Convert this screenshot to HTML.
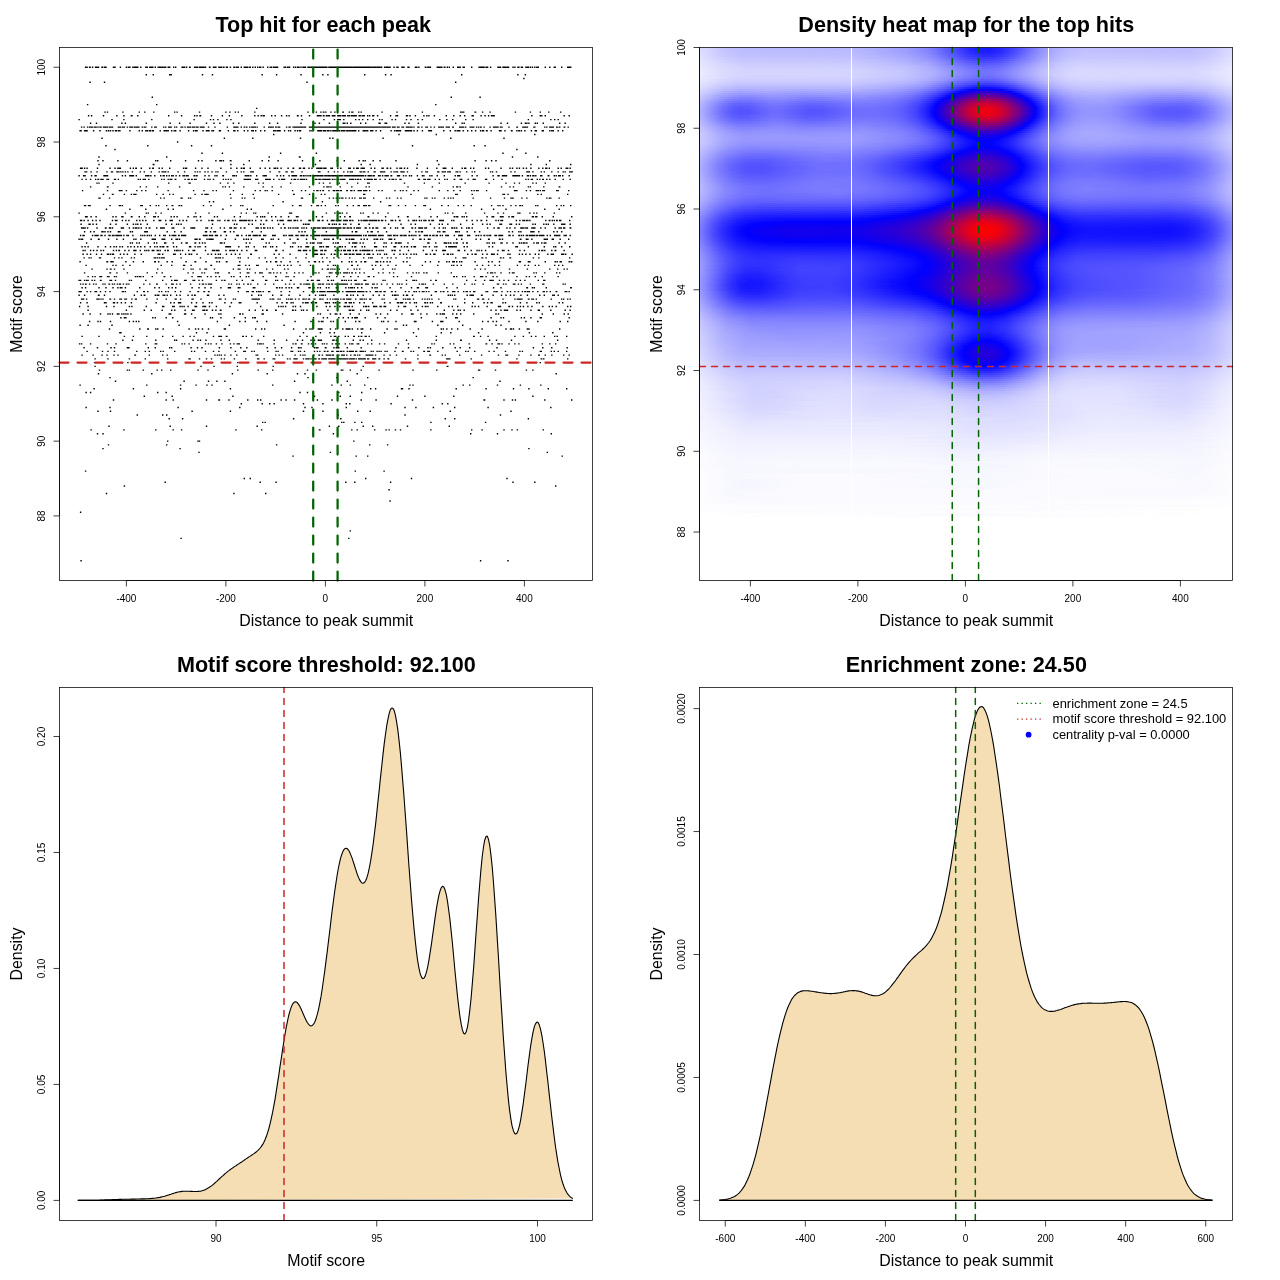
<!DOCTYPE html>
<html><head><meta charset="utf-8"><title>Motif enrichment</title><style>html,body{margin:0;padding:0;background:#fff}svg{display:block}</style></head><body><svg width="1280" height="1280" viewBox="0 0 1280 1280" font-family="'Liberation Sans', Arial, Helvetica, sans-serif" fill="#000"><rect width="1280" height="1280" fill="#fff"/><path d="M84.9 67.2h1.4m0.1 0h1.4m1.1 0h1.4m-0.9 0h1.4m1.1 0h1.4m1.6 0h1.4m-0.5 0h1.4m0.1 0h1.4m-0.9 0h1.4m2.1 0h1.4m-0.9 0h1.4m0.6 0h1.4m-0.9 0h1.4m-0.4 0h1.4m6.1 0h1.4m0.1 0h1.4m4 0h1.4m4.6 0h1.4m0.6 0h1.4m0.1 0h1.4m1.6 0h1.4m0.1 0h1.4m-0.9 0h1.4m-0.9 0h1.4m-0 0h1.4m-0.4 0h1.4m1.6 0h1.4m3.6 0h1.4m0.1 0h1.4m1.1 0h1.4m-0.4 0h1.4m-0.9 0h1.4m-0.4 0h1.4m-0.9 0h1.4m1.1 0h1.4m1.5 0h1.4m0.1 0h1.4m-0.9 0h1.4m-0.4 0h1.4m0.1 0h1.4m0.1 0h1.4m0.1 0h1.4m1.1 0h1.4m-0.4 0h1.4m-0.9 0h1.4m2.6 0h1.4m0.6 0h1.4m5 0h1.4m-0.4 0h1.4m-0.9 0h1.4m-0.4 0h1.4m0.6 0h1.4m1.6 0h1.4m-0.9 0h1.4m3.1 0h1.4m0.1 0h1.4m-0 0h1.4m0.6 0h1.4m-0.4 0h1.4m-0.9 0h1.4m-0.9 0h1.4m-0.4 0h1.4m-0.9 0h1.4m-0.4 0h1.4m0.1 0h1.4m2.6 0h1.4m-0.9 0h1.4m2.1 0h1.4m0.1 0h1.4m-0.5 0h1.4m1.6 0h1.4m-0.9 0h1.4m0.1 0h1.4m-0.9 0h1.4m0.6 0h1.4m-0.9 0h1.4m1.1 0h1.4m-0.9 0h1.4m-0.9 0h1.4m1.6 0h1.4m2.1 0h1.4m-0.9 0h1.4m0.5 0h1.4m0.1 0h1.4m-0.9 0h1.4m1.6 0h1.4m1.6 0h1.4m-0.9 0h1.4m-0.9 0h1.4m-0.4 0h1.4m-0.9 0h1.4m-0.4 0h1.4m0.6 0h1.4m-0.9 0h1.4m1.1 0h1.4m1.1 0h1.4m1 0h1.4m0.6 0h1.4m-0.9 0h1.4m-0.9 0h1.4m1.1 0h1.4m3.1 0h1.4m1.1 0h1.4m0.1 0h1.4m0.6 0h1.4m-0.9 0h1.4m0.1 0h1.4m-0.5 0h1.4m-0.4 0h1.4m5.1 0h1.4m0.1 0h1.4m0.6 0h1.4m-0.9 0h1.4m0.1 0h1.4m2.6 0h1.4m0.5 0h1.4m0.6 0h1.4m-0.9 0h1.4m-0.4 0h1.4m0.6 0h1.4m0.6 0h1.4m-0.9 0h1.4m-0.9 0h1.4m-0.9 0h1.4m-0.4 0h1.4m1.1 0h1.4m-0.9 0h1.4m-0.9 0h1.4m-0.9 0h1.4m0.1 0h1.4m-0.9 0h1.4m-0.4 0h1.4m0.1 0h1.4m-0.4 0h1.4m-0.5 0h1.4m-0.4 0h1.4m-0.4 0h1.4m-0.9 0h1.4m-0.9 0h1.4m-0.9 0h1.4m-0.9 0h1.4m-0.9 0h1.4m-0.9 0h1.4m-0.9 0h1.4m-0.9 0h1.4m-0.9 0h1.4m-0.4 0h1.4m-0.9 0h1.4m-0.9 0h1.4m-0.9 0h1.4m-0.9 0h1.4m-0.9 0h1.4m-0.9 0h1.4m-0.9 0h1.4m0.6 0h1.4m-0.9 0h1.4m-0.9 0h1.4m-0.9 0h1.4m-0.9 0h1.4m-0.4 0h1.4m-0.9 0h1.4m-0.4 0h1.4m-0.4 0h1.4m-0.9 0h1.4m-1 0h1.4m-0.9 0h1.4m-0.9 0h1.4m-0.9 0h1.4m-0.9 0h1.4m-0.9 0h1.4m-0.9 0h1.4m-0.9 0h1.4m-0.9 0h1.4m-0.9 0h1.4m-0.4 0h1.4m-0.9 0h1.4m-0.4 0h1.4m-0.9 0h1.4m-0.9 0h1.4m-0.9 0h1.4m-0.9 0h1.4m-0.4 0h1.4m-0.9 0h1.4m-0.9 0h1.4m-0.9 0h1.4m-0.9 0h1.4m-0.9 0h1.4m-0.9 0h1.4m-0.9 0h1.4m-0.9 0h1.4m-0.9 0h1.4m-0.4 0h1.4m-0.9 0h1.4m0.1 0h1.4m-0.9 0h1.4m-0.9 0h1.4m-0.4 0h1.4m-0.9 0h1.4m-1 0h1.4m-0.9 0h1.4m-0.4 0h1.4m-0.9 0h1.4m-0.4 0h1.4m-0.9 0h1.4m-0.4 0h1.4m-0.9 0h1.4m-0.9 0h1.4m-0.9 0h1.4m-0.9 0h1.4m-0.9 0h1.4m-0.9 0h1.4m-0.9 0h1.4m-0.9 0h1.4m-0.9 0h1.4m-0.9 0h1.4m-0.9 0h1.4m-0.9 0h1.4m-0.9 0h1.4m-0.4 0h1.4m-0.4 0h1.4m-0.4 0h1.4m-0.4 0h1.4m0.1 0h1.4m-0.9 0h1.4m0.1 0h1.4m-0.9 0h1.4m-1 0h1.4m-0.4 0h1.4m0.1 0h1.4m-0.9 0h1.4m-0.4 0h1.4m-0.9 0h1.4m-0.9 0h1.4m0.1 0h1.4m1.6 0h1.4m0.1 0h1.4m-0.9 0h1.4m-0.9 0h1.4m-0.9 0h1.4m-0.4 0h1.4m0.1 0h1.4m2.6 0h1.4m1.5 0h1.4m-0.4 0h1.4m2.6 0h1.4m-0.9 0h1.4m0.1 0h1.4m2.6 0h1.4m-0.9 0h1.4m-0.9 0h1.4m5 0h1.4m-0.4 0h1.4m-0.9 0h1.4m0.6 0h1.4m5.1 0h1.4m-0.9 0h1.4m0.6 0h1.4m-0.9 0h1.4m-0.9 0h1.4m0.1 0h1.4m5.5 0h1.4m-0.4 0h1.4m-0.4 0h1.4m0.1 0h1.4m-0.4 0h1.4m1.1 0h1.4m-0.9 0h1.4m1.1 0h1.4m0.6 0h1.4m2.6 0h1.4m3 0h1.4m-0.9 0h1.4m-0.9 0h1.4m0.1 0h1.4m1.6 0h1.4m-0.4 0h1.4m6.1 0h1.4m6 0h1.4m0.1 0h1.4m-0.9 0h1.4m-0.4 0h1.4m-0.4 0h1.4m-0.4 0h1.4m0.6 0h1.4m-0.9 0h1.4m-0.4 0h1.4m1.6 0h1.4m6 0h1.4m-0.4 0h1.4m0.1 0h1.4m1.1 0h1.4m-0.4 0h1.4m-0.4 0h1.4m-0.4 0h1.4m0.1 0h1.4m-0.4 0h1.4m3.1 0h1.4m0.5 0h1.4m1.6 0h1.4m-0.4 0h1.4m1.1 0h1.4m-0.4 0h1.4m2.1 0h1.4m0.1 0h1.4m-0.4 0h1.4m0.6 0h1.4m0.6 0h1.4m1 0h1.4m0.6 0h1.4m0.1 0h1.4m5.6 0h1.4m3.1 0h1.4m3.1 0h1.4m-0.5 0h1.4m5.1 0h1.4m4.6 0h1.4m-0.9 0h1.4m-0.4 0h1.4m-0.9 0h1.4m-0.4 0h1.4M145.6 74.7h1.4m5.6 0h1.4m15 0h1.4m0.1 0h1.4m29.9 0h1.4m8.6 0h1.4m48.3 0h1.4m13 0h1.4m23 0h1.4m20.5 0h1.4m3.6 0h1.4m35.4 0h1.4m19.5 0h1.4m4.1 0h1.4m69.2 0h1.4m54.8 0h1.4m6.1 0h1.4M523.2 78.5h1.4M89.4 82.2h1.4m13 0h1.4m201.1 0h1.4m147.3 0h1.4M151.6 97.2h1.4m297.6 0h1.4m27.4 0h1.4M86.9 104.6h1.4m67.7 0h1.4m277.7 0h1.4M256 108.4h1.4M104.3 112.1h1.4m1.1 0h1.4m14 0h1.4m15 0h1.4m4.1 0h1.4m7.6 0h1.4m19.5 0h1.4m1 0h1.4m21 0h1.4m25 0h1.4m2.6 0h1.4m4.1 0h1.4m1.5 0h1.4m15.1 0h1.4m51.8 0h1.4m7 0h1.4m3.1 0h1.4m1.1 0h1.4m-0.9 0h1.4m0.6 0h1.4m3.6 0h1.4m2.6 0h1.4m6.5 0h1.4m-0.9 0h1.4m4.6 0h1.4m1.1 0h1.4m-0.4 0h1.4m4.5 0h1.4m1.1 0h1.4m19.5 0h1.4m13.5 0h1.4m24 0h1.4m36.9 0h1.4m0.1 0h1.4m0.1 0h1.4m10 0h1.4m-0.9 0h1.4m5.6 0h1.4m6.1 0h1.4m23.9 0h1.4m13.6 0h1.4m8.5 0h1.4m7.1 0h1.4m10.5 0h1.4M87.9 115.8h1.4m1.6 0h1.4m10.5 0h1.4m12 0h1.4m5.6 0h1.4m6.1 0h1.4m-0.9 0h1.4m4.5 0h1.4m29.5 0h1.4m11.5 0h1.4m11.6 0h1.4m1 0h1.4m1.6 0h1.4m-0.9 0h1.4m9.6 0h1.4m9.5 0h1.4m5.6 0h1.4m11 0h1.4m11.6 0h1.4m2 0h1.4m1.6 0h1.4m0.6 0h1.4m-0.4 0h1.4m6.1 0h1.4m2.1 0h1.4m5 0h1.4m3.6 0h1.4m1.1 0h1.4m7 0h1.4m-0.9 0h1.4m2.1 0h1.4m6.6 0h1.4m6.5 0h1.4m-0.9 0h1.4m-0.4 0h1.4m0.1 0h1.4m-0.9 0h1.4m1.1 0h1.4m-0.9 0h1.4m1.1 0h1.4m-0.9 0h1.4m0.1 0h1.4m-0.4 0h1.4m1.6 0h1.4m-0.9 0h1.4m-0.4 0h1.4m-0.9 0h1.4m-0.9 0h1.4m1.5 0h1.4m-0.9 0h1.4m-0.4 0h1.4m-0.4 0h1.4m-0.9 0h1.4m0.6 0h1.4m-0.4 0h1.4m-0.9 0h1.4m-0.4 0h1.4m1.1 0h1.4m0.1 0h1.4m0.6 0h1.4m-0.9 0h1.4m-0.4 0h1.4m0.1 0h1.4m-0.4 0h1.4m-0.5 0h1.4m1.6 0h1.4m-0.4 0h1.4m0.6 0h1.4m0.1 0h1.4m-0.9 0h1.4m2.1 0h1.4m0.6 0h1.4m1.6 0h1.4m-0.4 0h1.4m2.5 0h1.4m11.6 0h1.4m4 0h1.4m0.1 0h1.4m7.6 0h1.4m-0.4 0h1.4m1.1 0h1.4m4 0h1.4m7.1 0h1.4m1.6 0h1.4m0.6 0h1.4m4.1 0h1.4m10.5 0h1.4m6.1 0h1.4m5 0h1.4m3.1 0h1.4m6.1 0h1.4m-0.4 0h1.4m6.5 0h1.4m2.6 0h1.4m2.1 0h1.4m1.6 0h1.4m0.1 0h1.4m-0.4 0h1.4m36.4 0h1.4m7 0h1.4m0.1 0h1.4m2.1 0h1.4m17.5 0h1.4m3.6 0h1.4M78.4 119.6h1.4m31.5 0h1.4m10.5 0h1.4m26.5 0h1.4m40.9 0h1.4m15 0h1.4m1.6 0h1.4m3 0h1.4m7.6 0h1.4m2.6 0h1.4m69.7 0h1.4m20.5 0h1.4m9.1 0h1.4m2 0h1.4m-0.4 0h1.4m-0.4 0h1.4m-0.9 0h1.4m2.1 0h1.4m10.5 0h1.4m2.1 0h1.4m2.1 0h1.4m3.6 0h1.4m4.1 0h1.4m5 0h1.4m1.1 0h1.4m8.6 0h1.4m2 0h1.4m9.6 0h1.4m3.1 0h1.4m5.5 0h1.4m3.1 0h1.4m16 0h1.4m5.6 0h1.4m4.6 0h1.4m11.5 0h1.4m6.1 0h1.4m53.8 0h1.4m21 0h1.4m2.5 0h1.4m2.1 0h1.4M89.9 123.3h1.4m4.5 0h1.4m24 0h1.4m2.1 0h1.4m19.5 0h1.4m22.5 0h1.4m8 0h1.4m9.1 0h1.4m15 0h1.4m6.1 0h1.4m4.5 0h1.4m12.1 0h1.4m4 0h1.4m14.6 0h1.4m13.5 0h1.4m6.5 0h1.4m22 0h1.4m12.6 0h1.4m3 0h1.4m8.6 0h1.4m12.5 0h1.4m0.1 0h1.4m1.1 0h1.4m2.1 0h1.4m8.5 0h1.4m3.6 0h1.4m12 0h1.4m-0.4 0h1.4m3.6 0h1.4m0.1 0h1.4m17 0h1.4m2.6 0h1.4m8 0h1.4m35.9 0h1.4m5.1 0h1.4m0.6 0h1.4m35.4 0h1.4m5.1 0h1.4m12.5 0h1.4m2.6 0h1.4m0.1 0h1.4m0.6 0h1.4m5 0h1.4m0.6 0h1.4m4.6 0h1.4m15 0h1.4m4.1 0h1.4M80.9 127.1h1.4m1.1 0h1.4m2.1 0h1.4m0.6 0h1.4m0.1 0h1.4m-0.9 0h1.4m-0.4 0h1.4m0.6 0h1.4m-0.9 0h1.4m-0.9 0h1.4m-0.9 0h1.4m0.5 0h1.4m0.6 0h1.4m-0.4 0h1.4m1.1 0h1.4m-0.9 0h1.4m-0.4 0h1.4m-0.4 0h1.4m0.1 0h1.4m0.6 0h1.4m0.1 0h1.4m0.1 0h1.4m4.5 0h1.4m0.1 0h1.4m-0.9 0h1.4m0.6 0h1.4m0.1 0h1.4m-0.9 0h1.4m1.6 0h1.4m1.1 0h1.4m-0.9 0h1.4m-0.4 0h1.4m-0.4 0h1.4m0.6 0h1.4m0.1 0h1.4m-0 0h1.4m-0.9 0h1.4m-0.4 0h1.4m2.1 0h1.4m0.6 0h1.4m0.1 0h1.4m4.6 0h1.4m1.6 0h1.4m-0.9 0h1.4m-0.9 0h1.4m-1 0h1.4m6.1 0h1.4m0.6 0h1.4m1.6 0h1.4m-0.4 0h1.4m-0.9 0h1.4m-0.9 0h1.4m-0.9 0h1.4m2.1 0h1.4m0.5 0h1.4m3.1 0h1.4m0.1 0h1.4m1.1 0h1.4m1.1 0h1.4m-0.9 0h1.4m-0.9 0h1.4m0.1 0h1.4m-0.9 0h1.4m0.6 0h1.4m-0.9 0h1.4m0.1 0h1.4m0.5 0h1.4m-0.9 0h1.4m-0.4 0h1.4m1.1 0h1.4m-0.9 0h1.4m-0.4 0h1.4m-0.9 0h1.4m-0.9 0h1.4m-0.9 0h1.4m-0.9 0h1.4m3.1 0h1.4m5.1 0h1.4m11 0h1.4m5.1 0h1.4m-0.4 0h1.4m-0 0h1.4m-0.4 0h1.4m-0.9 0h1.4m2.1 0h1.4m1.6 0h1.4m0.6 0h1.4m-0.9 0h1.4m1.6 0h1.4m0.6 0h1.4m-0.4 0h1.4m-0.9 0h1.4m0.1 0h1.4m-0.9 0h1.4m0.5 0h1.4m5.6 0h1.4m3.1 0h1.4m-0.9 0h1.4m0.1 0h1.4m-0.9 0h1.4m-0.9 0h1.4m0.1 0h1.4m1.1 0h1.4m-1 0h1.4m0.6 0h1.4m-0.9 0h1.4m-0.9 0h1.4m-0.9 0h1.4m5.6 0h1.4m1.1 0h1.4m-0.4 0h1.4m1.6 0h1.4m0.1 0h1.4m-0.9 0h1.4m-0.5 0h1.4m-0.9 0h1.4m-0.9 0h1.4m-0.9 0h1.4m-0.9 0h1.4m-0.4 0h1.4m-0.9 0h1.4m-0.4 0h1.4m-0.9 0h1.4m-0.9 0h1.4m-0.9 0h1.4m-0.9 0h1.4m-0.9 0h1.4m0.1 0h1.4m-0.4 0h1.4m2.6 0h1.4m-0.4 0h1.4m-0.4 0h1.4m-0.4 0h1.4m-0.9 0h1.4m-0.9 0h1.4m-0.9 0h1.4m-0.4 0h1.4m-0.5 0h1.4m-0.9 0h1.4m-0.4 0h1.4m-0.9 0h1.4m-0.9 0h1.4m-0.4 0h1.4m-0.9 0h1.4m-0.9 0h1.4m-0.4 0h1.4m-0.9 0h1.4m-0.9 0h1.4m-0.9 0h1.4m-0.9 0h1.4m-0.9 0h1.4m-0.9 0h1.4m-0.9 0h1.4m-0.9 0h1.4m-0.9 0h1.4m-0.9 0h1.4m-0.9 0h1.4m-0.9 0h1.4m-0.9 0h1.4m-0.9 0h1.4m-0.9 0h1.4m-0.4 0h1.4m-0.9 0h1.4m-0.9 0h1.4m-0.9 0h1.4m-0.9 0h1.4m-0.9 0h1.4m-0.9 0h1.4m-0.9 0h1.4m-0.9 0h1.4m-0.4 0h1.4m0 0h1.4m-0.9 0h1.4m-0.9 0h1.4m-0.9 0h1.4m-0.9 0h1.4m-0.9 0h1.4m-0.9 0h1.4m-0.9 0h1.4m-0.9 0h1.4m-0.9 0h1.4m-0.9 0h1.4m-0.9 0h1.4m-0.9 0h1.4m-0.9 0h1.4m-0.9 0h1.4m-0.9 0h1.4m-0.9 0h1.4m-0.9 0h1.4m-0.9 0h1.4m-0.9 0h1.4m-0.9 0h1.4m-0.9 0h1.4m-0.9 0h1.4m-0.9 0h1.4m-0.9 0h1.4m-0.9 0h1.4m-0.9 0h1.4m-0.9 0h1.4m-0.4 0h1.4m-0.9 0h1.4m-0.9 0h1.4m-0.9 0h1.4m-0.9 0h1.4m-0.9 0h1.4m-0.9 0h1.4m-0.9 0h1.4m-0.9 0h1.4m-0.5 0h1.4m-0.9 0h1.4m-0.9 0h1.4m-0.9 0h1.4m-0.9 0h1.4m-0.9 0h1.4m-0.9 0h1.4m-0.9 0h1.4m-0.9 0h1.4m-0.9 0h1.4m-0.9 0h1.4m-0.9 0h1.4m-0.4 0h1.4m-0.9 0h1.4m-0.9 0h1.4m-0.4 0h1.4m-0.9 0h1.4m-0.9 0h1.4m-0.9 0h1.4m-0.9 0h1.4m-0.9 0h1.4m-0.9 0h1.4m-0.9 0h1.4m-0.9 0h1.4m-0.9 0h1.4m-0.9 0h1.4m-0.4 0h1.4m-0.9 0h1.4m-0.9 0h1.4m-0.4 0h1.4m-0.9 0h1.4m-0.4 0h1.4m-0.9 0h1.4m-0.9 0h1.4m-1 0h1.4m-0.9 0h1.4m-0.9 0h1.4m-0.9 0h1.4m-0.4 0h1.4m-0.9 0h1.4m0.1 0h1.4m0.1 0h1.4m0.1 0h1.4m-0.9 0h1.4m-0.4 0h1.4m-0.4 0h1.4m-0.9 0h1.4m-0.9 0h1.4m0.1 0h1.4m-0.4 0h1.4m-0.4 0h1.4m-0.9 0h1.4m1.1 0h1.4m-0.9 0h1.4m-0.9 0h1.4m-0.9 0h1.4m-0.9 0h1.4m-1 0h1.4m1.1 0h1.4m0.1 0h1.4m1.6 0h1.4m0.1 0h1.4m1.6 0h1.4m-0.9 0h1.4m-0.4 0h1.4m-0.4 0h1.4m0.1 0h1.4m-0.4 0h1.4m-0.9 0h1.4m0.6 0h1.4m2.5 0h1.4m-0.4 0h1.4m1.6 0h1.4m2.6 0h1.4m0.1 0h1.4m2.1 0h1.4m2.1 0h1.4m3 0h1.4m-0.4 0h1.4m0.1 0h1.4m-0.9 0h1.4m0.1 0h1.4m1.6 0h1.4m0.1 0h1.4m-0.9 0h1.4m-0.4 0h1.4m2.1 0h1.4m-0.9 0h1.4m5 0h1.4m-0.9 0h1.4m-0.9 0h1.4m-0.9 0h1.4m-0.9 0h1.4m-0.4 0h1.4m-0.4 0h1.4m0.6 0h1.4m3.1 0h1.4m-0.9 0h1.4m0.1 0h1.4m-0.9 0h1.4m-0.4 0h1.4m1.5 0h1.4m0.6 0h1.4m0.6 0h1.4m-0.9 0h1.4m1.6 0h1.4m4.6 0h1.4m2.1 0h1.4m-0.5 0h1.4m-0.4 0h1.4m-0.4 0h1.4m-0.9 0h1.4m-0.9 0h1.4m-0.9 0h1.4m1.1 0h1.4m0.1 0h1.4m5.6 0h1.4m6.5 0h1.4m-0.9 0h1.4m4.1 0h1.4m-0.4 0h1.4m-0.9 0h1.4m-0.9 0h1.4m-0.4 0h1.4m0.1 0h1.4m5.1 0h1.4m-0.5 0h1.4m8.6 0h1.4m0.6 0h1.4m1.6 0h1.4m-0.4 0h1.4m-0.4 0h1.4m-0.9 0h1.4m-0.4 0h1.4m2 0h1.4m-0.9 0h1.4m0.6 0h1.4m-0.9 0h1.4m3.1 0h1.4m-0.9 0h1.4m2.1 0h1.4M79.4 130.8h1.4m-0.4 0h1.4m2.1 0h1.4m-0.9 0h1.4m-0.4 0h1.4m-0.9 0h1.4m-0.9 0h1.4m5.1 0h1.4m5 0h1.4m5.1 0h1.4m0.6 0h1.4m0.6 0h1.4m1.1 0h1.4m1.1 0h1.4m-0.5 0h1.4m0.6 0h1.4m0.1 0h1.4m8.6 0h1.4m8 0h1.4m1.6 0h1.4m2.1 0h1.4m0.1 0h1.4m0.6 0h1.4m-0.4 0h1.4m0.6 0h1.4m-0.4 0h1.4m5.5 0h1.4m2.6 0h1.4m-0.4 0h1.4m0.1 0h1.4m0.1 0h1.4m2.1 0h1.4m1.1 0h1.4m0.1 0h1.4m3 0h1.4m7.1 0h1.4m3.6 0h1.4m0.6 0h1.4m-0 0h1.4m4.6 0h1.4m2.1 0h1.4m0.1 0h1.4m-0.4 0h1.4m1.6 0h1.4m0.1 0h1.4m4.5 0h1.4m-0.4 0h1.4m6.6 0h1.4m4.1 0h1.4m-0.4 0h1.4m1.5 0h1.4m5.1 0h1.4m2.1 0h1.4m2.6 0h1.4m0.1 0h1.4m1 0h1.4m3.6 0h1.4m2.6 0h1.4m7.6 0h1.4m0.1 0h1.4m0.5 0h1.4m-0.4 0h1.4m-0.4 0h1.4m-0.9 0h1.4m-0.9 0h1.4m3.1 0h1.4m2.6 0h1.4m0.6 0h1.4m3.1 0h1.4m1 0h1.4m0.6 0h1.4m-0.4 0h1.4m8.1 0h1.4m0.6 0h1.4m4.5 0h1.4m-0.4 0h1.4m-0.4 0h1.4m-0.4 0h1.4m-0.9 0h1.4m0.6 0h1.4m-0.4 0h1.4m-0.9 0h1.4m-0.9 0h1.4m0.6 0h1.4m-0.4 0h1.4m-0.9 0h1.4m0.6 0h1.4m0.6 0h1.4m-0.4 0h1.4m-0.9 0h1.4m-0.9 0h1.4m0 0h1.4m-0.9 0h1.4m-0.9 0h1.4m0.1 0h1.4m-0.9 0h1.4m0.6 0h1.4m0.1 0h1.4m-0.9 0h1.4m-0.9 0h1.4m-0.4 0h1.4m0.6 0h1.4m-0.9 0h1.4m0.1 0h1.4m0.1 0h1.4m0.1 0h1.4m-0.9 0h1.4m-0.4 0h1.4m-0.9 0h1.4m-0.4 0h1.4m-0.5 0h1.4m1.6 0h1.4m3.1 0h1.4m-0.9 0h1.4m-0.4 0h1.4m0.1 0h1.4m0.1 0h1.4m1.6 0h1.4m-0.9 0h1.4m0.1 0h1.4m2 0h1.4m3.1 0h1.4m9.1 0h1.4m2.1 0h1.4m0.5 0h1.4m-0.4 0h1.4m0.1 0h1.4m0.1 0h1.4m3.6 0h1.4m-0.4 0h1.4m-0.9 0h1.4m-0.4 0h1.4m-0.9 0h1.4m0.1 0h1.4m-0.9 0h1.4m-0.4 0h1.4m1.1 0h1.4m2 0h1.4m3.6 0h1.4m5.1 0h1.4m-0.4 0h1.4m0.1 0h1.4m11 0h1.4m5.1 0h1.4m3.5 0h1.4m0.6 0h1.4m0.1 0h1.4m-0.4 0h1.4m2.1 0h1.4m3.1 0h1.4m2.6 0h1.4m2.5 0h1.4m3.6 0h1.4m0.6 0h1.4m-0.4 0h1.4m1.6 0h1.4m-0.9 0h1.4m2.6 0h1.4m7 0h1.4m-0.4 0h1.4m-0.9 0h1.4m2.6 0h1.4m5.1 0h1.4m-0.9 0h1.4m3.5 0h1.4m0.6 0h1.4m-0.9 0h1.4m0.6 0h1.4m2.1 0h1.4m5.1 0h1.4m2.5 0h1.4m-0.9 0h1.4m-0.9 0h1.4m4.6 0h1.4m-0.9 0h1.4m-0.9 0h1.4m5.1 0h1.4m0.6 0h1.4m0.1 0h1.4m3.5 0h1.4m3.1 0h1.4M273 134.5h1.4m123.9 0h1.4m35.9 0h1.4m97.1 0h1.4M101.3 138.3h1.4m121 0h1.4m27 0h1.4m46.3 0h1.4m28 0h1.4m1.6 0h1.4m48.8 0h1.4m66.3 0h1.4m51.8 0h1.4M176.9 142h1.4M105.3 145.8h1.4m40.4 0h1.4m42.4 0h1.4m18.5 0h1.4m199.6 0h1.4m60.3 0h1.4m9.5 0h1.4M114.3 149.5h1.4m400.5 0h1.4M201.3 153.2h1.4m19 0h1.4m56.8 0h1.4m34.4 0h1.4m185.2 0h1.4m21.5 0h1.4M98.3 157h1.4m66.3 0h1.4m101.1 0h1.4m28.9 0h1.4m-0.9 0h1.4m211.1 0h1.4m23.9 0h1.4M97.3 160.7h1.4m3.6 0h1.4m13.5 0h1.4m8.1 0h1.4m27 0h1.4m0.5 0h1.4m11.6 0h1.4m13.5 0h1.4m11.5 0h1.4m2.1 0h1.4m12.5 0h1.4m2.6 0h1.4m0.1 0h1.4m0.6 0h1.4m5.6 0h1.4m-0.9 0h1.4m17 0h1.4m11.5 0h1.4m5.1 0h1.4m8 0h1.4m23 0h1.4m16 0h1.4m16 0h1.4m5.6 0h1.4m13.5 0h1.4m2.6 0h1.4m0.6 0h1.4m6.6 0h1.4m5.5 0h1.4m14.5 0h1.4m39.9 0h1.4m36.4 0h1.4m9.6 0h1.4m4.1 0h1.4m3 0h1.4m52.4 0h1.4M98.3 164.5h1.4m52.9 0h1.4m-0.9 0h1.4m75.7 0h1.4m11.5 0h1.4m70.3 0h1.4m44.3 0h1.4m7.6 0h1.4m45.8 0h1.4m20 0h1.4m90.7 0h1.4m14 0h1.4m23 0h1.4M79.9 168.2h1.4m-0.9 0h1.4m-0.4 0h1.4m1.1 0h1.4m1.1 0h1.4m9 0h1.4m11.1 0h1.4m3.6 0h1.4m1.5 0h1.4m0.1 0h1.4m-0.4 0h1.4m8.6 0h1.4m1.6 0h1.4m1.1 0h1.4m-1 0h1.4m3.6 0h1.4m7.1 0h1.4m1.6 0h1.4m-0.9 0h1.4m4.5 0h1.4m1.6 0h1.4m6.1 0h1.4m12.5 0h1.4m0.6 0h1.4m-0.4 0h1.4m7.6 0h1.4m5 0h1.4m4.6 0h1.4m11.5 0h1.4m8.6 0h1.4m4.5 0h1.4m3.1 0h1.4m0.6 0h1.4m-0.4 0h1.4m4.6 0h1.4m8.5 0h1.4m3.6 0h1.4m3.1 0h1.4m3.1 0h1.4m0.1 0h1.4m0.5 0h1.4m2.1 0h1.4m5.6 0h1.4m3.6 0h1.4m-0.9 0h1.4m4.5 0h1.4m-0.4 0h1.4m1.6 0h1.4m-0.4 0h1.4m3.1 0h1.4m1.6 0h1.4m3.5 0h1.4m0.1 0h1.4m0.1 0h1.4m-0.4 0h1.4m-0.4 0h1.4m0.6 0h1.4m-0.4 0h1.4m-0.4 0h1.4m3.6 0h1.4m0.1 0h1.4m4 0h1.4m1.6 0h1.4m6.6 0h1.4m0.1 0h1.4m2.1 0h1.4m1.5 0h1.4m-0.9 0h1.4m-0.4 0h1.4m1.6 0h1.4m0.1 0h1.4m-0.9 0h1.4m-0.9 0h1.4m-0.9 0h1.4m5.6 0h1.4m2.1 0h1.4m6 0h1.4m-0.4 0h1.4m2.6 0h1.4m-0.9 0h1.4m1.6 0h1.4m5 0h1.4m1.6 0h1.4m0.1 0h1.4m1.6 0h1.4m1.6 0h1.4m8 0h1.4m9.1 0h1.4m8 0h1.4m5.1 0h1.4m-0.4 0h1.4m0.1 0h1.4m5.1 0h1.4m8.5 0h1.4m1.1 0h1.4m-0.4 0h1.4m3.6 0h1.4m1.6 0h1.4m10.5 0h1.4m1.6 0h1.4m11 0h1.4m7.6 0h1.4m1.1 0h1.4m3 0h1.4m1.1 0h1.4m2.6 0h1.4m1.6 0h1.4m3.1 0h1.4m6.5 0h1.4m2.6 0h1.4m1.6 0h1.4m-0.4 0h1.4m1.1 0h1.4m7.5 0h1.4m1.6 0h1.4m3.6 0h1.4m0.1 0h1.4m1.1 0h1.4M84.4 171.9h1.4m0.1 0h1.4m3.1 0h1.4m4.5 0h1.4m8.6 0h1.4m3.1 0h1.4m-0.4 0h1.4m3 0h1.4m-0.9 0h1.4m0.1 0h1.4m0.6 0h1.4m0.6 0h1.4m1.1 0h1.4m1.1 0h1.4m3.1 0h1.4m6.5 0h1.4m2.6 0h1.4m5.6 0h1.4m6.5 0h1.4m1.6 0h1.4m-0.9 0h1.4m0.1 0h1.4m0.1 0h1.4m1.1 0h1.4m8.5 0h1.4m5.1 0h1.4m9.1 0h1.4m1 0h1.4m1.1 0h1.4m3.6 0h1.4m1.6 0h1.4m2.6 0h1.4m2.5 0h1.4m0.6 0h1.4m7.1 0h1.4m9.5 0h1.4m2.6 0h1.4m1.1 0h1.4m5.6 0h1.4m0.1 0h1.4m-0.4 0h1.4m15.5 0h1.4m7.5 0h1.4m-0.9 0h1.4m5.1 0h1.4m-0.4 0h1.4m3.1 0h1.4m0.1 0h1.4m7.5 0h1.4m15 0h1.4m-0.4 0h1.4m-0.9 0h1.4m7.1 0h1.4m4.6 0h1.4m2 0h1.4m4.6 0h1.4m2.6 0h1.4m1.1 0h1.4m-0.9 0h1.4m0.1 0h1.4m6.5 0h1.4m-0.4 0h1.4m0.6 0h1.4m0.1 0h1.4m2.1 0h1.4m4.6 0h1.4m-0.5 0h1.4m4.1 0h1.4m-0.9 0h1.4m-0.9 0h1.4m0.1 0h1.4m0.1 0h1.4m5.1 0h1.4m1.6 0h1.4m0.5 0h1.4m0.1 0h1.4m2.1 0h1.4m-0.4 0h1.4m-0.4 0h1.4m-0.4 0h1.4m2.1 0h1.4m13 0h1.4m2.6 0h1.4m0.1 0h1.4m9 0h1.4m-0.4 0h1.4m2.1 0h1.4m0.1 0h1.4m0.1 0h1.4m1.1 0h1.4m0.1 0h1.4m-0.4 0h1.4m4.5 0h1.4m0.1 0h1.4m1.1 0h1.4m5.1 0h1.4m4.1 0h1.4m1.1 0h1.4m14.5 0h1.4m0.6 0h1.4m2.5 0h1.4m13.1 0h1.4m2.5 0h1.4m10.6 0h1.4m-0.4 0h1.4m-0.9 0h1.4m-0.4 0h1.4m2.1 0h1.4m7 0h1.4m1.6 0h1.4m6.1 0h1.4m5 0h1.4m3.6 0h1.4m0.6 0h1.4m3.1 0h1.4m0.1 0h1.4m-0.4 0h1.4M78.4 175.7h1.4m3.1 0h1.4m0.1 0h1.4m5.1 0h1.4m2.1 0h1.4m-0.4 0h1.4m6.5 0h1.4m-0.4 0h1.4m-0.4 0h1.4m0.1 0h1.4m13.5 0h1.4m1.6 0h1.4m3.1 0h1.4m-0.9 0h1.4m-0.9 0h1.4m-0.9 0h1.4m-0.4 0h1.4m-0.4 0h1.4m1.5 0h1.4m8.1 0h1.4m0.1 0h1.4m-0.9 0h1.4m-0.4 0h1.4m0.6 0h1.4m2.6 0h1.4m4.5 0h1.4m1.1 0h1.4m-0.4 0h1.4m1.1 0h1.4m1.1 0h1.4m1.1 0h1.4m0.1 0h1.4m1.5 0h1.4m2.1 0h1.4m2.1 0h1.4m0.1 0h1.4m0.6 0h1.4m0.1 0h1.4m4.6 0h1.4m-0.9 0h1.4m0.5 0h1.4m-0.9 0h1.4m6.6 0h1.4m2.6 0h1.4m4.6 0h1.4m0.5 0h1.4m4.6 0h1.4m-0.9 0h1.4m8.1 0h1.4m0.1 0h1.4m0.5 0h1.4m7.6 0h1.4m0.1 0h1.4m0.1 0h1.4m-0.9 0h1.4m0.6 0h1.4m4.5 0h1.4m5.1 0h1.4m0.1 0h1.4m-0.4 0h1.4m-0.9 0h1.4m9.5 0h1.4m2.1 0h1.4m1.6 0h1.4m4.1 0h1.4m1.6 0h1.4m-0.4 0h1.4m-0.4 0h1.4m-0.9 0h1.4m-0.9 0h1.4m0 0h1.4m2.6 0h1.4m-0.4 0h1.4m0.6 0h1.4m-0.9 0h1.4m0.6 0h1.4m0.6 0h1.4m0.6 0h1.4m-0.9 0h1.4m0.6 0h1.4m0.1 0h1.4m-0.9 0h1.4m0 0h1.4m0.1 0h1.4m-0.4 0h1.4m0.1 0h1.4m-0.4 0h1.4m-0.9 0h1.4m-0.9 0h1.4m-0.4 0h1.4m0.6 0h1.4m-0.9 0h1.4m0.1 0h1.4m0.1 0h1.4m-0.4 0h1.4m0.1 0h1.4m0.1 0h1.4m-0.4 0h1.4m-0.4 0h1.4m-0.9 0h1.4m-1 0h1.4m-0.9 0h1.4m-0.4 0h1.4m-0.9 0h1.4m-0.9 0h1.4m-0.9 0h1.4m-0.4 0h1.4m-0.9 0h1.4m-0.9 0h1.4m-0.9 0h1.4m-0.9 0h1.4m0.1 0h1.4m0.6 0h1.4m-0.4 0h1.4m-0.9 0h1.4m-0.9 0h1.4m-0.4 0h1.4m-0.4 0h1.4m-0.9 0h1.4m0.1 0h1.4m0.1 0h1.4m-0.4 0h1.4m-0.4 0h1.4m-0.4 0h1.4m-1 0h1.4m-0.9 0h1.4m-0.9 0h1.4m-0.9 0h1.4m-0.9 0h1.4m-0.4 0h1.4m-0.9 0h1.4m-0.9 0h1.4m-0.9 0h1.4m-0.9 0h1.4m-0.4 0h1.4m-0.9 0h1.4m-0.4 0h1.4m-0.9 0h1.4m0.6 0h1.4m1.1 0h1.4m-0.9 0h1.4m-0.4 0h1.4m-0.4 0h1.4m-0.9 0h1.4m0.6 0h1.4m-0.9 0h1.4m-0.9 0h1.4m3 0h1.4m0.1 0h1.4m1.1 0h1.4m1.1 0h1.4m0.1 0h1.4m0.1 0h1.4m1.6 0h1.4m-0.9 0h1.4m4.5 0h1.4m-0.4 0h1.4m-0.4 0h1.4m2.6 0h1.4m1.1 0h1.4m2.1 0h1.4m0.6 0h1.4m4.5 0h1.4m3.6 0h1.4m0.1 0h1.4m4.6 0h1.4m0.6 0h1.4m4 0h1.4m5.6 0h1.4m9.5 0h1.4m1.1 0h1.4m-0.4 0h1.4m-0.4 0h1.4m11.1 0h1.4m3.5 0h1.4m14.6 0h1.4m3.5 0h1.4m-0.4 0h1.4m2.1 0h1.4m-0.4 0h1.4m-0.4 0h1.4m-0.9 0h1.4m0.1 0h1.4m5.1 0h1.4m-0.9 0h1.4m-0.4 0h1.4m0 0h1.4m-0.4 0h1.4m-0.4 0h1.4m0.1 0h1.4m1.6 0h1.4m3.6 0h1.4m-0.4 0h1.4m0.6 0h1.4m1.1 0h1.4m-0.4 0h1.4m0.5 0h1.4m3.6 0h1.4m-0.4 0h1.4m5.1 0h1.4m-0.9 0h1.4m4.1 0h1.4m0.5 0h1.4m1.1 0h1.4m-0.9 0h1.4m-0.4 0h1.4m1.1 0h1.4m5.1 0h1.4M81.4 179.4h1.4m2.6 0h1.4m3.1 0h1.4m3.6 0h1.4m1 0h1.4m-0.9 0h1.4m1.1 0h1.4m-0.9 0h1.4m0.1 0h1.4m2.6 0h1.4m0.1 0h1.4m4.6 0h1.4m-0.4 0h1.4m1.5 0h1.4m18.5 0h1.4m0.6 0h1.4m1.6 0h1.4m-0.9 0h1.4m0.1 0h1.4m2.1 0h1.4m11.5 0h1.4m1.1 0h1.4m2.6 0h1.4m0.6 0h1.4m-0.9 0h1.4m-0.4 0h1.4m2.1 0h1.4m-0.9 0h1.4m8 0h1.4m1.6 0h1.4m-0.4 0h1.4m1.1 0h1.4m-0.9 0h1.4m1.1 0h1.4m0.1 0h1.4m7 0h1.4m2.1 0h1.4m0.6 0h1.4m2.1 0h1.4m8.5 0h1.4m1.1 0h1.4m1.1 0h1.4m1.1 0h1.4m12 0h1.4m-0.4 0h1.4m0.1 0h1.4m-0.4 0h1.4m-0.4 0h1.4m0.1 0h1.4m4 0h1.4m-0.9 0h1.4m0.1 0h1.4m6.6 0h1.4m-0.4 0h1.4m-0.4 0h1.4m0.1 0h1.4m-0.4 0h1.4m2.1 0h1.4m4 0h1.4m1.1 0h1.4m-0.4 0h1.4m-0.9 0h1.4m-0.4 0h1.4m-0.9 0h1.4m5.6 0h1.4m1.1 0h1.4m0 0h1.4m1.1 0h1.4m1.1 0h1.4m-0.4 0h1.4m0.1 0h1.4m0.1 0h1.4m0.6 0h1.4m7.6 0h1.4m0 0h1.4m0.6 0h1.4m-0.9 0h1.4m0.1 0h1.4m0.6 0h1.4m0.1 0h1.4m-0.4 0h1.4m0.1 0h1.4m-0.9 0h1.4m-0.9 0h1.4m-0.9 0h1.4m-0.9 0h1.4m-0.9 0h1.4m-0.9 0h1.4m1.1 0h1.4m-0.9 0h1.4m0.6 0h1.4m1 0h1.4m-0.9 0h1.4m-0.4 0h1.4m0.6 0h1.4m0.1 0h1.4m-0.4 0h1.4m-0.9 0h1.4m-0.4 0h1.4m3.6 0h1.4m0.1 0h1.4m-0.9 0h1.4m-0.4 0h1.4m-0.9 0h1.4m0.6 0h1.4m0.5 0h1.4m-0.9 0h1.4m-0.9 0h1.4m0.6 0h1.4m-0.9 0h1.4m2.6 0h1.4m1.1 0h1.4m-0.4 0h1.4m-0.4 0h1.4m-0.4 0h1.4m0.1 0h1.4m-0.9 0h1.4m1.1 0h1.4m0 0h1.4m2.6 0h1.4m3.6 0h1.4m3.1 0h1.4m1.1 0h1.4m0.1 0h1.4m1 0h1.4m2.6 0h1.4m-0.4 0h1.4m16 0h1.4m-0.4 0h1.4m3.1 0h1.4m0.1 0h1.4m1.1 0h1.4m0.1 0h1.4m-0.9 0h1.4m4 0h1.4m2.6 0h1.4m4.1 0h1.4m1.1 0h1.4m5.6 0h1.4m-1 0h1.4m4.1 0h1.4m0.1 0h1.4m5.1 0h1.4m3.6 0h1.4m-0.9 0h1.4m0 0h1.4m9.1 0h1.4m-0.4 0h1.4m5.6 0h1.4m7 0h1.4m22.5 0h1.4m1.1 0h1.4m1.6 0h1.4m-0.4 0h1.4m3.5 0h1.4m1.1 0h1.4m1.6 0h1.4m-0.9 0h1.4m2.1 0h1.4m1.6 0h1.4m4 0h1.4m6.6 0h1.4m5.6 0h1.4M96.3 183.1h1.4m0.6 0h1.4m12.6 0h1.4m54.3 0h1.4m19 0h1.4m-0.4 0h1.4m28.9 0h1.4m6.1 0h1.4m4.6 0h1.4m23.4 0h1.4m3.1 0h1.4m26 0h1.4m27.4 0h1.4m2.6 0h1.4m5.1 0h1.4m8 0h1.4m6.6 0h1.4m9 0h1.4m8.6 0h1.4m0.1 0h1.4m33.9 0h1.4m18.5 0h1.4m13.5 0h1.4m24.5 0h1.4m22.5 0h1.4m15.5 0h1.4m7.1 0h1.4m3.5 0h1.4m12.1 0h1.4m2 0h1.4m7.6 0h1.4M89.9 186.9h1.4m15.5 0h1.4m-0.9 0h1.4m30.9 0h1.4m4.6 0h1.4m10 0h1.4m20.5 0h1.4m41.9 0h1.4m1.1 0h1.4m2.6 0h1.4m13 0h1.4m18 0h1.4m7.6 0h1.4m7.5 0h1.4m27 0h1.4m13 0h1.4m1.6 0h1.4m-0.9 0h1.4m0.1 0h1.4m0.6 0h1.4m8 0h1.4m10.1 0h1.4m13 0h1.4m1.6 0h1.4m37.4 0h1.4m23 0h1.4m19.5 0h1.4m2 0h1.4m-0.4 0h1.4m1.1 0h1.4m39.9 0h1.4m7.1 0h1.4m2.1 0h1.4m13.5 0h1.4m0.6 0h1.4m12 0h1.4m14 0h1.4m-0.9 0h1.4M81.9 190.6h1.4m23.5 0h1.4m10.5 0h1.4m0.1 0h1.4m-0.4 0h1.4m3.1 0h1.4m9 0h1.4m3.6 0h1.4m2.6 0h1.4m21 0h1.4m24 0h1.4m9 0h1.4m7.6 0h1.4m2 0h1.4m15.6 0h1.4m20.5 0h1.4m3.5 0h1.4m3.6 0h1.4m0.6 0h1.4m3.6 0h1.4m19 0h1.4m7.5 0h1.4m2.6 0h1.4m7.1 0h1.4m1.5 0h1.4m-0.4 0h1.4m1.1 0h1.4m1.1 0h1.4m-0.9 0h1.4m4.1 0h1.4m3.1 0h1.4m-0.4 0h1.4m0.5 0h1.4m-0.4 0h1.4m-0.9 0h1.4m-0.9 0h1.4m-0.9 0h1.4m0.6 0h1.4m-0.9 0h1.4m4.1 0h1.4m-0.9 0h1.4m2.1 0h1.4m-0.4 0h1.4m1.1 0h1.4m2.5 0h1.4m-0.9 0h1.4m0.1 0h1.4m-0.4 0h1.4m1.1 0h1.4m-0.4 0h1.4m-0.9 0h1.4m-0.4 0h1.4m-0.9 0h1.4m1.6 0h1.4m7.5 0h1.4m2.1 0h1.4m11.5 0h1.4m4.1 0h1.4m1.1 0h1.4m2.1 0h1.4m6.1 0h1.4m3 0h1.4m19.5 0h1.4m7.1 0h1.4m4.6 0h1.4m5 0h1.4m10.1 0h1.4m1.1 0h1.4m1 0h1.4m0.1 0h1.4m7.1 0h1.4m26.5 0h1.4m0 0h1.4m-0.4 0h1.4m8.1 0h1.4m2.6 0h1.4m4.5 0h1.4m-0.9 0h1.4m0.1 0h1.4m0.6 0h1.4m1.1 0h1.4m0.1 0h1.4m11 0h1.4m0.1 0h1.4m9.1 0h1.4M102.8 194.4h1.4m7.6 0h1.4m-0.9 0h1.4m10 0h1.4m5.6 0h1.4m1.1 0h1.4m0.1 0h1.4m-0.9 0h1.4m19.4 0h1.4m5.1 0h1.4m5.1 0h1.4m2.1 0h1.4m20.5 0h1.4m5.5 0h1.4m1.6 0h1.4m0.1 0h1.4m0.1 0h1.4m21 0h1.4m10.5 0h1.4m9.6 0h1.4m23.9 0h1.4m13.6 0h1.4m-0.9 0h1.4m14 0h1.4m10.5 0h1.4m2.1 0h1.4m37.4 0h1.4m-0.4 0h1.4m44.9 0h1.4m43.3 0h1.4m0.1 0h1.4m13.6 0h1.4m29.4 0h1.4m0.1 0h1.4m2.1 0h1.4m28.4 0h1.4m2.1 0h1.4m25 0h1.4M98.3 198.1h1.4m-0.4 0h1.4m8.1 0h1.4m49.8 0h1.4m2.1 0h1.4m15.5 0h1.4m-0.4 0h1.4m5.1 0h1.4m0.6 0h1.4m38.9 0h1.4m10 0h1.4m1.1 0h1.4m8.1 0h1.4m45.8 0h1.4m-0.4 0h1.4m12 0h1.4m12.1 0h1.4m2.6 0h1.4m1.5 0h1.4m2.1 0h1.4m0.6 0h1.4m-0.4 0h1.4m1.6 0h1.4m2.1 0h1.4m1.6 0h1.4m1.1 0h1.4m3.5 0h1.4m0.1 0h1.4m1.1 0h1.4m0.1 0h1.4m7.1 0h1.4m11.5 0h1.4m1.6 0h1.4m6.5 0h1.4m2.1 0h1.4m22.5 0h1.4m0.6 0h1.4m4.1 0h1.4m1.1 0h1.4m8 0h1.4m2.6 0h1.4m1.1 0h1.4m1.1 0h1.4m18.5 0h1.4m16 0h1.4m12.5 0h1.4m5.1 0h1.4m0.1 0h1.4m-0.9 0h1.4m7.5 0h1.4m3.6 0h1.4m18.5 0h1.4m1.1 0h1.4m0.1 0h1.4m7 0h1.4M208.8 201.8h1.4m2.6 0h1.4m68.2 0h1.4m37.9 0h1.4m56.8 0h1.4M83.9 205.6h1.4m-0.4 0h1.4m1.6 0h1.4m-0.4 0h1.4m-0.9 0h1.4m18.5 0h1.4m8 0h1.4m-0.9 0h1.4m-0.9 0h1.4m0.6 0h1.4m17 0h1.4m-0.9 0h1.4m-0.4 0h1.4m6.6 0h1.4m4.5 0h1.4m1.1 0h1.4m6.6 0h1.4m4.1 0h1.4m-0.9 0h1.4m5 0h1.4m-0.9 0h1.4m0.6 0h1.4m20.5 0h1.4m6.1 0h1.4m18.5 0h1.4m8.5 0h1.4m0.6 0h1.4m29 0h1.4m18 0h1.4m5.5 0h1.4m0.1 0h1.4m9.1 0h1.4m4 0h1.4m0.1 0h1.4m1.6 0h1.4m2.6 0h1.4m9 0h1.4m1.1 0h1.4m7.6 0h1.4m4.6 0h1.4m3.5 0h1.4m-0.4 0h1.4m3.1 0h1.4m-0.4 0h1.4m0.1 0h1.4m1.1 0h1.4m-0.4 0h1.4m18 0h1.4m0.1 0h1.4m6.5 0h1.4m5.6 0h1.4m8.5 0h1.4m7.1 0h1.4m0.1 0h1.4m15 0h1.4m5.1 0h1.4m8.5 0h1.4m4.1 0h1.4m6.1 0h1.4m19 0h1.4m5 0h1.4m0.6 0h1.4m1.6 0h1.4m6.6 0h1.4m3.5 0h1.4m2.6 0h1.4m-0.9 0h1.4m0.6 0h1.4m12 0h1.4m0.6 0h1.4m17.5 0h1.4m3.1 0h1.4m1.1 0h1.4m5.6 0h1.4M105.8 209.3h1.4m22 0h1.4m14.5 0h1.4m21 0h1.4m3.6 0h1.4m48.3 0h1.4m23 0h1.4m2.6 0h1.4m177.7 0h1.4m49.8 0h1.4m10.6 0h1.4m11 0h1.4m37.4 0h1.4m13 0h1.4M78.4 213.1h1.4m44.9 0h1.4m19.5 0h1.4m0.6 0h1.4m6.1 0h1.4m4 0h1.4m33 0h1.4m12 0h1.4m30.9 0h1.4m3.6 0h1.4m6.1 0h1.4m0.5 0h1.4m11.1 0h1.4m20 0h1.4m-0.9 0h1.4m-0.9 0h1.4m-0.4 0h1.4m33.4 0h1.4m7.1 0h1.4m2.5 0h1.4m-0.9 0h1.4m-0.4 0h1.4m0.6 0h1.4m3.1 0h1.4m12.5 0h1.4m1.1 0h1.4m8.6 0h1.4m3.5 0h1.4m8.6 0h1.4m55.8 0h1.4m1.1 0h1.4m3.6 0h1.4m11.5 0h1.4m17.5 0h1.4m12 0h1.4m4.1 0h1.4m13 0h1.4m0.1 0h1.4m-0.9 0h1.4m8.6 0h1.4m2.6 0h1.4m1.5 0h1.4m16.1 0h1.4M84.9 216.8h1.4m-0.9 0h1.4m-0.4 0h1.4m2.6 0h1.4m3.6 0h1.4m15.5 0h1.4m1.6 0h1.4m4.5 0h1.4m-0.4 0h1.4m7.1 0h1.4m-0.9 0h1.4m6 0h1.4m4.1 0h1.4m7.6 0h1.4m0.1 0h1.4m1.5 0h1.4m11.6 0h1.4m1.6 0h1.4m1.5 0h1.4m9.6 0h1.4m4.6 0h1.4m0.6 0h1.4m3 0h1.4m12.6 0h1.4m1.5 0h1.4m15.6 0h1.4m4.5 0h1.4m15.5 0h1.4m2.1 0h1.4m0.6 0h1.4m0.6 0h1.4m5.6 0h1.4m2.6 0h1.4m4 0h1.4m6.1 0h1.4m6.5 0h1.4m0.1 0h1.4m17 0h1.4m4.6 0h1.4m16.5 0h1.4m3.1 0h1.4m3.6 0h1.4m-0.9 0h1.4m16.5 0h1.4m-0.9 0h1.4m15.5 0h1.4m11.5 0h1.4m7.6 0h1.4m-0.9 0h1.4m10 0h1.4m10.1 0h1.4m5 0h1.4m15.6 0h1.4m0.5 0h1.4m0.1 0h1.4m3.1 0h1.4m0.6 0h1.4m1.1 0h1.4m19 0h1.4m3.6 0h1.4m0.1 0h1.4m5.5 0h1.4m0.1 0h1.4m-0.4 0h1.4m4.6 0h1.4m1.6 0h1.4m-0.4 0h1.4m-0.9 0h1.4m17.5 0h1.4m-0.4 0h1.4m1 0h1.4m-0.4 0h1.4m4.1 0h1.4m9.6 0h1.4m17 0h1.4M79.9 220.5h1.4m-0.4 0h1.4m1.1 0h1.4m2.6 0h1.4m3.1 0h1.4m2.1 0h1.4m2.5 0h1.4m11.1 0h1.4m1.6 0h1.4m-0 0h1.4m4.1 0h1.4m2.1 0h1.4m1.6 0h1.4m6.5 0h1.4m1.6 0h1.4m1.6 0h1.4m1.6 0h1.4m6.6 0h1.4m4 0h1.4m-0.9 0h1.4m-0.9 0h1.4m-0.9 0h1.4m3.6 0h1.4m3.1 0h1.4m-0.4 0h1.4m-0.9 0h1.4m-0.9 0h1.4m6 0h1.4m2.1 0h1.4m2.1 0h1.4m9 0h1.4m2.6 0h1.4m6.6 0h1.4m1.1 0h1.4m-0.9 0h1.4m-0.4 0h1.4m3.5 0h1.4m0.6 0h1.4m3.6 0h1.4m1.6 0h1.4m-0.9 0h1.4m-0.9 0h1.4m2.6 0h1.4m1.1 0h1.4m3 0h1.4m-0.4 0h1.4m-0.9 0h1.4m0.1 0h1.4m0.1 0h1.4m-0.4 0h1.4m-0.4 0h1.4m0.6 0h1.4m0.1 0h1.4m1.1 0h1.4m2 0h1.4m4.1 0h1.4m3.6 0h1.4m-0.9 0h1.4m4.1 0h1.4m4 0h1.4m1.1 0h1.4m-0.9 0h1.4m0.1 0h1.4m-0.4 0h1.4m3.6 0h1.4m-0.9 0h1.4m-0.4 0h1.4m0.1 0h1.4m1.6 0h1.4m0 0h1.4m0.6 0h1.4m2.1 0h1.4m6.6 0h1.4m-0.9 0h1.4m-0.4 0h1.4m6 0h1.4m0.1 0h1.4m1.6 0h1.4m-0.9 0h1.4m3.1 0h1.4m2.6 0h1.4m-0.4 0h1.4m-0.9 0h1.4m-0.4 0h1.4m1 0h1.4m-0.9 0h1.4m-0.9 0h1.4m-0.9 0h1.4m-0.9 0h1.4m-0.9 0h1.4m-0.4 0h1.4m-0.4 0h1.4m1.6 0h1.4m0.1 0h1.4m0.1 0h1.4m-0.9 0h1.4m1.1 0h1.4m-0.4 0h1.4m0.6 0h1.4m4.5 0h1.4m1.1 0h1.4m0.6 0h1.4m0.1 0h1.4m-0.9 0h1.4m-0.4 0h1.4m-0.4 0h1.4m0.6 0h1.4m0.1 0h1.4m0.1 0h1.4m-0.9 0h1.4m0.1 0h1.4m0 0h1.4m-0.4 0h1.4m0.6 0h1.4m-0.9 0h1.4m1.1 0h1.4m-0.9 0h1.4m-0.9 0h1.4m1.6 0h1.4m4.1 0h1.4m0.1 0h1.4m1.5 0h1.4m2.6 0h1.4m-0.9 0h1.4m7.1 0h1.4m3.1 0h1.4m0.1 0h1.4m0.5 0h1.4m1.6 0h1.4m0.6 0h1.4m1.1 0h1.4m0.1 0h1.4m-0.9 0h1.4m1.6 0h1.4m-0.9 0h1.4m1.1 0h1.4m0.1 0h1.4m5 0h1.4m-0.9 0h1.4m0.1 0h1.4m-0.4 0h1.4m-0.9 0h1.4m7.1 0h1.4m0.6 0h1.4m11.5 0h1.4m4.1 0h1.4m3.5 0h1.4m2.6 0h1.4m-0.9 0h1.4m3.6 0h1.4m8 0h1.4m1.1 0h1.4m1.1 0h1.4m0.1 0h1.4m12.5 0h1.4m2.1 0h1.4m1.6 0h1.4m0.1 0h1.4m0.6 0h1.4m0.1 0h1.4m0.6 0h1.4m14.5 0h1.4m2.1 0h1.4m-0.9 0h1.4m1.1 0h1.4m0.6 0h1.4m1 0h1.4m-0.9 0h1.4m1.1 0h1.4m-0.9 0h1.4m-0.9 0h1.4m7.6 0h1.4M80.4 224.3h1.4m6.6 0h1.4m-0.4 0h1.4m1.6 0h1.4m2 0h1.4m12.6 0h1.4m4.1 0h1.4m10 0h1.4m4.6 0h1.4m1.1 0h1.4m0.5 0h1.4m1.6 0h1.4m5.1 0h1.4m17.5 0h1.4m4.1 0h1.4m3.5 0h1.4m0.6 0h1.4m1.1 0h1.4m30 0h1.4m20.5 0h1.4m1 0h1.4m10.6 0h1.4m2.1 0h1.4m7 0h1.4m1.6 0h1.4m13.5 0h1.4m3.6 0h1.4m18.5 0h1.4m0.6 0h1.4m-0.9 0h1.4m0.6 0h1.4m-0.9 0h1.4m-0.9 0h1.4m18.5 0h1.4m-0.9 0h1.4m1.6 0h1.4m0.6 0h1.4m0.5 0h1.4m1.6 0h1.4m-0.9 0h1.4m2.6 0h1.4m0.6 0h1.4m3.6 0h1.4m6.5 0h1.4m-0.9 0h1.4m8.6 0h1.4m18 0h1.4m11 0h1.4m8.6 0h1.4m3 0h1.4m13.6 0h1.4m7.5 0h1.4m1.6 0h1.4m4.1 0h1.4m11.5 0h1.4m10.6 0h1.4m8.5 0h1.4m3.1 0h1.4m1.6 0h1.4m8.5 0h1.4m0.1 0h1.4m7.1 0h1.4m0.1 0h1.4m3.5 0h1.4m1.6 0h1.4m12.1 0h1.4m1 0h1.4m7.1 0h1.4m1.1 0h1.4m0.6 0h1.4m4.1 0h1.4m6.5 0h1.4m0.1 0h1.4m0.1 0h1.4m4.1 0h1.4M80.9 228h1.4m-0.9 0h1.4m0.1 0h1.4m0.1 0h1.4m1.1 0h1.4m8 0h1.4m7.1 0h1.4m-0.9 0h1.4m2.1 0h1.4m-0.4 0h1.4m0.6 0h1.4m7.5 0h1.4m0.1 0h1.4m-0.9 0h1.4m4.6 0h1.4m2.6 0h1.4m0.6 0h1.4m-0 0h1.4m0.6 0h1.4m1.1 0h1.4m3.6 0h1.4m1.6 0h1.4m-0.9 0h1.4m5.5 0h1.4m2.6 0h1.4m0.1 0h1.4m-0.9 0h1.4m0.1 0h1.4m6.6 0h1.4m0.1 0h1.4m9 0h1.4m5.6 0h1.4m0.1 0h1.4m-0.4 0h1.4m-0.4 0h1.4m10 0h1.4m0.1 0h1.4m2.6 0h1.4m7.5 0h1.4m2.6 0h1.4m4.1 0h1.4m-0.9 0h1.4m-0.4 0h1.4m1.6 0h1.4m0.1 0h1.4m3.5 0h1.4m2.1 0h1.4m-0.9 0h1.4m10 0h1.4m-0.9 0h1.4m0.1 0h1.4m1.6 0h1.4m1.1 0h1.4m-0.4 0h1.4m1.6 0h1.4m1.1 0h1.4m1.1 0h1.4m7 0h1.4m2.1 0h1.4m-0.9 0h1.4m2.1 0h1.4m0.6 0h1.4m1.1 0h1.4m0.6 0h1.4m0.5 0h1.4m-0.9 0h1.4m-0.9 0h1.4m2.6 0h1.4m0.6 0h1.4m1.1 0h1.4m3.6 0h1.4m0.6 0h1.4m-0.4 0h1.4m-0.4 0h1.4m0.5 0h1.4m0.1 0h1.4m-0.4 0h1.4m1.1 0h1.4m-0.9 0h1.4m-0.4 0h1.4m0.1 0h1.4m-0.9 0h1.4m0.6 0h1.4m0.6 0h1.4m0.1 0h1.4m0.1 0h1.4m-0.9 0h1.4m0.1 0h1.4m-1 0h1.4m-0.9 0h1.4m-0.9 0h1.4m-0.9 0h1.4m0.1 0h1.4m-0.9 0h1.4m-0.9 0h1.4m-0.9 0h1.4m-0.4 0h1.4m1.1 0h1.4m-0.9 0h1.4m-0.4 0h1.4m1.1 0h1.4m0.1 0h1.4m0.6 0h1.4m-0.9 0h1.4m1.6 0h1.4m1 0h1.4m-0.9 0h1.4m0.1 0h1.4m0.1 0h1.4m3.6 0h1.4m-0.4 0h1.4m2.1 0h1.4m1.6 0h1.4m-0.9 0h1.4m1.5 0h1.4m-0.4 0h1.4m-0.9 0h1.4m5.1 0h1.4m-0.4 0h1.4m4.1 0h1.4m3.5 0h1.4m0.6 0h1.4m3.6 0h1.4m-0.4 0h1.4m7.1 0h1.4m-0.9 0h1.4m1.5 0h1.4m2.1 0h1.4m-0.4 0h1.4m-0.9 0h1.4m0.1 0h1.4m-0.9 0h1.4m1.1 0h1.4m0.1 0h1.4m6.6 0h1.4m3.5 0h1.4m2.6 0h1.4m0.6 0h1.4m5.1 0h1.4m-0.4 0h1.4m0.5 0h1.4m0.6 0h1.4m3.6 0h1.4m3.6 0h1.4m0.6 0h1.4m-0.9 0h1.4m1.6 0h1.4m14 0h1.4m5.1 0h1.4m2.5 0h1.4m-0.9 0h1.4m-0.9 0h1.4m6.6 0h1.4m1.6 0h1.4m3.5 0h1.4m4.6 0h1.4m-0.4 0h1.4m-0.9 0h1.4m0.1 0h1.4m0.6 0h1.4m0.1 0h1.4m3.1 0h1.4m0.1 0h1.4m0 0h1.4m4.6 0h1.4m3.1 0h1.4m8.5 0h1.4m2.6 0h1.4m-0.9 0h1.4m0.1 0h1.4m1.1 0h1.4m-0.4 0h1.4m4.1 0h1.4m-0.9 0h1.4M83.9 231.8h1.4m4.6 0h1.4m2.1 0h1.4m6.5 0h1.4m-0.4 0h1.4m0.6 0h1.4m1.6 0h1.4m1.1 0h1.4m6.5 0h1.4m0.1 0h1.4m9.1 0h1.4m0.6 0h1.4m11 0h1.4m-0.4 0h1.4m0.1 0h1.4m18.5 0h1.4m6.1 0h1.4m5 0h1.4m23 0h1.4m-0.4 0h1.4m2.6 0h1.4m2.1 0h1.4m0.1 0h1.4m7.5 0h1.4m-0.9 0h1.4m-0.9 0h1.4m3.6 0h1.4m2.1 0h1.4m17 0h1.4m7.5 0h1.4m36.4 0h1.4m1.6 0h1.4m1.6 0h1.4m8.6 0h1.4m10 0h1.4m10.5 0h1.4m12.6 0h1.4m2 0h1.4m-0.4 0h1.4m9.6 0h1.4m2.1 0h1.4m-0.4 0h1.4m4.5 0h1.4m7.1 0h1.4m21.5 0h1.4m5 0h1.4m1.6 0h1.4m1.1 0h1.4m-0.4 0h1.4m14 0h1.4m0.6 0h1.4m2.1 0h1.4m0.1 0h1.4m9.5 0h1.4m0.1 0h1.4m0.6 0h1.4m6.6 0h1.4m6.1 0h1.4m3.5 0h1.4m28 0h1.4m2.1 0h1.4m5 0h1.4m0.6 0h1.4m8.6 0h1.4m0.1 0h1.4m0.1 0h1.4m3.5 0h1.4m13.6 0h1.4m2 0h1.4m3.1 0h1.4M79.9 235.5h1.4m1.1 0h1.4m-0.4 0h1.4m7.1 0h1.4m1.1 0h1.4m-0.4 0h1.4m-0.5 0h1.4m-0.4 0h1.4m1.6 0h1.4m-0.4 0h1.4m1.6 0h1.4m2.6 0h1.4m-0.4 0h1.4m1.1 0h1.4m0.1 0h1.4m0.6 0h1.4m-1 0h1.4m-0.9 0h1.4m-0.4 0h1.4m-0.9 0h1.4m0.1 0h1.4m0.1 0h1.4m1.1 0h1.4m1.6 0h1.4m0.1 0h1.4m3.1 0h1.4m6.5 0h1.4m0.6 0h1.4m0.6 0h1.4m1.1 0h1.4m0.6 0h1.4m0.6 0h1.4m2.6 0h1.4m3 0h1.4m2.6 0h1.4m0.1 0h1.4m3.1 0h1.4m1.1 0h1.4m0.1 0h1.4m-0.4 0h1.4m-0.9 0h1.4m-0.9 0h1.4m1.5 0h1.4m-0.9 0h1.4m1.1 0h1.4m0.1 0h1.4m-0.4 0h1.4m-0.9 0h1.4m-0.4 0h1.4m16.5 0h1.4m0.1 0h1.4m-0.4 0h1.4m-0.9 0h1.4m-0.9 0h1.4m1.1 0h1.4m0.1 0h1.4m0.1 0h1.4m1.6 0h1.4m-0.5 0h1.4m-0.4 0h1.4m2.1 0h1.4m4.1 0h1.4m9 0h1.4m-0.9 0h1.4m-0.4 0h1.4m2.1 0h1.4m3.1 0h1.4m1.1 0h1.4m-0.9 0h1.4m-0.4 0h1.4m1.6 0h1.4m-0.4 0h1.4m-0 0h1.4m-0.9 0h1.4m-0.4 0h1.4m0.6 0h1.4m-0.9 0h1.4m-0.9 0h1.4m2.1 0h1.4m-0.9 0h1.4m0.1 0h1.4m5.6 0h1.4m0.1 0h1.4m-0.4 0h1.4m7 0h1.4m-0.9 0h1.4m0.6 0h1.4m1.6 0h1.4m-0.4 0h1.4m0.1 0h1.4m-0.4 0h1.4m2 0h1.4m-0.9 0h1.4m0.1 0h1.4m1.6 0h1.4m-0.9 0h1.4m-0.9 0h1.4m0.1 0h1.4m-0.9 0h1.4m1.1 0h1.4m-0.9 0h1.4m-0.9 0h1.4m2.1 0h1.4m1.1 0h1.4m-0.4 0h1.4m-0.9 0h1.4m-0.9 0h1.4m-1 0h1.4m-0.4 0h1.4m-0.9 0h1.4m-0.9 0h1.4m-0.9 0h1.4m-0.9 0h1.4m-0.9 0h1.4m0.6 0h1.4m-0.9 0h1.4m-0.9 0h1.4m-0.9 0h1.4m-0.9 0h1.4m-0.9 0h1.4m-0.9 0h1.4m-0.4 0h1.4m-0.9 0h1.4m-0.4 0h1.4m-0.9 0h1.4m-0.9 0h1.4m0.1 0h1.4m-0.9 0h1.4m-0.4 0h1.4m-0.9 0h1.4m-0.9 0h1.4m-0.9 0h1.4m-0.9 0h1.4m-0.9 0h1.4m-0.9 0h1.4m-0.9 0h1.4m-0.9 0h1.4m-1 0h1.4m-0.4 0h1.4m-0.9 0h1.4m-0.9 0h1.4m-0.9 0h1.4m-0.9 0h1.4m-0.9 0h1.4m-0.9 0h1.4m-0.9 0h1.4m-0.9 0h1.4m0.1 0h1.4m-0.9 0h1.4m-0.4 0h1.4m-0.9 0h1.4m-0.9 0h1.4m-0.9 0h1.4m-0.9 0h1.4m-0.9 0h1.4m-0.9 0h1.4m-0.4 0h1.4m-0.9 0h1.4m-0.9 0h1.4m-0.9 0h1.4m-0.9 0h1.4m-0.9 0h1.4m-0.9 0h1.4m-0.9 0h1.4m-0.9 0h1.4m-0.9 0h1.4m-0.9 0h1.4m-0.9 0h1.4m-0.9 0h1.4m-0.9 0h1.4m-0.9 0h1.4m-0.9 0h1.4m-0.5 0h1.4m-0.9 0h1.4m-0.9 0h1.4m-0.9 0h1.4m-0.4 0h1.4m-0.9 0h1.4m-0.9 0h1.4m-0.9 0h1.4m-0.4 0h1.4m-0.9 0h1.4m1.1 0h1.4m0.6 0h1.4m-0.9 0h1.4m1.1 0h1.4m0.1 0h1.4m-0.9 0h1.4m0.1 0h1.4m-0.9 0h1.4m-0.9 0h1.4m-0.9 0h1.4m-0.4 0h1.4m-0.5 0h1.4m-0.9 0h1.4m1.1 0h1.4m-0.9 0h1.4m-0.9 0h1.4m-0.4 0h1.4m-0.4 0h1.4m0.1 0h1.4m3.6 0h1.4m0.1 0h1.4m0.1 0h1.4m1.1 0h1.4m-0.9 0h1.4m-0.9 0h1.4m-1 0h1.4m0.6 0h1.4m-0.9 0h1.4m1.6 0h1.4m-0.4 0h1.4m-0.9 0h1.4m0.6 0h1.4m-0.9 0h1.4m-0.9 0h1.4m-0.4 0h1.4m1.6 0h1.4m-0.9 0h1.4m0.6 0h1.4m-0.9 0h1.4m0.6 0h1.4m0.5 0h1.4m2.1 0h1.4m-0.9 0h1.4m3.1 0h1.4m-0.9 0h1.4m0.1 0h1.4m-0.9 0h1.4m-0.9 0h1.4m1.1 0h1.4m-0.9 0h1.4m1.1 0h1.4m-0.4 0h1.4m1 0h1.4m-0.4 0h1.4m1.6 0h1.4m0.6 0h1.4m2.1 0h1.4m0.1 0h1.4m-0.4 0h1.4m4.6 0h1.4m3 0h1.4m-0.4 0h1.4m-0.4 0h1.4m-0.9 0h1.4m-0.4 0h1.4m4.1 0h1.4m-0.9 0h1.4m0.1 0h1.4m5 0h1.4m-0.9 0h1.4m0.6 0h1.4m1.1 0h1.4m1.6 0h1.4m-0.9 0h1.4m1.1 0h1.4m0.6 0h1.4m0.1 0h1.4m3 0h1.4m-0.4 0h1.4m-0.9 0h1.4m1.1 0h1.4m-0.9 0h1.4m-0.4 0h1.4m-0.4 0h1.4m-0.4 0h1.4m5.1 0h1.4m-0.4 0h1.4m1.6 0h1.4m4.5 0h1.4m-0.9 0h1.4m0.6 0h1.4m0.6 0h1.4m1.6 0h1.4m-0.9 0h1.4m-0.9 0h1.4m0.6 0h1.4m-0.4 0h1.4m-0.9 0h1.4m-0.4 0h1.4m-0.9 0h1.4m-0.4 0h1.4m0 0h1.4m0.6 0h1.4m-0.9 0h1.4m0.6 0h1.4m0.1 0h1.4m-0.4 0h1.4m-0.9 0h1.4m-0.4 0h1.4m-0.9 0h1.4m2.1 0h1.4m1.6 0h1.4m3 0h1.4m0.1 0h1.4m-0.9 0h1.4m-0.9 0h1.4m-0.4 0h1.4m0.1 0h1.4m3.1 0h1.4m0.1 0h1.4m-0.9 0h1.4m2.6 0h1.4M78.4 239.2h1.4m0.6 0h1.4m0.1 0h1.4m7.1 0h1.4m6 0h1.4m-0.9 0h1.4m8.1 0h1.4m7 0h1.4m5.1 0h1.4m9.1 0h1.4m0.6 0h1.4m3.5 0h1.4m10.1 0h1.4m-0.4 0h1.4m0.1 0h1.4m-0.9 0h1.4m5.5 0h1.4m-0.9 0h1.4m-0.9 0h1.4m0.1 0h1.4m5.6 0h1.4m3 0h1.4m0.1 0h1.4m0.6 0h1.4m14.1 0h1.4m-0.9 0h1.4m-0 0h1.4m1.1 0h1.4m-0.9 0h1.4m5.6 0h1.4m0.6 0h1.4m0.1 0h1.4m-0.4 0h1.4m0.1 0h1.4m11 0h1.4m8.6 0h1.4m7 0h1.4m1.1 0h1.4m0.6 0h1.4m1.6 0h1.4m9 0h1.4m0.1 0h1.4m6.6 0h1.4m0.6 0h1.4m4 0h1.4m10.1 0h1.4m6 0h1.4m-0.9 0h1.4m7.1 0h1.4m5.6 0h1.4m0.6 0h1.4m7.5 0h1.4m-0.9 0h1.4m0.6 0h1.4m0.6 0h1.4m2.6 0h1.4m-0.9 0h1.4m5.5 0h1.4m4.6 0h1.4m-0.9 0h1.4m1.1 0h1.4m0.6 0h1.4m-0.4 0h1.4m-0.9 0h1.4m-0.4 0h1.4m6 0h1.4m1.6 0h1.4m1.6 0h1.4m5.6 0h1.4m0.5 0h1.4m0.1 0h1.4m1.6 0h1.4m0.6 0h1.4m5.1 0h1.4m0.1 0h1.4m-0.4 0h1.4m1.6 0h1.4m17 0h1.4m5.5 0h1.4m-0.4 0h1.4m2.1 0h1.4m2.6 0h1.4m0.1 0h1.4m25.4 0h1.4m3.6 0h1.4m13 0h1.4m3.1 0h1.4m6.6 0h1.4m-0.9 0h1.4m9 0h1.4m-0.9 0h1.4m1.1 0h1.4m16.5 0h1.4m-0.9 0h1.4m4.1 0h1.4m0.1 0h1.4m2.6 0h1.4m11 0h1.4m-0.4 0h1.4m-0.9 0h1.4m0.1 0h1.4m3.6 0h1.4m-0.4 0h1.4m5.5 0h1.4m7.1 0h1.4M85.9 243h1.4m42.4 0h1.4m0.6 0h1.4m3 0h1.4m1.1 0h1.4m7.6 0h1.4m4.6 0h1.4m1 0h1.4m6.6 0h1.4m-0.4 0h1.4m6.1 0h1.4m7 0h1.4m3.1 0h1.4m-0.4 0h1.4m6.6 0h1.4m-0.9 0h1.4m2.5 0h1.4m1.6 0h1.4m1.1 0h1.4m14 0h1.4m0.1 0h1.4m1.1 0h1.4m20.5 0h1.4m2.1 0h1.4m15 0h1.4m1.6 0h1.4m14 0h1.4m7.1 0h1.4m0.6 0h1.4m10.5 0h1.4m2.1 0h1.4m0.6 0h1.4m-0.9 0h1.4m-0.4 0h1.4m2.5 0h1.4m0.6 0h1.4m0.1 0h1.4m10.6 0h1.4m1 0h1.4m0.6 0h1.4m-0.9 0h1.4m9.6 0h1.4m2.1 0h1.4m0.1 0h1.4m-0.4 0h1.4m-0.5 0h1.4m-0.9 0h1.4m2.1 0h1.4m1.6 0h1.4m10.1 0h1.4m8 0h1.4m0.6 0h1.4m4.1 0h1.4m2.5 0h1.4m-0.4 0h1.4m0.6 0h1.4m-0.9 0h1.4m-0.9 0h1.4m0.1 0h1.4m5.6 0h1.4m18.5 0h1.4m-0.4 0h1.4m5.5 0h1.4m7.1 0h1.4m-0.4 0h1.4m-0.4 0h1.4m0.6 0h1.4m0.6 0h1.4m-0.9 0h1.4m1.6 0h1.4m1 0h1.4m-0.4 0h1.4m4.6 0h1.4m2.1 0h1.4m-0.9 0h1.4m18.5 0h1.4m0.6 0h1.4m2.1 0h1.4m0.5 0h1.4m5.1 0h1.4m-0.4 0h1.4m3.6 0h1.4m4.6 0h1.4m5 0h1.4m0.6 0h1.4m0.6 0h1.4m0.1 0h1.4m0.6 0h1.4m5.6 0h1.4m1.5 0h1.4m0.1 0h1.4m2.1 0h1.4m1.1 0h1.4m0.1 0h1.4m12 0h1.4m4.6 0h1.4M81.4 246.7h1.4m1.6 0h1.4m1.6 0h1.4m8.5 0h1.4m6.1 0h1.4m3.6 0h1.4m2.1 0h1.4m1 0h1.4m2.1 0h1.4m1.1 0h1.4m4.1 0h1.4m1.6 0h1.4m2.1 0h1.4m2 0h1.4m1.6 0h1.4m2.6 0h1.4m4.1 0h1.4m3.1 0h1.4m1 0h1.4m1.6 0h1.4m0.6 0h1.4m0.1 0h1.4m2.1 0h1.4m-0.9 0h1.4m4.6 0h1.4m1.5 0h1.4m11.6 0h1.4m-0.4 0h1.4m3.1 0h1.4m1.5 0h1.4m0.6 0h1.4m4.1 0h1.4m19 0h1.4m-0.4 0h1.4m-0.4 0h1.4m-0.4 0h1.4m0.1 0h1.4m7 0h1.4m6.1 0h1.4m0.6 0h1.4m4.6 0h1.4m8 0h1.4m0.6 0h1.4m3.6 0h1.4m0.6 0h1.4m2.5 0h1.4m12.6 0h1.4m0.6 0h1.4m4.5 0h1.4m1.1 0h1.4m3.6 0h1.4m0.1 0h1.4m-0.4 0h1.4m3.6 0h1.4m5 0h1.4m0.1 0h1.4m0.6 0h1.4m1.6 0h1.4m-0.9 0h1.4m-0.4 0h1.4m-0.9 0h1.4m5.1 0h1.4m3 0h1.4m-0.4 0h1.4m0.6 0h1.4m1.6 0h1.4m5.6 0h1.4m1.1 0h1.4m-0.5 0h1.4m5.1 0h1.4m1.1 0h1.4m8.6 0h1.4m-0.5 0h1.4m-0.4 0h1.4m5.6 0h1.4m1.1 0h1.4m6.6 0h1.4m0 0h1.4m4.6 0h1.4m1.6 0h1.4m1.1 0h1.4m-0.9 0h1.4m2.6 0h1.4m1.1 0h1.4m0 0h1.4m7.1 0h1.4m0.6 0h1.4m2.1 0h1.4m4.1 0h1.4m0.5 0h1.4m8.1 0h1.4m1.1 0h1.4m0.1 0h1.4m-0.4 0h1.4m-0.9 0h1.4m-0.9 0h1.4m0.1 0h1.4m-0.5 0h1.4m0.1 0h1.4m6.6 0h1.4m1.6 0h1.4m20.5 0h1.4m2.1 0h1.4m21.9 0h1.4m0.1 0h1.4m9.6 0h1.4m14.5 0h1.4m8.1 0h1.4m0.5 0h1.4m4.6 0h1.4m6.6 0h1.4M82.4 250.5h1.4m0.6 0h1.4m4.1 0h1.4m1.6 0h1.4m2 0h1.4m2.6 0h1.4m1.1 0h1.4m8.6 0h1.4m1.5 0h1.4m1.1 0h1.4m-0.9 0h1.4m4.1 0h1.4m2.6 0h1.4m3.6 0h1.4m-0.4 0h1.4m-0.4 0h1.4m3 0h1.4m3.1 0h1.4m0.6 0h1.4m0.6 0h1.4m2.1 0h1.4m-0.9 0h1.4m-0.4 0h1.4m2 0h1.4m-0.4 0h1.4m0.6 0h1.4m3.6 0h1.4m1.1 0h1.4m-0.9 0h1.4m5.1 0h1.4m0.5 0h1.4m0.1 0h1.4m0.6 0h1.4m1.1 0h1.4m4.6 0h1.4m3.1 0h1.4m0.1 0h1.4m9.5 0h1.4m5.6 0h1.4m0.1 0h1.4m-0.9 0h1.4m0.5 0h1.4m-0.9 0h1.4m-0.4 0h1.4m-0.4 0h1.4m5.6 0h1.4m2.6 0h1.4m-0.4 0h1.4m0.6 0h1.4m0.1 0h1.4m1.5 0h1.4m3.1 0h1.4m3.6 0h1.4m7.1 0h1.4m-0.5 0h1.4m-0.9 0h1.4m17.6 0h1.4m-0.5 0h1.4m5.1 0h1.4m14 0h1.4m-0.9 0h1.4m0.1 0h1.4m1.6 0h1.4m0.1 0h1.4m0.1 0h1.4m2.1 0h1.4m2.6 0h1.4m0.1 0h1.4m0 0h1.4m2.6 0h1.4m0.1 0h1.4m1.1 0h1.4m-0.4 0h1.4m8 0h1.4m0.6 0h1.4m-0.4 0h1.4m-0.9 0h1.4m1.1 0h1.4m1.1 0h1.4m-0.4 0h1.4m-0.9 0h1.4m1.1 0h1.4m0.1 0h1.4m-0.4 0h1.4m1.6 0h1.4m1 0h1.4m-0.9 0h1.4m-0.9 0h1.4m2.1 0h1.4m0.6 0h1.4m-0.4 0h1.4m0.1 0h1.4m0.1 0h1.4m0.1 0h1.4m0.1 0h1.4m-0.9 0h1.4m1.1 0h1.4m3 0h1.4m1.1 0h1.4m0.6 0h1.4m0.6 0h1.4m7.6 0h1.4m-0.9 0h1.4m0.6 0h1.4m-1 0h1.4m3.6 0h1.4m7.1 0h1.4m13.5 0h1.4m7.6 0h1.4m2.5 0h1.4m5.1 0h1.4m-0.4 0h1.4m-0.9 0h1.4m-0.4 0h1.4m11.5 0h1.4m-0.4 0h1.4m4.1 0h1.4m5.1 0h1.4m4.5 0h1.4m0.6 0h1.4m1.1 0h1.4m2.6 0h1.4m11 0h1.4m3.1 0h1.4m0.1 0h1.4m3.1 0h1.4m10 0h1.4m3.1 0h1.4m13.5 0h1.4m1.1 0h1.4m-0.4 0h1.4m0.6 0h1.4m5.6 0h1.4m2 0h1.4m-0.9 0h1.4m7.1 0h1.4M82.4 254.2h1.4m2.6 0h1.4m2.1 0h1.4m4.5 0h1.4m3.6 0h1.4m4.6 0h1.4m-0.9 0h1.4m-0.9 0h1.4m0.6 0h1.4m0.6 0h1.4m-0.4 0h1.4m5.5 0h1.4m2.1 0h1.4m2.1 0h1.4m6.1 0h1.4m5 0h1.4m15.5 0h1.4m0.1 0h1.4m1.6 0h1.4m9.6 0h1.4m0.1 0h1.4m4 0h1.4m3.6 0h1.4m2.1 0h1.4m-0.9 0h1.4m0.6 0h1.4m4 0h1.4m9.6 0h1.4m2.1 0h1.4m2.6 0h1.4m1.5 0h1.4m0.6 0h1.4m4.6 0h1.4m3.6 0h1.4m2.6 0h1.4m3 0h1.4m9.6 0h1.4m-0.9 0h1.4m21.5 0h1.4m3.5 0h1.4m9.6 0h1.4m15 0h1.4m6.1 0h1.4m-0.4 0h1.4m-0.5 0h1.4m-0.4 0h1.4m-0.9 0h1.4m2.1 0h1.4m-0.9 0h1.4m-0.9 0h1.4m1.1 0h1.4m5.6 0h1.4m1.6 0h1.4m-0.9 0h1.4m4.5 0h1.4m2.6 0h1.4m0.1 0h1.4m-0.9 0h1.4m1.1 0h1.4m-0.4 0h1.4m0.6 0h1.4m0.1 0h1.4m1.5 0h1.4m-0.4 0h1.4m0.1 0h1.4m0.1 0h1.4m2.1 0h1.4m1.6 0h1.4m0.1 0h1.4m-0.9 0h1.4m-0.9 0h1.4m2.1 0h1.4m3 0h1.4m1.1 0h1.4m3.1 0h1.4m0.6 0h1.4m6.1 0h1.4m4.5 0h1.4m2.1 0h1.4m1.6 0h1.4m3.1 0h1.4m1.6 0h1.4m1 0h1.4m8.1 0h1.4m-0.4 0h1.4m2.1 0h1.4m2.1 0h1.4m-0.4 0h1.4m7.5 0h1.4m2.1 0h1.4m-0.4 0h1.4m1.1 0h1.4m0.6 0h1.4m13.5 0h1.4m3.1 0h1.4m1.5 0h1.4m-0.4 0h1.4m5.1 0h1.4m3.1 0h1.4m3.1 0h1.4m-0.9 0h1.4m-0.9 0h1.4m0.1 0h1.4m2 0h1.4m9.1 0h1.4m0.6 0h1.4m8 0h1.4m1.6 0h1.4m2.1 0h1.4m2.6 0h1.4m4 0h1.4m2.1 0h1.4m7.6 0h1.4m2.1 0h1.4m0.1 0h1.4m-0.9 0h1.4m7 0h1.4m-0.4 0h1.4m-0.4 0h1.4m0.6 0h1.4m5.1 0h1.4M83.4 257.9h1.4m3.6 0h1.4m0.6 0h1.4m7 0h1.4m-0.4 0h1.4m12.6 0h1.4m3 0h1.4m1.6 0h1.4m8.1 0h1.4m1.6 0h1.4m18.5 0h1.4m-0.4 0h1.4m0.5 0h1.4m-0.9 0h1.4m0.6 0h1.4m0.6 0h1.4m0.1 0h1.4m-0.4 0h1.4m15.5 0h1.4m18 0h1.4m13.6 0h1.4m-0 0h1.4m0.6 0h1.4m0.1 0h1.4m1.1 0h1.4m14 0h1.4m0.6 0h1.4m6.6 0h1.4m9.5 0h1.4m4.6 0h1.4m9.1 0h1.4m-1 0h1.4m5.6 0h1.4m11.5 0h1.4m8.6 0h1.4m15 0h1.4m3.1 0h1.4m5.6 0h1.4m3.5 0h1.4m9.6 0h1.4m12.5 0h1.4m3.6 0h1.4m0.6 0h1.4m0.1 0h1.4m8.5 0h1.4m4.1 0h1.4m2.1 0h1.4m3.5 0h1.4m9.6 0h1.4m1.6 0h1.4m44.3 0h1.4m6.1 0h1.4m-0.4 0h1.4m0.1 0h1.4m15 0h1.4m-0.9 0h1.4m2.1 0h1.4m13 0h1.4m-0.9 0h1.4m1.1 0h1.4m5.1 0h1.4m-0.9 0h1.4m21.5 0h1.4m4 0h1.4m29.5 0h1.4M79.4 261.7h1.4m25.5 0h1.4m-0.9 0h1.4m2.1 0h1.4m-0.9 0h1.4m0.1 0h1.4m11.5 0h1.4m6.1 0h1.4m8.5 0h1.4m10.1 0h1.4m-0.9 0h1.4m2 0h1.4m7.1 0h1.4m3.6 0h1.4m12.5 0h1.4m7.6 0h1.4m-0.9 0h1.4m9 0h1.4m9.5 0h1.4m1.1 0h1.4m5.6 0h1.4m-0.9 0h1.4m11.5 0h1.4m25.5 0h1.4m2.6 0h1.4m3.6 0h1.4m-0.5 0h1.4m3.1 0h1.4m7.6 0h1.4m6.5 0h1.4m9.6 0h1.4m4.1 0h1.4m-0.4 0h1.4m2.5 0h1.4m2.1 0h1.4m5.6 0h1.4m10.5 0h1.4m6.1 0h1.4m1.1 0h1.4m3 0h1.4m3.6 0h1.4m2.1 0h1.4m-0.4 0h1.4m9 0h1.4m0.1 0h1.4m1.6 0h1.4m1.6 0h1.4m2.1 0h1.4m1.6 0h1.4m12 0h1.4m2.1 0h1.4m17 0h1.4m3.6 0h1.4m7 0h1.4m6.6 0h1.4m1.1 0h1.4m2.1 0h1.4m-0.4 0h1.4m-0.9 0h1.4m1 0h1.4m1.6 0h1.4m0.6 0h1.4m12 0h1.4m12.1 0h1.4m2.1 0h1.4m6 0h1.4m18.5 0h1.4m-0.4 0h1.4m6.6 0h1.4m0.1 0h1.4m14 0h1.4m8.5 0h1.4m0.6 0h1.4m1.6 0h1.4m-0.4 0h1.4m6.6 0h1.4m0.6 0h1.4m-0.9 0h1.4M85.4 265.4h1.4m25.5 0h1.4m1.6 0h1.4m5.5 0h1.4m5.6 0h1.4m29.9 0h1.4m9.1 0h1.4m10.5 0h1.4m-0.4 0h1.4m5.1 0h1.4m18.5 0h1.4m-0.9 0h1.4m25.4 0h1.4m0.1 0h1.4m4.6 0h1.4m2.1 0h1.4m6 0h1.4m0.1 0h1.4m18 0h1.4m1.1 0h1.4m2.6 0h1.4m2.1 0h1.4m2.1 0h1.4m7.5 0h1.4m9.1 0h1.4m16 0h1.4m4.1 0h1.4m0.5 0h1.4m15.1 0h1.4m-0.9 0h1.4m4 0h1.4m13.1 0h1.4m2 0h1.4m3.6 0h1.4m6.1 0h1.4m6.5 0h1.4m12.6 0h1.4m11 0h1.4m14 0h1.4m12.6 0h1.4m0.6 0h1.4m2 0h1.4m2.6 0h1.4m14.5 0h1.4m4.1 0h1.4m4.6 0h1.4m5 0h1.4m3.1 0h1.4m16.5 0h1.4m6.1 0h1.4m2.1 0h1.4m5.5 0h1.4m2.1 0h1.4m14.5 0h1.4m2.6 0h1.4m2.6 0h1.4M91.4 269.1h1.4m13.5 0h1.4m2.1 0h1.4m-0.9 0h1.4m2.1 0h1.4m8 0h1.4m32.4 0h1.4m24.5 0h1.4m6.1 0h1.4m0.6 0h1.4m5.5 0h1.4m3.6 0h1.4m0.1 0h1.4m6.6 0h1.4m17.5 0h1.4m3.5 0h1.4m0.1 0h1.4m6.1 0h1.4m1.1 0h1.4m15.5 0h1.4m4.6 0h1.4m10.5 0h1.4m2.1 0h1.4m32.9 0h1.4m3.6 0h1.4m-0.4 0h1.4m1.1 0h1.4m0.6 0h1.4m0.6 0h1.4m3 0h1.4m7.1 0h1.4m5.1 0h1.4m1 0h1.4m1.6 0h1.4m11.6 0h1.4m-0.9 0h1.4m8.5 0h1.4m8.1 0h1.4m1 0h1.4m78.7 0h1.4m4.1 0h1.4m3.1 0h1.4m23 0h1.4m16.5 0h1.4m21 0h1.4m6.5 0h1.4m5.1 0h1.4m1.6 0h1.4M83.9 272.9h1.4m24 0h1.4m-0.9 0h1.4m5 0h1.4m9.1 0h1.4m18.5 0h1.4m8 0h1.4m4.1 0h1.4m24.5 0h1.4m3.6 0h1.4m7.5 0h1.4m1.1 0h1.4m9.6 0h1.4m0.5 0h1.4m-0.4 0h1.4m9.1 0h1.4m-0.9 0h1.4m9.5 0h1.4m5.6 0h1.4m-0.4 0h1.4m-0.9 0h1.4m5.1 0h1.4m3 0h1.4m-0.4 0h1.4m0.1 0h1.4m5.6 0h1.4m0.1 0h1.4m1.6 0h1.4m2 0h1.4m2.1 0h1.4m4.6 0h1.4m6.6 0h1.4m3 0h1.4m2.6 0h1.4m9.6 0h1.4m0.5 0h1.4m1.6 0h1.4m9.1 0h1.4m-0.4 0h1.4m0.1 0h1.4m2.5 0h1.4m-0.9 0h1.4m-0.9 0h1.4m0.1 0h1.4m0.6 0h1.4m2.1 0h1.4m-0.4 0h1.4m0.1 0h1.4m-0.4 0h1.4m0.6 0h1.4m1.1 0h1.4m-0.9 0h1.4m2 0h1.4m2.6 0h1.4m3.1 0h1.4m13 0h1.4m3.1 0h1.4m5.1 0h1.4m2.6 0h1.4m12.5 0h1.4m4.1 0h1.4m2 0h1.4m1.1 0h1.4m3.6 0h1.4m1.1 0h1.4m-0.9 0h1.4m10 0h1.4m11.6 0h1.4m34.9 0h1.4m1.6 0h1.4m-0.9 0h1.4m0.1 0h1.4m1 0h1.4m4.6 0h1.4m7.1 0h1.4m1.6 0h1.4m-0.9 0h1.4m-0.4 0h1.4m18.5 0h1.4m1 0h1.4m7.1 0h1.4m10.5 0h1.4m1.6 0h1.4M87.4 276.6h1.4m3.1 0h1.4m1.1 0h1.4m3.5 0h1.4m-0.9 0h1.4m-0.4 0h1.4m4.6 0h1.4m0.1 0h1.4m4.1 0h1.4m0.5 0h1.4m17.6 0h1.4m0.5 0h1.4m0.6 0h1.4m0.1 0h1.4m1.1 0h1.4m7.6 0h1.4m10.5 0h1.4m-0.9 0h1.4m4.6 0h1.4m20 0h1.4m4.5 0h1.4m0.1 0h1.4m0.1 0h1.4m5.1 0h1.4m2.1 0h1.4m3.5 0h1.4m2.1 0h1.4m10.6 0h1.4m1.1 0h1.4m5 0h1.4m4.6 0h1.4m1.1 0h1.4m13 0h1.4m11.1 0h1.4m-1 0h1.4m8.6 0h1.4m0.6 0h1.4m4.6 0h1.4m15.5 0h1.4m14.5 0h1.4m1.1 0h1.4m6 0h1.4m5.6 0h1.4m5.6 0h1.4m6 0h1.4m8.6 0h1.4m-0.4 0h1.4m3.1 0h1.4m18.5 0h1.4m2.5 0h1.4m12.6 0h1.4m40.9 0h1.4m-0.9 0h1.4m1 0h1.4m4.6 0h1.4m1.1 0h1.4m7.6 0h1.4m5 0h1.4m-0.4 0h1.4m-0.4 0h1.4m2.1 0h1.4m5.6 0h1.4m2.5 0h1.4m18.5 0h1.4m8.1 0h1.4m1.6 0h1.4m4.5 0h1.4m5.6 0h1.4m14.5 0h1.4M78.4 280.4h1.4m0.1 0h1.4m2.6 0h1.4m0.6 0h1.4m0.1 0h1.4m2.6 0h1.4m1.1 0h1.4m4.5 0h1.4m-0.9 0h1.4m7.6 0h1.4m0.1 0h1.4m2.6 0h1.4m12.5 0h1.4m0.6 0h1.4m13 0h1.4m15.5 0h1.4m7.6 0h1.4m1.6 0h1.4m-0.9 0h1.4m-0 0h1.4m-0.9 0h1.4m6.1 0h1.4m-0.4 0h1.4m-0.9 0h1.4m5.6 0h1.4m0.1 0h1.4m3 0h1.4m2.1 0h1.4m12.5 0h1.4m4.1 0h1.4m1.1 0h1.4m-0.9 0h1.4m10.5 0h1.4m4.1 0h1.4m8.6 0h1.4m-0.9 0h1.4m-0.9 0h1.4m11 0h1.4m-0.4 0h1.4m7.6 0h1.4m0.5 0h1.4m3.1 0h1.4m7.1 0h1.4m-0.9 0h1.4m15 0h1.4m-0.9 0h1.4m2.1 0h1.4m0.1 0h1.4m3 0h1.4m-0.4 0h1.4m-0.4 0h1.4m7.1 0h1.4m-0.9 0h1.4m1.6 0h1.4m0.6 0h1.4m7 0h1.4m-0.9 0h1.4m0.6 0h1.4m0.6 0h1.4m1.1 0h1.4m1.1 0h1.4m2.1 0h1.4m-0.5 0h1.4m-0.9 0h1.4m6.6 0h1.4m-0.9 0h1.4m-0.4 0h1.4m16 0h1.4m0.6 0h1.4m20 0h1.4m5.1 0h1.4m0.1 0h1.4m0.5 0h1.4m13.1 0h1.4m3.5 0h1.4m-0.9 0h1.4m29 0h1.4m7.5 0h1.4m7.6 0h1.4m4.1 0h1.4m-0.4 0h1.4m-0.9 0h1.4m0.1 0h1.4m5 0h1.4m3.1 0h1.4m3.1 0h1.4m6 0h1.4m3.1 0h1.4m3.1 0h1.4m12 0h1.4m4.1 0h1.4m-0.4 0h1.4M79.9 284.1h1.4m1.1 0h1.4m1.1 0h1.4m-0.9 0h1.4m2.1 0h1.4m2.6 0h1.4m1.1 0h1.4m5.5 0h1.4m0.6 0h1.4m2.6 0h1.4m-0.9 0h1.4m1.6 0h1.4m0.6 0h1.4m1.5 0h1.4m0.6 0h1.4m-0.9 0h1.4m-0.9 0h1.4m1.6 0h1.4m1.6 0h1.4m-0.9 0h1.4m0.6 0h1.4m13.5 0h1.4m4.6 0h1.4m5.5 0h1.4m-0.9 0h1.4m7.6 0h1.4m4.1 0h1.4m-0.4 0h1.4m-0.9 0h1.4m2 0h1.4m2.1 0h1.4m9.1 0h1.4m7.5 0h1.4m1.6 0h1.4m-0.4 0h1.4m1.1 0h1.4m1.1 0h1.4m0.1 0h1.4m-0.9 0h1.4m-0.4 0h1.4m16 0h1.4m1.1 0h1.4m4 0h1.4m1.1 0h1.4m3.1 0h1.4m2.6 0h1.4m-0.9 0h1.4m1.1 0h1.4m5.5 0h1.4m6.1 0h1.4m7.1 0h1.4m10.5 0h1.4m2.6 0h1.4m3.1 0h1.4m5 0h1.4m-0.9 0h1.4m1.6 0h1.4m0.6 0h1.4m-0.4 0h1.4m-0.4 0h1.4m0.1 0h1.4m7.5 0h1.4m-0.9 0h1.4m-0.4 0h1.4m-0.9 0h1.4m0.6 0h1.4m-0.4 0h1.4m2.1 0h1.4m0.6 0h1.4m-0.9 0h1.4m1.1 0h1.4m-0.9 0h1.4m1.5 0h1.4m0.1 0h1.4m1.1 0h1.4m-0.9 0h1.4m0.1 0h1.4m-0.4 0h1.4m-0.4 0h1.4m-0.9 0h1.4m-0.9 0h1.4m-0.4 0h1.4m-0.9 0h1.4m0.1 0h1.4m2.6 0h1.4m2.6 0h1.4m-0.5 0h1.4m-0.9 0h1.4m0.1 0h1.4m-0.4 0h1.4m-0.9 0h1.4m0.6 0h1.4m-0.9 0h1.4m2.1 0h1.4m-0.4 0h1.4m-0.9 0h1.4m-0.4 0h1.4m3.1 0h1.4m0.1 0h1.4m1.5 0h1.4m3.1 0h1.4m4.1 0h1.4m4.1 0h1.4m3.5 0h1.4m0.6 0h1.4m1.1 0h1.4m3.1 0h1.4m11.5 0h1.4m1.1 0h1.4m0.1 0h1.4m0.6 0h1.4m6.6 0h1.4m9.5 0h1.4m7.1 0h1.4m10.5 0h1.4m6.1 0h1.4m1.1 0h1.4m7 0h1.4m13 0h1.4m-0.4 0h1.4m3.6 0h1.4m1.1 0h1.4m6.1 0h1.4m0 0h1.4m2.1 0h1.4m1.6 0h1.4m7.6 0h1.4m11 0h1.4m-0.4 0h1.4m18 0h1.4m0.6 0h1.4M81.4 287.8h1.4m2.1 0h1.4m12 0h1.4m5.6 0h1.4m5.6 0h1.4m3.5 0h1.4m1.1 0h1.4m0.1 0h1.4m2.1 0h1.4m13 0h1.4m13.6 0h1.4m3 0h1.4m8.1 0h1.4m2.1 0h1.4m2.1 0h1.4m15 0h1.4m5.5 0h1.4m4.6 0h1.4m4.6 0h1.4m8.5 0h1.4m6.1 0h1.4m-0.4 0h1.4m-0.4 0h1.4m6.5 0h1.4m0.1 0h1.4m12.1 0h1.4m0.1 0h1.4m20.4 0h1.4m-0.9 0h1.4m1.1 0h1.4m1.1 0h1.4m2.6 0h1.4m1.6 0h1.4m1.1 0h1.4m4.5 0h1.4m-0.4 0h1.4m9.1 0h1.4m-0.4 0h1.4m2.6 0h1.4m2.5 0h1.4m1.1 0h1.4m4.6 0h1.4m1.1 0h1.4m6 0h1.4m0.1 0h1.4m6.6 0h1.4m1.6 0h1.4m0.6 0h1.4m0.1 0h1.4m0.6 0h1.4m2 0h1.4m2.6 0h1.4m9.1 0h1.4m1.5 0h1.4m0.6 0h1.4m11.6 0h1.4m9.5 0h1.4m9.1 0h1.4m4.5 0h1.4m-0.4 0h1.4m6.1 0h1.4m0.1 0h1.4m18 0h1.4m9 0h1.4m35 0h1.4m6 0h1.4m24.5 0h1.4m-0.9 0h1.4m3.6 0h1.4m0.5 0h1.4m10.6 0h1.4m23 0h1.4m-0.9 0h1.4M78.4 291.6h1.4m-0.9 0h1.4m-0.9 0h1.4m-0.4 0h1.4m4.6 0h1.4m2.1 0h1.4m3.1 0h1.4m-0 0h1.4m2.6 0h1.4m3.6 0h1.4m3.1 0h1.4m11 0h1.4m-0.4 0h1.4m0.6 0h1.4m10.5 0h1.4m5.1 0h1.4m-0.9 0h1.4m2.1 0h1.4m10 0h1.4m1.1 0h1.4m2.6 0h1.4m1.1 0h1.4m5.6 0h1.4m4 0h1.4m8.1 0h1.4m6.5 0h1.4m-0.9 0h1.4m4.1 0h1.4m-0.9 0h1.4m2.6 0h1.4m-0.9 0h1.4m27.9 0h1.4m7.1 0h1.4m0.1 0h1.4m2.6 0h1.4m-0.4 0h1.4m2 0h1.4m0.6 0h1.4m-0.9 0h1.4m0.1 0h1.4m1.1 0h1.4m4.1 0h1.4m-0.4 0h1.4m10 0h1.4m7.1 0h1.4m12.5 0h1.4m7.1 0h1.4m-0.4 0h1.4m0.1 0h1.4m1.5 0h1.4m1.1 0h1.4m-0.4 0h1.4m-0.4 0h1.4m-0.9 0h1.4m0.1 0h1.4m-0.9 0h1.4m-0.9 0h1.4m1.1 0h1.4m0.1 0h1.4m-0.9 0h1.4m0.1 0h1.4m-0.9 0h1.4m-0.9 0h1.4m-0.9 0h1.4m-0.9 0h1.4m0.1 0h1.4m0 0h1.4m0.1 0h1.4m-0.9 0h1.4m0.1 0h1.4m2.1 0h1.4m2.1 0h1.4m-0.9 0h1.4m-0.9 0h1.4m-0.4 0h1.4m-0.9 0h1.4m-0.9 0h1.4m-0.9 0h1.4m-0.9 0h1.4m0.1 0h1.4m-0.9 0h1.4m-0.9 0h1.4m0.1 0h1.4m-0.4 0h1.4m1 0h1.4m-0.4 0h1.4m-0.4 0h1.4m-0.9 0h1.4m-0.9 0h1.4m0.1 0h1.4m0.1 0h1.4m1.1 0h1.4m-0.9 0h1.4m2.1 0h1.4m4 0h1.4m-0.4 0h1.4m-0.4 0h1.4m1.1 0h1.4m-0.4 0h1.4m1.6 0h1.4m-0.9 0h1.4m-0.9 0h1.4m5.1 0h1.4m-0.9 0h1.4m2 0h1.4m8.6 0h1.4m2.1 0h1.4m3.6 0h1.4m-0.9 0h1.4m0.5 0h1.4m1.6 0h1.4m1.6 0h1.4m0.1 0h1.4m1.1 0h1.4m1.1 0h1.4m5 0h1.4m-0.4 0h1.4m3.1 0h1.4m1.1 0h1.4m-0.9 0h1.4m2.6 0h1.4m3.6 0h1.4m0.1 0h1.4m-1 0h1.4m2.1 0h1.4m4.1 0h1.4m1.1 0h1.4m-0.4 0h1.4m1.6 0h1.4m2.1 0h1.4m-0.4 0h1.4m10 0h1.4m0.1 0h1.4m5.1 0h1.4m0.5 0h1.4m-0.4 0h1.4m3.6 0h1.4m4.1 0h1.4m1.6 0h1.4m3 0h1.4m2.1 0h1.4m2.6 0h1.4m1.1 0h1.4m-0.9 0h1.4m0.6 0h1.4m-0.9 0h1.4m0.1 0h1.4m2.1 0h1.4m3.5 0h1.4m4.1 0h1.4m-0.4 0h1.4m1.1 0h1.4m2.1 0h1.4m4.5 0h1.4m-0.9 0h1.4m7.1 0h1.4m0.1 0h1.4m1.1 0h1.4M78.4 295.3h1.4m4.1 0h1.4m12.5 0h1.4m-0.9 0h1.4m4.1 0h1.4m28.5 0h1.4m5.5 0h1.4m1.6 0h1.4m-0.9 0h1.4m9.1 0h1.4m0.5 0h1.4m0.1 0h1.4m3.1 0h1.4m0.1 0h1.4m1.1 0h1.4m2.1 0h1.4m4.5 0h1.4m2.1 0h1.4m6.6 0h1.4m2.6 0h1.4m1.1 0h1.4m-0.9 0h1.4m11 0h1.4m-0.4 0h1.4m9 0h1.4m3.6 0h1.4m26.5 0h1.4m5.5 0h1.4m1.1 0h1.4m10.1 0h1.4m7 0h1.4m-0.9 0h1.4m6.1 0h1.4m9.5 0h1.4m8.1 0h1.4m4.6 0h1.4m3 0h1.4m0.6 0h1.4m0.1 0h1.4m0.6 0h1.4m7.1 0h1.4m11.5 0h1.4m-0.9 0h1.4m2.1 0h1.4m1.1 0h1.4m3 0h1.4m4.1 0h1.4m8.6 0h1.4m4.5 0h1.4m3.6 0h1.4m7.1 0h1.4m0.6 0h1.4m0 0h1.4m0.6 0h1.4m4.1 0h1.4m1.6 0h1.4m-0.4 0h1.4m3.6 0h1.4m17.5 0h1.4m15.5 0h1.4m0.6 0h1.4m0.6 0h1.4m1 0h1.4m11.1 0h1.4m1.6 0h1.4m0.1 0h1.4m-0.4 0h1.4m-0.9 0h1.4m7 0h1.4m-0.9 0h1.4m9.6 0h1.4m7 0h1.4m3.1 0h1.4m3.1 0h1.4m2.1 0h1.4m5.5 0h1.4m5.1 0h1.4m11 0h1.4m3.1 0h1.4m7.1 0h1.4m0.1 0h1.4m2.5 0h1.4M80.9 299.1h1.4m-0.4 0h1.4m-0.4 0h1.4m1.6 0h1.4m9 0h1.4m-0.4 0h1.4m-0.4 0h1.4m0.6 0h1.4m0.6 0h1.4m5.6 0h1.4m-0.9 0h1.4m2.6 0h1.4m4 0h1.4m0.1 0h1.4m2.1 0h1.4m0.1 0h1.4m4.1 0h1.4m2.1 0h1.4m-0.5 0h1.4m9.1 0h1.4m9 0h1.4m7.6 0h1.4m7.6 0h1.4m-0.5 0h1.4m3.1 0h1.4m10.1 0h1.4m-0.4 0h1.4m6.5 0h1.4m17 0h1.4m0.1 0h1.4m3.1 0h1.4m6.6 0h1.4m0.6 0h1.4m15.5 0h1.4m0.1 0h1.4m-0.4 0h1.4m-0 0h1.4m-0.9 0h1.4m0.1 0h1.4m-0.4 0h1.4m9.6 0h1.4m0.6 0h1.4m0.1 0h1.4m3 0h1.4m0.6 0h1.4m5.1 0h1.4m0.6 0h1.4m0.6 0h1.4m0.1 0h1.4m2 0h1.4m2.1 0h1.4m2.6 0h1.4m-0.9 0h1.4m-0.9 0h1.4m0.6 0h1.4m1.1 0h1.4m-0.4 0h1.4m3.1 0h1.4m-0.4 0h1.4m3.5 0h1.4m-0.4 0h1.4m0.6 0h1.4m3.1 0h1.4m1.6 0h1.4m1.1 0h1.4m0.6 0h1.4m0 0h1.4m-0.4 0h1.4m-0.4 0h1.4m1.1 0h1.4m1.1 0h1.4m-0.4 0h1.4m1.1 0h1.4m0.1 0h1.4m-0.9 0h1.4m-0.9 0h1.4m-0.9 0h1.4m-0.4 0h1.4m3.5 0h1.4m3.1 0h1.4m-0.4 0h1.4m-0.4 0h1.4m0.6 0h1.4m0.6 0h1.4m2.1 0h1.4m-0.4 0h1.4m10 0h1.4m0.6 0h1.4m10 0h1.4m-0.4 0h1.4m5.6 0h1.4m0.6 0h1.4m0.6 0h1.4m0.1 0h1.4m-0.4 0h1.4m2.1 0h1.4m7.5 0h1.4m1.1 0h1.4m1.1 0h1.4m0.6 0h1.4m1.1 0h1.4m5.5 0h1.4m13.6 0h1.4m0.5 0h1.4m7.6 0h1.4m11.5 0h1.4m-0.4 0h1.4m2.6 0h1.4m-0.9 0h1.4m-0.9 0h1.4m3.6 0h1.4m13 0h1.4m10.5 0h1.4m1.1 0h1.4m-0.4 0h1.4m-0.4 0h1.4m-0.4 0h1.4m0.1 0h1.4m5.1 0h1.4m-0.9 0h1.4m1.6 0h1.4m0.1 0h1.4m1.5 0h1.4m13.6 0h1.4m9 0h1.4m0.6 0h1.4m2.6 0h1.4m1.1 0h1.4M79.9 302.8h1.4m5.1 0h1.4m16 0h1.4m0.1 0h1.4m6.1 0h1.4m-0.4 0h1.4m1.5 0h1.4m2.6 0h1.4m2.6 0h1.4m4.6 0h1.4m23.4 0h1.4m13.1 0h1.4m2.1 0h1.4m3 0h1.4m-0.4 0h1.4m-0.4 0h1.4m9.6 0h1.4m3.5 0h1.4m5.1 0h1.4m5.1 0h1.4m1.1 0h1.4m11.5 0h1.4m5.1 0h1.4m6.5 0h1.4m0.1 0h1.4m15 0h1.4m18.5 0h1.4m3.6 0h1.4m3.1 0h1.4m-0.9 0h1.4m2.6 0h1.4m0.6 0h1.4m8.5 0h1.4m1.1 0h1.4m0.1 0h1.4m-0.4 0h1.4m2.1 0h1.4m2.6 0h1.4m-0.5 0h1.4m7.6 0h1.4m-0.9 0h1.4m0.1 0h1.4m0.6 0h1.4m2.6 0h1.4m0.5 0h1.4m0.6 0h1.4m-0.9 0h1.4m0.6 0h1.4m4.1 0h1.4m-0.4 0h1.4m1.6 0h1.4m-0.9 0h1.4m0.1 0h1.4m1.1 0h1.4m4.5 0h1.4m3.1 0h1.4m7.1 0h1.4m10.5 0h1.4m4.1 0h1.4m6 0h1.4m-0.4 0h1.4m0.6 0h1.4m-0.4 0h1.4m-0.4 0h1.4m2.1 0h1.4m2.6 0h1.4m3.1 0h1.4m0.5 0h1.4m7.1 0h1.4m-0.9 0h1.4m0.6 0h1.4m1.6 0h1.4m0.6 0h1.4m7 0h1.4m-0.9 0h1.4m22 0h1.4m6.6 0h1.4m10 0h1.4m2.1 0h1.4m2.1 0h1.4m-0.4 0h1.4m9.5 0h1.4m1.1 0h1.4m13.5 0h1.4m5.1 0h1.4m8.5 0h1.4m1.1 0h1.4m18.5 0h1.4m2.1 0h1.4M78.9 306.5h1.4m7.1 0h1.4m17 0h1.4m6.1 0h1.4m14 0h1.4m1.1 0h1.4m13 0h1.4m15 0h1.4m-0.4 0h1.4m7.6 0h1.4m0.1 0h1.4m4.5 0h1.4m0.6 0h1.4m0.6 0h1.4m2.6 0h1.4m5.6 0h1.4m-0.9 0h1.4m-0.5 0h1.4m5.1 0h1.4m0.1 0h1.4m-0.4 0h1.4m2.6 0h1.4m5.5 0h1.4m12.1 0h1.4m29.4 0h1.4m16.5 0h1.4m1.1 0h1.4m0.6 0h1.4m1.1 0h1.4m6.1 0h1.4m1 0h1.4m3.6 0h1.4m15 0h1.4m8.1 0h1.4m2.1 0h1.4m3.6 0h1.4m3.5 0h1.4m3.1 0h1.4m0.1 0h1.4m0.6 0h1.4m0.1 0h1.4m1.6 0h1.4m10 0h1.4m0.6 0h1.4m-0.4 0h1.4m0.6 0h1.4m3.6 0h1.4m0 0h1.4m0.1 0h1.4m2.1 0h1.4m-0.4 0h1.4m1.6 0h1.4m-0.4 0h1.4m-0.9 0h1.4m11.5 0h1.4m4.1 0h1.4m0.1 0h1.4m9.5 0h1.4m4.6 0h1.4m1.6 0h1.4m-0.9 0h1.4m0.6 0h1.4m8.5 0h1.4m9.6 0h1.4m2.1 0h1.4m4 0h1.4m13.1 0h1.4m1.5 0h1.4m2.1 0h1.4m7.1 0h1.4m10 0h1.4m-0.9 0h1.4m0.1 0h1.4m7.1 0h1.4m-0.9 0h1.4m1.6 0h1.4m3.5 0h1.4m1.6 0h1.4m1.6 0h1.4m3.1 0h1.4m2.6 0h1.4m9.5 0h1.4m5.1 0h1.4m1.6 0h1.4m2.5 0h1.4m10.1 0h1.4m1.6 0h1.4M87.4 310.3h1.4m36.9 0h1.4m16.5 0h1.4m5.6 0h1.4m9.5 0h1.4m8.1 0h1.4m1.6 0h1.4m9 0h1.4m6.1 0h1.4m0.1 0h1.4m7.5 0h1.4m0.1 0h1.4m0.6 0h1.4m-0.9 0h1.4m4.1 0h1.4m2 0h1.4m3.1 0h1.4m-0.9 0h1.4m27 0h1.4m4.6 0h1.4m6 0h1.4m2.6 0h1.4m-0.9 0h1.4m7.1 0h1.4m-1 0h1.4m15.1 0h1.4m-0.9 0h1.4m1 0h1.4m4.6 0h1.4m0.6 0h1.4m2.1 0h1.4m19.5 0h1.4m20 0h1.4m-0.9 0h1.4m-0.9 0h1.4m0.6 0h1.4m0.1 0h1.4m5.5 0h1.4m4.6 0h1.4m0.6 0h1.4m20.5 0h1.4m5 0h1.4m12.6 0h1.4m5.5 0h1.4m25 0h1.4m8.1 0h1.4m3 0h1.4m0.6 0h1.4m2.6 0h1.4m25.5 0h1.4m3.5 0h1.4m3.6 0h1.4m2.1 0h1.4m0.1 0h1.4m0.1 0h1.4m8 0h1.4m2.1 0h1.4m9.1 0h1.4m6 0h1.4m-0.4 0h1.4m10.1 0h1.4m13 0h1.4m3.6 0h1.4M82.4 314h1.4m5.6 0h1.4m9 0h1.4m6.1 0h1.4m0.6 0h1.4m1.1 0h1.4m3.5 0h1.4m0.1 0h1.4m1.6 0h1.4m0.6 0h1.4m0.6 0h1.4m0.6 0h1.4m1.6 0h1.4m36.9 0h1.4m0.1 0h1.4m12.5 0h1.4m-0.4 0h1.4m4.6 0h1.4m12 0h1.4m12.5 0h1.4m0.6 0h1.4m17.5 0h1.4m-0.9 0h1.4m1.1 0h1.4m18 0h1.4m-0.4 0h1.4m18 0h1.4m33.9 0h1.4m1.1 0h1.4m8.6 0h1.4m3.5 0h1.4m0.1 0h1.4m2.1 0h1.4m8.6 0h1.4m7.5 0h1.4m15.5 0h1.4m3.1 0h1.4m5.6 0h1.4m13 0h1.4m8.1 0h1.4m0.1 0h1.4m6.5 0h1.4m4.6 0h1.4m8.5 0h1.4m2.1 0h1.4m0.6 0h1.4m0.1 0h1.4m-0.9 0h1.4m7.1 0h1.4m2.5 0h1.4m2.6 0h1.4m11.6 0h1.4m20.9 0h1.4m1.1 0h1.4m42.4 0h1.4m9.6 0h1.4m9.5 0h1.4m2.6 0h1.4M120.2 317.8h1.4m2.1 0h1.4m0.1 0h1.4m25.5 0h1.4m1.1 0h1.4m9.5 0h1.4m5.1 0h1.4m21 0h1.4m14 0h1.4m0.6 0h1.4m7 0h1.4m12.1 0h1.4m9.5 0h1.4m6.1 0h1.4m0.6 0h1.4m-0.9 0h1.4m56.8 0h1.4m8.5 0h1.4m2.6 0h1.4m10 0h1.4m3.1 0h1.4m3.6 0h1.4m2.6 0h1.4m1.1 0h1.4m0 0h1.4m-0.4 0h1.4m6.6 0h1.4m11 0h1.4m6.1 0h1.4m34.9 0h1.4m23.5 0h1.4m8 0h1.4m0.1 0h1.4m32.5 0h1.4m8.5 0h1.4m1.1 0h1.4m16.5 0h1.4m1.6 0h1.4m5.1 0h1.4m8 0h1.4m-0.4 0h1.4m26.5 0h1.4M88.9 321.5h1.4m7 0h1.4m1.1 0h1.4m8.6 0h1.4m17.5 0h1.4m2.6 0h1.4m1.5 0h1.4m1.1 0h1.4m37.4 0h1.4m38.4 0h1.4m21 0h1.4m4.1 0h1.4m10.5 0h1.4m8.1 0h1.4m27 0h1.4m14.5 0h1.4m6.5 0h1.4m1.1 0h1.4m0.1 0h1.4m6.6 0h1.4m1.1 0h1.4m10.5 0h1.4m9 0h1.4m2.1 0h1.4m-0.9 0h1.4m20.5 0h1.4m0.6 0h1.4m3.1 0h1.4m6.5 0h1.4m17.1 0h1.4m0 0h1.4m15.1 0h1.4m7 0h1.4m-0.4 0h1.4m-0.4 0h1.4m15 0h1.4m22 0h1.4m4.1 0h1.4m3.6 0h1.4m2 0h1.4m11.1 0h1.4m15.5 0h1.4m10.5 0h1.4m21 0h1.4m6.1 0h1.4M79.4 325.2h1.4m6.6 0h1.4m22.5 0h1.4m65.7 0h1.4m48.9 0h1.4m53.3 0h1.4m118 0h1.4m1.6 0h1.4m29.9 0h1.4m23.5 0h1.4m31.9 0h1.4m3.6 0h1.4M108.8 329h1.4m28.9 0h1.4m6.6 0h1.4m-0.9 0h1.4m6.1 0h1.4m0.5 0h1.4m4.1 0h1.4m24.5 0h1.4m5.1 0h1.4m1.5 0h1.4m2.6 0h1.4m4.6 0h1.4m14.5 0h1.4m-0.4 0h1.4m28.9 0h1.4m4.6 0h1.4m1.6 0h1.4m27.5 0h1.4m11 0h1.4m2.6 0h1.4m0.6 0h1.4m5 0h1.4m-0.4 0h1.4m-0.9 0h1.4m0.1 0h1.4m-0.9 0h1.4m7.1 0h1.4m4 0h1.4m5.6 0h1.4m2.1 0h1.4m-0.9 0h1.4m-0.4 0h1.4m-0.4 0h1.4m-0.4 0h1.4m1.1 0h1.4m4 0h1.4m2.1 0h1.4m0.1 0h1.4m6.6 0h1.4m15 0h1.4m6.5 0h1.4m0.6 0h1.4m20 0h1.4m21.5 0h1.4m0.6 0h1.4m2.1 0h1.4m3.6 0h1.4m4.5 0h1.4m11.1 0h1.4m10.5 0h1.4m22.5 0h1.4m3.1 0h1.4m-0.4 0h1.4m0.6 0h1.4m4.5 0h1.4m6.6 0h1.4m0.1 0h1.4m29.4 0h1.4M119.2 332.7h1.4m-0.4 0h1.4m74.2 0h1.4m9.1 0h1.4m95.1 0h1.4m15.5 0h1.4m8.1 0h1.4m3.1 0h1.4m25.9 0h1.4m21.5 0h1.4m27.5 0h1.4m26.4 0h1.4m8.1 0h1.4m26.4 0h1.4m49.4 0h1.4m22 0h1.4M81.4 336.4h1.4m15.5 0h1.4m24 0h1.4m7.6 0h1.4m12 0h1.4m14.5 0h1.4m8.6 0h1.4m9 0h1.4m5.6 0h1.4m2.6 0h1.4m18 0h1.4m4 0h1.4m-0.4 0h1.4m0.1 0h1.4m3.6 0h1.4m-0.9 0h1.4m14.5 0h1.4m-0.9 0h1.4m1.6 0h1.4m4.1 0h1.4m10.5 0h1.4m34.9 0h1.4m5.6 0h1.4m7.5 0h1.4m13.6 0h1.4m2.1 0h1.4m0 0h1.4m1.6 0h1.4m5.1 0h1.4m1.6 0h1.4m4.1 0h1.4m-0.9 0h1.4m3 0h1.4m1.1 0h1.4m-0.9 0h1.4m2.1 0h1.4m-0.4 0h1.4m1.6 0h1.4m45.8 0h1.4m18.5 0h1.4m36 0h1.4m-0.9 0h1.4m5 0h1.4m6.1 0h1.4m25.4 0h1.4m7.1 0h1.4m6.6 0h1.4m3 0h1.4m7.1 0h1.4m9 0h1.4m1.1 0h1.4m8.1 0h1.4M122.2 340.2h1.4m8.1 0h1.4m22 0h1.4m17.5 0h1.4m0.5 0h1.4m15.1 0h1.4m3.5 0h1.4m1.1 0h1.4m4.1 0h1.4m13.5 0h1.4m7.1 0h1.4m27.4 0h1.4m14.6 0h1.4m11 0h1.4m9.5 0h1.4m3.6 0h1.4m7.1 0h1.4m2.1 0h1.4m2.5 0h1.4m0.1 0h1.4m0.1 0h1.4m10.1 0h1.4m-0.4 0h1.4m1 0h1.4m15.6 0h1.4m5.5 0h1.4m1.6 0h1.4m7.1 0h1.4m33.4 0h1.4m28.4 0h1.4m23 0h1.4m-0.9 0h1.4m27 0h1.4m5.5 0h1.4m13.6 0h1.4m44.8 0h1.4M78.9 343.9h1.4m0.6 0h1.4m7.6 0h1.4m15.5 0h1.4m7.1 0h1.4m28.4 0h1.4m8.1 0h1.4m-0 0h1.4m24 0h1.4m1.1 0h1.4m3.1 0h1.4m15 0h1.4m1.6 0h1.4m1.1 0h1.4m4 0h1.4m4.1 0h1.4m7.1 0h1.4m2.1 0h1.4m2 0h1.4m-0.4 0h1.4m-0.4 0h1.4m17 0h1.4m0.6 0h1.4m0.1 0h1.4m0.6 0h1.4m9.6 0h1.4m17.5 0h1.4m1 0h1.4m-0.9 0h1.4m4.1 0h1.4m-0.9 0h1.4m5.1 0h1.4m1.6 0h1.4m2.6 0h1.4m5.5 0h1.4m0.6 0h1.4m1.1 0h1.4m4.1 0h1.4m2 0h1.4m-0.9 0h1.4m1.6 0h1.4m4.6 0h1.4m3.1 0h1.4m0.6 0h1.4m-0.4 0h1.4m3 0h1.4m0.1 0h1.4m7.6 0h1.4m2.6 0h1.4m6.5 0h1.4m3.6 0h1.4m12.5 0h1.4m8.6 0h1.4m22 0h1.4m1.1 0h1.4m14.5 0h1.4m2.1 0h1.4m14 0h1.4m15.5 0h1.4m-0.9 0h1.4m4.1 0h1.4m4.5 0h1.4m0.1 0h1.4m1.1 0h1.4m5.6 0h1.4m4.5 0h1.4m2.6 0h1.4m22 0h1.4m6.1 0h1.4m4.5 0h1.4M83.4 347.7h1.4m12 0h1.4m12.1 0h1.4m2.1 0h1.4m11.5 0h1.4m-0.9 0h1.4m-0.4 0h1.4m18 0h1.4m5.6 0h1.4m13 0h1.4m0.6 0h1.4m18 0h1.4m5 0h1.4m3.1 0h1.4m16 0h1.4m10.1 0h1.4m8.5 0h1.4m4.6 0h1.4m19 0h1.4m6.6 0h1.4m5 0h1.4m8.6 0h1.4m5.5 0h1.4m-0.9 0h1.4m0.6 0h1.4m12.1 0h1.4m0.5 0h1.4m0.1 0h1.4m6.1 0h1.4m-0.9 0h1.4m6.6 0h1.4m1 0h1.4m-0.4 0h1.4m-0.9 0h1.4m-0.4 0h1.4m7.1 0h1.4m12.5 0h1.4m33.4 0h1.4m11.1 0h1.4m9 0h1.4m7.6 0h1.4m1.1 0h1.4m11 0h1.4m11 0h1.4m3.6 0h1.4m8.1 0h1.4m25.9 0h1.4m35 0h1.4m8 0h1.4m7.6 0h1.4m14 0h1.4M86.4 351.4h1.4m14 0h1.4m4.1 0h1.4m5.1 0h1.4m20.9 0h1.4m7.1 0h1.4m2.6 0h1.4m10 0h1.4m1.1 0h1.4m10.1 0h1.4m15.5 0h1.4m1.6 0h1.4m9.5 0h1.4m6.6 0h1.4m4 0h1.4m15.1 0h1.4m7 0h1.4m0.1 0h1.4m5.1 0h1.4m1.1 0h1.4m12 0h1.4m7 0h1.4m0.6 0h1.4m11.6 0h1.4m0.1 0h1.4m4.5 0h1.4m0.6 0h1.4m2.6 0h1.4m8.6 0h1.4m1.5 0h1.4m1.1 0h1.4m3.1 0h1.4m-0.9 0h1.4m1.1 0h1.4m-0.9 0h1.4m2.6 0h1.4m-0.4 0h1.4m2.5 0h1.4m-0.4 0h1.4m-0.9 0h1.4m0.6 0h1.4m-0.4 0h1.4m-0.9 0h1.4m0.6 0h1.4m2.1 0h1.4m0.6 0h1.4m-0.9 0h1.4m-0.4 0h1.4m-0.4 0h1.4m-0.4 0h1.4m-0.9 0h1.4m1 0h1.4m-0.9 0h1.4m-0.9 0h1.4m2.1 0h1.4m-0.4 0h1.4m-0.9 0h1.4m0.1 0h1.4m0.6 0h1.4m4.6 0h1.4m0.6 0h1.4m2.5 0h1.4m0.6 0h1.4m0.6 0h1.4m2.6 0h1.4m0.6 0h1.4m6.5 0h1.4m6.1 0h1.4m-0.9 0h1.4m6.6 0h1.4m1.1 0h1.4m9 0h1.4m-0.9 0h1.4m2.1 0h1.4m0.1 0h1.4m7 0h1.4m18 0h1.4m7.1 0h1.4m1.1 0h1.4m5.1 0h1.4m13 0h1.4m3.6 0h1.4m10 0h1.4m13 0h1.4m1.1 0h1.4m16.5 0h1.4m-0.4 0h1.4m8.6 0h1.4m1.6 0h1.4m2.5 0h1.4m7.1 0h1.4M81.4 355.1h1.4m9.6 0h1.4m7.5 0h1.4m3.6 0h1.4m5.6 0h1.4m2.5 0h1.4m15.6 0h1.4m-0.9 0h1.4m12.5 0h1.4m12 0h1.4m3.1 0h1.4m46.4 0h1.4m1 0h1.4m0.6 0h1.4m0.6 0h1.4m2.1 0h1.4m4.6 0h1.4m4.5 0h1.4m18 0h1.4m0.1 0h1.4m16.6 0h1.4m2 0h1.4m2.1 0h1.4m11.1 0h1.4m4 0h1.4m1.1 0h1.4m0.6 0h1.4m7.1 0h1.4m-0.9 0h1.4m3.5 0h1.4m-0.9 0h1.4m1.6 0h1.4m2.6 0h1.4m-0.4 0h1.4m-0.9 0h1.4m0.1 0h1.4m-0.4 0h1.4m0.6 0h1.4m-0.4 0h1.4m2.5 0h1.4m-0.9 0h1.4m-0.4 0h1.4m1.6 0h1.4m-0.9 0h1.4m-0.9 0h1.4m-0.4 0h1.4m-0.9 0h1.4m1.1 0h1.4m2.6 0h1.4m2.1 0h1.4m-0.4 0h1.4m1 0h1.4m0.6 0h1.4m5.1 0h1.4m-0.9 0h1.4m-0.4 0h1.4m-0.9 0h1.4m0.1 0h1.4m-0.4 0h1.4m0.1 0h1.4m-0.9 0h1.4m1.5 0h1.4m7.1 0h1.4m4.6 0h1.4m5 0h1.4m20 0h1.4m10.6 0h1.4m-0.9 0h1.4m10.5 0h1.4m1.6 0h1.4m13 0h1.4m20.5 0h1.4m15.5 0h1.4m6.1 0h1.4m0.1 0h1.4m10 0h1.4m10.6 0h1.4m6.5 0h1.4m-0.9 0h1.4m4.6 0h1.4m5.1 0h1.4m10.5 0h1.4m4.1 0h1.4M94.4 358.9h1.4m11.5 0h1.4m20 0h1.4m14.5 0h1.4m21 0h1.4m20 0h1.4m-0.4 0h1.4m8 0h1.4m5.6 0h1.4m3.6 0h1.4m8.5 0h1.4m1.6 0h1.4m8.6 0h1.4m10 0h1.4m10.5 0h1.4m-0.9 0h1.4m-0.9 0h1.4m4.1 0h1.4m7.6 0h1.4m0.1 0h1.4m11.5 0h1.4m1.1 0h1.4m2.6 0h1.4m-0.4 0h1.4m-1 0h1.4m-0.4 0h1.4m-0.9 0h1.4m5.1 0h1.4m1.1 0h1.4m-0.4 0h1.4m0.1 0h1.4m-0.9 0h1.4m0.6 0h1.4m1.6 0h1.4m0.1 0h1.4m-1 0h1.4m1.6 0h1.4m-0.9 0h1.4m1.1 0h1.4m0.1 0h1.4m-0.9 0h1.4m-0.4 0h1.4m-0.9 0h1.4m-0.4 0h1.4m1.1 0h1.4m-0.9 0h1.4m-0.9 0h1.4m0.1 0h1.4m-0.4 0h1.4m-0.9 0h1.4m-0.9 0h1.4m-0.4 0h1.4m-0.9 0h1.4m1 0h1.4m-0.4 0h1.4m-0.9 0h1.4m-0.9 0h1.4m-0.9 0h1.4m-0.4 0h1.4m-0.4 0h1.4m0.1 0h1.4m-0.9 0h1.4m-0.9 0h1.4m-0.4 0h1.4m0.1 0h1.4m-0.9 0h1.4m-0.9 0h1.4m0.6 0h1.4m-0.9 0h1.4m-0.9 0h1.4m-0.9 0h1.4m-0.9 0h1.4m-0.9 0h1.4m-0.9 0h1.4m-0.4 0h1.4m-0.9 0h1.4m0.5 0h1.4m1.1 0h1.4m-0.4 0h1.4m-0.4 0h1.4m-0.9 0h1.4m-0.9 0h1.4m-0.9 0h1.4m0.1 0h1.4m-0.4 0h1.4m-0.9 0h1.4m1.1 0h1.4m-0.9 0h1.4m-0.9 0h1.4m2.6 0h1.4m-0.4 0h1.4m-0.9 0h1.4m-0.9 0h1.4m-0.5 0h1.4m2.1 0h1.4m-0.9 0h1.4m3.1 0h1.4m2.6 0h1.4m-0.9 0h1.4m15.5 0h1.4m11 0h1.4m27.5 0h1.4m-0.4 0h1.4m-0.9 0h1.4m0.1 0h1.4m20 0h1.4m44.3 0h1.4m23 0h1.4m0.6 0h1.4m-0.9 0h1.4m22.5 0h1.4M93.9 362.6h1.4m26.4 0h1.4m4.1 0h1.4m108.5 0h1.4m113.6 0h1.4m34.9 0h1.4m139.9 0h1.4m8.5 0h1.4M94.4 366.4h1.4m104.5 0h1.4m11.6 0h1.4m21.9 0h1.4m34.5 0h1.4m88.6 0h1.4m82.7 0h1.4m-0.9 0h1.4M98.8 370.1h1.4m26.5 0h1.4m0.6 0h1.4m12.5 0h1.4m12.5 0h1.4m3.1 0h1.4m7.6 0h1.4m25.9 0h1.4m8.6 0h1.4m28.4 0h1.4m19 0h1.4m13.1 0h1.4m33.4 0h1.4m7.5 0h1.4m23.5 0h1.4m0.1 0h1.4m6.1 0h1.4m9.5 0h1.4m16.5 0h1.4m32.5 0h1.4m22.4 0h1.4m40.4 0h1.4m-0.4 0h1.4m14.5 0h1.4m29.5 0h1.4m5.1 0h1.4M97.8 373.8h1.4m51.9 0h1.4m79.2 0h1.4m33.4 0h1.4m28.9 0h1.4m6.1 0h1.4m50.8 0h1.4m197.6 0h1.4M109.3 377.6h1.4m196.6 0h1.4m27.4 0h1.4m29.5 0h1.4m104.1 0h1.4M114.8 381.3h1.4m67.2 0h1.4m23 0h1.4m7 0h1.4m6.6 0h1.4m68.3 0h1.4m51.3 0h1.4m151.3 0h1.4M79.4 385.1h1.4m65.3 0h1.4m32.4 0h1.4m14.1 0h1.4m9.5 0h1.4m3.6 0h1.4m59.3 0h1.4m57.8 0h1.4m8 0h1.4m7.6 0h1.4m13 0h1.4m43.9 0h1.4m1.6 0h1.4m48.8 0h1.4m5.1 0h1.4m26.4 0h1.4m21.5 0h1.4m19 0h1.4M93.4 388.8h1.4m37.9 0h1.4m45.8 0h1.4m48.4 0h1.4m138.9 0h1.4m3.5 0h1.4m24.5 0h1.4m-0.4 0h1.4m5.1 0h1.4m45.8 0h1.4m28.5 0h1.4m26 0h1.4m14 0h1.4m18 0h1.4m17 0h1.4M85.4 392.5h1.4m3.1 0h1.4m65.7 0h1.4m7.1 0h1.4m132.4 0h1.4m6.1 0h1.4m29.9 0h1.4m21.5 0h1.4M143.6 396.3h1.4m26.5 0h1.4m59.3 0h1.4m80.2 0h1.4m24.4 0h1.4m8.6 0h1.4m45.8 0h1.4m26 0h1.4m27.5 0h1.4m77.7 0h1.4M112.8 400h1.4m51.3 0h1.4m5.6 0h1.4m31.9 0h1.4m11 0h1.4m-0.9 0h1.4m8.1 0h1.4m17.5 0h1.4m8.5 0h1.4m1.6 0h1.4m19 0h1.4m3.6 0h1.4m7.1 0h1.4m21.4 0h1.4m13.1 0h1.4m27.9 0h1.4m13.5 0h1.4m35 0h1.4m70.2 0h1.4m-0.9 0h1.4m18 0h1.4m7.1 0h1.4m1.5 0h1.4m28 0h1.4m25.5 0h1.4M240.6 403.8h1.4m19.5 0h1.4m6.1 0h1.4m3.1 0h1.4m27.9 0h1.4m18 0h1.4m22 0h1.4m2.1 0h1.4m39.9 0h1.4m49.8 0h1.4m4.1 0h1.4M85.4 407.5h1.4m22.5 0h1.4m66.7 0h1.4m60.3 0h1.4m63.8 0h1.4m5.6 0h1.4m32.9 0h1.4m57.3 0h1.4m9.5 0h1.4m16.1 0h1.4m19.9 0h1.4m32 0h1.4m61.3 0h1.4M97.3 411.2h1.4m11.1 0h1.4m80.2 0h1.4m36.9 0h1.4m71.7 0h1.4m18 0h1.4m33.4 0h1.4m11.1 0h1.4m78.7 0h1.4m59.3 0h1.4M136.6 415h1.4m24 0h1.4m2.6 0h1.4m144.9 0h1.4m23.9 0h1.4m65.3 0h1.4m94.1 0h1.4M168.5 418.7h1.4m12 0h1.4m109.6 0h1.4m45.8 0h1.4m103.1 0h1.4m8 0h1.4m72.3 0h1.4M262 422.4h1.4m1.1 0h1.4m75.2 0h1.4m0.6 0h1.4m9.6 0h1.4m5.5 0h1.4m67.8 0h1.4m53.3 0h1.4M108.3 426.2h1.4m59.8 0h1.4m34.9 0h1.4m49.3 0h1.4m70.8 0h1.4m8 0h1.4m23 0h1.4m8.1 0h1.4m33.4 0h1.4m40.4 0h1.4M90.4 429.9h1.4m31.4 0h1.4m30.5 0h1.4m16 0h1.4m7 0h1.4m52.9 0h1.4m24.4 0h1.4m56.3 0h1.4m-0.9 0h1.4m30.5 0h1.4m4 0h1.4m16.1 0h1.4m10 0h1.4m1.6 0h1.4m5 0h1.4m3.6 0h1.4m29 0h1.4m39.4 0h1.4m9 0h1.4m20.5 0h1.4m6.6 0h1.4m4 0h1.4m24.5 0h1.4M96.8 433.7h1.4m4.1 0h1.4m229 0h1.4m135.9 0h1.4m25.4 0h1.4m52.4 0h1.4M167 441.1h1.4m28.9 0h1.4m0.1 0h1.4m152.9 0h1.4M107.8 444.9h1.4m56.8 0h1.4m108.5 0h1.4m91.7 0h1.4m16.5 0h1.4M102.3 448.6h1.4m75.7 0h1.4m347.4 0h1.4M198.3 452.4h1.4m130 0h1.4m215.5 0h1.4M292.4 456.1h1.4m61.7 0h1.4m10.1 0h1.4m193.1 0h1.4M84.9 471.1h1.4m268.3 0h1.4m27.4 0h1.4M243.6 478.5h1.4m4.6 0h1.4m114 0h1.4m44.4 0h1.4m94.1 0h1.4M164.5 482.3h1.4m93.6 0h1.4m14.5 0h1.4m68.3 0h1.4m7.6 0h1.4m34.4 0h1.4m121 0h1.4m20.4 0h1.4M123.7 486h1.4m429.9 0h1.4M388.4 489.7h1.4M105.8 493.5h1.4m126 0h1.4m30.4 0h1.4M389.4 501h1.4M79.9 512.2h1.4M349.6 530.9h1.4M180.4 538.4h1.4m166.3 0h1.4M80.4 560.8h1.4m398.1 0h1.4m26 0h1.4" stroke="#000" stroke-width="1.4" fill="none"/>
<path d="M59.5 362.62L592.5 362.62" stroke="#CD2626" stroke-width="2.25" stroke-dasharray="9 9" stroke-linecap="round" fill="none"/>
<path d="M313.21 580.5L313.21 47.5" stroke="#006400" stroke-width="2.25" stroke-dasharray="9 9" stroke-linecap="round" fill="none"/>
<path d="M337.59 580.5L337.59 47.5" stroke="#006400" stroke-width="2.25" stroke-dasharray="9 9" stroke-linecap="round" fill="none"/>
<rect x="59.5" y="47.5" width="533" height="533" fill="none" stroke="#000" stroke-width="0.75"/>
<path d="M126.4 580.5H524.4M126.4 580.5v6M225.9 580.5v6M325.4 580.5v6M424.9 580.5v6M524.4 580.5v6" stroke="#000" stroke-width="0.75" fill="none"/>
<text transform="translate(126.4 601.7) scale(1 1.13)" font-size="10" text-anchor="middle">-400</text>
<text transform="translate(225.9 601.7) scale(1 1.13)" font-size="10" text-anchor="middle">-200</text>
<text transform="translate(325.4 601.7) scale(1 1.13)" font-size="10" text-anchor="middle">0</text>
<text transform="translate(424.9 601.7) scale(1 1.13)" font-size="10" text-anchor="middle">200</text>
<text transform="translate(524.4 601.7) scale(1 1.13)" font-size="10" text-anchor="middle">400</text>
<path d="M59.5 515.92V67.24M59.5 515.92h-6M59.5 441.14h-6M59.5 366.36h-6M59.5 291.58h-6M59.5 216.8h-6M59.5 142.02h-6M59.5 67.24h-6" stroke="#000" stroke-width="0.75" fill="none"/>
<text transform="translate(44.7 515.92) rotate(-90) scale(1 1.13)" font-size="10" text-anchor="middle">88</text>
<text transform="translate(44.7 441.14) rotate(-90) scale(1 1.13)" font-size="10" text-anchor="middle">90</text>
<text transform="translate(44.7 366.36) rotate(-90) scale(1 1.13)" font-size="10" text-anchor="middle">92</text>
<text transform="translate(44.7 291.58) rotate(-90) scale(1 1.13)" font-size="10" text-anchor="middle">94</text>
<text transform="translate(44.7 216.8) rotate(-90) scale(1 1.13)" font-size="10" text-anchor="middle">96</text>
<text transform="translate(44.7 142.02) rotate(-90) scale(1 1.13)" font-size="10" text-anchor="middle">98</text>
<text transform="translate(44.7 67.24) rotate(-90) scale(1 1.13)" font-size="10" text-anchor="middle">100</text>
<text x="323.2" y="31.9" font-size="21.6" font-weight="bold" text-anchor="middle">Top hit for each peak</text>
<text x="326.2" y="625.5" font-size="15.9" text-anchor="middle">Distance to peak summit</text>
<text transform="translate(21.8 314) rotate(-90)" font-size="15.9" text-anchor="middle">Motif score</text>
<defs><linearGradient id="g0" x1="700" x2="1233" gradientUnits="userSpaceOnUse"><stop offset="0%" stop-color="#ddddff"/><stop offset="4.9%" stop-color="#c3c3ff"/><stop offset="8.1%" stop-color="#bbbbff"/><stop offset="27.6%" stop-color="#b9b9ff"/><stop offset="32.1%" stop-color="#b1b1ff"/><stop offset="38.5%" stop-color="#9d9dff"/><stop offset="40.9%" stop-color="#9191ff"/><stop offset="43.7%" stop-color="#7b7bff"/><stop offset="50.5%" stop-color="#2929ff"/><stop offset="53.1%" stop-color="#1919ff"/><stop offset="54.2%" stop-color="#1919ff"/><stop offset="56.1%" stop-color="#2323ff"/><stop offset="58.5%" stop-color="#3f3fff"/><stop offset="63.8%" stop-color="#8f8fff"/><stop offset="66.2%" stop-color="#a9a9ff"/><stop offset="68.9%" stop-color="#b9b9ff"/><stop offset="72.4%" stop-color="#c1c1ff"/><stop offset="91.4%" stop-color="#bdbdff"/><stop offset="94.6%" stop-color="#c3c3ff"/><stop offset="100%" stop-color="#dbdbff"/></linearGradient><linearGradient id="g1" x1="700" x2="1233" gradientUnits="userSpaceOnUse"><stop offset="0%" stop-color="#ddddff"/><stop offset="4.5%" stop-color="#c5c5ff"/><stop offset="8.3%" stop-color="#bbbbff"/><stop offset="28%" stop-color="#b9b9ff"/><stop offset="34.3%" stop-color="#ababff"/><stop offset="39%" stop-color="#9b9bff"/><stop offset="43.2%" stop-color="#8181ff"/><stop offset="50.8%" stop-color="#2727ff"/><stop offset="52.9%" stop-color="#1b1bff"/><stop offset="54.6%" stop-color="#1b1bff"/><stop offset="56.8%" stop-color="#2b2bff"/><stop offset="59.3%" stop-color="#4b4bff"/><stop offset="63.6%" stop-color="#8d8dff"/><stop offset="66.2%" stop-color="#a9a9ff"/><stop offset="69.2%" stop-color="#bbbbff"/><stop offset="72.2%" stop-color="#c1c1ff"/><stop offset="91.2%" stop-color="#bdbdff"/><stop offset="96.2%" stop-color="#c9c9ff"/><stop offset="100%" stop-color="#ddddff"/></linearGradient><linearGradient id="g2" x1="700" x2="1233" gradientUnits="userSpaceOnUse"><stop offset="0%" stop-color="#ddddff"/><stop offset="3.8%" stop-color="#c9c9ff"/><stop offset="7.5%" stop-color="#bdbdff"/><stop offset="26.6%" stop-color="#bbbbff"/><stop offset="31.9%" stop-color="#b3b3ff"/><stop offset="38.5%" stop-color="#9f9fff"/><stop offset="43.2%" stop-color="#8383ff"/><stop offset="51%" stop-color="#2929ff"/><stop offset="52.7%" stop-color="#1f1fff"/><stop offset="54.6%" stop-color="#1f1fff"/><stop offset="56.5%" stop-color="#2b2bff"/><stop offset="58.3%" stop-color="#4141ff"/><stop offset="63.6%" stop-color="#8f8fff"/><stop offset="66%" stop-color="#a9a9ff"/><stop offset="68.5%" stop-color="#b9b9ff"/><stop offset="71.3%" stop-color="#c1c1ff"/><stop offset="92.1%" stop-color="#bfbfff"/><stop offset="96.1%" stop-color="#c9c9ff"/><stop offset="100%" stop-color="#ddddff"/></linearGradient><linearGradient id="g3" x1="700" x2="1233" gradientUnits="userSpaceOnUse"><stop offset="0%" stop-color="#dfdfff"/><stop offset="3.6%" stop-color="#cbcbff"/><stop offset="7.3%" stop-color="#bfbfff"/><stop offset="28.7%" stop-color="#bbbbff"/><stop offset="38.1%" stop-color="#a3a3ff"/><stop offset="42.6%" stop-color="#8b8bff"/><stop offset="51%" stop-color="#2f2fff"/><stop offset="52.9%" stop-color="#2525ff"/><stop offset="54.4%" stop-color="#2525ff"/><stop offset="56.5%" stop-color="#3131ff"/><stop offset="58.7%" stop-color="#4b4bff"/><stop offset="62.5%" stop-color="#8383ff"/><stop offset="64.5%" stop-color="#9d9dff"/><stop offset="66.8%" stop-color="#b1b1ff"/><stop offset="69%" stop-color="#bdbdff"/><stop offset="71.7%" stop-color="#c3c3ff"/><stop offset="92.3%" stop-color="#c1c1ff"/><stop offset="96.2%" stop-color="#cbcbff"/><stop offset="100%" stop-color="#ddddff"/></linearGradient><linearGradient id="g4" x1="700" x2="1233" gradientUnits="userSpaceOnUse"><stop offset="0%" stop-color="#dfdfff"/><stop offset="4.5%" stop-color="#c9c9ff"/><stop offset="7.5%" stop-color="#c1c1ff"/><stop offset="27%" stop-color="#bfbfff"/><stop offset="31.3%" stop-color="#b9b9ff"/><stop offset="37.9%" stop-color="#a7a7ff"/><stop offset="40.7%" stop-color="#9b9bff"/><stop offset="43.2%" stop-color="#8b8bff"/><stop offset="50.3%" stop-color="#3d3dff"/><stop offset="52.9%" stop-color="#2d2dff"/><stop offset="54.4%" stop-color="#2d2dff"/><stop offset="56.5%" stop-color="#3939ff"/><stop offset="58.3%" stop-color="#4d4dff"/><stop offset="63%" stop-color="#8f8fff"/><stop offset="65.9%" stop-color="#adadff"/><stop offset="68.5%" stop-color="#bdbdff"/><stop offset="71.5%" stop-color="#c5c5ff"/><stop offset="92.1%" stop-color="#c3c3ff"/><stop offset="96.8%" stop-color="#cfcfff"/><stop offset="100%" stop-color="#dfdfff"/></linearGradient><linearGradient id="g5" x1="700" x2="1233" gradientUnits="userSpaceOnUse"><stop offset="0%" stop-color="#e1e1ff"/><stop offset="3.6%" stop-color="#cfcfff"/><stop offset="8.1%" stop-color="#c3c3ff"/><stop offset="28.1%" stop-color="#c1c1ff"/><stop offset="37.9%" stop-color="#ababff"/><stop offset="40.9%" stop-color="#9f9fff"/><stop offset="43.3%" stop-color="#8f8fff"/><stop offset="49.3%" stop-color="#4f4fff"/><stop offset="51.2%" stop-color="#3f3fff"/><stop offset="52.9%" stop-color="#3737ff"/><stop offset="55%" stop-color="#3939ff"/><stop offset="57%" stop-color="#4747ff"/><stop offset="64.5%" stop-color="#a5a5ff"/><stop offset="66.4%" stop-color="#b5b5ff"/><stop offset="68.7%" stop-color="#c1c1ff"/><stop offset="71.1%" stop-color="#c7c7ff"/><stop offset="91.6%" stop-color="#c5c5ff"/><stop offset="94.9%" stop-color="#cbcbff"/><stop offset="100%" stop-color="#e1e1ff"/></linearGradient><linearGradient id="g6" x1="700" x2="1233" gradientUnits="userSpaceOnUse"><stop offset="0%" stop-color="#e3e3ff"/><stop offset="3.2%" stop-color="#d3d3ff"/><stop offset="7.3%" stop-color="#c7c7ff"/><stop offset="27.2%" stop-color="#c5c5ff"/><stop offset="31.7%" stop-color="#bfbfff"/><stop offset="38.1%" stop-color="#afafff"/><stop offset="43.3%" stop-color="#9595ff"/><stop offset="49.7%" stop-color="#5555ff"/><stop offset="51.6%" stop-color="#4747ff"/><stop offset="53.3%" stop-color="#4141ff"/><stop offset="55.3%" stop-color="#4545ff"/><stop offset="57%" stop-color="#5151ff"/><stop offset="64.9%" stop-color="#adadff"/><stop offset="68.9%" stop-color="#c5c5ff"/><stop offset="71.9%" stop-color="#cbcbff"/><stop offset="92.5%" stop-color="#c9c9ff"/><stop offset="96.1%" stop-color="#d1d1ff"/><stop offset="100%" stop-color="#e1e1ff"/></linearGradient><linearGradient id="g7" x1="700" x2="1233" gradientUnits="userSpaceOnUse"><stop offset="0%" stop-color="#e5e5ff"/><stop offset="5.1%" stop-color="#cfcfff"/><stop offset="8.3%" stop-color="#c9c9ff"/><stop offset="28.9%" stop-color="#c7c7ff"/><stop offset="38.3%" stop-color="#b3b3ff"/><stop offset="42.8%" stop-color="#9f9fff"/><stop offset="45.8%" stop-color="#8787ff"/><stop offset="49.7%" stop-color="#5f5fff"/><stop offset="52.9%" stop-color="#4d4dff"/><stop offset="54.4%" stop-color="#4d4dff"/><stop offset="56.5%" stop-color="#5757ff"/><stop offset="64.4%" stop-color="#adadff"/><stop offset="66.4%" stop-color="#bdbdff"/><stop offset="69%" stop-color="#c9c9ff"/><stop offset="70.9%" stop-color="#cdcdff"/><stop offset="91.6%" stop-color="#cbcbff"/><stop offset="95.9%" stop-color="#d3d3ff"/><stop offset="100%" stop-color="#e3e3ff"/></linearGradient><linearGradient id="g8" x1="700" x2="1233" gradientUnits="userSpaceOnUse"><stop offset="0%" stop-color="#e5e5ff"/><stop offset="7.5%" stop-color="#cdcdff"/><stop offset="28.3%" stop-color="#cbcbff"/><stop offset="37%" stop-color="#bbbbff"/><stop offset="42.8%" stop-color="#a5a5ff"/><stop offset="50.5%" stop-color="#6363ff"/><stop offset="53.3%" stop-color="#5757ff"/><stop offset="55%" stop-color="#5959ff"/><stop offset="57%" stop-color="#6565ff"/><stop offset="63.8%" stop-color="#adadff"/><stop offset="66.4%" stop-color="#c1c1ff"/><stop offset="68.7%" stop-color="#cbcbff"/><stop offset="71.9%" stop-color="#d1d1ff"/><stop offset="92.5%" stop-color="#cfcfff"/><stop offset="95.7%" stop-color="#d5d5ff"/><stop offset="100%" stop-color="#e5e5ff"/></linearGradient><linearGradient id="g9" x1="700" x2="1233" gradientUnits="userSpaceOnUse"><stop offset="0%" stop-color="#e7e7ff"/><stop offset="4.1%" stop-color="#d7d7ff"/><stop offset="8.3%" stop-color="#cfcfff"/><stop offset="26.6%" stop-color="#cfcfff"/><stop offset="37.1%" stop-color="#bfbfff"/><stop offset="40.5%" stop-color="#b5b5ff"/><stop offset="43.3%" stop-color="#a7a7ff"/><stop offset="49.5%" stop-color="#7373ff"/><stop offset="53.1%" stop-color="#6161ff"/><stop offset="55.5%" stop-color="#6565ff"/><stop offset="57.4%" stop-color="#7171ff"/><stop offset="64.2%" stop-color="#b5b5ff"/><stop offset="68.3%" stop-color="#cdcdff"/><stop offset="71.1%" stop-color="#d3d3ff"/><stop offset="91.7%" stop-color="#d1d1ff"/><stop offset="95.5%" stop-color="#d7d7ff"/><stop offset="100%" stop-color="#e7e7ff"/></linearGradient><linearGradient id="g10" x1="700" x2="1233" gradientUnits="userSpaceOnUse"><stop offset="0%" stop-color="#e9e9ff"/><stop offset="4.1%" stop-color="#d9d9ff"/><stop offset="8.8%" stop-color="#d1d1ff"/><stop offset="27.8%" stop-color="#d1d1ff"/><stop offset="37.7%" stop-color="#c1c1ff"/><stop offset="42.8%" stop-color="#afafff"/><stop offset="50.3%" stop-color="#7575ff"/><stop offset="53.3%" stop-color="#6969ff"/><stop offset="55%" stop-color="#6b6bff"/><stop offset="56.7%" stop-color="#7373ff"/><stop offset="63.4%" stop-color="#b3b3ff"/><stop offset="68.1%" stop-color="#cfcfff"/><stop offset="70.7%" stop-color="#d5d5ff"/><stop offset="91.4%" stop-color="#d3d3ff"/><stop offset="95.5%" stop-color="#d9d9ff"/><stop offset="100%" stop-color="#e9e9ff"/></linearGradient><linearGradient id="g11" x1="700" x2="1233" gradientUnits="userSpaceOnUse"><stop offset="0%" stop-color="#e9e9ff"/><stop offset="4.7%" stop-color="#d9d9ff"/><stop offset="8.6%" stop-color="#d3d3ff"/><stop offset="27.8%" stop-color="#d3d3ff"/><stop offset="38.1%" stop-color="#c3c3ff"/><stop offset="43.7%" stop-color="#adadff"/><stop offset="49.9%" stop-color="#7d7dff"/><stop offset="53.3%" stop-color="#6f6fff"/><stop offset="55%" stop-color="#7171ff"/><stop offset="57%" stop-color="#7b7bff"/><stop offset="63.8%" stop-color="#b9b9ff"/><stop offset="66.6%" stop-color="#cbcbff"/><stop offset="68.7%" stop-color="#d3d3ff"/><stop offset="70.7%" stop-color="#d7d7ff"/><stop offset="91.7%" stop-color="#d5d5ff"/><stop offset="95.7%" stop-color="#dbdbff"/><stop offset="100%" stop-color="#e9e9ff"/></linearGradient><linearGradient id="g12" x1="700" x2="1233" gradientUnits="userSpaceOnUse"><stop offset="0%" stop-color="#ebebff"/><stop offset="3.6%" stop-color="#ddddff"/><stop offset="7.5%" stop-color="#d5d5ff"/><stop offset="29.5%" stop-color="#d3d3ff"/><stop offset="37.9%" stop-color="#c5c5ff"/><stop offset="43.7%" stop-color="#afafff"/><stop offset="50.1%" stop-color="#7f7fff"/><stop offset="52.7%" stop-color="#7373ff"/><stop offset="54.6%" stop-color="#7373ff"/><stop offset="56.8%" stop-color="#7d7dff"/><stop offset="64.4%" stop-color="#bfbfff"/><stop offset="69%" stop-color="#d5d5ff"/><stop offset="71.7%" stop-color="#d9d9ff"/><stop offset="92.7%" stop-color="#d7d7ff"/><stop offset="100%" stop-color="#e9e9ff"/></linearGradient><linearGradient id="g13" x1="700" x2="1233" gradientUnits="userSpaceOnUse"><stop offset="0%" stop-color="#ebebff"/><stop offset="4.3%" stop-color="#dbdbff"/><stop offset="7.7%" stop-color="#d5d5ff"/><stop offset="26.3%" stop-color="#d5d5ff"/><stop offset="38.1%" stop-color="#c5c5ff"/><stop offset="44.1%" stop-color="#adadff"/><stop offset="50.1%" stop-color="#7f7fff"/><stop offset="52.9%" stop-color="#7373ff"/><stop offset="54.6%" stop-color="#7373ff"/><stop offset="56.8%" stop-color="#7d7dff"/><stop offset="63.8%" stop-color="#bbbbff"/><stop offset="66.2%" stop-color="#cbcbff"/><stop offset="68.9%" stop-color="#d5d5ff"/><stop offset="71.3%" stop-color="#d9d9ff"/><stop offset="92.7%" stop-color="#d7d7ff"/><stop offset="100%" stop-color="#e9e9ff"/></linearGradient><linearGradient id="g14" x1="700" x2="1233" gradientUnits="userSpaceOnUse"><stop offset="0%" stop-color="#e9e9ff"/><stop offset="4.9%" stop-color="#d9d9ff"/><stop offset="9%" stop-color="#d3d3ff"/><stop offset="28.7%" stop-color="#d3d3ff"/><stop offset="37.7%" stop-color="#c5c5ff"/><stop offset="43.5%" stop-color="#afafff"/><stop offset="49.9%" stop-color="#7d7dff"/><stop offset="53.1%" stop-color="#6f6fff"/><stop offset="55%" stop-color="#7171ff"/><stop offset="57%" stop-color="#7b7bff"/><stop offset="64%" stop-color="#bbbbff"/><stop offset="66.4%" stop-color="#cbcbff"/><stop offset="69.2%" stop-color="#d5d5ff"/><stop offset="72%" stop-color="#d9d9ff"/><stop offset="91.2%" stop-color="#d5d5ff"/><stop offset="95.5%" stop-color="#dbdbff"/><stop offset="100%" stop-color="#e9e9ff"/></linearGradient><linearGradient id="g15" x1="700" x2="1233" gradientUnits="userSpaceOnUse"><stop offset="0%" stop-color="#e9e9ff"/><stop offset="6.9%" stop-color="#d3d3ff"/><stop offset="28.9%" stop-color="#d1d1ff"/><stop offset="37.5%" stop-color="#c3c3ff"/><stop offset="40.3%" stop-color="#bbbbff"/><stop offset="43.5%" stop-color="#ababff"/><stop offset="49.3%" stop-color="#7b7bff"/><stop offset="52.5%" stop-color="#6969ff"/><stop offset="54.8%" stop-color="#6969ff"/><stop offset="56.8%" stop-color="#7373ff"/><stop offset="64.4%" stop-color="#bbbbff"/><stop offset="69%" stop-color="#d3d3ff"/><stop offset="73%" stop-color="#d7d7ff"/><stop offset="91%" stop-color="#d3d3ff"/><stop offset="95.3%" stop-color="#d9d9ff"/><stop offset="100%" stop-color="#e9e9ff"/></linearGradient><linearGradient id="g16" x1="700" x2="1233" gradientUnits="userSpaceOnUse"><stop offset="0%" stop-color="#e7e7ff"/><stop offset="3.9%" stop-color="#d7d7ff"/><stop offset="7.5%" stop-color="#cfcfff"/><stop offset="27.2%" stop-color="#cfcfff"/><stop offset="36.8%" stop-color="#c1c1ff"/><stop offset="40.7%" stop-color="#b5b5ff"/><stop offset="43%" stop-color="#a9a9ff"/><stop offset="45.4%" stop-color="#9797ff"/><stop offset="49.9%" stop-color="#6d6dff"/><stop offset="52.9%" stop-color="#5d5dff"/><stop offset="55.2%" stop-color="#5f5fff"/><stop offset="56.8%" stop-color="#6969ff"/><stop offset="64%" stop-color="#b3b3ff"/><stop offset="66.4%" stop-color="#c5c5ff"/><stop offset="68.7%" stop-color="#cfcfff"/><stop offset="71.7%" stop-color="#d5d5ff"/><stop offset="92.3%" stop-color="#d1d1ff"/><stop offset="96.2%" stop-color="#d9d9ff"/><stop offset="100%" stop-color="#e7e7ff"/></linearGradient><linearGradient id="g17" x1="700" x2="1233" gradientUnits="userSpaceOnUse"><stop offset="0%" stop-color="#e5e5ff"/><stop offset="4.7%" stop-color="#d1d1ff"/><stop offset="7.3%" stop-color="#cbcbff"/><stop offset="26.5%" stop-color="#cbcbff"/><stop offset="31.3%" stop-color="#c7c7ff"/><stop offset="37.9%" stop-color="#b9b9ff"/><stop offset="40.7%" stop-color="#afafff"/><stop offset="43.9%" stop-color="#9b9bff"/><stop offset="49.7%" stop-color="#6161ff"/><stop offset="52.7%" stop-color="#4f4fff"/><stop offset="54.8%" stop-color="#4f4fff"/><stop offset="56.8%" stop-color="#5b5bff"/><stop offset="64.9%" stop-color="#b5b5ff"/><stop offset="69.2%" stop-color="#cdcdff"/><stop offset="72.2%" stop-color="#d1d1ff"/><stop offset="92.3%" stop-color="#cdcdff"/><stop offset="96.1%" stop-color="#d5d5ff"/><stop offset="100%" stop-color="#e5e5ff"/></linearGradient><linearGradient id="g18" x1="700" x2="1233" gradientUnits="userSpaceOnUse"><stop offset="0%" stop-color="#e3e3ff"/><stop offset="3.4%" stop-color="#d1d1ff"/><stop offset="7.5%" stop-color="#c5c5ff"/><stop offset="28.3%" stop-color="#c5c5ff"/><stop offset="37.7%" stop-color="#b3b3ff"/><stop offset="40%" stop-color="#ababff"/><stop offset="43%" stop-color="#9999ff"/><stop offset="50.1%" stop-color="#4d4dff"/><stop offset="53.3%" stop-color="#3b3bff"/><stop offset="54.2%" stop-color="#3b3bff"/><stop offset="56.3%" stop-color="#4545ff"/><stop offset="58.9%" stop-color="#6161ff"/><stop offset="63.2%" stop-color="#9b9bff"/><stop offset="65.3%" stop-color="#b1b1ff"/><stop offset="68.3%" stop-color="#c5c5ff"/><stop offset="71.3%" stop-color="#cdcdff"/><stop offset="91.6%" stop-color="#c7c7ff"/><stop offset="95.5%" stop-color="#cfcfff"/><stop offset="100%" stop-color="#e3e3ff"/></linearGradient><linearGradient id="g19" x1="700" x2="1233" gradientUnits="userSpaceOnUse"><stop offset="0%" stop-color="#dfdfff"/><stop offset="3.9%" stop-color="#c9c9ff"/><stop offset="6.9%" stop-color="#bfbfff"/><stop offset="28%" stop-color="#bfbfff"/><stop offset="37.3%" stop-color="#adadff"/><stop offset="41.3%" stop-color="#9b9bff"/><stop offset="43.3%" stop-color="#8b8bff"/><stop offset="51.2%" stop-color="#2f2fff"/><stop offset="53.3%" stop-color="#2525ff"/><stop offset="55.9%" stop-color="#2d2dff"/><stop offset="58.2%" stop-color="#4545ff"/><stop offset="63.4%" stop-color="#9393ff"/><stop offset="66.2%" stop-color="#b1b1ff"/><stop offset="69.2%" stop-color="#c3c3ff"/><stop offset="71.9%" stop-color="#c9c9ff"/><stop offset="76.2%" stop-color="#c9c9ff"/><stop offset="83.7%" stop-color="#c1c1ff"/><stop offset="91.9%" stop-color="#c1c1ff"/><stop offset="95.9%" stop-color="#cbcbff"/><stop offset="100%" stop-color="#dfdfff"/></linearGradient><linearGradient id="g20" x1="700" x2="1233" gradientUnits="userSpaceOnUse"><stop offset="0%" stop-color="#dbdbff"/><stop offset="5.1%" stop-color="#bdbdff"/><stop offset="7.1%" stop-color="#b7b7ff"/><stop offset="29.3%" stop-color="#b7b7ff"/><stop offset="33.8%" stop-color="#afafff"/><stop offset="38.8%" stop-color="#9f9fff"/><stop offset="42%" stop-color="#8b8bff"/><stop offset="45%" stop-color="#6b6bff"/><stop offset="49.9%" stop-color="#2525ff"/><stop offset="51.2%" stop-color="#1717ff"/><stop offset="52.9%" stop-color="#0d0dff"/><stop offset="54.6%" stop-color="#0d0dff"/><stop offset="57.2%" stop-color="#2323ff"/><stop offset="64%" stop-color="#8f8fff"/><stop offset="66.2%" stop-color="#a9a9ff"/><stop offset="69.2%" stop-color="#bdbdff"/><stop offset="71.5%" stop-color="#c3c3ff"/><stop offset="76.9%" stop-color="#c3c3ff"/><stop offset="84.8%" stop-color="#b9b9ff"/><stop offset="91.6%" stop-color="#b9b9ff"/><stop offset="95.9%" stop-color="#c5c5ff"/><stop offset="100%" stop-color="#dbdbff"/></linearGradient><linearGradient id="g21" x1="700" x2="1233" gradientUnits="userSpaceOnUse"><stop offset="0%" stop-color="#d7d7ff"/><stop offset="3.9%" stop-color="#bbbbff"/><stop offset="7.5%" stop-color="#adadff"/><stop offset="13.5%" stop-color="#b1b1ff"/><stop offset="18%" stop-color="#adadff"/><stop offset="29.5%" stop-color="#afafff"/><stop offset="37.1%" stop-color="#9d9dff"/><stop offset="40.9%" stop-color="#8989ff"/><stop offset="43.7%" stop-color="#6d6dff"/><stop offset="46%" stop-color="#4d4dff"/><stop offset="49.3%" stop-color="#1515ff"/><stop offset="51%" stop-color="#0100fe"/><stop offset="52.5%" stop-color="#0d00f2"/><stop offset="54.4%" stop-color="#0f00f0"/><stop offset="56.5%" stop-color="#0101ff"/><stop offset="58.5%" stop-color="#1f1fff"/><stop offset="62.1%" stop-color="#6363ff"/><stop offset="64.5%" stop-color="#8b8bff"/><stop offset="67%" stop-color="#a7a7ff"/><stop offset="69.4%" stop-color="#b7b7ff"/><stop offset="71.3%" stop-color="#bdbdff"/><stop offset="74.7%" stop-color="#bfbfff"/><stop offset="84.6%" stop-color="#b1b1ff"/><stop offset="89.9%" stop-color="#afafff"/><stop offset="95.1%" stop-color="#bbbbff"/><stop offset="100%" stop-color="#d7d7ff"/></linearGradient><linearGradient id="g22" x1="700" x2="1233" gradientUnits="userSpaceOnUse"><stop offset="0%" stop-color="#d3d3ff"/><stop offset="4.5%" stop-color="#afafff"/><stop offset="7.5%" stop-color="#a3a3ff"/><stop offset="12.2%" stop-color="#a7a7ff"/><stop offset="18.6%" stop-color="#a3a3ff"/><stop offset="29.3%" stop-color="#a7a7ff"/><stop offset="33.8%" stop-color="#9f9fff"/><stop offset="38.3%" stop-color="#8f8fff"/><stop offset="40.5%" stop-color="#8181ff"/><stop offset="43.5%" stop-color="#6161ff"/><stop offset="45.6%" stop-color="#4141ff"/><stop offset="49%" stop-color="#0303ff"/><stop offset="49.3%" stop-color="#0300fc"/><stop offset="50.5%" stop-color="#1500ea"/><stop offset="52.2%" stop-color="#2700d8"/><stop offset="54%" stop-color="#2d00d2"/><stop offset="55.5%" stop-color="#2500da"/><stop offset="56.5%" stop-color="#1b00e4"/><stop offset="58.2%" stop-color="#0101ff"/><stop offset="63%" stop-color="#6565ff"/><stop offset="64.9%" stop-color="#8585ff"/><stop offset="67.9%" stop-color="#a7a7ff"/><stop offset="70%" stop-color="#b3b3ff"/><stop offset="75%" stop-color="#b9b9ff"/><stop offset="85.6%" stop-color="#a7a7ff"/><stop offset="91.2%" stop-color="#a7a7ff"/><stop offset="94.2%" stop-color="#afafff"/><stop offset="100%" stop-color="#d3d3ff"/></linearGradient><linearGradient id="g23" x1="700" x2="1233" gradientUnits="userSpaceOnUse"><stop offset="0%" stop-color="#cfcfff"/><stop offset="4.3%" stop-color="#a7a7ff"/><stop offset="7.1%" stop-color="#9999ff"/><stop offset="10.5%" stop-color="#9999ff"/><stop offset="12.9%" stop-color="#9f9fff"/><stop offset="18.6%" stop-color="#9999ff"/><stop offset="30.8%" stop-color="#9d9dff"/><stop offset="36.8%" stop-color="#8d8dff"/><stop offset="40%" stop-color="#7b7bff"/><stop offset="42%" stop-color="#6767ff"/><stop offset="44.3%" stop-color="#4747ff"/><stop offset="47.8%" stop-color="#0101ff"/><stop offset="48%" stop-color="#0300fc"/><stop offset="49.9%" stop-color="#2700d8"/><stop offset="51.4%" stop-color="#3d00c2"/><stop offset="52.9%" stop-color="#4900b6"/><stop offset="54%" stop-color="#4b00b4"/><stop offset="55%" stop-color="#4700b8"/><stop offset="56.5%" stop-color="#3700c8"/><stop offset="57.8%" stop-color="#2100de"/><stop offset="59.3%" stop-color="#0100fe"/><stop offset="63.8%" stop-color="#6565ff"/><stop offset="65.7%" stop-color="#8585ff"/><stop offset="67.9%" stop-color="#9f9fff"/><stop offset="70.2%" stop-color="#adadff"/><stop offset="72.4%" stop-color="#b3b3ff"/><stop offset="75.2%" stop-color="#b3b3ff"/><stop offset="85.7%" stop-color="#9d9dff"/><stop offset="91.2%" stop-color="#9d9dff"/><stop offset="94.7%" stop-color="#a9a9ff"/><stop offset="100%" stop-color="#cfcfff"/></linearGradient><linearGradient id="g24" x1="700" x2="1233" gradientUnits="userSpaceOnUse"><stop offset="0%" stop-color="#c9c9ff"/><stop offset="4.1%" stop-color="#9f9fff"/><stop offset="7.5%" stop-color="#8d8dff"/><stop offset="9.6%" stop-color="#8d8dff"/><stop offset="14.1%" stop-color="#9797ff"/><stop offset="19.9%" stop-color="#8d8dff"/><stop offset="30.6%" stop-color="#9595ff"/><stop offset="36.2%" stop-color="#8787ff"/><stop offset="39.2%" stop-color="#7777ff"/><stop offset="42%" stop-color="#5b5bff"/><stop offset="44.7%" stop-color="#3131ff"/><stop offset="46.9%" stop-color="#0101ff"/><stop offset="50.5%" stop-color="#4b00b4"/><stop offset="52.5%" stop-color="#65009a"/><stop offset="53.5%" stop-color="#690096"/><stop offset="54.6%" stop-color="#670098"/><stop offset="56.1%" stop-color="#5900a6"/><stop offset="57.8%" stop-color="#3b00c4"/><stop offset="60.2%" stop-color="#0100fe"/><stop offset="63%" stop-color="#4747ff"/><stop offset="65.1%" stop-color="#7171ff"/><stop offset="67%" stop-color="#8d8dff"/><stop offset="70.2%" stop-color="#a7a7ff"/><stop offset="72.2%" stop-color="#adadff"/><stop offset="75.4%" stop-color="#adadff"/><stop offset="85.6%" stop-color="#9393ff"/><stop offset="90.1%" stop-color="#9191ff"/><stop offset="92.1%" stop-color="#9595ff"/><stop offset="95.1%" stop-color="#a3a3ff"/><stop offset="100%" stop-color="#cbcbff"/></linearGradient><linearGradient id="g25" x1="700" x2="1233" gradientUnits="userSpaceOnUse"><stop offset="0%" stop-color="#c5c5ff"/><stop offset="4.9%" stop-color="#8f8fff"/><stop offset="7.7%" stop-color="#8181ff"/><stop offset="9.9%" stop-color="#8383ff"/><stop offset="12.9%" stop-color="#8d8dff"/><stop offset="15.8%" stop-color="#8d8dff"/><stop offset="19.3%" stop-color="#8383ff"/><stop offset="23.1%" stop-color="#8383ff"/><stop offset="26.5%" stop-color="#8b8bff"/><stop offset="30.6%" stop-color="#8d8dff"/><stop offset="36.8%" stop-color="#7d7dff"/><stop offset="39.4%" stop-color="#6d6dff"/><stop offset="41.7%" stop-color="#5555ff"/><stop offset="43.9%" stop-color="#3131ff"/><stop offset="46.2%" stop-color="#0100fe"/><stop offset="48.4%" stop-color="#3900c6"/><stop offset="50.7%" stop-color="#690096"/><stop offset="52.7%" stop-color="#83007c"/><stop offset="54.4%" stop-color="#85007a"/><stop offset="56.1%" stop-color="#75008a"/><stop offset="57.2%" stop-color="#61009e"/><stop offset="58.5%" stop-color="#4300bc"/><stop offset="61%" stop-color="#0101ff"/><stop offset="64%" stop-color="#4f4fff"/><stop offset="66%" stop-color="#7777ff"/><stop offset="68.7%" stop-color="#9797ff"/><stop offset="70.2%" stop-color="#a1a1ff"/><stop offset="73.4%" stop-color="#a9a9ff"/><stop offset="76%" stop-color="#a7a7ff"/><stop offset="84.6%" stop-color="#8b8bff"/><stop offset="90.6%" stop-color="#8787ff"/><stop offset="94%" stop-color="#9393ff"/><stop offset="100%" stop-color="#c5c5ff"/></linearGradient><linearGradient id="g26" x1="700" x2="1233" gradientUnits="userSpaceOnUse"><stop offset="0%" stop-color="#c1c1ff"/><stop offset="4.9%" stop-color="#8585ff"/><stop offset="7.3%" stop-color="#7777ff"/><stop offset="9.2%" stop-color="#7777ff"/><stop offset="13.1%" stop-color="#8585ff"/><stop offset="15.4%" stop-color="#8585ff"/><stop offset="20.8%" stop-color="#7777ff"/><stop offset="28.1%" stop-color="#8585ff"/><stop offset="31.3%" stop-color="#8585ff"/><stop offset="36.6%" stop-color="#7777ff"/><stop offset="39.4%" stop-color="#6565ff"/><stop offset="41.1%" stop-color="#5353ff"/><stop offset="43.2%" stop-color="#3333ff"/><stop offset="45.4%" stop-color="#0101ff"/><stop offset="45.6%" stop-color="#0300fc"/><stop offset="49.2%" stop-color="#61009e"/><stop offset="51%" stop-color="#890076"/><stop offset="52.9%" stop-color="#9f0060"/><stop offset="54.2%" stop-color="#a1005e"/><stop offset="55.2%" stop-color="#9b0064"/><stop offset="56.1%" stop-color="#8f0070"/><stop offset="57.6%" stop-color="#71008e"/><stop offset="58.9%" stop-color="#4f00b0"/><stop offset="61.5%" stop-color="#0100fe"/><stop offset="64%" stop-color="#4343ff"/><stop offset="65.9%" stop-color="#6b6bff"/><stop offset="68.5%" stop-color="#8f8fff"/><stop offset="70.9%" stop-color="#9f9fff"/><stop offset="75.4%" stop-color="#a3a3ff"/><stop offset="85.6%" stop-color="#7f7fff"/><stop offset="90.8%" stop-color="#7d7dff"/><stop offset="92.7%" stop-color="#8383ff"/><stop offset="94.9%" stop-color="#9191ff"/><stop offset="100%" stop-color="#c1c1ff"/></linearGradient><linearGradient id="g27" x1="700" x2="1233" gradientUnits="userSpaceOnUse"><stop offset="0%" stop-color="#bbbbff"/><stop offset="3.4%" stop-color="#8d8dff"/><stop offset="5.6%" stop-color="#7575ff"/><stop offset="7.1%" stop-color="#6d6dff"/><stop offset="9.2%" stop-color="#6d6dff"/><stop offset="13.1%" stop-color="#7d7dff"/><stop offset="15.6%" stop-color="#7d7dff"/><stop offset="19.5%" stop-color="#6f6fff"/><stop offset="23.1%" stop-color="#6f6fff"/><stop offset="29.5%" stop-color="#7f7fff"/><stop offset="32.6%" stop-color="#7d7dff"/><stop offset="36.2%" stop-color="#7373ff"/><stop offset="38.8%" stop-color="#6363ff"/><stop offset="41.1%" stop-color="#4b4bff"/><stop offset="43.2%" stop-color="#2929ff"/><stop offset="44.8%" stop-color="#0303ff"/><stop offset="45.4%" stop-color="#0b00f4"/><stop offset="49.7%" stop-color="#83007c"/><stop offset="51.6%" stop-color="#a90056"/><stop offset="53.3%" stop-color="#b90046"/><stop offset="55%" stop-color="#b5004a"/><stop offset="56.3%" stop-color="#a3005c"/><stop offset="58.3%" stop-color="#73008c"/><stop offset="61.9%" stop-color="#0300fc"/><stop offset="62.1%" stop-color="#0303ff"/><stop offset="64.7%" stop-color="#4b4bff"/><stop offset="66.4%" stop-color="#6d6dff"/><stop offset="68.7%" stop-color="#8b8bff"/><stop offset="70.5%" stop-color="#9999ff"/><stop offset="72.4%" stop-color="#9f9fff"/><stop offset="75.2%" stop-color="#9f9fff"/><stop offset="78.2%" stop-color="#9797ff"/><stop offset="85%" stop-color="#7777ff"/><stop offset="90.6%" stop-color="#7373ff"/><stop offset="92.9%" stop-color="#7b7bff"/><stop offset="95.1%" stop-color="#8b8bff"/><stop offset="100%" stop-color="#bfbfff"/></linearGradient><linearGradient id="g28" x1="700" x2="1233" gradientUnits="userSpaceOnUse"><stop offset="0%" stop-color="#b9b9ff"/><stop offset="3.8%" stop-color="#8181ff"/><stop offset="5.8%" stop-color="#6b6bff"/><stop offset="7.5%" stop-color="#6363ff"/><stop offset="9.4%" stop-color="#6565ff"/><stop offset="13.3%" stop-color="#7777ff"/><stop offset="15.2%" stop-color="#7777ff"/><stop offset="20.5%" stop-color="#6565ff"/><stop offset="23.1%" stop-color="#6767ff"/><stop offset="29.5%" stop-color="#7979ff"/><stop offset="33.2%" stop-color="#7777ff"/><stop offset="36%" stop-color="#6f6fff"/><stop offset="38.5%" stop-color="#6161ff"/><stop offset="41.1%" stop-color="#4545ff"/><stop offset="43.3%" stop-color="#1d1dff"/><stop offset="44.5%" stop-color="#0101ff"/><stop offset="45.2%" stop-color="#1100ee"/><stop offset="48.2%" stop-color="#6b0094"/><stop offset="50.3%" stop-color="#a3005c"/><stop offset="52.2%" stop-color="#c5003a"/><stop offset="53.7%" stop-color="#cf0030"/><stop offset="54.8%" stop-color="#cb0034"/><stop offset="55.5%" stop-color="#c3003c"/><stop offset="57%" stop-color="#a70058"/><stop offset="58.5%" stop-color="#7f0080"/><stop offset="62.3%" stop-color="#0300fc"/><stop offset="62.5%" stop-color="#0303ff"/><stop offset="64.7%" stop-color="#4343ff"/><stop offset="66.4%" stop-color="#6767ff"/><stop offset="67.5%" stop-color="#7979ff"/><stop offset="69.2%" stop-color="#8b8bff"/><stop offset="70.9%" stop-color="#9797ff"/><stop offset="73.5%" stop-color="#9d9dff"/><stop offset="75.6%" stop-color="#9b9bff"/><stop offset="78.6%" stop-color="#9191ff"/><stop offset="85.6%" stop-color="#6d6dff"/><stop offset="89.9%" stop-color="#6969ff"/><stop offset="92.1%" stop-color="#6f6fff"/><stop offset="93.8%" stop-color="#7979ff"/><stop offset="100%" stop-color="#bbbbff"/></linearGradient><linearGradient id="g29" x1="700" x2="1233" gradientUnits="userSpaceOnUse"><stop offset="0%" stop-color="#b5b5ff"/><stop offset="4.5%" stop-color="#7171ff"/><stop offset="6.2%" stop-color="#6161ff"/><stop offset="7.7%" stop-color="#5b5bff"/><stop offset="9.2%" stop-color="#5d5dff"/><stop offset="12%" stop-color="#6d6dff"/><stop offset="14.3%" stop-color="#7373ff"/><stop offset="19.9%" stop-color="#5f5fff"/><stop offset="22.7%" stop-color="#5f5fff"/><stop offset="27.8%" stop-color="#7171ff"/><stop offset="30.2%" stop-color="#7575ff"/><stop offset="33.2%" stop-color="#7373ff"/><stop offset="36%" stop-color="#6b6bff"/><stop offset="38.5%" stop-color="#5d5dff"/><stop offset="40.7%" stop-color="#4545ff"/><stop offset="42.2%" stop-color="#2d2dff"/><stop offset="44.3%" stop-color="#0100fe"/><stop offset="45.4%" stop-color="#1f00e0"/><stop offset="48.4%" stop-color="#7d0082"/><stop offset="50.1%" stop-color="#ad0052"/><stop offset="52.2%" stop-color="#d5002a"/><stop offset="53.5%" stop-color="#df0020"/><stop offset="55%" stop-color="#d90026"/><stop offset="56.8%" stop-color="#bb0044"/><stop offset="59.1%" stop-color="#790086"/><stop offset="62.7%" stop-color="#0100fe"/><stop offset="64.9%" stop-color="#4141ff"/><stop offset="67.2%" stop-color="#6f6fff"/><stop offset="69%" stop-color="#8787ff"/><stop offset="71.1%" stop-color="#9595ff"/><stop offset="72.8%" stop-color="#9999ff"/><stop offset="76.7%" stop-color="#9595ff"/><stop offset="84.8%" stop-color="#6969ff"/><stop offset="89.1%" stop-color="#6161ff"/><stop offset="91.9%" stop-color="#6767ff"/><stop offset="93.8%" stop-color="#7373ff"/><stop offset="96.1%" stop-color="#8989ff"/><stop offset="100%" stop-color="#b9b9ff"/></linearGradient><linearGradient id="g30" x1="700" x2="1233" gradientUnits="userSpaceOnUse"><stop offset="0%" stop-color="#b3b3ff"/><stop offset="4.3%" stop-color="#6f6fff"/><stop offset="6%" stop-color="#5d5dff"/><stop offset="7.1%" stop-color="#5757ff"/><stop offset="8.8%" stop-color="#5757ff"/><stop offset="13.9%" stop-color="#6f6fff"/><stop offset="15.6%" stop-color="#6d6dff"/><stop offset="20.3%" stop-color="#5959ff"/><stop offset="23.3%" stop-color="#5b5bff"/><stop offset="29.6%" stop-color="#7171ff"/><stop offset="32.8%" stop-color="#7171ff"/><stop offset="35.5%" stop-color="#6b6bff"/><stop offset="38.6%" stop-color="#5959ff"/><stop offset="40.3%" stop-color="#4747ff"/><stop offset="42%" stop-color="#2d2dff"/><stop offset="44.1%" stop-color="#0100fe"/><stop offset="45.6%" stop-color="#2b00d4"/><stop offset="50.1%" stop-color="#b70048"/><stop offset="51.8%" stop-color="#db0024"/><stop offset="53.5%" stop-color="#eb0014"/><stop offset="54%" stop-color="#eb0014"/><stop offset="55.3%" stop-color="#e1001e"/><stop offset="57%" stop-color="#c1003e"/><stop offset="59.5%" stop-color="#770088"/><stop offset="62.9%" stop-color="#0100fe"/><stop offset="64.9%" stop-color="#3d3dff"/><stop offset="66.8%" stop-color="#6565ff"/><stop offset="67.9%" stop-color="#7777ff"/><stop offset="69.8%" stop-color="#8b8bff"/><stop offset="71.1%" stop-color="#9393ff"/><stop offset="72.4%" stop-color="#9797ff"/><stop offset="76.7%" stop-color="#9393ff"/><stop offset="85%" stop-color="#6363ff"/><stop offset="87.1%" stop-color="#5d5dff"/><stop offset="90.4%" stop-color="#5d5dff"/><stop offset="92.9%" stop-color="#6767ff"/><stop offset="94.6%" stop-color="#7575ff"/><stop offset="100%" stop-color="#b7b7ff"/></linearGradient><linearGradient id="g31" x1="700" x2="1233" gradientUnits="userSpaceOnUse"><stop offset="0%" stop-color="#b1b1ff"/><stop offset="4.9%" stop-color="#6565ff"/><stop offset="7.5%" stop-color="#5353ff"/><stop offset="9.2%" stop-color="#5555ff"/><stop offset="12.6%" stop-color="#6969ff"/><stop offset="14.1%" stop-color="#6d6dff"/><stop offset="20.6%" stop-color="#5555ff"/><stop offset="22.9%" stop-color="#5757ff"/><stop offset="29.6%" stop-color="#6f6fff"/><stop offset="33%" stop-color="#6f6fff"/><stop offset="35.6%" stop-color="#6969ff"/><stop offset="38.5%" stop-color="#5959ff"/><stop offset="40.5%" stop-color="#4343ff"/><stop offset="42.2%" stop-color="#2727ff"/><stop offset="43.9%" stop-color="#0101ff"/><stop offset="45.2%" stop-color="#2300dc"/><stop offset="49.5%" stop-color="#ad0052"/><stop offset="50.3%" stop-color="#c1003e"/><stop offset="51.8%" stop-color="#e1001e"/><stop offset="53.5%" stop-color="#f1000e"/><stop offset="54%" stop-color="#f1000e"/><stop offset="55.3%" stop-color="#e70018"/><stop offset="57%" stop-color="#c70038"/><stop offset="58.9%" stop-color="#8f0070"/><stop offset="62.9%" stop-color="#0300fc"/><stop offset="63%" stop-color="#0303ff"/><stop offset="65.1%" stop-color="#3f3fff"/><stop offset="67%" stop-color="#6767ff"/><stop offset="69%" stop-color="#8383ff"/><stop offset="71.5%" stop-color="#9393ff"/><stop offset="73%" stop-color="#9797ff"/><stop offset="76.4%" stop-color="#9393ff"/><stop offset="79.4%" stop-color="#8585ff"/><stop offset="85.2%" stop-color="#5f5fff"/><stop offset="87.4%" stop-color="#5959ff"/><stop offset="90.1%" stop-color="#5959ff"/><stop offset="91.6%" stop-color="#5d5dff"/><stop offset="94%" stop-color="#6d6dff"/><stop offset="100%" stop-color="#b5b5ff"/></linearGradient><linearGradient id="g32" x1="700" x2="1233" gradientUnits="userSpaceOnUse"><stop offset="0%" stop-color="#b1b1ff"/><stop offset="4.5%" stop-color="#6969ff"/><stop offset="6%" stop-color="#5959ff"/><stop offset="7.1%" stop-color="#5353ff"/><stop offset="9.4%" stop-color="#5555ff"/><stop offset="13.3%" stop-color="#6b6bff"/><stop offset="15.2%" stop-color="#6b6bff"/><stop offset="20.1%" stop-color="#5555ff"/><stop offset="23.3%" stop-color="#5757ff"/><stop offset="28.1%" stop-color="#6b6bff"/><stop offset="30.2%" stop-color="#6f6fff"/><stop offset="32.6%" stop-color="#6f6fff"/><stop offset="36%" stop-color="#6767ff"/><stop offset="37.9%" stop-color="#5d5dff"/><stop offset="40.3%" stop-color="#4545ff"/><stop offset="42.2%" stop-color="#2727ff"/><stop offset="43.9%" stop-color="#0101ff"/><stop offset="45.4%" stop-color="#2900d6"/><stop offset="49%" stop-color="#9d0062"/><stop offset="50.1%" stop-color="#bd0042"/><stop offset="51.4%" stop-color="#db0024"/><stop offset="52.2%" stop-color="#e70018"/><stop offset="53.3%" stop-color="#f1000e"/><stop offset="54.2%" stop-color="#f1000e"/><stop offset="55.5%" stop-color="#e5001a"/><stop offset="57.2%" stop-color="#c3003c"/><stop offset="59.3%" stop-color="#83007c"/><stop offset="62.1%" stop-color="#1d00e2"/><stop offset="62.9%" stop-color="#0500fa"/><stop offset="63%" stop-color="#0303ff"/><stop offset="64.7%" stop-color="#3535ff"/><stop offset="66.8%" stop-color="#6363ff"/><stop offset="67.9%" stop-color="#7575ff"/><stop offset="69.8%" stop-color="#8989ff"/><stop offset="71.5%" stop-color="#9393ff"/><stop offset="73.5%" stop-color="#9797ff"/><stop offset="76.2%" stop-color="#9393ff"/><stop offset="79.5%" stop-color="#8383ff"/><stop offset="85.4%" stop-color="#5d5dff"/><stop offset="89.5%" stop-color="#5757ff"/><stop offset="91.4%" stop-color="#5b5bff"/><stop offset="93.4%" stop-color="#6767ff"/><stop offset="96.2%" stop-color="#8585ff"/><stop offset="100%" stop-color="#b5b5ff"/></linearGradient><linearGradient id="g33" x1="700" x2="1233" gradientUnits="userSpaceOnUse"><stop offset="0%" stop-color="#b1b1ff"/><stop offset="4.3%" stop-color="#6d6dff"/><stop offset="6%" stop-color="#5b5bff"/><stop offset="7.1%" stop-color="#5555ff"/><stop offset="9%" stop-color="#5555ff"/><stop offset="13.9%" stop-color="#6d6dff"/><stop offset="15.4%" stop-color="#6b6bff"/><stop offset="18.6%" stop-color="#5b5bff"/><stop offset="21%" stop-color="#5555ff"/><stop offset="23.5%" stop-color="#5959ff"/><stop offset="29.6%" stop-color="#6f6fff"/><stop offset="33.2%" stop-color="#6f6fff"/><stop offset="36.2%" stop-color="#6767ff"/><stop offset="38.3%" stop-color="#5b5bff"/><stop offset="40.7%" stop-color="#4141ff"/><stop offset="42.8%" stop-color="#1d1dff"/><stop offset="43.9%" stop-color="#0101ff"/><stop offset="44.3%" stop-color="#0700f8"/><stop offset="45.4%" stop-color="#2700d8"/><stop offset="49.2%" stop-color="#9f0060"/><stop offset="50.7%" stop-color="#c70038"/><stop offset="52.2%" stop-color="#e3001c"/><stop offset="53.5%" stop-color="#ed0012"/><stop offset="54.6%" stop-color="#eb0014"/><stop offset="55.5%" stop-color="#e1001e"/><stop offset="57.2%" stop-color="#bf0040"/><stop offset="59.5%" stop-color="#790086"/><stop offset="62.9%" stop-color="#0300fc"/><stop offset="63%" stop-color="#0303ff"/><stop offset="64.9%" stop-color="#3b3bff"/><stop offset="67%" stop-color="#6767ff"/><stop offset="68.9%" stop-color="#8181ff"/><stop offset="71.5%" stop-color="#9393ff"/><stop offset="73.2%" stop-color="#9797ff"/><stop offset="75.6%" stop-color="#9595ff"/><stop offset="79%" stop-color="#8787ff"/><stop offset="85.2%" stop-color="#5f5fff"/><stop offset="87.2%" stop-color="#5959ff"/><stop offset="90.2%" stop-color="#5959ff"/><stop offset="92.7%" stop-color="#6363ff"/><stop offset="94%" stop-color="#6d6dff"/><stop offset="100%" stop-color="#b5b5ff"/></linearGradient><linearGradient id="g34" x1="700" x2="1233" gradientUnits="userSpaceOnUse"><stop offset="0%" stop-color="#b3b3ff"/><stop offset="4.9%" stop-color="#6969ff"/><stop offset="6.2%" stop-color="#5d5dff"/><stop offset="7.9%" stop-color="#5757ff"/><stop offset="13.7%" stop-color="#6f6fff"/><stop offset="15.6%" stop-color="#6d6dff"/><stop offset="20.3%" stop-color="#5959ff"/><stop offset="23.1%" stop-color="#5b5bff"/><stop offset="29.6%" stop-color="#7171ff"/><stop offset="33%" stop-color="#7171ff"/><stop offset="36.6%" stop-color="#6767ff"/><stop offset="39.2%" stop-color="#5555ff"/><stop offset="40.7%" stop-color="#4343ff"/><stop offset="42.2%" stop-color="#2b2bff"/><stop offset="44.1%" stop-color="#0101ff"/><stop offset="45.8%" stop-color="#2d00d2"/><stop offset="48.2%" stop-color="#7b0084"/><stop offset="50.1%" stop-color="#b1004e"/><stop offset="52%" stop-color="#d70028"/><stop offset="53.3%" stop-color="#e3001c"/><stop offset="54.2%" stop-color="#e3001c"/><stop offset="55.2%" stop-color="#db0024"/><stop offset="55.7%" stop-color="#d5002a"/><stop offset="57%" stop-color="#bb0044"/><stop offset="58.9%" stop-color="#85007a"/><stop offset="62.7%" stop-color="#0300fc"/><stop offset="62.9%" stop-color="#0303ff"/><stop offset="65.3%" stop-color="#4747ff"/><stop offset="67%" stop-color="#6969ff"/><stop offset="69.6%" stop-color="#8989ff"/><stop offset="71.3%" stop-color="#9393ff"/><stop offset="72.6%" stop-color="#9797ff"/><stop offset="76.5%" stop-color="#9393ff"/><stop offset="79.5%" stop-color="#8585ff"/><stop offset="84.4%" stop-color="#6565ff"/><stop offset="86.7%" stop-color="#5d5dff"/><stop offset="89.5%" stop-color="#5b5bff"/><stop offset="91.4%" stop-color="#5f5fff"/><stop offset="94.4%" stop-color="#7373ff"/><stop offset="100%" stop-color="#b7b7ff"/></linearGradient><linearGradient id="g35" x1="700" x2="1233" gradientUnits="userSpaceOnUse"><stop offset="0%" stop-color="#b5b5ff"/><stop offset="4.1%" stop-color="#7777ff"/><stop offset="5.6%" stop-color="#6767ff"/><stop offset="7.5%" stop-color="#5d5dff"/><stop offset="9.4%" stop-color="#5f5fff"/><stop offset="12.4%" stop-color="#6f6fff"/><stop offset="14.3%" stop-color="#7373ff"/><stop offset="19.7%" stop-color="#5f5fff"/><stop offset="23.6%" stop-color="#6161ff"/><stop offset="28.9%" stop-color="#7373ff"/><stop offset="33.4%" stop-color="#7373ff"/><stop offset="36.2%" stop-color="#6b6bff"/><stop offset="38.1%" stop-color="#6161ff"/><stop offset="40.7%" stop-color="#4747ff"/><stop offset="42%" stop-color="#3333ff"/><stop offset="44.3%" stop-color="#0303ff"/><stop offset="44.5%" stop-color="#0300fc"/><stop offset="50.3%" stop-color="#a90056"/><stop offset="52%" stop-color="#c90036"/><stop offset="53.3%" stop-color="#d5002a"/><stop offset="54.6%" stop-color="#d3002c"/><stop offset="55.7%" stop-color="#c70038"/><stop offset="57.2%" stop-color="#a90056"/><stop offset="58.3%" stop-color="#8b0074"/><stop offset="62.5%" stop-color="#0300fc"/><stop offset="62.7%" stop-color="#0303ff"/><stop offset="65.1%" stop-color="#4747ff"/><stop offset="66.8%" stop-color="#6969ff"/><stop offset="69.6%" stop-color="#8b8bff"/><stop offset="71.3%" stop-color="#9595ff"/><stop offset="73.2%" stop-color="#9999ff"/><stop offset="76.4%" stop-color="#9595ff"/><stop offset="78%" stop-color="#8f8fff"/><stop offset="85%" stop-color="#6767ff"/><stop offset="87.1%" stop-color="#6161ff"/><stop offset="90.2%" stop-color="#6161ff"/><stop offset="92.9%" stop-color="#6b6bff"/><stop offset="94.4%" stop-color="#7777ff"/><stop offset="100%" stop-color="#b7b7ff"/></linearGradient><linearGradient id="g36" x1="700" x2="1233" gradientUnits="userSpaceOnUse"><stop offset="0%" stop-color="#b7b7ff"/><stop offset="3.9%" stop-color="#7f7fff"/><stop offset="5.4%" stop-color="#6f6fff"/><stop offset="7.1%" stop-color="#6565ff"/><stop offset="9.2%" stop-color="#6565ff"/><stop offset="13.7%" stop-color="#7777ff"/><stop offset="16.3%" stop-color="#7373ff"/><stop offset="19.9%" stop-color="#6565ff"/><stop offset="22.7%" stop-color="#6565ff"/><stop offset="28.7%" stop-color="#7777ff"/><stop offset="32.8%" stop-color="#7777ff"/><stop offset="36%" stop-color="#6f6fff"/><stop offset="38.3%" stop-color="#6363ff"/><stop offset="40.9%" stop-color="#4949ff"/><stop offset="42.8%" stop-color="#2b2bff"/><stop offset="44.7%" stop-color="#0101ff"/><stop offset="46%" stop-color="#2100de"/><stop offset="48.8%" stop-color="#73008c"/><stop offset="50.3%" stop-color="#990066"/><stop offset="51.8%" stop-color="#b5004a"/><stop offset="53.5%" stop-color="#c3003c"/><stop offset="54.6%" stop-color="#c1003e"/><stop offset="55.7%" stop-color="#b5004a"/><stop offset="57.2%" stop-color="#990066"/><stop offset="58.7%" stop-color="#71008e"/><stop offset="62.3%" stop-color="#0101ff"/><stop offset="64.4%" stop-color="#3b3bff"/><stop offset="66.8%" stop-color="#6d6dff"/><stop offset="69%" stop-color="#8989ff"/><stop offset="71.3%" stop-color="#9797ff"/><stop offset="73.2%" stop-color="#9b9bff"/><stop offset="75.6%" stop-color="#9999ff"/><stop offset="78.6%" stop-color="#8f8fff"/><stop offset="84.8%" stop-color="#6d6dff"/><stop offset="87.2%" stop-color="#6767ff"/><stop offset="90.1%" stop-color="#6767ff"/><stop offset="92.1%" stop-color="#6d6dff"/><stop offset="94%" stop-color="#7979ff"/><stop offset="97.2%" stop-color="#9999ff"/><stop offset="100%" stop-color="#bbbbff"/></linearGradient><linearGradient id="g37" x1="700" x2="1233" gradientUnits="userSpaceOnUse"><stop offset="0%" stop-color="#bbbbff"/><stop offset="3%" stop-color="#9191ff"/><stop offset="5.6%" stop-color="#7575ff"/><stop offset="7.1%" stop-color="#6d6dff"/><stop offset="9.4%" stop-color="#6d6dff"/><stop offset="12.9%" stop-color="#7b7bff"/><stop offset="15.4%" stop-color="#7b7bff"/><stop offset="20.6%" stop-color="#6b6bff"/><stop offset="30%" stop-color="#7d7dff"/><stop offset="34%" stop-color="#7979ff"/><stop offset="36.4%" stop-color="#7171ff"/><stop offset="38.8%" stop-color="#6363ff"/><stop offset="40.7%" stop-color="#5151ff"/><stop offset="43.2%" stop-color="#2b2bff"/><stop offset="45%" stop-color="#0101ff"/><stop offset="46.3%" stop-color="#1f00e0"/><stop offset="49.3%" stop-color="#71008e"/><stop offset="51%" stop-color="#95006a"/><stop offset="52.5%" stop-color="#a90056"/><stop offset="53.3%" stop-color="#ad0052"/><stop offset="55%" stop-color="#a90056"/><stop offset="56.5%" stop-color="#95006a"/><stop offset="57.8%" stop-color="#790086"/><stop offset="58.9%" stop-color="#5b00a4"/><stop offset="61.9%" stop-color="#0100fe"/><stop offset="64.7%" stop-color="#4b4bff"/><stop offset="66.6%" stop-color="#6f6fff"/><stop offset="68.5%" stop-color="#8787ff"/><stop offset="70.7%" stop-color="#9797ff"/><stop offset="73%" stop-color="#9d9dff"/><stop offset="75.8%" stop-color="#9b9bff"/><stop offset="79.4%" stop-color="#8f8fff"/><stop offset="85%" stop-color="#7373ff"/><stop offset="90.6%" stop-color="#6f6fff"/><stop offset="91.9%" stop-color="#7373ff"/><stop offset="94.7%" stop-color="#8585ff"/><stop offset="100%" stop-color="#bdbdff"/></linearGradient><linearGradient id="g38" x1="700" x2="1233" gradientUnits="userSpaceOnUse"><stop offset="0%" stop-color="#bdbdff"/><stop offset="4.9%" stop-color="#8383ff"/><stop offset="7.1%" stop-color="#7575ff"/><stop offset="9.6%" stop-color="#7575ff"/><stop offset="13.1%" stop-color="#8181ff"/><stop offset="15.2%" stop-color="#8181ff"/><stop offset="20.3%" stop-color="#7373ff"/><stop offset="23.5%" stop-color="#7575ff"/><stop offset="28.5%" stop-color="#8181ff"/><stop offset="31.7%" stop-color="#8181ff"/><stop offset="36%" stop-color="#7777ff"/><stop offset="38.1%" stop-color="#6d6dff"/><stop offset="40.7%" stop-color="#5757ff"/><stop offset="43.5%" stop-color="#2d2dff"/><stop offset="45.6%" stop-color="#0100fe"/><stop offset="49%" stop-color="#5500aa"/><stop offset="50.7%" stop-color="#790086"/><stop offset="51.8%" stop-color="#890076"/><stop offset="53.5%" stop-color="#970068"/><stop offset="54.8%" stop-color="#93006c"/><stop offset="56.1%" stop-color="#85007a"/><stop offset="57%" stop-color="#75008a"/><stop offset="58.3%" stop-color="#5700a8"/><stop offset="61.4%" stop-color="#0300fc"/><stop offset="61.5%" stop-color="#0101ff"/><stop offset="63.6%" stop-color="#3939ff"/><stop offset="65.7%" stop-color="#6565ff"/><stop offset="67.7%" stop-color="#8383ff"/><stop offset="70.5%" stop-color="#9999ff"/><stop offset="72.6%" stop-color="#9f9fff"/><stop offset="74.9%" stop-color="#9f9fff"/><stop offset="78.8%" stop-color="#9595ff"/><stop offset="85.4%" stop-color="#7979ff"/><stop offset="90.8%" stop-color="#7777ff"/><stop offset="94.7%" stop-color="#8b8bff"/><stop offset="100%" stop-color="#bfbfff"/></linearGradient><linearGradient id="g39" x1="700" x2="1233" gradientUnits="userSpaceOnUse"><stop offset="0%" stop-color="#c1c1ff"/><stop offset="4.3%" stop-color="#8f8fff"/><stop offset="7.3%" stop-color="#7d7dff"/><stop offset="9.9%" stop-color="#7d7dff"/><stop offset="14.8%" stop-color="#8787ff"/><stop offset="19.9%" stop-color="#7b7bff"/><stop offset="22.5%" stop-color="#7b7bff"/><stop offset="30%" stop-color="#8787ff"/><stop offset="36.6%" stop-color="#7979ff"/><stop offset="39.4%" stop-color="#6969ff"/><stop offset="41.3%" stop-color="#5757ff"/><stop offset="43.7%" stop-color="#3333ff"/><stop offset="46.2%" stop-color="#0101ff"/><stop offset="50.1%" stop-color="#5900a6"/><stop offset="51.6%" stop-color="#71008e"/><stop offset="53.1%" stop-color="#7d0082"/><stop offset="54.8%" stop-color="#7b0084"/><stop offset="56.3%" stop-color="#6b0094"/><stop offset="58.5%" stop-color="#3f00c0"/><stop offset="60.8%" stop-color="#0500fa"/><stop offset="61%" stop-color="#0101ff"/><stop offset="63.4%" stop-color="#3f3fff"/><stop offset="65.3%" stop-color="#6565ff"/><stop offset="67%" stop-color="#7f7fff"/><stop offset="68.1%" stop-color="#8b8bff"/><stop offset="70.4%" stop-color="#9b9bff"/><stop offset="72.4%" stop-color="#a1a1ff"/><stop offset="75.2%" stop-color="#a1a1ff"/><stop offset="78%" stop-color="#9b9bff"/><stop offset="85%" stop-color="#8181ff"/><stop offset="87.6%" stop-color="#7d7dff"/><stop offset="91%" stop-color="#7f7fff"/><stop offset="94.7%" stop-color="#9191ff"/><stop offset="100%" stop-color="#c3c3ff"/></linearGradient><linearGradient id="g40" x1="700" x2="1233" gradientUnits="userSpaceOnUse"><stop offset="0%" stop-color="#c3c3ff"/><stop offset="4.9%" stop-color="#9191ff"/><stop offset="8.1%" stop-color="#8383ff"/><stop offset="12.6%" stop-color="#8b8bff"/><stop offset="15.8%" stop-color="#8b8bff"/><stop offset="19.3%" stop-color="#8383ff"/><stop offset="31%" stop-color="#8b8bff"/><stop offset="36.2%" stop-color="#7f7fff"/><stop offset="39.6%" stop-color="#6d6dff"/><stop offset="42%" stop-color="#5555ff"/><stop offset="44.8%" stop-color="#2929ff"/><stop offset="46.7%" stop-color="#0101ff"/><stop offset="50.7%" stop-color="#4d00b2"/><stop offset="52.3%" stop-color="#61009e"/><stop offset="53.1%" stop-color="#65009a"/><stop offset="54.4%" stop-color="#65009a"/><stop offset="56.1%" stop-color="#5700a8"/><stop offset="57.8%" stop-color="#3b00c4"/><stop offset="60.2%" stop-color="#0300fc"/><stop offset="60.4%" stop-color="#0101ff"/><stop offset="63.6%" stop-color="#4d4dff"/><stop offset="65.9%" stop-color="#7575ff"/><stop offset="68.3%" stop-color="#9191ff"/><stop offset="70.2%" stop-color="#9d9dff"/><stop offset="72.2%" stop-color="#a3a3ff"/><stop offset="75.4%" stop-color="#a3a3ff"/><stop offset="85.4%" stop-color="#8787ff"/><stop offset="90.2%" stop-color="#8585ff"/><stop offset="93.1%" stop-color="#8d8dff"/><stop offset="94.7%" stop-color="#9797ff"/><stop offset="100%" stop-color="#c5c5ff"/></linearGradient><linearGradient id="g41" x1="700" x2="1233" gradientUnits="userSpaceOnUse"><stop offset="0%" stop-color="#c7c7ff"/><stop offset="4.1%" stop-color="#9d9dff"/><stop offset="7.3%" stop-color="#8b8bff"/><stop offset="9%" stop-color="#8989ff"/><stop offset="13.9%" stop-color="#9191ff"/><stop offset="19.3%" stop-color="#8989ff"/><stop offset="31.1%" stop-color="#8f8fff"/><stop offset="36.8%" stop-color="#8181ff"/><stop offset="39.8%" stop-color="#7171ff"/><stop offset="42.8%" stop-color="#5353ff"/><stop offset="44.7%" stop-color="#3737ff"/><stop offset="47.5%" stop-color="#0101ff"/><stop offset="47.7%" stop-color="#0300fc"/><stop offset="51%" stop-color="#3d00c2"/><stop offset="52.2%" stop-color="#4900b6"/><stop offset="54%" stop-color="#4f00b0"/><stop offset="56.1%" stop-color="#4100be"/><stop offset="57.8%" stop-color="#2700d8"/><stop offset="59.7%" stop-color="#0101ff"/><stop offset="63%" stop-color="#4b4bff"/><stop offset="65.3%" stop-color="#7373ff"/><stop offset="68.1%" stop-color="#9393ff"/><stop offset="70%" stop-color="#9f9fff"/><stop offset="72%" stop-color="#a5a5ff"/><stop offset="75.6%" stop-color="#a5a5ff"/><stop offset="85.2%" stop-color="#8d8dff"/><stop offset="89.7%" stop-color="#8b8bff"/><stop offset="91.9%" stop-color="#8f8fff"/><stop offset="94.6%" stop-color="#9b9bff"/><stop offset="100%" stop-color="#c7c7ff"/></linearGradient><linearGradient id="g42" x1="700" x2="1233" gradientUnits="userSpaceOnUse"><stop offset="0%" stop-color="#c9c9ff"/><stop offset="3.9%" stop-color="#a3a3ff"/><stop offset="6.6%" stop-color="#9393ff"/><stop offset="8.1%" stop-color="#8f8fff"/><stop offset="12%" stop-color="#9393ff"/><stop offset="18.6%" stop-color="#8f8fff"/><stop offset="30.8%" stop-color="#9393ff"/><stop offset="37.1%" stop-color="#8383ff"/><stop offset="40.2%" stop-color="#7373ff"/><stop offset="43.3%" stop-color="#5353ff"/><stop offset="46%" stop-color="#2b2bff"/><stop offset="48.4%" stop-color="#0100fe"/><stop offset="50.1%" stop-color="#1d00e2"/><stop offset="51.8%" stop-color="#3100ce"/><stop offset="53.1%" stop-color="#3900c6"/><stop offset="54.2%" stop-color="#3900c6"/><stop offset="55.2%" stop-color="#3500ca"/><stop offset="56.8%" stop-color="#2300dc"/><stop offset="58.9%" stop-color="#0101ff"/><stop offset="64.4%" stop-color="#6b6bff"/><stop offset="67.9%" stop-color="#9595ff"/><stop offset="70%" stop-color="#a1a1ff"/><stop offset="72.4%" stop-color="#a7a7ff"/><stop offset="75%" stop-color="#a7a7ff"/><stop offset="84.4%" stop-color="#9393ff"/><stop offset="90.2%" stop-color="#9191ff"/><stop offset="93.2%" stop-color="#9999ff"/><stop offset="95.1%" stop-color="#a3a3ff"/><stop offset="100%" stop-color="#c9c9ff"/></linearGradient><linearGradient id="g43" x1="700" x2="1233" gradientUnits="userSpaceOnUse"><stop offset="0%" stop-color="#cbcbff"/><stop offset="4.7%" stop-color="#a1a1ff"/><stop offset="8.3%" stop-color="#9393ff"/><stop offset="13.1%" stop-color="#9797ff"/><stop offset="18.2%" stop-color="#9393ff"/><stop offset="29.6%" stop-color="#9797ff"/><stop offset="33.4%" stop-color="#9191ff"/><stop offset="37.9%" stop-color="#8383ff"/><stop offset="40.9%" stop-color="#7171ff"/><stop offset="43.7%" stop-color="#5555ff"/><stop offset="46%" stop-color="#3535ff"/><stop offset="49%" stop-color="#0303ff"/><stop offset="49.3%" stop-color="#0100fe"/><stop offset="51.8%" stop-color="#1f00e0"/><stop offset="54%" stop-color="#2700d8"/><stop offset="56.3%" stop-color="#1900e6"/><stop offset="58.2%" stop-color="#0101ff"/><stop offset="63.2%" stop-color="#5f5fff"/><stop offset="65.1%" stop-color="#7b7bff"/><stop offset="67.4%" stop-color="#9393ff"/><stop offset="69.6%" stop-color="#a1a1ff"/><stop offset="71.9%" stop-color="#a7a7ff"/><stop offset="75.8%" stop-color="#a7a7ff"/><stop offset="84.1%" stop-color="#9797ff"/><stop offset="90.1%" stop-color="#9595ff"/><stop offset="92.1%" stop-color="#9999ff"/><stop offset="95.3%" stop-color="#a7a7ff"/><stop offset="100%" stop-color="#cbcbff"/></linearGradient><linearGradient id="g44" x1="700" x2="1233" gradientUnits="userSpaceOnUse"><stop offset="0%" stop-color="#cbcbff"/><stop offset="4.5%" stop-color="#a5a5ff"/><stop offset="7.5%" stop-color="#9797ff"/><stop offset="15%" stop-color="#9999ff"/><stop offset="22%" stop-color="#9595ff"/><stop offset="29.5%" stop-color="#9999ff"/><stop offset="37.3%" stop-color="#8787ff"/><stop offset="41.8%" stop-color="#6d6dff"/><stop offset="44.5%" stop-color="#5151ff"/><stop offset="50.1%" stop-color="#0101ff"/><stop offset="51.6%" stop-color="#0f00f0"/><stop offset="53.1%" stop-color="#1700e8"/><stop offset="55.5%" stop-color="#1100ee"/><stop offset="57%" stop-color="#0100fe"/><stop offset="58%" stop-color="#0b0bff"/><stop offset="64.4%" stop-color="#7575ff"/><stop offset="66.2%" stop-color="#8b8bff"/><stop offset="69%" stop-color="#9f9fff"/><stop offset="71.7%" stop-color="#a7a7ff"/><stop offset="76%" stop-color="#a7a7ff"/><stop offset="86.3%" stop-color="#9797ff"/><stop offset="91%" stop-color="#9999ff"/><stop offset="94.9%" stop-color="#a7a7ff"/><stop offset="100%" stop-color="#cdcdff"/></linearGradient><linearGradient id="g45" x1="700" x2="1233" gradientUnits="userSpaceOnUse"><stop offset="0%" stop-color="#cbcbff"/><stop offset="4.3%" stop-color="#a7a7ff"/><stop offset="8.1%" stop-color="#9797ff"/><stop offset="30%" stop-color="#9999ff"/><stop offset="37.9%" stop-color="#8585ff"/><stop offset="40.7%" stop-color="#7777ff"/><stop offset="43%" stop-color="#6565ff"/><stop offset="45.6%" stop-color="#4747ff"/><stop offset="49.2%" stop-color="#1515ff"/><stop offset="51%" stop-color="#0101ff"/><stop offset="52.9%" stop-color="#0b00f4"/><stop offset="54.4%" stop-color="#0b00f4"/><stop offset="56.1%" stop-color="#0100fe"/><stop offset="58.2%" stop-color="#1717ff"/><stop offset="64%" stop-color="#7373ff"/><stop offset="66.8%" stop-color="#9191ff"/><stop offset="69%" stop-color="#9f9fff"/><stop offset="71.1%" stop-color="#a5a5ff"/><stop offset="74.7%" stop-color="#a7a7ff"/><stop offset="84.8%" stop-color="#9999ff"/><stop offset="90.1%" stop-color="#9999ff"/><stop offset="94.7%" stop-color="#a7a7ff"/><stop offset="100%" stop-color="#cdcdff"/></linearGradient><linearGradient id="g46" x1="700" x2="1233" gradientUnits="userSpaceOnUse"><stop offset="0%" stop-color="#cbcbff"/><stop offset="4.3%" stop-color="#a7a7ff"/><stop offset="7.9%" stop-color="#9797ff"/><stop offset="29.5%" stop-color="#9999ff"/><stop offset="37.1%" stop-color="#8787ff"/><stop offset="40.9%" stop-color="#7575ff"/><stop offset="42.8%" stop-color="#6767ff"/><stop offset="45.8%" stop-color="#4747ff"/><stop offset="48.8%" stop-color="#1f1fff"/><stop offset="51.6%" stop-color="#0303ff"/><stop offset="55%" stop-color="#0100fe"/><stop offset="55.9%" stop-color="#0505ff"/><stop offset="58.2%" stop-color="#1d1dff"/><stop offset="62.3%" stop-color="#5d5dff"/><stop offset="64.5%" stop-color="#7b7bff"/><stop offset="66.6%" stop-color="#8f8fff"/><stop offset="68.5%" stop-color="#9b9bff"/><stop offset="70.9%" stop-color="#a3a3ff"/><stop offset="74.9%" stop-color="#a5a5ff"/><stop offset="83.9%" stop-color="#9999ff"/><stop offset="90.2%" stop-color="#9999ff"/><stop offset="94.4%" stop-color="#a5a5ff"/><stop offset="100%" stop-color="#cdcdff"/></linearGradient><linearGradient id="g47" x1="700" x2="1233" gradientUnits="userSpaceOnUse"><stop offset="0%" stop-color="#cbcbff"/><stop offset="4.7%" stop-color="#a3a3ff"/><stop offset="7.9%" stop-color="#9595ff"/><stop offset="12.9%" stop-color="#9393ff"/><stop offset="27.6%" stop-color="#9999ff"/><stop offset="32.8%" stop-color="#9191ff"/><stop offset="37.5%" stop-color="#8383ff"/><stop offset="40.9%" stop-color="#7373ff"/><stop offset="43.5%" stop-color="#5f5fff"/><stop offset="50.3%" stop-color="#1111ff"/><stop offset="52.7%" stop-color="#0101ff"/><stop offset="54.4%" stop-color="#0101ff"/><stop offset="56.5%" stop-color="#0d0dff"/><stop offset="58.5%" stop-color="#2525ff"/><stop offset="63.6%" stop-color="#6f6fff"/><stop offset="65.9%" stop-color="#8787ff"/><stop offset="68.1%" stop-color="#9797ff"/><stop offset="71.3%" stop-color="#a1a1ff"/><stop offset="76.2%" stop-color="#a1a1ff"/><stop offset="83.7%" stop-color="#9797ff"/><stop offset="91.2%" stop-color="#9999ff"/><stop offset="95.7%" stop-color="#ababff"/><stop offset="100%" stop-color="#cbcbff"/></linearGradient><linearGradient id="g48" x1="700" x2="1233" gradientUnits="userSpaceOnUse"><stop offset="0%" stop-color="#c9c9ff"/><stop offset="4.9%" stop-color="#9f9fff"/><stop offset="8.3%" stop-color="#9191ff"/><stop offset="29.1%" stop-color="#9595ff"/><stop offset="37.5%" stop-color="#7f7fff"/><stop offset="40.9%" stop-color="#6f6fff"/><stop offset="43.3%" stop-color="#5d5dff"/><stop offset="50.7%" stop-color="#0d0dff"/><stop offset="52.9%" stop-color="#0101ff"/><stop offset="54.4%" stop-color="#0101ff"/><stop offset="55.7%" stop-color="#0707ff"/><stop offset="58%" stop-color="#1d1dff"/><stop offset="62.1%" stop-color="#5959ff"/><stop offset="65.5%" stop-color="#8181ff"/><stop offset="68.9%" stop-color="#9797ff"/><stop offset="71.1%" stop-color="#9d9dff"/><stop offset="76.4%" stop-color="#9d9dff"/><stop offset="84.4%" stop-color="#9393ff"/><stop offset="90.6%" stop-color="#9595ff"/><stop offset="93.4%" stop-color="#9d9dff"/><stop offset="96.1%" stop-color="#ababff"/><stop offset="100%" stop-color="#cbcbff"/></linearGradient><linearGradient id="g49" x1="700" x2="1233" gradientUnits="userSpaceOnUse"><stop offset="0%" stop-color="#c7c7ff"/><stop offset="5.3%" stop-color="#9999ff"/><stop offset="9%" stop-color="#8b8bff"/><stop offset="27.8%" stop-color="#9393ff"/><stop offset="32.3%" stop-color="#8b8bff"/><stop offset="37.7%" stop-color="#7979ff"/><stop offset="43.2%" stop-color="#5959ff"/><stop offset="50.5%" stop-color="#0b0bff"/><stop offset="51.6%" stop-color="#0303ff"/><stop offset="54.8%" stop-color="#0100fe"/><stop offset="56.1%" stop-color="#0707ff"/><stop offset="58.5%" stop-color="#2121ff"/><stop offset="62.7%" stop-color="#5d5dff"/><stop offset="65.5%" stop-color="#7d7dff"/><stop offset="68.9%" stop-color="#9393ff"/><stop offset="71.3%" stop-color="#9999ff"/><stop offset="75.6%" stop-color="#9999ff"/><stop offset="83.5%" stop-color="#8f8fff"/><stop offset="90.6%" stop-color="#9191ff"/><stop offset="94.9%" stop-color="#a1a1ff"/><stop offset="100%" stop-color="#c9c9ff"/></linearGradient><linearGradient id="g50" x1="700" x2="1233" gradientUnits="userSpaceOnUse"><stop offset="0%" stop-color="#c3c3ff"/><stop offset="5.4%" stop-color="#9393ff"/><stop offset="9.2%" stop-color="#8585ff"/><stop offset="27.6%" stop-color="#8f8fff"/><stop offset="33.2%" stop-color="#8383ff"/><stop offset="38.5%" stop-color="#6f6fff"/><stop offset="42.2%" stop-color="#5959ff"/><stop offset="43.9%" stop-color="#4b4bff"/><stop offset="50.7%" stop-color="#0303ff"/><stop offset="51.4%" stop-color="#0100fe"/><stop offset="53.1%" stop-color="#0900f6"/><stop offset="55.7%" stop-color="#0100fe"/><stop offset="56.1%" stop-color="#0101ff"/><stop offset="58.3%" stop-color="#1919ff"/><stop offset="63.2%" stop-color="#5f5fff"/><stop offset="66%" stop-color="#7d7dff"/><stop offset="68.7%" stop-color="#8d8dff"/><stop offset="73.5%" stop-color="#9595ff"/><stop offset="84.1%" stop-color="#8989ff"/><stop offset="90.1%" stop-color="#8b8bff"/><stop offset="94.9%" stop-color="#9d9dff"/><stop offset="100%" stop-color="#c7c7ff"/></linearGradient><linearGradient id="g51" x1="700" x2="1233" gradientUnits="userSpaceOnUse"><stop offset="0%" stop-color="#c1c1ff"/><stop offset="4.7%" stop-color="#9393ff"/><stop offset="6.6%" stop-color="#8787ff"/><stop offset="9%" stop-color="#7f7fff"/><stop offset="13.5%" stop-color="#7f7fff"/><stop offset="23.5%" stop-color="#8b8bff"/><stop offset="27%" stop-color="#8b8bff"/><stop offset="32.1%" stop-color="#8181ff"/><stop offset="37.7%" stop-color="#6b6bff"/><stop offset="42.4%" stop-color="#4f4fff"/><stop offset="44.7%" stop-color="#3b3bff"/><stop offset="49.9%" stop-color="#0101ff"/><stop offset="52.9%" stop-color="#1100ee"/><stop offset="54.8%" stop-color="#0f00f0"/><stop offset="56.7%" stop-color="#0100fe"/><stop offset="58%" stop-color="#0d0dff"/><stop offset="64.5%" stop-color="#6969ff"/><stop offset="66.2%" stop-color="#7979ff"/><stop offset="68.5%" stop-color="#8787ff"/><stop offset="71.7%" stop-color="#8f8fff"/><stop offset="74.3%" stop-color="#8f8fff"/><stop offset="83.5%" stop-color="#8383ff"/><stop offset="90.1%" stop-color="#8585ff"/><stop offset="94.7%" stop-color="#9797ff"/><stop offset="100%" stop-color="#c3c3ff"/></linearGradient><linearGradient id="g52" x1="700" x2="1233" gradientUnits="userSpaceOnUse"><stop offset="0%" stop-color="#bdbdff"/><stop offset="4.5%" stop-color="#8f8fff"/><stop offset="7.9%" stop-color="#7b7bff"/><stop offset="12.6%" stop-color="#7777ff"/><stop offset="24.6%" stop-color="#8787ff"/><stop offset="30.2%" stop-color="#8181ff"/><stop offset="34.7%" stop-color="#7171ff"/><stop offset="40.5%" stop-color="#5353ff"/><stop offset="44.5%" stop-color="#3333ff"/><stop offset="49%" stop-color="#0101ff"/><stop offset="51.2%" stop-color="#1300ec"/><stop offset="53.1%" stop-color="#1b00e4"/><stop offset="55.7%" stop-color="#1300ec"/><stop offset="57.4%" stop-color="#0100fe"/><stop offset="58.9%" stop-color="#1111ff"/><stop offset="63.6%" stop-color="#5757ff"/><stop offset="66.2%" stop-color="#7373ff"/><stop offset="68.5%" stop-color="#8181ff"/><stop offset="71.5%" stop-color="#8989ff"/><stop offset="74.5%" stop-color="#8989ff"/><stop offset="82.7%" stop-color="#7d7dff"/><stop offset="90.2%" stop-color="#7f7fff"/><stop offset="94.6%" stop-color="#9191ff"/><stop offset="97.2%" stop-color="#a5a5ff"/><stop offset="100%" stop-color="#c1c1ff"/></linearGradient><linearGradient id="g53" x1="700" x2="1233" gradientUnits="userSpaceOnUse"><stop offset="0%" stop-color="#bbbbff"/><stop offset="4.3%" stop-color="#8b8bff"/><stop offset="8.3%" stop-color="#7373ff"/><stop offset="10.5%" stop-color="#6f6fff"/><stop offset="13.3%" stop-color="#7171ff"/><stop offset="22.3%" stop-color="#8181ff"/><stop offset="28.9%" stop-color="#7f7fff"/><stop offset="33.2%" stop-color="#7171ff"/><stop offset="39.4%" stop-color="#5151ff"/><stop offset="43.2%" stop-color="#3535ff"/><stop offset="48%" stop-color="#0101ff"/><stop offset="51%" stop-color="#1d00e2"/><stop offset="52.7%" stop-color="#2500da"/><stop offset="55.2%" stop-color="#2100de"/><stop offset="56.8%" stop-color="#1300ec"/><stop offset="58.2%" stop-color="#0100fe"/><stop offset="59.1%" stop-color="#0b0bff"/><stop offset="64%" stop-color="#5555ff"/><stop offset="66.2%" stop-color="#6d6dff"/><stop offset="68.9%" stop-color="#7d7dff"/><stop offset="71.1%" stop-color="#8383ff"/><stop offset="74.7%" stop-color="#8383ff"/><stop offset="83.9%" stop-color="#7575ff"/><stop offset="89.5%" stop-color="#7777ff"/><stop offset="91.7%" stop-color="#7d7dff"/><stop offset="94.7%" stop-color="#8d8dff"/><stop offset="97.2%" stop-color="#a1a1ff"/><stop offset="100%" stop-color="#bfbfff"/></linearGradient><linearGradient id="g54" x1="700" x2="1233" gradientUnits="userSpaceOnUse"><stop offset="0%" stop-color="#b7b7ff"/><stop offset="5.1%" stop-color="#7f7fff"/><stop offset="8.6%" stop-color="#6b6bff"/><stop offset="12.4%" stop-color="#6969ff"/><stop offset="22.7%" stop-color="#7d7dff"/><stop offset="28.5%" stop-color="#7b7bff"/><stop offset="33.2%" stop-color="#6b6bff"/><stop offset="39.6%" stop-color="#4747ff"/><stop offset="43.2%" stop-color="#2b2bff"/><stop offset="47.1%" stop-color="#0101ff"/><stop offset="50.7%" stop-color="#2500da"/><stop offset="52.5%" stop-color="#2f00d0"/><stop offset="54.2%" stop-color="#2f00d0"/><stop offset="55.7%" stop-color="#2700d8"/><stop offset="58.9%" stop-color="#0100fe"/><stop offset="64.2%" stop-color="#5151ff"/><stop offset="66.2%" stop-color="#6767ff"/><stop offset="68.7%" stop-color="#7777ff"/><stop offset="70.7%" stop-color="#7d7dff"/><stop offset="74.9%" stop-color="#7d7dff"/><stop offset="83.1%" stop-color="#6f6fff"/><stop offset="90.6%" stop-color="#7373ff"/><stop offset="95.1%" stop-color="#8b8bff"/><stop offset="100%" stop-color="#bbbbff"/></linearGradient><linearGradient id="g55" x1="700" x2="1233" gradientUnits="userSpaceOnUse"><stop offset="0%" stop-color="#b5b5ff"/><stop offset="4.7%" stop-color="#7d7dff"/><stop offset="6.4%" stop-color="#6f6fff"/><stop offset="8.4%" stop-color="#6565ff"/><stop offset="12.8%" stop-color="#6363ff"/><stop offset="22.7%" stop-color="#7979ff"/><stop offset="28.5%" stop-color="#7777ff"/><stop offset="32.1%" stop-color="#6b6bff"/><stop offset="38.1%" stop-color="#4949ff"/><stop offset="42.6%" stop-color="#2727ff"/><stop offset="46.2%" stop-color="#0101ff"/><stop offset="49.5%" stop-color="#2500da"/><stop offset="52.5%" stop-color="#3900c6"/><stop offset="54.2%" stop-color="#3900c6"/><stop offset="55.7%" stop-color="#3100ce"/><stop offset="57.4%" stop-color="#1f00e0"/><stop offset="59.3%" stop-color="#0300fc"/><stop offset="59.7%" stop-color="#0303ff"/><stop offset="62.1%" stop-color="#2d2dff"/><stop offset="64.2%" stop-color="#4b4bff"/><stop offset="66.6%" stop-color="#6565ff"/><stop offset="68.5%" stop-color="#7171ff"/><stop offset="71.3%" stop-color="#7979ff"/><stop offset="73.9%" stop-color="#7979ff"/><stop offset="82.7%" stop-color="#6969ff"/><stop offset="86.9%" stop-color="#6767ff"/><stop offset="89.9%" stop-color="#6b6bff"/><stop offset="94.2%" stop-color="#7f7fff"/><stop offset="100%" stop-color="#b9b9ff"/></linearGradient><linearGradient id="g56" x1="700" x2="1233" gradientUnits="userSpaceOnUse"><stop offset="0%" stop-color="#b3b3ff"/><stop offset="3.2%" stop-color="#8989ff"/><stop offset="5.3%" stop-color="#7373ff"/><stop offset="8.4%" stop-color="#5f5fff"/><stop offset="12.4%" stop-color="#5d5dff"/><stop offset="19.9%" stop-color="#7171ff"/><stop offset="24%" stop-color="#7777ff"/><stop offset="28.7%" stop-color="#7373ff"/><stop offset="32.8%" stop-color="#6363ff"/><stop offset="37.1%" stop-color="#4949ff"/><stop offset="41.5%" stop-color="#2929ff"/><stop offset="45.4%" stop-color="#0101ff"/><stop offset="50.1%" stop-color="#3300cc"/><stop offset="52.9%" stop-color="#4300bc"/><stop offset="54.4%" stop-color="#4100be"/><stop offset="55.7%" stop-color="#3900c6"/><stop offset="57.4%" stop-color="#2700d8"/><stop offset="59.8%" stop-color="#0100fe"/><stop offset="62.9%" stop-color="#3333ff"/><stop offset="64.7%" stop-color="#4d4dff"/><stop offset="67%" stop-color="#6363ff"/><stop offset="69%" stop-color="#6f6fff"/><stop offset="73.4%" stop-color="#7575ff"/><stop offset="83.1%" stop-color="#6363ff"/><stop offset="89.5%" stop-color="#6565ff"/><stop offset="92.3%" stop-color="#6f6fff"/><stop offset="94.7%" stop-color="#7f7fff"/><stop offset="100%" stop-color="#b7b7ff"/></linearGradient><linearGradient id="g57" x1="700" x2="1233" gradientUnits="userSpaceOnUse"><stop offset="0%" stop-color="#b1b1ff"/><stop offset="5.3%" stop-color="#6f6fff"/><stop offset="8.3%" stop-color="#5b5bff"/><stop offset="9.9%" stop-color="#5757ff"/><stop offset="12.8%" stop-color="#5959ff"/><stop offset="22.7%" stop-color="#7373ff"/><stop offset="28.3%" stop-color="#7171ff"/><stop offset="31.7%" stop-color="#6565ff"/><stop offset="35.8%" stop-color="#4d4dff"/><stop offset="40.7%" stop-color="#2929ff"/><stop offset="44.8%" stop-color="#0101ff"/><stop offset="49.2%" stop-color="#3100ce"/><stop offset="51.2%" stop-color="#4300bc"/><stop offset="52.5%" stop-color="#4900b6"/><stop offset="54.2%" stop-color="#4900b6"/><stop offset="55.3%" stop-color="#4300bc"/><stop offset="57.4%" stop-color="#2d00d2"/><stop offset="60%" stop-color="#0300fc"/><stop offset="60.2%" stop-color="#0101ff"/><stop offset="62.3%" stop-color="#2525ff"/><stop offset="64.7%" stop-color="#4949ff"/><stop offset="66.4%" stop-color="#5b5bff"/><stop offset="68.9%" stop-color="#6b6bff"/><stop offset="71.1%" stop-color="#7171ff"/><stop offset="73.9%" stop-color="#7171ff"/><stop offset="84.6%" stop-color="#5d5dff"/><stop offset="89.7%" stop-color="#6161ff"/><stop offset="92.3%" stop-color="#6b6bff"/><stop offset="95.1%" stop-color="#7f7fff"/><stop offset="100%" stop-color="#b5b5ff"/></linearGradient><linearGradient id="g58" x1="700" x2="1233" gradientUnits="userSpaceOnUse"><stop offset="0%" stop-color="#afafff"/><stop offset="3.4%" stop-color="#8181ff"/><stop offset="5.8%" stop-color="#6767ff"/><stop offset="7.9%" stop-color="#5959ff"/><stop offset="11.1%" stop-color="#5353ff"/><stop offset="21.4%" stop-color="#6f6fff"/><stop offset="28.3%" stop-color="#6f6fff"/><stop offset="30.8%" stop-color="#6767ff"/><stop offset="35.1%" stop-color="#4f4fff"/><stop offset="39.8%" stop-color="#2d2dff"/><stop offset="44.5%" stop-color="#0101ff"/><stop offset="49.9%" stop-color="#3d00c2"/><stop offset="51.4%" stop-color="#4900b6"/><stop offset="53.1%" stop-color="#4f00b0"/><stop offset="55.2%" stop-color="#4900b6"/><stop offset="56.7%" stop-color="#3b00c4"/><stop offset="60.2%" stop-color="#0300fc"/><stop offset="60.6%" stop-color="#0303ff"/><stop offset="62.5%" stop-color="#2525ff"/><stop offset="64.4%" stop-color="#4141ff"/><stop offset="67%" stop-color="#5d5dff"/><stop offset="69%" stop-color="#6969ff"/><stop offset="73.2%" stop-color="#6f6fff"/><stop offset="83.1%" stop-color="#5b5bff"/><stop offset="86.7%" stop-color="#5959ff"/><stop offset="89.5%" stop-color="#5d5dff"/><stop offset="92.1%" stop-color="#6767ff"/><stop offset="94.9%" stop-color="#7b7bff"/><stop offset="100%" stop-color="#b3b3ff"/></linearGradient><linearGradient id="g59" x1="700" x2="1233" gradientUnits="userSpaceOnUse"><stop offset="0%" stop-color="#afafff"/><stop offset="3.6%" stop-color="#7d7dff"/><stop offset="5.8%" stop-color="#6565ff"/><stop offset="7.9%" stop-color="#5757ff"/><stop offset="11.3%" stop-color="#5151ff"/><stop offset="22.1%" stop-color="#6f6fff"/><stop offset="26.6%" stop-color="#7171ff"/><stop offset="28.7%" stop-color="#6d6dff"/><stop offset="31.3%" stop-color="#6363ff"/><stop offset="36%" stop-color="#4747ff"/><stop offset="40.5%" stop-color="#2525ff"/><stop offset="44.3%" stop-color="#0101ff"/><stop offset="50.3%" stop-color="#4300bc"/><stop offset="52.7%" stop-color="#5100ae"/><stop offset="53.8%" stop-color="#5100ae"/><stop offset="55.7%" stop-color="#4700b8"/><stop offset="57.6%" stop-color="#3100ce"/><stop offset="60.4%" stop-color="#0100fe"/><stop offset="60.6%" stop-color="#0101ff"/><stop offset="63.2%" stop-color="#2f2fff"/><stop offset="65.3%" stop-color="#4b4bff"/><stop offset="68.9%" stop-color="#6767ff"/><stop offset="71.1%" stop-color="#6d6dff"/><stop offset="73.5%" stop-color="#6d6dff"/><stop offset="82.9%" stop-color="#5959ff"/><stop offset="87.1%" stop-color="#5757ff"/><stop offset="89.5%" stop-color="#5b5bff"/><stop offset="94.2%" stop-color="#7373ff"/><stop offset="97.9%" stop-color="#9999ff"/><stop offset="100%" stop-color="#b3b3ff"/></linearGradient><linearGradient id="g60" x1="700" x2="1233" gradientUnits="userSpaceOnUse"><stop offset="0%" stop-color="#adadff"/><stop offset="3.4%" stop-color="#7f7fff"/><stop offset="6.2%" stop-color="#6161ff"/><stop offset="8.6%" stop-color="#5353ff"/><stop offset="12%" stop-color="#5151ff"/><stop offset="22.3%" stop-color="#6f6fff"/><stop offset="26.3%" stop-color="#7171ff"/><stop offset="28.5%" stop-color="#6d6dff"/><stop offset="31.7%" stop-color="#6161ff"/><stop offset="36.6%" stop-color="#4343ff"/><stop offset="41.5%" stop-color="#1d1dff"/><stop offset="44.3%" stop-color="#0101ff"/><stop offset="50.1%" stop-color="#4100be"/><stop offset="52.9%" stop-color="#5100ae"/><stop offset="55.2%" stop-color="#4b00b4"/><stop offset="56.8%" stop-color="#3b00c4"/><stop offset="58.9%" stop-color="#1d00e2"/><stop offset="60.4%" stop-color="#0100fe"/><stop offset="64.4%" stop-color="#3f3fff"/><stop offset="67%" stop-color="#5b5bff"/><stop offset="69%" stop-color="#6767ff"/><stop offset="72.8%" stop-color="#6d6dff"/><stop offset="83.9%" stop-color="#5757ff"/><stop offset="88.9%" stop-color="#5959ff"/><stop offset="91.4%" stop-color="#6161ff"/><stop offset="94%" stop-color="#7171ff"/><stop offset="98.1%" stop-color="#9b9bff"/><stop offset="100%" stop-color="#b3b3ff"/></linearGradient><linearGradient id="g61" x1="700" x2="1233" gradientUnits="userSpaceOnUse"><stop offset="0%" stop-color="#afafff"/><stop offset="3.6%" stop-color="#7d7dff"/><stop offset="6%" stop-color="#6363ff"/><stop offset="8.3%" stop-color="#5555ff"/><stop offset="9.8%" stop-color="#5151ff"/><stop offset="12.8%" stop-color="#5353ff"/><stop offset="18.8%" stop-color="#6767ff"/><stop offset="23.6%" stop-color="#7171ff"/><stop offset="28.7%" stop-color="#6d6dff"/><stop offset="31%" stop-color="#6565ff"/><stop offset="36.8%" stop-color="#4343ff"/><stop offset="42.2%" stop-color="#1919ff"/><stop offset="44.5%" stop-color="#0101ff"/><stop offset="49.7%" stop-color="#3b00c4"/><stop offset="51.8%" stop-color="#4b00b4"/><stop offset="53.1%" stop-color="#4f00b0"/><stop offset="55.2%" stop-color="#4900b6"/><stop offset="56.7%" stop-color="#3b00c4"/><stop offset="58.2%" stop-color="#2700d8"/><stop offset="60.4%" stop-color="#0100fe"/><stop offset="62.7%" stop-color="#2727ff"/><stop offset="65.1%" stop-color="#4949ff"/><stop offset="68.5%" stop-color="#6565ff"/><stop offset="71.3%" stop-color="#6d6dff"/><stop offset="73.2%" stop-color="#6d6dff"/><stop offset="84.4%" stop-color="#5757ff"/><stop offset="89.7%" stop-color="#5b5bff"/><stop offset="94.2%" stop-color="#7373ff"/><stop offset="97.9%" stop-color="#9999ff"/><stop offset="100%" stop-color="#b3b3ff"/></linearGradient><linearGradient id="g62" x1="700" x2="1233" gradientUnits="userSpaceOnUse"><stop offset="0%" stop-color="#afafff"/><stop offset="4.3%" stop-color="#7575ff"/><stop offset="7.7%" stop-color="#5959ff"/><stop offset="9.6%" stop-color="#5353ff"/><stop offset="12%" stop-color="#5353ff"/><stop offset="21.6%" stop-color="#6f6fff"/><stop offset="28.3%" stop-color="#6f6fff"/><stop offset="31.7%" stop-color="#6363ff"/><stop offset="37.1%" stop-color="#4343ff"/><stop offset="41.3%" stop-color="#2525ff"/><stop offset="45%" stop-color="#0101ff"/><stop offset="50.5%" stop-color="#3d00c2"/><stop offset="52.5%" stop-color="#4900b6"/><stop offset="54.2%" stop-color="#4900b6"/><stop offset="55.9%" stop-color="#3f00c0"/><stop offset="57.8%" stop-color="#2900d6"/><stop offset="60.2%" stop-color="#0100fe"/><stop offset="63%" stop-color="#2f2fff"/><stop offset="65.3%" stop-color="#4d4dff"/><stop offset="68.7%" stop-color="#6767ff"/><stop offset="70.5%" stop-color="#6d6dff"/><stop offset="74.3%" stop-color="#6d6dff"/><stop offset="82.4%" stop-color="#5b5bff"/><stop offset="88.9%" stop-color="#5b5bff"/><stop offset="91%" stop-color="#6161ff"/><stop offset="94%" stop-color="#7373ff"/><stop offset="96.2%" stop-color="#8787ff"/><stop offset="100%" stop-color="#b3b3ff"/></linearGradient><linearGradient id="g63" x1="700" x2="1233" gradientUnits="userSpaceOnUse"><stop offset="0%" stop-color="#afafff"/><stop offset="3.2%" stop-color="#8585ff"/><stop offset="6%" stop-color="#6767ff"/><stop offset="7.9%" stop-color="#5b5bff"/><stop offset="11.4%" stop-color="#5555ff"/><stop offset="23.3%" stop-color="#7373ff"/><stop offset="28.9%" stop-color="#6f6fff"/><stop offset="31.7%" stop-color="#6565ff"/><stop offset="39%" stop-color="#3b3bff"/><stop offset="42.4%" stop-color="#2121ff"/><stop offset="45.6%" stop-color="#0101ff"/><stop offset="50.3%" stop-color="#3500ca"/><stop offset="52.5%" stop-color="#4300bc"/><stop offset="54.2%" stop-color="#4300bc"/><stop offset="55.9%" stop-color="#3900c6"/><stop offset="58%" stop-color="#2100de"/><stop offset="59.8%" stop-color="#0300fc"/><stop offset="60.2%" stop-color="#0303ff"/><stop offset="63.2%" stop-color="#3535ff"/><stop offset="64.7%" stop-color="#4949ff"/><stop offset="67%" stop-color="#5f5fff"/><stop offset="68.7%" stop-color="#6969ff"/><stop offset="70.7%" stop-color="#6f6fff"/><stop offset="74.1%" stop-color="#6f6fff"/><stop offset="82.7%" stop-color="#5d5dff"/><stop offset="88.7%" stop-color="#5d5dff"/><stop offset="91.4%" stop-color="#6565ff"/><stop offset="94%" stop-color="#7575ff"/><stop offset="95.9%" stop-color="#8585ff"/><stop offset="100%" stop-color="#b5b5ff"/></linearGradient><linearGradient id="g64" x1="700" x2="1233" gradientUnits="userSpaceOnUse"><stop offset="0%" stop-color="#b1b1ff"/><stop offset="3%" stop-color="#8989ff"/><stop offset="5.6%" stop-color="#6d6dff"/><stop offset="8.8%" stop-color="#5b5bff"/><stop offset="12.9%" stop-color="#5b5bff"/><stop offset="22%" stop-color="#7373ff"/><stop offset="28%" stop-color="#7373ff"/><stop offset="32.3%" stop-color="#6565ff"/><stop offset="39.2%" stop-color="#3f3fff"/><stop offset="43%" stop-color="#2323ff"/><stop offset="46.2%" stop-color="#0101ff"/><stop offset="50.3%" stop-color="#2d00d2"/><stop offset="52.5%" stop-color="#3b00c4"/><stop offset="54.4%" stop-color="#3b00c4"/><stop offset="55.5%" stop-color="#3500ca"/><stop offset="57.8%" stop-color="#1d00e2"/><stop offset="59.7%" stop-color="#0100fe"/><stop offset="64%" stop-color="#4343ff"/><stop offset="66.4%" stop-color="#5d5dff"/><stop offset="69%" stop-color="#6d6dff"/><stop offset="74.5%" stop-color="#7171ff"/><stop offset="84.1%" stop-color="#5f5fff"/><stop offset="89.9%" stop-color="#6363ff"/><stop offset="93.1%" stop-color="#7171ff"/><stop offset="94.9%" stop-color="#7f7fff"/><stop offset="100%" stop-color="#b5b5ff"/></linearGradient><linearGradient id="g65" x1="700" x2="1233" gradientUnits="userSpaceOnUse"><stop offset="0%" stop-color="#b3b3ff"/><stop offset="4.7%" stop-color="#7979ff"/><stop offset="6.9%" stop-color="#6767ff"/><stop offset="8.8%" stop-color="#5f5fff"/><stop offset="12%" stop-color="#5d5dff"/><stop offset="22%" stop-color="#7575ff"/><stop offset="28%" stop-color="#7575ff"/><stop offset="32.5%" stop-color="#6767ff"/><stop offset="39.2%" stop-color="#4545ff"/><stop offset="42.4%" stop-color="#2f2fff"/><stop offset="46.9%" stop-color="#0101ff"/><stop offset="50.1%" stop-color="#2300dc"/><stop offset="52.7%" stop-color="#3300cc"/><stop offset="54.2%" stop-color="#3300cc"/><stop offset="55.7%" stop-color="#2b00d4"/><stop offset="57%" stop-color="#1f00e0"/><stop offset="59.1%" stop-color="#0300fc"/><stop offset="59.5%" stop-color="#0303ff"/><stop offset="63.8%" stop-color="#4545ff"/><stop offset="66.2%" stop-color="#5f5fff"/><stop offset="68.9%" stop-color="#6f6fff"/><stop offset="73%" stop-color="#7575ff"/><stop offset="83.9%" stop-color="#6363ff"/><stop offset="89.1%" stop-color="#6565ff"/><stop offset="92.1%" stop-color="#6f6fff"/><stop offset="94.4%" stop-color="#7d7dff"/><stop offset="96.4%" stop-color="#8f8fff"/><stop offset="100%" stop-color="#b7b7ff"/></linearGradient><linearGradient id="g66" x1="700" x2="1233" gradientUnits="userSpaceOnUse"><stop offset="0%" stop-color="#b5b5ff"/><stop offset="2.4%" stop-color="#9595ff"/><stop offset="5.1%" stop-color="#7979ff"/><stop offset="8.3%" stop-color="#6565ff"/><stop offset="11.8%" stop-color="#6161ff"/><stop offset="22%" stop-color="#7777ff"/><stop offset="28%" stop-color="#7777ff"/><stop offset="33.2%" stop-color="#6767ff"/><stop offset="40.5%" stop-color="#4343ff"/><stop offset="43.7%" stop-color="#2b2bff"/><stop offset="47.7%" stop-color="#0101ff"/><stop offset="51.2%" stop-color="#2300dc"/><stop offset="53.3%" stop-color="#2b00d4"/><stop offset="55.7%" stop-color="#2300dc"/><stop offset="58.7%" stop-color="#0100fe"/><stop offset="63.8%" stop-color="#4949ff"/><stop offset="65.9%" stop-color="#5f5fff"/><stop offset="68.7%" stop-color="#7171ff"/><stop offset="71.1%" stop-color="#7777ff"/><stop offset="73.9%" stop-color="#7777ff"/><stop offset="83.9%" stop-color="#6767ff"/><stop offset="89.1%" stop-color="#6969ff"/><stop offset="91.7%" stop-color="#7171ff"/><stop offset="94.7%" stop-color="#8383ff"/><stop offset="97%" stop-color="#9797ff"/><stop offset="100%" stop-color="#b9b9ff"/></linearGradient><linearGradient id="g67" x1="700" x2="1233" gradientUnits="userSpaceOnUse"><stop offset="0%" stop-color="#b5b5ff"/><stop offset="4.3%" stop-color="#8383ff"/><stop offset="6.6%" stop-color="#7171ff"/><stop offset="8.3%" stop-color="#6969ff"/><stop offset="11.8%" stop-color="#6565ff"/><stop offset="22.1%" stop-color="#7979ff"/><stop offset="28.9%" stop-color="#7777ff"/><stop offset="34%" stop-color="#6767ff"/><stop offset="40.5%" stop-color="#4949ff"/><stop offset="44.5%" stop-color="#2b2bff"/><stop offset="48.4%" stop-color="#0101ff"/><stop offset="51%" stop-color="#1900e6"/><stop offset="52.7%" stop-color="#2100de"/><stop offset="55.3%" stop-color="#1d00e2"/><stop offset="56.7%" stop-color="#1300ec"/><stop offset="58.2%" stop-color="#0100fe"/><stop offset="59.3%" stop-color="#0d0dff"/><stop offset="63.6%" stop-color="#4b4bff"/><stop offset="65.5%" stop-color="#5f5fff"/><stop offset="68.1%" stop-color="#7171ff"/><stop offset="70.7%" stop-color="#7979ff"/><stop offset="74.7%" stop-color="#7979ff"/><stop offset="83.9%" stop-color="#6b6bff"/><stop offset="90.1%" stop-color="#6f6fff"/><stop offset="92.3%" stop-color="#7777ff"/><stop offset="94.9%" stop-color="#8787ff"/><stop offset="97.4%" stop-color="#9d9dff"/><stop offset="100%" stop-color="#bbbbff"/></linearGradient><linearGradient id="g68" x1="700" x2="1233" gradientUnits="userSpaceOnUse"><stop offset="0%" stop-color="#b7b7ff"/><stop offset="4.9%" stop-color="#8181ff"/><stop offset="8.8%" stop-color="#6b6bff"/><stop offset="12.2%" stop-color="#6969ff"/><stop offset="22.7%" stop-color="#7b7bff"/><stop offset="29.6%" stop-color="#7777ff"/><stop offset="35.3%" stop-color="#6565ff"/><stop offset="41.1%" stop-color="#4b4bff"/><stop offset="44.3%" stop-color="#3333ff"/><stop offset="49%" stop-color="#0101ff"/><stop offset="52.5%" stop-color="#1900e6"/><stop offset="54.6%" stop-color="#1900e6"/><stop offset="56.3%" stop-color="#0f00f0"/><stop offset="57.6%" stop-color="#0100fe"/><stop offset="58.5%" stop-color="#0909ff"/><stop offset="63.8%" stop-color="#5151ff"/><stop offset="66.6%" stop-color="#6b6bff"/><stop offset="68.5%" stop-color="#7575ff"/><stop offset="70.5%" stop-color="#7b7bff"/><stop offset="75%" stop-color="#7b7bff"/><stop offset="83.3%" stop-color="#6f6fff"/><stop offset="90.2%" stop-color="#7373ff"/><stop offset="92.5%" stop-color="#7b7bff"/><stop offset="95.1%" stop-color="#8b8bff"/><stop offset="100%" stop-color="#bbbbff"/></linearGradient><linearGradient id="g69" x1="700" x2="1233" gradientUnits="userSpaceOnUse"><stop offset="0%" stop-color="#b9b9ff"/><stop offset="4.7%" stop-color="#8585ff"/><stop offset="7.9%" stop-color="#7171ff"/><stop offset="13.3%" stop-color="#6d6dff"/><stop offset="21.8%" stop-color="#7b7bff"/><stop offset="30.2%" stop-color="#7777ff"/><stop offset="38.6%" stop-color="#5b5bff"/><stop offset="41.5%" stop-color="#4d4dff"/><stop offset="44.8%" stop-color="#3333ff"/><stop offset="49.7%" stop-color="#0101ff"/><stop offset="52.7%" stop-color="#1300ec"/><stop offset="55%" stop-color="#1100ee"/><stop offset="57%" stop-color="#0100fe"/><stop offset="58.9%" stop-color="#1313ff"/><stop offset="61.9%" stop-color="#3d3dff"/><stop offset="65.1%" stop-color="#6161ff"/><stop offset="68.1%" stop-color="#7575ff"/><stop offset="71.9%" stop-color="#7d7dff"/><stop offset="82%" stop-color="#7373ff"/><stop offset="89.9%" stop-color="#7575ff"/><stop offset="94.6%" stop-color="#8989ff"/><stop offset="96.8%" stop-color="#9b9bff"/><stop offset="100%" stop-color="#bdbdff"/></linearGradient><linearGradient id="g70" x1="700" x2="1233" gradientUnits="userSpaceOnUse"><stop offset="0%" stop-color="#b9b9ff"/><stop offset="4.9%" stop-color="#8585ff"/><stop offset="8.6%" stop-color="#7171ff"/><stop offset="13.5%" stop-color="#6f6fff"/><stop offset="21.6%" stop-color="#7b7bff"/><stop offset="30.4%" stop-color="#7777ff"/><stop offset="36.4%" stop-color="#6565ff"/><stop offset="41.7%" stop-color="#4f4fff"/><stop offset="45%" stop-color="#3535ff"/><stop offset="50.1%" stop-color="#0101ff"/><stop offset="53.1%" stop-color="#0f00f0"/><stop offset="55.3%" stop-color="#0b00f4"/><stop offset="56.7%" stop-color="#0100fe"/><stop offset="59.1%" stop-color="#1919ff"/><stop offset="61.7%" stop-color="#3d3dff"/><stop offset="64.7%" stop-color="#5f5fff"/><stop offset="68.3%" stop-color="#7777ff"/><stop offset="72.4%" stop-color="#7f7fff"/><stop offset="82%" stop-color="#7575ff"/><stop offset="88.7%" stop-color="#7575ff"/><stop offset="90.8%" stop-color="#7979ff"/><stop offset="95.5%" stop-color="#9191ff"/><stop offset="100%" stop-color="#bdbdff"/></linearGradient><linearGradient id="g71" x1="700" x2="1233" gradientUnits="userSpaceOnUse"><stop offset="0%" stop-color="#b9b9ff"/><stop offset="4.5%" stop-color="#8989ff"/><stop offset="8.4%" stop-color="#7373ff"/><stop offset="12.4%" stop-color="#6f6fff"/><stop offset="22.5%" stop-color="#7b7bff"/><stop offset="27.4%" stop-color="#7b7bff"/><stop offset="31%" stop-color="#7575ff"/><stop offset="37.9%" stop-color="#6161ff"/><stop offset="42.2%" stop-color="#4d4dff"/><stop offset="45%" stop-color="#3737ff"/><stop offset="50.5%" stop-color="#0101ff"/><stop offset="53.5%" stop-color="#0d00f2"/><stop offset="54.8%" stop-color="#0b00f4"/><stop offset="56.5%" stop-color="#0100fe"/><stop offset="59.3%" stop-color="#1d1dff"/><stop offset="62.3%" stop-color="#4545ff"/><stop offset="65.1%" stop-color="#6363ff"/><stop offset="68.3%" stop-color="#7777ff"/><stop offset="72.4%" stop-color="#7f7fff"/><stop offset="83.9%" stop-color="#7575ff"/><stop offset="90.2%" stop-color="#7979ff"/><stop offset="94.6%" stop-color="#8b8bff"/><stop offset="97.7%" stop-color="#a5a5ff"/><stop offset="100%" stop-color="#bdbdff"/></linearGradient><linearGradient id="g72" x1="700" x2="1233" gradientUnits="userSpaceOnUse"><stop offset="0%" stop-color="#b9b9ff"/><stop offset="4.7%" stop-color="#8787ff"/><stop offset="8.4%" stop-color="#7373ff"/><stop offset="12.6%" stop-color="#6f6fff"/><stop offset="22%" stop-color="#7979ff"/><stop offset="27.6%" stop-color="#7979ff"/><stop offset="32.1%" stop-color="#7171ff"/><stop offset="37.7%" stop-color="#6161ff"/><stop offset="42.2%" stop-color="#4d4dff"/><stop offset="45%" stop-color="#3737ff"/><stop offset="50.5%" stop-color="#0101ff"/><stop offset="53.7%" stop-color="#0d00f2"/><stop offset="56.5%" stop-color="#0100fe"/><stop offset="58.2%" stop-color="#0f0fff"/><stop offset="64.5%" stop-color="#5d5dff"/><stop offset="68.1%" stop-color="#7575ff"/><stop offset="71.1%" stop-color="#7d7dff"/><stop offset="84.1%" stop-color="#7575ff"/><stop offset="91.2%" stop-color="#7b7bff"/><stop offset="95.5%" stop-color="#9191ff"/><stop offset="100%" stop-color="#bdbdff"/></linearGradient><linearGradient id="g73" x1="700" x2="1233" gradientUnits="userSpaceOnUse"><stop offset="0%" stop-color="#b7b7ff"/><stop offset="4.3%" stop-color="#8989ff"/><stop offset="8.1%" stop-color="#7373ff"/><stop offset="14.8%" stop-color="#6f6fff"/><stop offset="26.3%" stop-color="#7777ff"/><stop offset="31.9%" stop-color="#6f6fff"/><stop offset="37.7%" stop-color="#5f5fff"/><stop offset="42.2%" stop-color="#4b4bff"/><stop offset="45%" stop-color="#3535ff"/><stop offset="50.1%" stop-color="#0101ff"/><stop offset="53.1%" stop-color="#0f00f0"/><stop offset="55%" stop-color="#0d00f2"/><stop offset="56.7%" stop-color="#0100fe"/><stop offset="57%" stop-color="#0101ff"/><stop offset="58.7%" stop-color="#1313ff"/><stop offset="64.2%" stop-color="#5757ff"/><stop offset="68.1%" stop-color="#7373ff"/><stop offset="71.1%" stop-color="#7b7bff"/><stop offset="81.4%" stop-color="#7575ff"/><stop offset="88.6%" stop-color="#7575ff"/><stop offset="90.8%" stop-color="#7979ff"/><stop offset="92.7%" stop-color="#7f7fff"/><stop offset="95.7%" stop-color="#9191ff"/><stop offset="100%" stop-color="#bbbbff"/></linearGradient><linearGradient id="g74" x1="700" x2="1233" gradientUnits="userSpaceOnUse"><stop offset="0%" stop-color="#b5b5ff"/><stop offset="4.3%" stop-color="#8787ff"/><stop offset="6.2%" stop-color="#7979ff"/><stop offset="8.6%" stop-color="#6f6fff"/><stop offset="12.9%" stop-color="#6b6bff"/><stop offset="26.5%" stop-color="#7373ff"/><stop offset="32.8%" stop-color="#6969ff"/><stop offset="39%" stop-color="#5757ff"/><stop offset="42.6%" stop-color="#4545ff"/><stop offset="45%" stop-color="#3131ff"/><stop offset="49.5%" stop-color="#0101ff"/><stop offset="52%" stop-color="#1100ee"/><stop offset="53.5%" stop-color="#1500ea"/><stop offset="55.9%" stop-color="#0d00f2"/><stop offset="57.2%" stop-color="#0100fe"/><stop offset="59.1%" stop-color="#1313ff"/><stop offset="64.5%" stop-color="#5757ff"/><stop offset="67.9%" stop-color="#6f6fff"/><stop offset="72.2%" stop-color="#7979ff"/><stop offset="80.7%" stop-color="#7373ff"/><stop offset="88.7%" stop-color="#7373ff"/><stop offset="91%" stop-color="#7777ff"/><stop offset="95.7%" stop-color="#8f8fff"/><stop offset="100%" stop-color="#b9b9ff"/></linearGradient><linearGradient id="g75" x1="700" x2="1233" gradientUnits="userSpaceOnUse"><stop offset="0%" stop-color="#b3b3ff"/><stop offset="3.9%" stop-color="#8787ff"/><stop offset="8.1%" stop-color="#6d6dff"/><stop offset="11.8%" stop-color="#6767ff"/><stop offset="21.2%" stop-color="#6d6dff"/><stop offset="27.8%" stop-color="#6d6dff"/><stop offset="31.5%" stop-color="#6767ff"/><stop offset="37.5%" stop-color="#5757ff"/><stop offset="42%" stop-color="#4343ff"/><stop offset="45%" stop-color="#2b2bff"/><stop offset="48.8%" stop-color="#0101ff"/><stop offset="51.6%" stop-color="#1700e8"/><stop offset="53.3%" stop-color="#1d00e2"/><stop offset="55.9%" stop-color="#1500ea"/><stop offset="58%" stop-color="#0100fe"/><stop offset="58.7%" stop-color="#0707ff"/><stop offset="62.9%" stop-color="#3f3fff"/><stop offset="65.1%" stop-color="#5757ff"/><stop offset="68.5%" stop-color="#6d6dff"/><stop offset="72.4%" stop-color="#7575ff"/><stop offset="81.4%" stop-color="#6f6fff"/><stop offset="90.8%" stop-color="#7373ff"/><stop offset="93.1%" stop-color="#7b7bff"/><stop offset="95.3%" stop-color="#8989ff"/><stop offset="100%" stop-color="#b7b7ff"/></linearGradient><linearGradient id="g76" x1="700" x2="1233" gradientUnits="userSpaceOnUse"><stop offset="0%" stop-color="#b1b1ff"/><stop offset="3.9%" stop-color="#8383ff"/><stop offset="6.6%" stop-color="#6f6fff"/><stop offset="8.4%" stop-color="#6767ff"/><stop offset="10.5%" stop-color="#6363ff"/><stop offset="23.5%" stop-color="#6767ff"/><stop offset="30.4%" stop-color="#6363ff"/><stop offset="37.3%" stop-color="#5151ff"/><stop offset="42.2%" stop-color="#3b3bff"/><stop offset="44.8%" stop-color="#2525ff"/><stop offset="48%" stop-color="#0101ff"/><stop offset="50.7%" stop-color="#1b00e4"/><stop offset="52.9%" stop-color="#2700d8"/><stop offset="54.4%" stop-color="#2700d8"/><stop offset="55.7%" stop-color="#2100de"/><stop offset="58.7%" stop-color="#0100fe"/><stop offset="59.3%" stop-color="#0505ff"/><stop offset="63.8%" stop-color="#4343ff"/><stop offset="66%" stop-color="#5959ff"/><stop offset="67.9%" stop-color="#6565ff"/><stop offset="71.5%" stop-color="#6f6fff"/><stop offset="79.9%" stop-color="#6b6bff"/><stop offset="88.7%" stop-color="#6b6bff"/><stop offset="91%" stop-color="#6f6fff"/><stop offset="95.3%" stop-color="#8585ff"/><stop offset="100%" stop-color="#b5b5ff"/></linearGradient><linearGradient id="g77" x1="700" x2="1233" gradientUnits="userSpaceOnUse"><stop offset="0%" stop-color="#adadff"/><stop offset="4.7%" stop-color="#7777ff"/><stop offset="6.4%" stop-color="#6b6bff"/><stop offset="9.2%" stop-color="#5f5fff"/><stop offset="28.3%" stop-color="#5f5fff"/><stop offset="33.4%" stop-color="#5555ff"/><stop offset="38.6%" stop-color="#4545ff"/><stop offset="41.8%" stop-color="#3535ff"/><stop offset="44.3%" stop-color="#2121ff"/><stop offset="47.1%" stop-color="#0101ff"/><stop offset="50.8%" stop-color="#2900d6"/><stop offset="53.3%" stop-color="#3500ca"/><stop offset="54.8%" stop-color="#3300cc"/><stop offset="56.1%" stop-color="#2b00d4"/><stop offset="59.5%" stop-color="#0300fc"/><stop offset="60%" stop-color="#0505ff"/><stop offset="64%" stop-color="#3d3dff"/><stop offset="66.2%" stop-color="#5353ff"/><stop offset="68.5%" stop-color="#6161ff"/><stop offset="71.5%" stop-color="#6969ff"/><stop offset="80.5%" stop-color="#6565ff"/><stop offset="88.4%" stop-color="#6565ff"/><stop offset="90.8%" stop-color="#6969ff"/><stop offset="93.4%" stop-color="#7373ff"/><stop offset="95.7%" stop-color="#8383ff"/><stop offset="100%" stop-color="#b3b3ff"/></linearGradient><linearGradient id="g78" x1="700" x2="1233" gradientUnits="userSpaceOnUse"><stop offset="0%" stop-color="#ababff"/><stop offset="2.8%" stop-color="#8585ff"/><stop offset="4.5%" stop-color="#7373ff"/><stop offset="8.3%" stop-color="#5b5bff"/><stop offset="11.3%" stop-color="#5555ff"/><stop offset="28.3%" stop-color="#5757ff"/><stop offset="31.7%" stop-color="#5151ff"/><stop offset="40.9%" stop-color="#3131ff"/><stop offset="43.3%" stop-color="#1f1fff"/><stop offset="46.2%" stop-color="#0100fe"/><stop offset="50.1%" stop-color="#3100ce"/><stop offset="51.8%" stop-color="#3f00c0"/><stop offset="53.7%" stop-color="#4500ba"/><stop offset="56.5%" stop-color="#3700c8"/><stop offset="58.2%" stop-color="#2300dc"/><stop offset="60.4%" stop-color="#0100fe"/><stop offset="63.8%" stop-color="#3131ff"/><stop offset="66.2%" stop-color="#4b4bff"/><stop offset="68.9%" stop-color="#5b5bff"/><stop offset="72.4%" stop-color="#6363ff"/><stop offset="79.4%" stop-color="#5f5fff"/><stop offset="88.7%" stop-color="#5f5fff"/><stop offset="91%" stop-color="#6363ff"/><stop offset="94.9%" stop-color="#7777ff"/><stop offset="98.3%" stop-color="#9999ff"/><stop offset="100%" stop-color="#afafff"/></linearGradient><linearGradient id="g79" x1="700" x2="1233" gradientUnits="userSpaceOnUse"><stop offset="0%" stop-color="#a7a7ff"/><stop offset="3%" stop-color="#7d7dff"/><stop offset="4.9%" stop-color="#6969ff"/><stop offset="7.9%" stop-color="#5555ff"/><stop offset="11.3%" stop-color="#4d4dff"/><stop offset="27.2%" stop-color="#4f4fff"/><stop offset="31.1%" stop-color="#4949ff"/><stop offset="40.2%" stop-color="#2b2bff"/><stop offset="43%" stop-color="#1717ff"/><stop offset="45%" stop-color="#0101ff"/><stop offset="49.9%" stop-color="#3f00c0"/><stop offset="51.4%" stop-color="#4d00b2"/><stop offset="52.9%" stop-color="#5500aa"/><stop offset="54.4%" stop-color="#5500aa"/><stop offset="56.1%" stop-color="#4b00b4"/><stop offset="58.5%" stop-color="#2d00d2"/><stop offset="61.2%" stop-color="#0300fc"/><stop offset="61.4%" stop-color="#0101ff"/><stop offset="63.2%" stop-color="#1f1fff"/><stop offset="65.3%" stop-color="#3939ff"/><stop offset="67.4%" stop-color="#4b4bff"/><stop offset="69.2%" stop-color="#5555ff"/><stop offset="71.9%" stop-color="#5b5bff"/><stop offset="88%" stop-color="#5757ff"/><stop offset="91.4%" stop-color="#5d5dff"/><stop offset="93.2%" stop-color="#6565ff"/><stop offset="95.9%" stop-color="#7979ff"/><stop offset="100%" stop-color="#ababff"/></linearGradient><linearGradient id="g80" x1="700" x2="1233" gradientUnits="userSpaceOnUse"><stop offset="0%" stop-color="#a1a1ff"/><stop offset="2.8%" stop-color="#7979ff"/><stop offset="5.6%" stop-color="#5b5bff"/><stop offset="7.9%" stop-color="#4d4dff"/><stop offset="10.7%" stop-color="#4545ff"/><stop offset="14.4%" stop-color="#4343ff"/><stop offset="29.5%" stop-color="#4343ff"/><stop offset="38.6%" stop-color="#2727ff"/><stop offset="42%" stop-color="#1313ff"/><stop offset="43.9%" stop-color="#0101ff"/><stop offset="45.4%" stop-color="#1100ee"/><stop offset="49.3%" stop-color="#4900b6"/><stop offset="51.6%" stop-color="#61009e"/><stop offset="53.7%" stop-color="#690096"/><stop offset="55.3%" stop-color="#63009c"/><stop offset="56.8%" stop-color="#5500aa"/><stop offset="59.3%" stop-color="#3100ce"/><stop offset="61.9%" stop-color="#0300fc"/><stop offset="62.3%" stop-color="#0303ff"/><stop offset="65.7%" stop-color="#3333ff"/><stop offset="68.1%" stop-color="#4747ff"/><stop offset="70%" stop-color="#4f4fff"/><stop offset="71.9%" stop-color="#5353ff"/><stop offset="87.6%" stop-color="#4f4fff"/><stop offset="92.3%" stop-color="#5959ff"/><stop offset="95.3%" stop-color="#6d6dff"/><stop offset="97.4%" stop-color="#8383ff"/><stop offset="100%" stop-color="#a7a7ff"/></linearGradient><linearGradient id="g81" x1="700" x2="1233" gradientUnits="userSpaceOnUse"><stop offset="0%" stop-color="#9d9dff"/><stop offset="2.8%" stop-color="#7373ff"/><stop offset="4.9%" stop-color="#5b5bff"/><stop offset="6.4%" stop-color="#4d4dff"/><stop offset="8.6%" stop-color="#4141ff"/><stop offset="11.4%" stop-color="#3b3bff"/><stop offset="27.8%" stop-color="#3b3bff"/><stop offset="30.4%" stop-color="#3737ff"/><stop offset="38.5%" stop-color="#1d1dff"/><stop offset="42.6%" stop-color="#0101ff"/><stop offset="44.5%" stop-color="#1300ec"/><stop offset="50.3%" stop-color="#670098"/><stop offset="52.9%" stop-color="#7b0084"/><stop offset="54.4%" stop-color="#7b0084"/><stop offset="55.5%" stop-color="#75008a"/><stop offset="57%" stop-color="#65009a"/><stop offset="58.7%" stop-color="#4b00b4"/><stop offset="62.7%" stop-color="#0300fc"/><stop offset="63%" stop-color="#0303ff"/><stop offset="64.7%" stop-color="#1d1dff"/><stop offset="67.2%" stop-color="#3737ff"/><stop offset="70.2%" stop-color="#4747ff"/><stop offset="72%" stop-color="#4b4bff"/><stop offset="87.8%" stop-color="#4747ff"/><stop offset="92.7%" stop-color="#5353ff"/><stop offset="94.7%" stop-color="#6161ff"/><stop offset="97.2%" stop-color="#7b7bff"/><stop offset="100%" stop-color="#a3a3ff"/></linearGradient><linearGradient id="g82" x1="700" x2="1233" gradientUnits="userSpaceOnUse"><stop offset="0%" stop-color="#9999ff"/><stop offset="4.1%" stop-color="#5b5bff"/><stop offset="6.4%" stop-color="#4545ff"/><stop offset="8.4%" stop-color="#3939ff"/><stop offset="11.8%" stop-color="#3131ff"/><stop offset="29.3%" stop-color="#2f2fff"/><stop offset="37.7%" stop-color="#1515ff"/><stop offset="41.1%" stop-color="#0101ff"/><stop offset="42.6%" stop-color="#0b00f4"/><stop offset="44.5%" stop-color="#2100de"/><stop offset="50.1%" stop-color="#770088"/><stop offset="51.8%" stop-color="#890076"/><stop offset="52.9%" stop-color="#8f0070"/><stop offset="54.4%" stop-color="#8f0070"/><stop offset="56.5%" stop-color="#7f0080"/><stop offset="59.1%" stop-color="#5500aa"/><stop offset="63.4%" stop-color="#0300fc"/><stop offset="63.8%" stop-color="#0303ff"/><stop offset="65.1%" stop-color="#1717ff"/><stop offset="67.4%" stop-color="#2f2fff"/><stop offset="71.1%" stop-color="#4141ff"/><stop offset="88%" stop-color="#3f3fff"/><stop offset="91.7%" stop-color="#4747ff"/><stop offset="95.3%" stop-color="#5f5fff"/><stop offset="97.4%" stop-color="#7777ff"/><stop offset="100%" stop-color="#9d9dff"/></linearGradient><linearGradient id="g83" x1="700" x2="1233" gradientUnits="userSpaceOnUse"><stop offset="0%" stop-color="#9595ff"/><stop offset="3%" stop-color="#6363ff"/><stop offset="4.5%" stop-color="#4f4fff"/><stop offset="6.6%" stop-color="#3b3bff"/><stop offset="8.6%" stop-color="#2f2fff"/><stop offset="12.4%" stop-color="#2727ff"/><stop offset="29.1%" stop-color="#2525ff"/><stop offset="32.5%" stop-color="#1d1dff"/><stop offset="39.8%" stop-color="#0100fe"/><stop offset="41.5%" stop-color="#0d00f2"/><stop offset="43.9%" stop-color="#2700d8"/><stop offset="49.9%" stop-color="#870078"/><stop offset="51.4%" stop-color="#990066"/><stop offset="52.9%" stop-color="#a3005c"/><stop offset="54.8%" stop-color="#a1005e"/><stop offset="57.2%" stop-color="#870078"/><stop offset="58.7%" stop-color="#6d0092"/><stop offset="62.3%" stop-color="#2300dc"/><stop offset="64.4%" stop-color="#0101ff"/><stop offset="67.7%" stop-color="#2929ff"/><stop offset="70.4%" stop-color="#3737ff"/><stop offset="73.2%" stop-color="#3b3bff"/><stop offset="88.2%" stop-color="#3737ff"/><stop offset="91.7%" stop-color="#3f3fff"/><stop offset="94.6%" stop-color="#5151ff"/><stop offset="96.4%" stop-color="#6565ff"/><stop offset="100%" stop-color="#9999ff"/></linearGradient><linearGradient id="g84" x1="700" x2="1233" gradientUnits="userSpaceOnUse"><stop offset="0%" stop-color="#8f8fff"/><stop offset="3.9%" stop-color="#4f4fff"/><stop offset="6.6%" stop-color="#3333ff"/><stop offset="8.4%" stop-color="#2727ff"/><stop offset="12.9%" stop-color="#1d1dff"/><stop offset="29.1%" stop-color="#1b1bff"/><stop offset="37.7%" stop-color="#0100fe"/><stop offset="40.5%" stop-color="#1100ee"/><stop offset="43.5%" stop-color="#2f00d0"/><stop offset="50.7%" stop-color="#a3005c"/><stop offset="51.8%" stop-color="#af0050"/><stop offset="53.5%" stop-color="#b70048"/><stop offset="55.2%" stop-color="#b1004e"/><stop offset="56.7%" stop-color="#a1005e"/><stop offset="58.5%" stop-color="#81007e"/><stop offset="63%" stop-color="#2100de"/><stop offset="64.9%" stop-color="#0100fe"/><stop offset="68.1%" stop-color="#2323ff"/><stop offset="71.1%" stop-color="#3131ff"/><stop offset="88%" stop-color="#2f2fff"/><stop offset="92.1%" stop-color="#3939ff"/><stop offset="94.2%" stop-color="#4747ff"/><stop offset="96.4%" stop-color="#5f5fff"/><stop offset="100%" stop-color="#9595ff"/></linearGradient><linearGradient id="g85" x1="700" x2="1233" gradientUnits="userSpaceOnUse"><stop offset="0%" stop-color="#8b8bff"/><stop offset="2.3%" stop-color="#6363ff"/><stop offset="4.5%" stop-color="#4141ff"/><stop offset="6.6%" stop-color="#2b2bff"/><stop offset="8.8%" stop-color="#1d1dff"/><stop offset="14.3%" stop-color="#1313ff"/><stop offset="27.6%" stop-color="#1313ff"/><stop offset="35.3%" stop-color="#0100fe"/><stop offset="39.2%" stop-color="#1300ec"/><stop offset="42.4%" stop-color="#2d00d2"/><stop offset="45%" stop-color="#5100ae"/><stop offset="50.5%" stop-color="#b1004e"/><stop offset="52.9%" stop-color="#c70038"/><stop offset="54.8%" stop-color="#c5003a"/><stop offset="56.8%" stop-color="#af0050"/><stop offset="57.8%" stop-color="#9f0060"/><stop offset="63.6%" stop-color="#2100de"/><stop offset="65.7%" stop-color="#0101ff"/><stop offset="68.7%" stop-color="#1f1fff"/><stop offset="71.9%" stop-color="#2b2bff"/><stop offset="87.1%" stop-color="#2727ff"/><stop offset="91.9%" stop-color="#3131ff"/><stop offset="93.8%" stop-color="#3d3dff"/><stop offset="96.4%" stop-color="#5959ff"/><stop offset="100%" stop-color="#9191ff"/></linearGradient><linearGradient id="g86" x1="700" x2="1233" gradientUnits="userSpaceOnUse"><stop offset="0%" stop-color="#8989ff"/><stop offset="2.4%" stop-color="#5b5bff"/><stop offset="4.5%" stop-color="#3b3bff"/><stop offset="6.9%" stop-color="#2121ff"/><stop offset="9.4%" stop-color="#1313ff"/><stop offset="16.3%" stop-color="#0909ff"/><stop offset="28.7%" stop-color="#0909ff"/><stop offset="32.8%" stop-color="#0100fe"/><stop offset="37.9%" stop-color="#1500ea"/><stop offset="40.7%" stop-color="#2700d8"/><stop offset="43.9%" stop-color="#4b00b4"/><stop offset="50.3%" stop-color="#bd0042"/><stop offset="52.2%" stop-color="#d3002c"/><stop offset="52.9%" stop-color="#d70028"/><stop offset="54.8%" stop-color="#d5002a"/><stop offset="55.9%" stop-color="#cb0034"/><stop offset="57.2%" stop-color="#b70048"/><stop offset="59.5%" stop-color="#890076"/><stop offset="61.5%" stop-color="#5700a8"/><stop offset="64%" stop-color="#2300dc"/><stop offset="66.2%" stop-color="#0100fe"/><stop offset="68.9%" stop-color="#1919ff"/><stop offset="72.4%" stop-color="#2525ff"/><stop offset="88%" stop-color="#2121ff"/><stop offset="91.6%" stop-color="#2929ff"/><stop offset="93.8%" stop-color="#3737ff"/><stop offset="96.1%" stop-color="#4f4fff"/><stop offset="100%" stop-color="#8f8fff"/></linearGradient><linearGradient id="g87" x1="700" x2="1233" gradientUnits="userSpaceOnUse"><stop offset="0%" stop-color="#8585ff"/><stop offset="2.6%" stop-color="#5353ff"/><stop offset="4.7%" stop-color="#3333ff"/><stop offset="7.1%" stop-color="#1919ff"/><stop offset="9.2%" stop-color="#0d0dff"/><stop offset="12.2%" stop-color="#0505ff"/><stop offset="16.5%" stop-color="#0101ff"/><stop offset="30%" stop-color="#0100fe"/><stop offset="36.6%" stop-color="#1700e8"/><stop offset="40.9%" stop-color="#3100ce"/><stop offset="43%" stop-color="#4700b8"/><stop offset="44.5%" stop-color="#5d00a2"/><stop offset="50.5%" stop-color="#cd0032"/><stop offset="52%" stop-color="#df0020"/><stop offset="53.1%" stop-color="#e5001a"/><stop offset="55%" stop-color="#e1001e"/><stop offset="57%" stop-color="#c70038"/><stop offset="59.1%" stop-color="#9d0062"/><stop offset="61.4%" stop-color="#65009a"/><stop offset="63.8%" stop-color="#2f00d0"/><stop offset="65.5%" stop-color="#1100ee"/><stop offset="66.8%" stop-color="#0100fe"/><stop offset="68.9%" stop-color="#1313ff"/><stop offset="72.2%" stop-color="#1f1fff"/><stop offset="87.6%" stop-color="#1b1bff"/><stop offset="91.4%" stop-color="#2323ff"/><stop offset="93.4%" stop-color="#2f2fff"/><stop offset="95.5%" stop-color="#4343ff"/><stop offset="98.7%" stop-color="#7373ff"/><stop offset="100%" stop-color="#8b8bff"/></linearGradient><linearGradient id="g88" x1="700" x2="1233" gradientUnits="userSpaceOnUse"><stop offset="0%" stop-color="#8383ff"/><stop offset="2.6%" stop-color="#4f4fff"/><stop offset="4.5%" stop-color="#3131ff"/><stop offset="6.8%" stop-color="#1717ff"/><stop offset="9.2%" stop-color="#0707ff"/><stop offset="11.1%" stop-color="#0101ff"/><stop offset="18.4%" stop-color="#0700f8"/><stop offset="29.6%" stop-color="#0700f8"/><stop offset="37.3%" stop-color="#2100de"/><stop offset="41.7%" stop-color="#3f00c0"/><stop offset="44.5%" stop-color="#65009a"/><stop offset="49.2%" stop-color="#c1003e"/><stop offset="50.8%" stop-color="#dd0022"/><stop offset="52.2%" stop-color="#eb0014"/><stop offset="53.3%" stop-color="#f1000e"/><stop offset="55.3%" stop-color="#e90016"/><stop offset="56.8%" stop-color="#d5002a"/><stop offset="58.7%" stop-color="#af0050"/><stop offset="62.1%" stop-color="#5b00a4"/><stop offset="64.5%" stop-color="#2700d8"/><stop offset="67.2%" stop-color="#0100fe"/><stop offset="70.2%" stop-color="#1515ff"/><stop offset="73%" stop-color="#1b1bff"/><stop offset="88.6%" stop-color="#1717ff"/><stop offset="91.6%" stop-color="#1f1fff"/><stop offset="93.2%" stop-color="#2929ff"/><stop offset="95.3%" stop-color="#3d3dff"/><stop offset="97.9%" stop-color="#6363ff"/><stop offset="100%" stop-color="#8989ff"/></linearGradient><linearGradient id="g89" x1="700" x2="1233" gradientUnits="userSpaceOnUse"><stop offset="0%" stop-color="#8181ff"/><stop offset="2.3%" stop-color="#5353ff"/><stop offset="5.3%" stop-color="#2323ff"/><stop offset="6.9%" stop-color="#1111ff"/><stop offset="9.6%" stop-color="#0101ff"/><stop offset="16.5%" stop-color="#0b00f4"/><stop offset="28.9%" stop-color="#0b00f4"/><stop offset="31%" stop-color="#0f00f0"/><stop offset="37.9%" stop-color="#2900d6"/><stop offset="41.1%" stop-color="#3f00c0"/><stop offset="42.4%" stop-color="#4d00b2"/><stop offset="44.5%" stop-color="#6b0094"/><stop offset="50.5%" stop-color="#df0020"/><stop offset="52.3%" stop-color="#f5000a"/><stop offset="53.3%" stop-color="#f90006"/><stop offset="54.6%" stop-color="#f70008"/><stop offset="56.5%" stop-color="#e3001c"/><stop offset="58.2%" stop-color="#c3003c"/><stop offset="61.4%" stop-color="#73008c"/><stop offset="64.2%" stop-color="#3300cc"/><stop offset="66%" stop-color="#1300ec"/><stop offset="67.5%" stop-color="#0100fe"/><stop offset="70.2%" stop-color="#1111ff"/><stop offset="72.6%" stop-color="#1717ff"/><stop offset="88.2%" stop-color="#1313ff"/><stop offset="91%" stop-color="#1919ff"/><stop offset="93.4%" stop-color="#2727ff"/><stop offset="95.9%" stop-color="#4141ff"/><stop offset="98.3%" stop-color="#6767ff"/><stop offset="100%" stop-color="#8787ff"/></linearGradient><linearGradient id="g90" x1="700" x2="1233" gradientUnits="userSpaceOnUse"><stop offset="0%" stop-color="#7f7fff"/><stop offset="3%" stop-color="#4343ff"/><stop offset="4.5%" stop-color="#2b2bff"/><stop offset="7.3%" stop-color="#0b0bff"/><stop offset="8.8%" stop-color="#0101ff"/><stop offset="11.8%" stop-color="#0900f6"/><stop offset="16.7%" stop-color="#0f00f0"/><stop offset="30.2%" stop-color="#1100ee"/><stop offset="37.1%" stop-color="#2900d6"/><stop offset="40.9%" stop-color="#4100be"/><stop offset="42.4%" stop-color="#5100ae"/><stop offset="44.5%" stop-color="#6f0090"/><stop offset="49.2%" stop-color="#cd0032"/><stop offset="50.7%" stop-color="#e70018"/><stop offset="52%" stop-color="#f70008"/><stop offset="52.9%" stop-color="#fd0002"/><stop offset="54.8%" stop-color="#fb0004"/><stop offset="56.8%" stop-color="#e1001e"/><stop offset="58.5%" stop-color="#bf0040"/><stop offset="62.7%" stop-color="#5700a8"/><stop offset="64.5%" stop-color="#2f00d0"/><stop offset="66.4%" stop-color="#1100ee"/><stop offset="67.9%" stop-color="#0100fe"/><stop offset="69.8%" stop-color="#0d0dff"/><stop offset="73.4%" stop-color="#1515ff"/><stop offset="88.6%" stop-color="#1111ff"/><stop offset="91.6%" stop-color="#1919ff"/><stop offset="93.4%" stop-color="#2525ff"/><stop offset="95.9%" stop-color="#3f3fff"/><stop offset="100%" stop-color="#8585ff"/></linearGradient><linearGradient id="g91" x1="700" x2="1233" gradientUnits="userSpaceOnUse"><stop offset="0%" stop-color="#7d7dff"/><stop offset="4.1%" stop-color="#2f2fff"/><stop offset="7.1%" stop-color="#0b0bff"/><stop offset="8.6%" stop-color="#0101ff"/><stop offset="11.8%" stop-color="#0b00f4"/><stop offset="16.5%" stop-color="#1100ee"/><stop offset="30.2%" stop-color="#1300ec"/><stop offset="37.1%" stop-color="#2b00d4"/><stop offset="40.7%" stop-color="#4100be"/><stop offset="42.6%" stop-color="#5500aa"/><stop offset="44.5%" stop-color="#71008e"/><stop offset="49.3%" stop-color="#d3002c"/><stop offset="50.7%" stop-color="#e90016"/><stop offset="52%" stop-color="#f90006"/><stop offset="52.9%" stop-color="#ff0000"/><stop offset="54.8%" stop-color="#fd0002"/><stop offset="56.8%" stop-color="#e3001c"/><stop offset="58.5%" stop-color="#c1003e"/><stop offset="62.5%" stop-color="#5d00a2"/><stop offset="64.7%" stop-color="#2d00d2"/><stop offset="66.2%" stop-color="#1500ea"/><stop offset="68.1%" stop-color="#0100fe"/><stop offset="70.2%" stop-color="#0d0dff"/><stop offset="72.6%" stop-color="#1313ff"/><stop offset="87.8%" stop-color="#0f0fff"/><stop offset="91.4%" stop-color="#1717ff"/><stop offset="93.8%" stop-color="#2727ff"/><stop offset="95.5%" stop-color="#3939ff"/><stop offset="97.7%" stop-color="#5b5bff"/><stop offset="100%" stop-color="#8585ff"/></linearGradient><linearGradient id="g92" x1="700" x2="1233" gradientUnits="userSpaceOnUse"><stop offset="0%" stop-color="#7d7dff"/><stop offset="2.8%" stop-color="#4545ff"/><stop offset="4.5%" stop-color="#2929ff"/><stop offset="7.3%" stop-color="#0909ff"/><stop offset="8.4%" stop-color="#0101ff"/><stop offset="11.6%" stop-color="#0b00f4"/><stop offset="15.9%" stop-color="#1100ee"/><stop offset="30%" stop-color="#1300ec"/><stop offset="36.2%" stop-color="#2700d8"/><stop offset="40.9%" stop-color="#4300bc"/><stop offset="42.6%" stop-color="#5500aa"/><stop offset="44.5%" stop-color="#71008e"/><stop offset="49%" stop-color="#cb0034"/><stop offset="50.8%" stop-color="#eb0014"/><stop offset="53.1%" stop-color="#ff0000"/><stop offset="54.6%" stop-color="#fd0002"/><stop offset="56.5%" stop-color="#e90016"/><stop offset="59.1%" stop-color="#b3004c"/><stop offset="62.5%" stop-color="#5d00a2"/><stop offset="64.7%" stop-color="#2d00d2"/><stop offset="66.2%" stop-color="#1500ea"/><stop offset="68.1%" stop-color="#0100fe"/><stop offset="70.2%" stop-color="#0d0dff"/><stop offset="72.8%" stop-color="#1313ff"/><stop offset="87.8%" stop-color="#0f0fff"/><stop offset="91.4%" stop-color="#1717ff"/><stop offset="93.8%" stop-color="#2727ff"/><stop offset="95.5%" stop-color="#3939ff"/><stop offset="97.7%" stop-color="#5b5bff"/><stop offset="100%" stop-color="#8585ff"/></linearGradient><linearGradient id="g93" x1="700" x2="1233" gradientUnits="userSpaceOnUse"><stop offset="0%" stop-color="#7f7fff"/><stop offset="2.4%" stop-color="#4d4dff"/><stop offset="4.7%" stop-color="#2727ff"/><stop offset="6.9%" stop-color="#0d0dff"/><stop offset="8.6%" stop-color="#0101ff"/><stop offset="12.2%" stop-color="#0b00f4"/><stop offset="17.3%" stop-color="#1100ee"/><stop offset="27.4%" stop-color="#0f00f0"/><stop offset="31.3%" stop-color="#1500ea"/><stop offset="37%" stop-color="#2900d6"/><stop offset="41.1%" stop-color="#4300bc"/><stop offset="43.3%" stop-color="#5d00a2"/><stop offset="44.8%" stop-color="#75008a"/><stop offset="49.3%" stop-color="#cf0030"/><stop offset="50.7%" stop-color="#e5001a"/><stop offset="53.1%" stop-color="#fb0004"/><stop offset="55%" stop-color="#f70008"/><stop offset="56.8%" stop-color="#df0020"/><stop offset="58.5%" stop-color="#bd0042"/><stop offset="62.3%" stop-color="#5f00a0"/><stop offset="64.5%" stop-color="#2f00d0"/><stop offset="65.9%" stop-color="#1900e6"/><stop offset="67.9%" stop-color="#0100fe"/><stop offset="70%" stop-color="#0d0dff"/><stop offset="72%" stop-color="#1313ff"/><stop offset="88.6%" stop-color="#1111ff"/><stop offset="91.6%" stop-color="#1919ff"/><stop offset="93.4%" stop-color="#2525ff"/><stop offset="95.9%" stop-color="#3f3fff"/><stop offset="100%" stop-color="#8585ff"/></linearGradient><linearGradient id="g94" x1="700" x2="1233" gradientUnits="userSpaceOnUse"><stop offset="0%" stop-color="#7f7fff"/><stop offset="2.6%" stop-color="#4b4bff"/><stop offset="4.7%" stop-color="#2929ff"/><stop offset="6.9%" stop-color="#0f0fff"/><stop offset="9%" stop-color="#0101ff"/><stop offset="12.4%" stop-color="#0900f6"/><stop offset="18%" stop-color="#0f00f0"/><stop offset="28.3%" stop-color="#0d00f2"/><stop offset="30.8%" stop-color="#1100ee"/><stop offset="37.1%" stop-color="#2700d8"/><stop offset="40.5%" stop-color="#3b00c4"/><stop offset="43.2%" stop-color="#5700a8"/><stop offset="44.8%" stop-color="#71008e"/><stop offset="50.3%" stop-color="#d90026"/><stop offset="52.3%" stop-color="#f1000e"/><stop offset="53.3%" stop-color="#f5000a"/><stop offset="55.2%" stop-color="#ef0010"/><stop offset="56.8%" stop-color="#d90026"/><stop offset="58.9%" stop-color="#af0050"/><stop offset="62.5%" stop-color="#5700a8"/><stop offset="64.2%" stop-color="#3300cc"/><stop offset="66.4%" stop-color="#0f00f0"/><stop offset="67.7%" stop-color="#0100fe"/><stop offset="70%" stop-color="#0f0fff"/><stop offset="72%" stop-color="#1515ff"/><stop offset="88.4%" stop-color="#1313ff"/><stop offset="91%" stop-color="#1919ff"/><stop offset="93.4%" stop-color="#2727ff"/><stop offset="95.9%" stop-color="#4141ff"/><stop offset="97.4%" stop-color="#5757ff"/><stop offset="100%" stop-color="#8787ff"/></linearGradient><linearGradient id="g95" x1="700" x2="1233" gradientUnits="userSpaceOnUse"><stop offset="0%" stop-color="#8181ff"/><stop offset="2.6%" stop-color="#4d4dff"/><stop offset="4.9%" stop-color="#2929ff"/><stop offset="7.3%" stop-color="#0f0fff"/><stop offset="9.8%" stop-color="#0101ff"/><stop offset="18.2%" stop-color="#0b00f4"/><stop offset="29.6%" stop-color="#0b00f4"/><stop offset="37.1%" stop-color="#2300dc"/><stop offset="41.3%" stop-color="#3d00c2"/><stop offset="44.5%" stop-color="#65009a"/><stop offset="50.3%" stop-color="#d1002e"/><stop offset="52.2%" stop-color="#e70018"/><stop offset="52.9%" stop-color="#eb0014"/><stop offset="54.8%" stop-color="#e90016"/><stop offset="56.8%" stop-color="#d1002e"/><stop offset="59.5%" stop-color="#9b0064"/><stop offset="61.7%" stop-color="#63009c"/><stop offset="64.4%" stop-color="#2b00d4"/><stop offset="66.4%" stop-color="#0b00f4"/><stop offset="67.4%" stop-color="#0100fe"/><stop offset="69%" stop-color="#0d0dff"/><stop offset="71.7%" stop-color="#1717ff"/><stop offset="86.7%" stop-color="#1515ff"/><stop offset="91.2%" stop-color="#1d1dff"/><stop offset="93.1%" stop-color="#2727ff"/><stop offset="95.7%" stop-color="#4141ff"/><stop offset="100%" stop-color="#8787ff"/></linearGradient><linearGradient id="g96" x1="700" x2="1233" gradientUnits="userSpaceOnUse"><stop offset="0%" stop-color="#8383ff"/><stop offset="3%" stop-color="#4949ff"/><stop offset="5.4%" stop-color="#2525ff"/><stop offset="7.3%" stop-color="#1313ff"/><stop offset="9.4%" stop-color="#0707ff"/><stop offset="12.4%" stop-color="#0100fe"/><stop offset="29.1%" stop-color="#0500fa"/><stop offset="37%" stop-color="#1d00e2"/><stop offset="41.5%" stop-color="#3900c6"/><stop offset="43.7%" stop-color="#5300ac"/><stop offset="45.6%" stop-color="#71008e"/><stop offset="50.3%" stop-color="#c70038"/><stop offset="52%" stop-color="#db0024"/><stop offset="53.1%" stop-color="#e1001e"/><stop offset="55%" stop-color="#dd0022"/><stop offset="57.2%" stop-color="#c1003e"/><stop offset="59.1%" stop-color="#9b0064"/><stop offset="62.7%" stop-color="#4700b8"/><stop offset="64.2%" stop-color="#2900d6"/><stop offset="67%" stop-color="#0100fe"/><stop offset="69%" stop-color="#1111ff"/><stop offset="71.9%" stop-color="#1b1bff"/><stop offset="86.5%" stop-color="#1919ff"/><stop offset="91.2%" stop-color="#2121ff"/><stop offset="93.8%" stop-color="#3131ff"/><stop offset="95.9%" stop-color="#4747ff"/><stop offset="98.5%" stop-color="#6f6fff"/><stop offset="100%" stop-color="#8b8bff"/></linearGradient><linearGradient id="g97" x1="700" x2="1233" gradientUnits="userSpaceOnUse"><stop offset="0%" stop-color="#8585ff"/><stop offset="2.6%" stop-color="#5353ff"/><stop offset="4.7%" stop-color="#3333ff"/><stop offset="7.3%" stop-color="#1717ff"/><stop offset="9%" stop-color="#0d0dff"/><stop offset="12%" stop-color="#0505ff"/><stop offset="16.9%" stop-color="#0101ff"/><stop offset="30%" stop-color="#0100fe"/><stop offset="36.4%" stop-color="#1500ea"/><stop offset="41.1%" stop-color="#2f00d0"/><stop offset="43.5%" stop-color="#4900b6"/><stop offset="45%" stop-color="#5f00a0"/><stop offset="48.4%" stop-color="#9d0062"/><stop offset="50.7%" stop-color="#c1003e"/><stop offset="52%" stop-color="#cf0030"/><stop offset="53.1%" stop-color="#d5002a"/><stop offset="55%" stop-color="#d1002e"/><stop offset="56.5%" stop-color="#c1003e"/><stop offset="58.5%" stop-color="#9d0062"/><stop offset="63.6%" stop-color="#2d00d2"/><stop offset="65.7%" stop-color="#0b00f4"/><stop offset="66.6%" stop-color="#0101ff"/><stop offset="68.7%" stop-color="#1313ff"/><stop offset="71.7%" stop-color="#1f1fff"/><stop offset="83.9%" stop-color="#1d1dff"/><stop offset="91%" stop-color="#2525ff"/><stop offset="93.2%" stop-color="#3131ff"/><stop offset="96.1%" stop-color="#4d4dff"/><stop offset="100%" stop-color="#8d8dff"/></linearGradient><linearGradient id="g98" x1="700" x2="1233" gradientUnits="userSpaceOnUse"><stop offset="0%" stop-color="#8787ff"/><stop offset="2.6%" stop-color="#5757ff"/><stop offset="4.7%" stop-color="#3737ff"/><stop offset="6.9%" stop-color="#1f1fff"/><stop offset="8.8%" stop-color="#1313ff"/><stop offset="13.9%" stop-color="#0909ff"/><stop offset="27.6%" stop-color="#0909ff"/><stop offset="32.5%" stop-color="#0100fe"/><stop offset="37.9%" stop-color="#1500ea"/><stop offset="41.5%" stop-color="#2b00d4"/><stop offset="44.3%" stop-color="#4b00b4"/><stop offset="50.1%" stop-color="#ad0052"/><stop offset="51.4%" stop-color="#bd0042"/><stop offset="52.9%" stop-color="#c70038"/><stop offset="54.8%" stop-color="#c5003a"/><stop offset="56.8%" stop-color="#af0050"/><stop offset="58.2%" stop-color="#990066"/><stop offset="63.2%" stop-color="#2d00d2"/><stop offset="66%" stop-color="#0100fe"/><stop offset="68.5%" stop-color="#1717ff"/><stop offset="71.3%" stop-color="#2323ff"/><stop offset="86.1%" stop-color="#2323ff"/><stop offset="91.2%" stop-color="#2b2bff"/><stop offset="93.6%" stop-color="#3939ff"/><stop offset="95.9%" stop-color="#4f4fff"/><stop offset="100%" stop-color="#8f8fff"/></linearGradient><linearGradient id="g99" x1="700" x2="1233" gradientUnits="userSpaceOnUse"><stop offset="0%" stop-color="#8b8bff"/><stop offset="2.3%" stop-color="#6161ff"/><stop offset="4.9%" stop-color="#3939ff"/><stop offset="7.3%" stop-color="#2121ff"/><stop offset="9.2%" stop-color="#1717ff"/><stop offset="15.4%" stop-color="#0f0fff"/><stop offset="28.5%" stop-color="#0f0fff"/><stop offset="34.5%" stop-color="#0100fe"/><stop offset="38.1%" stop-color="#0f00f0"/><stop offset="41.8%" stop-color="#2700d8"/><stop offset="45%" stop-color="#4d00b2"/><stop offset="50.5%" stop-color="#a5005a"/><stop offset="51.8%" stop-color="#b3004c"/><stop offset="52.9%" stop-color="#b90046"/><stop offset="54.4%" stop-color="#b90046"/><stop offset="56.7%" stop-color="#a5005a"/><stop offset="59.3%" stop-color="#770088"/><stop offset="63.2%" stop-color="#2500da"/><stop offset="65.5%" stop-color="#0100fe"/><stop offset="68.9%" stop-color="#1f1fff"/><stop offset="71.7%" stop-color="#2929ff"/><stop offset="86.7%" stop-color="#2929ff"/><stop offset="91.7%" stop-color="#3333ff"/><stop offset="94%" stop-color="#4141ff"/><stop offset="96.6%" stop-color="#5d5dff"/><stop offset="100%" stop-color="#9393ff"/></linearGradient><linearGradient id="g100" x1="700" x2="1233" gradientUnits="userSpaceOnUse"><stop offset="0%" stop-color="#8d8dff"/><stop offset="3.8%" stop-color="#4d4dff"/><stop offset="5.4%" stop-color="#3737ff"/><stop offset="6.9%" stop-color="#2929ff"/><stop offset="9%" stop-color="#1d1dff"/><stop offset="11.6%" stop-color="#1717ff"/><stop offset="27.4%" stop-color="#1717ff"/><stop offset="36.2%" stop-color="#0100fe"/><stop offset="40.2%" stop-color="#1300ec"/><stop offset="42%" stop-color="#2100de"/><stop offset="44.8%" stop-color="#4100be"/><stop offset="50.1%" stop-color="#93006c"/><stop offset="51.8%" stop-color="#a5005a"/><stop offset="52.9%" stop-color="#ab0054"/><stop offset="55.2%" stop-color="#a70058"/><stop offset="56.8%" stop-color="#95006a"/><stop offset="58.9%" stop-color="#73008c"/><stop offset="62.7%" stop-color="#2700d8"/><stop offset="65.1%" stop-color="#0101ff"/><stop offset="67.7%" stop-color="#1d1dff"/><stop offset="71.1%" stop-color="#2d2dff"/><stop offset="86.7%" stop-color="#2f2fff"/><stop offset="91.7%" stop-color="#3939ff"/><stop offset="94.6%" stop-color="#4b4bff"/><stop offset="96.2%" stop-color="#5d5dff"/><stop offset="100%" stop-color="#9595ff"/></linearGradient><linearGradient id="g101" x1="700" x2="1233" gradientUnits="userSpaceOnUse"><stop offset="0%" stop-color="#9191ff"/><stop offset="2.8%" stop-color="#5f5fff"/><stop offset="4.3%" stop-color="#4949ff"/><stop offset="6.8%" stop-color="#2f2fff"/><stop offset="8.8%" stop-color="#2323ff"/><stop offset="11.3%" stop-color="#1d1dff"/><stop offset="28.1%" stop-color="#1d1dff"/><stop offset="37.9%" stop-color="#0100fe"/><stop offset="42.2%" stop-color="#1b00e4"/><stop offset="45%" stop-color="#3b00c4"/><stop offset="50.3%" stop-color="#890076"/><stop offset="52%" stop-color="#990066"/><stop offset="53.5%" stop-color="#9f0060"/><stop offset="55.5%" stop-color="#970068"/><stop offset="57.8%" stop-color="#7b0084"/><stop offset="62.9%" stop-color="#1b00e4"/><stop offset="64.5%" stop-color="#0100fe"/><stop offset="67.7%" stop-color="#2323ff"/><stop offset="70.5%" stop-color="#3131ff"/><stop offset="73.2%" stop-color="#3535ff"/><stop offset="86.7%" stop-color="#3535ff"/><stop offset="91.7%" stop-color="#3f3fff"/><stop offset="94.4%" stop-color="#4f4fff"/><stop offset="97%" stop-color="#6b6bff"/><stop offset="100%" stop-color="#9999ff"/></linearGradient><linearGradient id="g102" x1="700" x2="1233" gradientUnits="userSpaceOnUse"><stop offset="0%" stop-color="#9393ff"/><stop offset="4.3%" stop-color="#4d4dff"/><stop offset="6.6%" stop-color="#3535ff"/><stop offset="8.4%" stop-color="#2929ff"/><stop offset="10.5%" stop-color="#2323ff"/><stop offset="28.3%" stop-color="#2323ff"/><stop offset="33%" stop-color="#1717ff"/><stop offset="38.6%" stop-color="#0101ff"/><stop offset="40.7%" stop-color="#0900f6"/><stop offset="42.8%" stop-color="#1900e6"/><stop offset="45.4%" stop-color="#3700c8"/><stop offset="50.1%" stop-color="#7b0084"/><stop offset="51.2%" stop-color="#870078"/><stop offset="52.9%" stop-color="#91006e"/><stop offset="54.8%" stop-color="#8f0070"/><stop offset="56.7%" stop-color="#7f0080"/><stop offset="58.5%" stop-color="#63009c"/><stop offset="62.3%" stop-color="#1d00e2"/><stop offset="64%" stop-color="#0300fc"/><stop offset="64.2%" stop-color="#0101ff"/><stop offset="65.5%" stop-color="#1313ff"/><stop offset="67.5%" stop-color="#2727ff"/><stop offset="70.9%" stop-color="#3737ff"/><stop offset="86.7%" stop-color="#3b3bff"/><stop offset="92.3%" stop-color="#4747ff"/><stop offset="94.9%" stop-color="#5959ff"/><stop offset="96.8%" stop-color="#6d6dff"/><stop offset="100%" stop-color="#9b9bff"/></linearGradient><linearGradient id="g103" x1="700" x2="1233" gradientUnits="userSpaceOnUse"><stop offset="0%" stop-color="#9595ff"/><stop offset="4.1%" stop-color="#5353ff"/><stop offset="6.8%" stop-color="#3737ff"/><stop offset="8.4%" stop-color="#2d2dff"/><stop offset="10.7%" stop-color="#2727ff"/><stop offset="17.3%" stop-color="#2b2bff"/><stop offset="28.3%" stop-color="#2929ff"/><stop offset="32.8%" stop-color="#1d1dff"/><stop offset="39.8%" stop-color="#0101ff"/><stop offset="40.7%" stop-color="#0300fc"/><stop offset="42.4%" stop-color="#0f00f0"/><stop offset="45.2%" stop-color="#2d00d2"/><stop offset="49.3%" stop-color="#670098"/><stop offset="51.4%" stop-color="#7d0082"/><stop offset="52.9%" stop-color="#85007a"/><stop offset="54.8%" stop-color="#83007c"/><stop offset="57%" stop-color="#6f0090"/><stop offset="58.9%" stop-color="#5300ac"/><stop offset="63.6%" stop-color="#0100fe"/><stop offset="65.7%" stop-color="#1b1bff"/><stop offset="67.2%" stop-color="#2929ff"/><stop offset="70.7%" stop-color="#3b3bff"/><stop offset="73.5%" stop-color="#3f3fff"/><stop offset="84.4%" stop-color="#3f3fff"/><stop offset="91.9%" stop-color="#4b4bff"/><stop offset="95.5%" stop-color="#6363ff"/><stop offset="100%" stop-color="#9d9dff"/></linearGradient><linearGradient id="g104" x1="700" x2="1233" gradientUnits="userSpaceOnUse"><stop offset="0%" stop-color="#9797ff"/><stop offset="4.5%" stop-color="#5151ff"/><stop offset="6.4%" stop-color="#3d3dff"/><stop offset="8.6%" stop-color="#2f2fff"/><stop offset="10.1%" stop-color="#2b2bff"/><stop offset="18.6%" stop-color="#3131ff"/><stop offset="27.8%" stop-color="#2f2fff"/><stop offset="34.1%" stop-color="#1d1dff"/><stop offset="40.7%" stop-color="#0101ff"/><stop offset="42.6%" stop-color="#0b00f4"/><stop offset="45.8%" stop-color="#2d00d2"/><stop offset="49%" stop-color="#5900a6"/><stop offset="51.4%" stop-color="#73008c"/><stop offset="52.9%" stop-color="#7b0084"/><stop offset="55.2%" stop-color="#770088"/><stop offset="57.2%" stop-color="#63009c"/><stop offset="63.2%" stop-color="#0100fe"/><stop offset="66.8%" stop-color="#2b2bff"/><stop offset="70.5%" stop-color="#3f3fff"/><stop offset="73%" stop-color="#4343ff"/><stop offset="85.6%" stop-color="#4545ff"/><stop offset="92.1%" stop-color="#5151ff"/><stop offset="95.9%" stop-color="#6b6bff"/><stop offset="100%" stop-color="#a1a1ff"/></linearGradient><linearGradient id="g105" x1="700" x2="1233" gradientUnits="userSpaceOnUse"><stop offset="0%" stop-color="#9999ff"/><stop offset="4.7%" stop-color="#5151ff"/><stop offset="6.2%" stop-color="#4141ff"/><stop offset="8.3%" stop-color="#3333ff"/><stop offset="11.1%" stop-color="#2d2dff"/><stop offset="17.4%" stop-color="#3535ff"/><stop offset="28%" stop-color="#3333ff"/><stop offset="37.3%" stop-color="#1515ff"/><stop offset="41.3%" stop-color="#0101ff"/><stop offset="41.8%" stop-color="#0100fe"/><stop offset="43.3%" stop-color="#0d00f2"/><stop offset="51.2%" stop-color="#690096"/><stop offset="53.5%" stop-color="#73008c"/><stop offset="55.3%" stop-color="#6d0092"/><stop offset="57.2%" stop-color="#5b00a4"/><stop offset="62.9%" stop-color="#0100fe"/><stop offset="64.4%" stop-color="#1515ff"/><stop offset="66.8%" stop-color="#2f2fff"/><stop offset="70.5%" stop-color="#4343ff"/><stop offset="84.6%" stop-color="#4949ff"/><stop offset="91.9%" stop-color="#5555ff"/><stop offset="95.7%" stop-color="#6d6dff"/><stop offset="100%" stop-color="#a3a3ff"/></linearGradient><linearGradient id="g106" x1="700" x2="1233" gradientUnits="userSpaceOnUse"><stop offset="0%" stop-color="#9b9bff"/><stop offset="4.5%" stop-color="#5555ff"/><stop offset="6.6%" stop-color="#3f3fff"/><stop offset="8.1%" stop-color="#3535ff"/><stop offset="12%" stop-color="#2f2fff"/><stop offset="17.6%" stop-color="#3939ff"/><stop offset="27.8%" stop-color="#3737ff"/><stop offset="39%" stop-color="#1111ff"/><stop offset="41.8%" stop-color="#0101ff"/><stop offset="43.5%" stop-color="#0b00f4"/><stop offset="50.8%" stop-color="#5f00a0"/><stop offset="52.9%" stop-color="#6b0094"/><stop offset="54.8%" stop-color="#690096"/><stop offset="56.8%" stop-color="#5900a6"/><stop offset="58.9%" stop-color="#3d00c2"/><stop offset="62.5%" stop-color="#0300fc"/><stop offset="63%" stop-color="#0505ff"/><stop offset="64.5%" stop-color="#1b1bff"/><stop offset="66.6%" stop-color="#3131ff"/><stop offset="70.2%" stop-color="#4545ff"/><stop offset="86.5%" stop-color="#4f4fff"/><stop offset="92.3%" stop-color="#5b5bff"/><stop offset="95.5%" stop-color="#6f6fff"/><stop offset="98.1%" stop-color="#8b8bff"/><stop offset="100%" stop-color="#a5a5ff"/></linearGradient><linearGradient id="g107" x1="700" x2="1233" gradientUnits="userSpaceOnUse"><stop offset="0%" stop-color="#9d9dff"/><stop offset="3%" stop-color="#6b6bff"/><stop offset="4.9%" stop-color="#5151ff"/><stop offset="6.4%" stop-color="#4141ff"/><stop offset="8.6%" stop-color="#3333ff"/><stop offset="12.6%" stop-color="#3131ff"/><stop offset="18.8%" stop-color="#3d3dff"/><stop offset="27%" stop-color="#3b3bff"/><stop offset="30.4%" stop-color="#3333ff"/><stop offset="37.9%" stop-color="#1717ff"/><stop offset="42.2%" stop-color="#0101ff"/><stop offset="44.7%" stop-color="#1300ec"/><stop offset="50.5%" stop-color="#5700a8"/><stop offset="52.7%" stop-color="#65009a"/><stop offset="54.4%" stop-color="#65009a"/><stop offset="55.9%" stop-color="#5d00a2"/><stop offset="58.3%" stop-color="#4100be"/><stop offset="62.3%" stop-color="#0300fc"/><stop offset="62.7%" stop-color="#0303ff"/><stop offset="64.2%" stop-color="#1919ff"/><stop offset="66.8%" stop-color="#3535ff"/><stop offset="70.7%" stop-color="#4949ff"/><stop offset="86.9%" stop-color="#5353ff"/><stop offset="92.9%" stop-color="#6161ff"/><stop offset="96.1%" stop-color="#7777ff"/><stop offset="100%" stop-color="#a7a7ff"/></linearGradient><linearGradient id="g108" x1="700" x2="1233" gradientUnits="userSpaceOnUse"><stop offset="0%" stop-color="#9d9dff"/><stop offset="4.9%" stop-color="#5151ff"/><stop offset="6.6%" stop-color="#3f3fff"/><stop offset="8.4%" stop-color="#3333ff"/><stop offset="11.3%" stop-color="#2f2fff"/><stop offset="18.6%" stop-color="#3f3fff"/><stop offset="27%" stop-color="#3d3dff"/><stop offset="30.2%" stop-color="#3535ff"/><stop offset="39.6%" stop-color="#1111ff"/><stop offset="42.2%" stop-color="#0101ff"/><stop offset="43.5%" stop-color="#0700f8"/><stop offset="50.8%" stop-color="#5700a8"/><stop offset="53.5%" stop-color="#63009c"/><stop offset="55.7%" stop-color="#5b00a4"/><stop offset="56.8%" stop-color="#5100ae"/><stop offset="59.1%" stop-color="#3300cc"/><stop offset="62.3%" stop-color="#0100fe"/><stop offset="64.2%" stop-color="#1b1bff"/><stop offset="66.6%" stop-color="#3535ff"/><stop offset="69%" stop-color="#4545ff"/><stop offset="73.4%" stop-color="#4f4fff"/><stop offset="81.8%" stop-color="#5151ff"/><stop offset="91.6%" stop-color="#5f5fff"/><stop offset="95.3%" stop-color="#7373ff"/><stop offset="97.9%" stop-color="#8d8dff"/><stop offset="100%" stop-color="#a7a7ff"/></linearGradient><linearGradient id="g109" x1="700" x2="1233" gradientUnits="userSpaceOnUse"><stop offset="0%" stop-color="#9d9dff"/><stop offset="3.9%" stop-color="#5d5dff"/><stop offset="5.4%" stop-color="#4949ff"/><stop offset="8.4%" stop-color="#3131ff"/><stop offset="11.8%" stop-color="#2f2fff"/><stop offset="18.9%" stop-color="#4141ff"/><stop offset="26.6%" stop-color="#3f3fff"/><stop offset="29.8%" stop-color="#3737ff"/><stop offset="39%" stop-color="#1313ff"/><stop offset="42.2%" stop-color="#0101ff"/><stop offset="42.8%" stop-color="#0100fe"/><stop offset="44.7%" stop-color="#1100ee"/><stop offset="51%" stop-color="#5700a8"/><stop offset="53.3%" stop-color="#61009e"/><stop offset="55.2%" stop-color="#5d00a2"/><stop offset="57.4%" stop-color="#4900b6"/><stop offset="62.1%" stop-color="#0300fc"/><stop offset="62.5%" stop-color="#0303ff"/><stop offset="63.8%" stop-color="#1717ff"/><stop offset="66%" stop-color="#3131ff"/><stop offset="68.9%" stop-color="#4545ff"/><stop offset="72.2%" stop-color="#4f4fff"/><stop offset="81.8%" stop-color="#5353ff"/><stop offset="91.4%" stop-color="#6161ff"/><stop offset="95.5%" stop-color="#7777ff"/><stop offset="98.3%" stop-color="#9393ff"/><stop offset="100%" stop-color="#a9a9ff"/></linearGradient><linearGradient id="g110" x1="700" x2="1233" gradientUnits="userSpaceOnUse"><stop offset="0%" stop-color="#9d9dff"/><stop offset="4.7%" stop-color="#5151ff"/><stop offset="6.4%" stop-color="#3d3dff"/><stop offset="8.4%" stop-color="#2f2fff"/><stop offset="10.1%" stop-color="#2b2bff"/><stop offset="11.8%" stop-color="#2d2dff"/><stop offset="18.4%" stop-color="#4141ff"/><stop offset="25.7%" stop-color="#4141ff"/><stop offset="30.4%" stop-color="#3535ff"/><stop offset="42.2%" stop-color="#0101ff"/><stop offset="43.9%" stop-color="#0b00f4"/><stop offset="49.9%" stop-color="#4d00b2"/><stop offset="51.4%" stop-color="#5900a6"/><stop offset="53.5%" stop-color="#61009e"/><stop offset="55.7%" stop-color="#5900a6"/><stop offset="57.4%" stop-color="#4900b6"/><stop offset="62.1%" stop-color="#0300fc"/><stop offset="62.5%" stop-color="#0303ff"/><stop offset="66%" stop-color="#3131ff"/><stop offset="69.2%" stop-color="#4747ff"/><stop offset="73.4%" stop-color="#5151ff"/><stop offset="82.2%" stop-color="#5555ff"/><stop offset="91.9%" stop-color="#6565ff"/><stop offset="96.1%" stop-color="#7d7dff"/><stop offset="100%" stop-color="#a9a9ff"/></linearGradient><linearGradient id="g111" x1="700" x2="1233" gradientUnits="userSpaceOnUse"><stop offset="0%" stop-color="#9d9dff"/><stop offset="2.4%" stop-color="#7373ff"/><stop offset="5.6%" stop-color="#4343ff"/><stop offset="8.6%" stop-color="#2b2bff"/><stop offset="11.1%" stop-color="#2929ff"/><stop offset="15.9%" stop-color="#3b3bff"/><stop offset="19.9%" stop-color="#4343ff"/><stop offset="25.9%" stop-color="#4141ff"/><stop offset="30.8%" stop-color="#3333ff"/><stop offset="41.8%" stop-color="#0101ff"/><stop offset="43.7%" stop-color="#0b00f4"/><stop offset="50.7%" stop-color="#5500aa"/><stop offset="52.7%" stop-color="#61009e"/><stop offset="54.4%" stop-color="#61009e"/><stop offset="55.9%" stop-color="#5900a6"/><stop offset="58.2%" stop-color="#4100be"/><stop offset="62.3%" stop-color="#0100fe"/><stop offset="64.4%" stop-color="#1d1dff"/><stop offset="66.8%" stop-color="#3737ff"/><stop offset="68.9%" stop-color="#4545ff"/><stop offset="73.2%" stop-color="#5151ff"/><stop offset="81.2%" stop-color="#5555ff"/><stop offset="91.4%" stop-color="#6565ff"/><stop offset="95.7%" stop-color="#7b7bff"/><stop offset="98.5%" stop-color="#9797ff"/><stop offset="100%" stop-color="#ababff"/></linearGradient><linearGradient id="g112" x1="700" x2="1233" gradientUnits="userSpaceOnUse"><stop offset="0%" stop-color="#9d9dff"/><stop offset="5.3%" stop-color="#4545ff"/><stop offset="8.3%" stop-color="#2929ff"/><stop offset="10.7%" stop-color="#2525ff"/><stop offset="18.6%" stop-color="#4141ff"/><stop offset="25.7%" stop-color="#4141ff"/><stop offset="30%" stop-color="#3535ff"/><stop offset="41.5%" stop-color="#0101ff"/><stop offset="42%" stop-color="#0100fe"/><stop offset="43.9%" stop-color="#0f00f0"/><stop offset="50.7%" stop-color="#5700a8"/><stop offset="52.7%" stop-color="#63009c"/><stop offset="55%" stop-color="#61009e"/><stop offset="56.7%" stop-color="#5500aa"/><stop offset="59.3%" stop-color="#3300cc"/><stop offset="62.3%" stop-color="#0300fc"/><stop offset="62.9%" stop-color="#0505ff"/><stop offset="65.9%" stop-color="#2d2dff"/><stop offset="69.4%" stop-color="#4747ff"/><stop offset="73.4%" stop-color="#5151ff"/><stop offset="82.6%" stop-color="#5757ff"/><stop offset="91.7%" stop-color="#6767ff"/><stop offset="96.1%" stop-color="#7f7fff"/><stop offset="98.1%" stop-color="#9393ff"/><stop offset="100%" stop-color="#ababff"/></linearGradient><linearGradient id="g113" x1="700" x2="1233" gradientUnits="userSpaceOnUse"><stop offset="0%" stop-color="#9d9dff"/><stop offset="5.1%" stop-color="#4545ff"/><stop offset="7.1%" stop-color="#2d2dff"/><stop offset="8.3%" stop-color="#2525ff"/><stop offset="9.6%" stop-color="#2121ff"/><stop offset="11.3%" stop-color="#2323ff"/><stop offset="15.6%" stop-color="#3737ff"/><stop offset="19.1%" stop-color="#4141ff"/><stop offset="25.1%" stop-color="#4141ff"/><stop offset="29.6%" stop-color="#3535ff"/><stop offset="40.9%" stop-color="#0101ff"/><stop offset="42.2%" stop-color="#0500fa"/><stop offset="44.1%" stop-color="#1300ec"/><stop offset="50.3%" stop-color="#5700a8"/><stop offset="53.1%" stop-color="#670098"/><stop offset="55.5%" stop-color="#61009e"/><stop offset="58%" stop-color="#4900b6"/><stop offset="62.5%" stop-color="#0300fc"/><stop offset="62.9%" stop-color="#0303ff"/><stop offset="66.2%" stop-color="#2f2fff"/><stop offset="70.2%" stop-color="#4949ff"/><stop offset="73.9%" stop-color="#5151ff"/><stop offset="82.4%" stop-color="#5757ff"/><stop offset="92.1%" stop-color="#6969ff"/><stop offset="96.2%" stop-color="#8181ff"/><stop offset="100%" stop-color="#ababff"/></linearGradient><linearGradient id="g114" x1="700" x2="1233" gradientUnits="userSpaceOnUse"><stop offset="0%" stop-color="#9b9bff"/><stop offset="5.4%" stop-color="#3d3dff"/><stop offset="6.9%" stop-color="#2b2bff"/><stop offset="8.8%" stop-color="#1f1fff"/><stop offset="11.1%" stop-color="#1f1fff"/><stop offset="18.6%" stop-color="#3f3fff"/><stop offset="24.6%" stop-color="#4141ff"/><stop offset="29.8%" stop-color="#3333ff"/><stop offset="40.3%" stop-color="#0101ff"/><stop offset="42%" stop-color="#0700f8"/><stop offset="43.7%" stop-color="#1300ec"/><stop offset="46.7%" stop-color="#3100ce"/><stop offset="49.5%" stop-color="#5300ac"/><stop offset="51.4%" stop-color="#63009c"/><stop offset="53.3%" stop-color="#6b0094"/><stop offset="55.5%" stop-color="#65009a"/><stop offset="57.8%" stop-color="#4f00b0"/><stop offset="62.7%" stop-color="#0300fc"/><stop offset="63%" stop-color="#0303ff"/><stop offset="66%" stop-color="#2b2bff"/><stop offset="70%" stop-color="#4747ff"/><stop offset="73%" stop-color="#4f4fff"/><stop offset="81.1%" stop-color="#5555ff"/><stop offset="91.9%" stop-color="#6969ff"/><stop offset="96.2%" stop-color="#8181ff"/><stop offset="100%" stop-color="#ababff"/></linearGradient><linearGradient id="g115" x1="700" x2="1233" gradientUnits="userSpaceOnUse"><stop offset="0%" stop-color="#9b9bff"/><stop offset="5.3%" stop-color="#3d3dff"/><stop offset="7.5%" stop-color="#2323ff"/><stop offset="8.4%" stop-color="#1d1dff"/><stop offset="10.9%" stop-color="#1b1bff"/><stop offset="18.2%" stop-color="#3d3dff"/><stop offset="23.6%" stop-color="#4141ff"/><stop offset="28.5%" stop-color="#3737ff"/><stop offset="39.8%" stop-color="#0101ff"/><stop offset="41.7%" stop-color="#0700f8"/><stop offset="43.9%" stop-color="#1700e8"/><stop offset="50.7%" stop-color="#61009e"/><stop offset="53.3%" stop-color="#6f0090"/><stop offset="55.5%" stop-color="#690096"/><stop offset="57.8%" stop-color="#5300ac"/><stop offset="62.9%" stop-color="#0300fc"/><stop offset="63.4%" stop-color="#0505ff"/><stop offset="64.7%" stop-color="#1919ff"/><stop offset="67.4%" stop-color="#3535ff"/><stop offset="69.4%" stop-color="#4343ff"/><stop offset="73.5%" stop-color="#4f4fff"/><stop offset="81.2%" stop-color="#5555ff"/><stop offset="91.9%" stop-color="#6969ff"/><stop offset="96.2%" stop-color="#8181ff"/><stop offset="100%" stop-color="#ababff"/></linearGradient><linearGradient id="g116" x1="700" x2="1233" gradientUnits="userSpaceOnUse"><stop offset="0%" stop-color="#9b9bff"/><stop offset="3.6%" stop-color="#5757ff"/><stop offset="5.6%" stop-color="#3535ff"/><stop offset="7.1%" stop-color="#2323ff"/><stop offset="9.4%" stop-color="#1717ff"/><stop offset="11.6%" stop-color="#1b1bff"/><stop offset="16.7%" stop-color="#3737ff"/><stop offset="18.6%" stop-color="#3d3dff"/><stop offset="24.8%" stop-color="#3f3fff"/><stop offset="29.3%" stop-color="#3333ff"/><stop offset="36%" stop-color="#0f0fff"/><stop offset="40%" stop-color="#0100fe"/><stop offset="44.1%" stop-color="#1b00e4"/><stop offset="50.3%" stop-color="#61009e"/><stop offset="52.7%" stop-color="#71008e"/><stop offset="55.2%" stop-color="#6f0090"/><stop offset="57.4%" stop-color="#5b00a4"/><stop offset="59.3%" stop-color="#4100be"/><stop offset="63%" stop-color="#0300fc"/><stop offset="63.4%" stop-color="#0303ff"/><stop offset="64.9%" stop-color="#1919ff"/><stop offset="67.5%" stop-color="#3535ff"/><stop offset="70.2%" stop-color="#4545ff"/><stop offset="74.3%" stop-color="#4f4fff"/><stop offset="82.7%" stop-color="#5757ff"/><stop offset="92.5%" stop-color="#6b6bff"/><stop offset="96.2%" stop-color="#8181ff"/><stop offset="100%" stop-color="#a9a9ff"/></linearGradient><linearGradient id="g117" x1="700" x2="1233" gradientUnits="userSpaceOnUse"><stop offset="0%" stop-color="#9b9bff"/><stop offset="5.3%" stop-color="#3939ff"/><stop offset="7.1%" stop-color="#2121ff"/><stop offset="9.4%" stop-color="#1515ff"/><stop offset="11.6%" stop-color="#1919ff"/><stop offset="17.4%" stop-color="#3939ff"/><stop offset="20.1%" stop-color="#3f3fff"/><stop offset="24.4%" stop-color="#3f3fff"/><stop offset="29.1%" stop-color="#3333ff"/><stop offset="36.2%" stop-color="#0d0dff"/><stop offset="39.8%" stop-color="#0100fe"/><stop offset="43.9%" stop-color="#1b00e4"/><stop offset="50.7%" stop-color="#670098"/><stop offset="53.1%" stop-color="#75008a"/><stop offset="55.3%" stop-color="#71008e"/><stop offset="58%" stop-color="#5700a8"/><stop offset="63.2%" stop-color="#0100fe"/><stop offset="66.6%" stop-color="#2b2bff"/><stop offset="70%" stop-color="#4343ff"/><stop offset="73.4%" stop-color="#4d4dff"/><stop offset="81.6%" stop-color="#5555ff"/><stop offset="92.5%" stop-color="#6b6bff"/><stop offset="96.2%" stop-color="#8181ff"/><stop offset="100%" stop-color="#a9a9ff"/></linearGradient><linearGradient id="g118" x1="700" x2="1233" gradientUnits="userSpaceOnUse"><stop offset="0%" stop-color="#9999ff"/><stop offset="5.4%" stop-color="#3535ff"/><stop offset="7.5%" stop-color="#1d1dff"/><stop offset="8.8%" stop-color="#1515ff"/><stop offset="11.4%" stop-color="#1717ff"/><stop offset="17.6%" stop-color="#3939ff"/><stop offset="20.5%" stop-color="#3f3fff"/><stop offset="24%" stop-color="#3f3fff"/><stop offset="28.5%" stop-color="#3535ff"/><stop offset="39%" stop-color="#0101ff"/><stop offset="40.2%" stop-color="#0300fc"/><stop offset="43.3%" stop-color="#1700e8"/><stop offset="46%" stop-color="#3100ce"/><stop offset="50.5%" stop-color="#670098"/><stop offset="53.1%" stop-color="#770088"/><stop offset="55%" stop-color="#75008a"/><stop offset="57%" stop-color="#65009a"/><stop offset="59.1%" stop-color="#4900b6"/><stop offset="63.4%" stop-color="#0100fe"/><stop offset="65.5%" stop-color="#1d1dff"/><stop offset="67.4%" stop-color="#3131ff"/><stop offset="70.5%" stop-color="#4545ff"/><stop offset="73.5%" stop-color="#4d4dff"/><stop offset="81.6%" stop-color="#5555ff"/><stop offset="92.5%" stop-color="#6b6bff"/><stop offset="96.2%" stop-color="#8181ff"/><stop offset="100%" stop-color="#a9a9ff"/></linearGradient><linearGradient id="g119" x1="700" x2="1233" gradientUnits="userSpaceOnUse"><stop offset="0%" stop-color="#9b9bff"/><stop offset="4.1%" stop-color="#4b4bff"/><stop offset="6%" stop-color="#2d2dff"/><stop offset="7.5%" stop-color="#1d1dff"/><stop offset="9%" stop-color="#1515ff"/><stop offset="11.8%" stop-color="#1919ff"/><stop offset="15%" stop-color="#2d2dff"/><stop offset="18.2%" stop-color="#3b3bff"/><stop offset="24.2%" stop-color="#3f3fff"/><stop offset="29.1%" stop-color="#3333ff"/><stop offset="35.8%" stop-color="#0f0fff"/><stop offset="39.8%" stop-color="#0100fe"/><stop offset="44.3%" stop-color="#1f00e0"/><stop offset="50.8%" stop-color="#6b0094"/><stop offset="52.7%" stop-color="#770088"/><stop offset="54.8%" stop-color="#770088"/><stop offset="56.1%" stop-color="#6f0090"/><stop offset="57.8%" stop-color="#5d00a2"/><stop offset="63.4%" stop-color="#0100fe"/><stop offset="67%" stop-color="#2d2dff"/><stop offset="70.2%" stop-color="#4343ff"/><stop offset="73.5%" stop-color="#4d4dff"/><stop offset="81.6%" stop-color="#5555ff"/><stop offset="91.7%" stop-color="#6969ff"/><stop offset="95.5%" stop-color="#7b7bff"/><stop offset="97.6%" stop-color="#8d8dff"/><stop offset="100%" stop-color="#a9a9ff"/></linearGradient><linearGradient id="g120" x1="700" x2="1233" gradientUnits="userSpaceOnUse"><stop offset="0%" stop-color="#9b9bff"/><stop offset="3.8%" stop-color="#5353ff"/><stop offset="5.8%" stop-color="#3131ff"/><stop offset="7.7%" stop-color="#1d1dff"/><stop offset="9.6%" stop-color="#1515ff"/><stop offset="12%" stop-color="#1b1bff"/><stop offset="18%" stop-color="#3b3bff"/><stop offset="24.8%" stop-color="#3f3fff"/><stop offset="28.9%" stop-color="#3535ff"/><stop offset="36.2%" stop-color="#0f0fff"/><stop offset="40.2%" stop-color="#0100fe"/><stop offset="43.3%" stop-color="#1500ea"/><stop offset="50.5%" stop-color="#670098"/><stop offset="52.9%" stop-color="#770088"/><stop offset="55.2%" stop-color="#75008a"/><stop offset="57.8%" stop-color="#5d00a2"/><stop offset="63.4%" stop-color="#0100fe"/><stop offset="67.2%" stop-color="#2f2fff"/><stop offset="70.5%" stop-color="#4545ff"/><stop offset="73.4%" stop-color="#4d4dff"/><stop offset="81.2%" stop-color="#5555ff"/><stop offset="92.3%" stop-color="#6b6bff"/><stop offset="96.4%" stop-color="#8383ff"/><stop offset="100%" stop-color="#ababff"/></linearGradient><linearGradient id="g121" x1="700" x2="1233" gradientUnits="userSpaceOnUse"><stop offset="0%" stop-color="#9b9bff"/><stop offset="3.9%" stop-color="#5151ff"/><stop offset="5.4%" stop-color="#3939ff"/><stop offset="7.5%" stop-color="#2121ff"/><stop offset="8.4%" stop-color="#1b1bff"/><stop offset="11.4%" stop-color="#1b1bff"/><stop offset="16.1%" stop-color="#3535ff"/><stop offset="18.4%" stop-color="#3d3dff"/><stop offset="24%" stop-color="#4141ff"/><stop offset="29.8%" stop-color="#3333ff"/><stop offset="40.2%" stop-color="#0101ff"/><stop offset="41.8%" stop-color="#0700f8"/><stop offset="44.1%" stop-color="#1900e6"/><stop offset="50.5%" stop-color="#65009a"/><stop offset="52.9%" stop-color="#75008a"/><stop offset="55.5%" stop-color="#71008e"/><stop offset="58%" stop-color="#5900a6"/><stop offset="63.4%" stop-color="#0100fe"/><stop offset="65.1%" stop-color="#1919ff"/><stop offset="67.7%" stop-color="#3535ff"/><stop offset="70.7%" stop-color="#4747ff"/><stop offset="92.1%" stop-color="#6b6bff"/><stop offset="94.7%" stop-color="#7777ff"/><stop offset="96.6%" stop-color="#8585ff"/><stop offset="100%" stop-color="#ababff"/></linearGradient><linearGradient id="g122" x1="700" x2="1233" gradientUnits="userSpaceOnUse"><stop offset="0%" stop-color="#9d9dff"/><stop offset="5.3%" stop-color="#3f3fff"/><stop offset="7.5%" stop-color="#2525ff"/><stop offset="8.4%" stop-color="#1f1fff"/><stop offset="10.9%" stop-color="#1d1dff"/><stop offset="18.4%" stop-color="#3f3fff"/><stop offset="23.6%" stop-color="#4343ff"/><stop offset="30%" stop-color="#3535ff"/><stop offset="40.9%" stop-color="#0101ff"/><stop offset="41.8%" stop-color="#0300fc"/><stop offset="44.3%" stop-color="#1700e8"/><stop offset="50.8%" stop-color="#65009a"/><stop offset="53.5%" stop-color="#73008c"/><stop offset="55.3%" stop-color="#6f0090"/><stop offset="57.2%" stop-color="#5f00a0"/><stop offset="58.7%" stop-color="#4b00b4"/><stop offset="63.2%" stop-color="#0100fe"/><stop offset="64.9%" stop-color="#1919ff"/><stop offset="67.7%" stop-color="#3737ff"/><stop offset="70.7%" stop-color="#4949ff"/><stop offset="74.1%" stop-color="#5151ff"/><stop offset="82.4%" stop-color="#5959ff"/><stop offset="92.5%" stop-color="#6d6dff"/><stop offset="96.1%" stop-color="#8181ff"/><stop offset="100%" stop-color="#ababff"/></linearGradient><linearGradient id="g123" x1="700" x2="1233" gradientUnits="userSpaceOnUse"><stop offset="0%" stop-color="#9d9dff"/><stop offset="5.3%" stop-color="#4343ff"/><stop offset="7.1%" stop-color="#2d2dff"/><stop offset="8.8%" stop-color="#2323ff"/><stop offset="11.3%" stop-color="#2323ff"/><stop offset="18.2%" stop-color="#4141ff"/><stop offset="24.2%" stop-color="#4545ff"/><stop offset="29.8%" stop-color="#3939ff"/><stop offset="41.8%" stop-color="#0101ff"/><stop offset="43.5%" stop-color="#0b00f4"/><stop offset="51.2%" stop-color="#63009c"/><stop offset="53.1%" stop-color="#6d0092"/><stop offset="54.6%" stop-color="#6d0092"/><stop offset="56.1%" stop-color="#65009a"/><stop offset="58%" stop-color="#5100ae"/><stop offset="62.9%" stop-color="#0300fc"/><stop offset="63.2%" stop-color="#0303ff"/><stop offset="65.3%" stop-color="#2121ff"/><stop offset="67.4%" stop-color="#3737ff"/><stop offset="70.2%" stop-color="#4949ff"/><stop offset="73.9%" stop-color="#5353ff"/><stop offset="81.1%" stop-color="#5959ff"/><stop offset="92.1%" stop-color="#6d6dff"/><stop offset="94.7%" stop-color="#7979ff"/><stop offset="96.6%" stop-color="#8787ff"/><stop offset="100%" stop-color="#adadff"/></linearGradient><linearGradient id="g124" x1="700" x2="1233" gradientUnits="userSpaceOnUse"><stop offset="0%" stop-color="#9f9fff"/><stop offset="5.6%" stop-color="#4343ff"/><stop offset="7.1%" stop-color="#3333ff"/><stop offset="8.4%" stop-color="#2b2bff"/><stop offset="11.3%" stop-color="#2929ff"/><stop offset="18.6%" stop-color="#4545ff"/><stop offset="25.5%" stop-color="#4747ff"/><stop offset="31.9%" stop-color="#3535ff"/><stop offset="40.7%" stop-color="#0f0fff"/><stop offset="42.8%" stop-color="#0101ff"/><stop offset="43.3%" stop-color="#0300fc"/><stop offset="46.5%" stop-color="#2500da"/><stop offset="50.8%" stop-color="#5900a6"/><stop offset="53.5%" stop-color="#670098"/><stop offset="55.7%" stop-color="#61009e"/><stop offset="57.8%" stop-color="#4d00b2"/><stop offset="62.7%" stop-color="#0100fe"/><stop offset="65.1%" stop-color="#2323ff"/><stop offset="67.2%" stop-color="#3939ff"/><stop offset="69.4%" stop-color="#4949ff"/><stop offset="73.2%" stop-color="#5555ff"/><stop offset="80.7%" stop-color="#5b5bff"/><stop offset="91.6%" stop-color="#6d6dff"/><stop offset="95.7%" stop-color="#8181ff"/><stop offset="100%" stop-color="#adadff"/></linearGradient><linearGradient id="g125" x1="700" x2="1233" gradientUnits="userSpaceOnUse"><stop offset="0%" stop-color="#a3a3ff"/><stop offset="2.8%" stop-color="#7373ff"/><stop offset="5.6%" stop-color="#4949ff"/><stop offset="8.6%" stop-color="#3131ff"/><stop offset="11.8%" stop-color="#3131ff"/><stop offset="18.8%" stop-color="#4949ff"/><stop offset="26.8%" stop-color="#4949ff"/><stop offset="31.1%" stop-color="#3d3dff"/><stop offset="39.2%" stop-color="#1d1dff"/><stop offset="41.8%" stop-color="#0f0fff"/><stop offset="43.5%" stop-color="#0101ff"/><stop offset="43.9%" stop-color="#0100fe"/><stop offset="46.2%" stop-color="#1900e6"/><stop offset="50.8%" stop-color="#5100ae"/><stop offset="53.5%" stop-color="#5f00a0"/><stop offset="55.3%" stop-color="#5b00a4"/><stop offset="57.2%" stop-color="#4b00b4"/><stop offset="58.7%" stop-color="#3900c6"/><stop offset="62.3%" stop-color="#0100fe"/><stop offset="64.4%" stop-color="#1f1fff"/><stop offset="66.4%" stop-color="#3737ff"/><stop offset="69.8%" stop-color="#4f4fff"/><stop offset="73.4%" stop-color="#5959ff"/><stop offset="81.6%" stop-color="#5f5fff"/><stop offset="91.6%" stop-color="#6f6fff"/><stop offset="95.7%" stop-color="#8383ff"/><stop offset="97.6%" stop-color="#9393ff"/><stop offset="100%" stop-color="#afafff"/></linearGradient><linearGradient id="g126" x1="700" x2="1233" gradientUnits="userSpaceOnUse"><stop offset="0%" stop-color="#a5a5ff"/><stop offset="4.9%" stop-color="#5959ff"/><stop offset="6.9%" stop-color="#4343ff"/><stop offset="9.4%" stop-color="#3737ff"/><stop offset="11.3%" stop-color="#3737ff"/><stop offset="18.8%" stop-color="#4d4dff"/><stop offset="27%" stop-color="#4d4dff"/><stop offset="29.8%" stop-color="#4747ff"/><stop offset="40%" stop-color="#2121ff"/><stop offset="41.8%" stop-color="#1717ff"/><stop offset="44.7%" stop-color="#0100fe"/><stop offset="50.1%" stop-color="#4100be"/><stop offset="51.8%" stop-color="#4f00b0"/><stop offset="53.3%" stop-color="#5500aa"/><stop offset="54.4%" stop-color="#5500aa"/><stop offset="56.1%" stop-color="#4d00b2"/><stop offset="58.3%" stop-color="#3500ca"/><stop offset="61.7%" stop-color="#0100fe"/><stop offset="65.5%" stop-color="#3333ff"/><stop offset="69.2%" stop-color="#5151ff"/><stop offset="73.4%" stop-color="#5d5dff"/><stop offset="82.2%" stop-color="#6363ff"/><stop offset="92.7%" stop-color="#7575ff"/><stop offset="96.4%" stop-color="#8b8bff"/><stop offset="100%" stop-color="#b1b1ff"/></linearGradient><linearGradient id="g127" x1="700" x2="1233" gradientUnits="userSpaceOnUse"><stop offset="0%" stop-color="#a7a7ff"/><stop offset="5.1%" stop-color="#5d5dff"/><stop offset="7.1%" stop-color="#4949ff"/><stop offset="8.6%" stop-color="#4141ff"/><stop offset="11.4%" stop-color="#3f3fff"/><stop offset="16.1%" stop-color="#4d4dff"/><stop offset="20.3%" stop-color="#5353ff"/><stop offset="27.6%" stop-color="#5151ff"/><stop offset="32.3%" stop-color="#4545ff"/><stop offset="40%" stop-color="#2929ff"/><stop offset="43%" stop-color="#1717ff"/><stop offset="45.4%" stop-color="#0100fe"/><stop offset="50.1%" stop-color="#3700c8"/><stop offset="51.6%" stop-color="#4300bc"/><stop offset="53.5%" stop-color="#4b00b4"/><stop offset="55%" stop-color="#4900b6"/><stop offset="56.3%" stop-color="#4100be"/><stop offset="58.5%" stop-color="#2900d6"/><stop offset="61.2%" stop-color="#0100fe"/><stop offset="64.5%" stop-color="#2f2fff"/><stop offset="66.4%" stop-color="#4343ff"/><stop offset="69.8%" stop-color="#5959ff"/><stop offset="72.8%" stop-color="#6161ff"/><stop offset="82.4%" stop-color="#6767ff"/><stop offset="91.7%" stop-color="#7575ff"/><stop offset="96.1%" stop-color="#8b8bff"/><stop offset="100%" stop-color="#b3b3ff"/></linearGradient><linearGradient id="g128" x1="700" x2="1233" gradientUnits="userSpaceOnUse"><stop offset="0%" stop-color="#ababff"/><stop offset="4.1%" stop-color="#6f6fff"/><stop offset="6.4%" stop-color="#5757ff"/><stop offset="8.8%" stop-color="#4949ff"/><stop offset="11.4%" stop-color="#4747ff"/><stop offset="19.3%" stop-color="#5757ff"/><stop offset="28.5%" stop-color="#5555ff"/><stop offset="40.5%" stop-color="#2f2fff"/><stop offset="43.3%" stop-color="#1d1dff"/><stop offset="46.2%" stop-color="#0101ff"/><stop offset="50.8%" stop-color="#3300cc"/><stop offset="53.1%" stop-color="#3f00c0"/><stop offset="54.4%" stop-color="#3f00c0"/><stop offset="56.7%" stop-color="#3300cc"/><stop offset="58.2%" stop-color="#2300dc"/><stop offset="60.6%" stop-color="#0100fe"/><stop offset="65.5%" stop-color="#4141ff"/><stop offset="69.4%" stop-color="#5d5dff"/><stop offset="73.5%" stop-color="#6767ff"/><stop offset="82.2%" stop-color="#6b6bff"/><stop offset="92.1%" stop-color="#7979ff"/><stop offset="96.2%" stop-color="#8f8fff"/><stop offset="100%" stop-color="#b5b5ff"/></linearGradient><linearGradient id="g129" x1="700" x2="1233" gradientUnits="userSpaceOnUse"><stop offset="0%" stop-color="#adadff"/><stop offset="3.2%" stop-color="#8181ff"/><stop offset="5.6%" stop-color="#6565ff"/><stop offset="7.1%" stop-color="#5959ff"/><stop offset="9%" stop-color="#5151ff"/><stop offset="11.6%" stop-color="#4f4fff"/><stop offset="21.2%" stop-color="#5d5dff"/><stop offset="29.5%" stop-color="#5959ff"/><stop offset="40.2%" stop-color="#3939ff"/><stop offset="43.7%" stop-color="#2323ff"/><stop offset="47.1%" stop-color="#0101ff"/><stop offset="51%" stop-color="#2900d6"/><stop offset="53.1%" stop-color="#3300cc"/><stop offset="54.6%" stop-color="#3300cc"/><stop offset="55.9%" stop-color="#2d00d2"/><stop offset="58.7%" stop-color="#1100ee"/><stop offset="59.8%" stop-color="#0100fe"/><stop offset="63.4%" stop-color="#3131ff"/><stop offset="66.4%" stop-color="#5151ff"/><stop offset="68.5%" stop-color="#5f5fff"/><stop offset="72.4%" stop-color="#6b6bff"/><stop offset="84.1%" stop-color="#7171ff"/><stop offset="91.6%" stop-color="#7b7bff"/><stop offset="93.8%" stop-color="#8383ff"/><stop offset="96.6%" stop-color="#9595ff"/><stop offset="100%" stop-color="#b7b7ff"/></linearGradient><linearGradient id="g130" x1="700" x2="1233" gradientUnits="userSpaceOnUse"><stop offset="0%" stop-color="#b1b1ff"/><stop offset="4.5%" stop-color="#7777ff"/><stop offset="7.1%" stop-color="#6161ff"/><stop offset="9%" stop-color="#5959ff"/><stop offset="12%" stop-color="#5757ff"/><stop offset="18.9%" stop-color="#6161ff"/><stop offset="29.5%" stop-color="#5f5fff"/><stop offset="40.7%" stop-color="#3f3fff"/><stop offset="43.9%" stop-color="#2b2bff"/><stop offset="48%" stop-color="#0101ff"/><stop offset="50.5%" stop-color="#1900e6"/><stop offset="53.1%" stop-color="#2700d8"/><stop offset="55.9%" stop-color="#2100de"/><stop offset="59.1%" stop-color="#0100fe"/><stop offset="62.9%" stop-color="#3333ff"/><stop offset="66%" stop-color="#5555ff"/><stop offset="68.9%" stop-color="#6767ff"/><stop offset="72.6%" stop-color="#7171ff"/><stop offset="83.3%" stop-color="#7575ff"/><stop offset="91.6%" stop-color="#7f7fff"/><stop offset="95.3%" stop-color="#8f8fff"/><stop offset="100%" stop-color="#b9b9ff"/></linearGradient><linearGradient id="g131" x1="700" x2="1233" gradientUnits="userSpaceOnUse"><stop offset="0%" stop-color="#b3b3ff"/><stop offset="5.6%" stop-color="#7373ff"/><stop offset="9%" stop-color="#6161ff"/><stop offset="12.8%" stop-color="#5f5fff"/><stop offset="20.8%" stop-color="#6767ff"/><stop offset="30.6%" stop-color="#6363ff"/><stop offset="37.3%" stop-color="#5353ff"/><stop offset="41.7%" stop-color="#4343ff"/><stop offset="45.6%" stop-color="#2525ff"/><stop offset="49%" stop-color="#0101ff"/><stop offset="51.2%" stop-color="#1300ec"/><stop offset="52.9%" stop-color="#1b00e4"/><stop offset="55.2%" stop-color="#1900e6"/><stop offset="58.2%" stop-color="#0100fe"/><stop offset="64.5%" stop-color="#4f4fff"/><stop offset="68.7%" stop-color="#6d6dff"/><stop offset="73%" stop-color="#7777ff"/><stop offset="82.2%" stop-color="#7979ff"/><stop offset="91.6%" stop-color="#8383ff"/><stop offset="95.7%" stop-color="#9595ff"/><stop offset="100%" stop-color="#bbbbff"/></linearGradient><linearGradient id="g132" x1="700" x2="1233" gradientUnits="userSpaceOnUse"><stop offset="0%" stop-color="#b7b7ff"/><stop offset="4.3%" stop-color="#8585ff"/><stop offset="6.9%" stop-color="#7171ff"/><stop offset="8.8%" stop-color="#6969ff"/><stop offset="14.4%" stop-color="#6767ff"/><stop offset="26.6%" stop-color="#6d6dff"/><stop offset="35.5%" stop-color="#5f5fff"/><stop offset="38.6%" stop-color="#5757ff"/><stop offset="42.4%" stop-color="#4747ff"/><stop offset="44.8%" stop-color="#3535ff"/><stop offset="50.1%" stop-color="#0101ff"/><stop offset="52.7%" stop-color="#0f00f0"/><stop offset="54.6%" stop-color="#0f00f0"/><stop offset="57%" stop-color="#0100fe"/><stop offset="59.5%" stop-color="#1919ff"/><stop offset="64.5%" stop-color="#5757ff"/><stop offset="68.7%" stop-color="#7373ff"/><stop offset="73.4%" stop-color="#7d7dff"/><stop offset="84.2%" stop-color="#7f7fff"/><stop offset="91.6%" stop-color="#8787ff"/><stop offset="95.7%" stop-color="#9999ff"/><stop offset="100%" stop-color="#bfbfff"/></linearGradient><linearGradient id="g133" x1="700" x2="1233" gradientUnits="userSpaceOnUse"><stop offset="0%" stop-color="#bbbbff"/><stop offset="4.5%" stop-color="#8989ff"/><stop offset="6.4%" stop-color="#7b7bff"/><stop offset="8.6%" stop-color="#7171ff"/><stop offset="10.5%" stop-color="#6d6dff"/><stop offset="28.9%" stop-color="#7171ff"/><stop offset="36.8%" stop-color="#6363ff"/><stop offset="40.7%" stop-color="#5757ff"/><stop offset="43.3%" stop-color="#4949ff"/><stop offset="49.3%" stop-color="#1111ff"/><stop offset="51.6%" stop-color="#0101ff"/><stop offset="53.1%" stop-color="#0500fa"/><stop offset="55.5%" stop-color="#0100fe"/><stop offset="57.2%" stop-color="#0b0bff"/><stop offset="64%" stop-color="#5959ff"/><stop offset="68.1%" stop-color="#7777ff"/><stop offset="71.9%" stop-color="#8181ff"/><stop offset="82.7%" stop-color="#8383ff"/><stop offset="91.6%" stop-color="#8b8bff"/><stop offset="95.5%" stop-color="#9b9bff"/><stop offset="100%" stop-color="#c1c1ff"/></linearGradient><linearGradient id="g134" x1="700" x2="1233" gradientUnits="userSpaceOnUse"><stop offset="0%" stop-color="#bdbdff"/><stop offset="5.4%" stop-color="#8787ff"/><stop offset="9.6%" stop-color="#7575ff"/><stop offset="28.1%" stop-color="#7777ff"/><stop offset="40%" stop-color="#6161ff"/><stop offset="44.1%" stop-color="#4b4bff"/><stop offset="51.4%" stop-color="#0b0bff"/><stop offset="54.4%" stop-color="#0505ff"/><stop offset="57%" stop-color="#1313ff"/><stop offset="64.7%" stop-color="#6767ff"/><stop offset="68.1%" stop-color="#7d7dff"/><stop offset="72.6%" stop-color="#8787ff"/><stop offset="85.6%" stop-color="#8989ff"/><stop offset="92.3%" stop-color="#9191ff"/><stop offset="95.9%" stop-color="#a1a1ff"/><stop offset="100%" stop-color="#c3c3ff"/></linearGradient><linearGradient id="g135" x1="700" x2="1233" gradientUnits="userSpaceOnUse"><stop offset="0%" stop-color="#bfbfff"/><stop offset="5.1%" stop-color="#8f8fff"/><stop offset="9.6%" stop-color="#7b7bff"/><stop offset="29.6%" stop-color="#7b7bff"/><stop offset="39.4%" stop-color="#6969ff"/><stop offset="44.5%" stop-color="#4f4fff"/><stop offset="50.8%" stop-color="#1717ff"/><stop offset="53.8%" stop-color="#0d0dff"/><stop offset="55.3%" stop-color="#1111ff"/><stop offset="57.2%" stop-color="#1d1dff"/><stop offset="63.8%" stop-color="#6565ff"/><stop offset="67.7%" stop-color="#8181ff"/><stop offset="71.7%" stop-color="#8b8bff"/><stop offset="84.8%" stop-color="#8d8dff"/><stop offset="91.4%" stop-color="#9393ff"/><stop offset="96.2%" stop-color="#a7a7ff"/><stop offset="100%" stop-color="#c5c5ff"/></linearGradient><linearGradient id="g136" x1="700" x2="1233" gradientUnits="userSpaceOnUse"><stop offset="0%" stop-color="#c3c3ff"/><stop offset="4.9%" stop-color="#9595ff"/><stop offset="9.4%" stop-color="#8181ff"/><stop offset="30.4%" stop-color="#7f7fff"/><stop offset="40%" stop-color="#6d6dff"/><stop offset="45%" stop-color="#5151ff"/><stop offset="50.7%" stop-color="#1f1fff"/><stop offset="52.2%" stop-color="#1717ff"/><stop offset="54.4%" stop-color="#1515ff"/><stop offset="56.3%" stop-color="#1d1dff"/><stop offset="57.8%" stop-color="#2929ff"/><stop offset="64.7%" stop-color="#7373ff"/><stop offset="68.5%" stop-color="#8989ff"/><stop offset="71.1%" stop-color="#8f8fff"/><stop offset="84.6%" stop-color="#9191ff"/><stop offset="91.6%" stop-color="#9797ff"/><stop offset="96.1%" stop-color="#a9a9ff"/><stop offset="100%" stop-color="#c7c7ff"/></linearGradient><linearGradient id="g137" x1="700" x2="1233" gradientUnits="userSpaceOnUse"><stop offset="0%" stop-color="#c5c5ff"/><stop offset="5.3%" stop-color="#9797ff"/><stop offset="9.9%" stop-color="#8585ff"/><stop offset="28.5%" stop-color="#8585ff"/><stop offset="39.6%" stop-color="#7373ff"/><stop offset="44.1%" stop-color="#5d5dff"/><stop offset="50.8%" stop-color="#2323ff"/><stop offset="52.7%" stop-color="#1b1bff"/><stop offset="54.6%" stop-color="#1b1bff"/><stop offset="57.4%" stop-color="#2b2bff"/><stop offset="64.2%" stop-color="#7373ff"/><stop offset="67.9%" stop-color="#8b8bff"/><stop offset="71.1%" stop-color="#9393ff"/><stop offset="90.8%" stop-color="#9999ff"/><stop offset="94.4%" stop-color="#a3a3ff"/><stop offset="100%" stop-color="#c9c9ff"/></linearGradient><linearGradient id="g138" x1="700" x2="1233" gradientUnits="userSpaceOnUse"><stop offset="0%" stop-color="#c7c7ff"/><stop offset="4.9%" stop-color="#9d9dff"/><stop offset="7.1%" stop-color="#9191ff"/><stop offset="10.1%" stop-color="#8989ff"/><stop offset="28.3%" stop-color="#8989ff"/><stop offset="39.6%" stop-color="#7777ff"/><stop offset="43.5%" stop-color="#6565ff"/><stop offset="50.8%" stop-color="#2727ff"/><stop offset="52.5%" stop-color="#1f1fff"/><stop offset="54.6%" stop-color="#1f1fff"/><stop offset="57.4%" stop-color="#2f2fff"/><stop offset="64.2%" stop-color="#7777ff"/><stop offset="67.9%" stop-color="#8f8fff"/><stop offset="71.7%" stop-color="#9797ff"/><stop offset="91.2%" stop-color="#9d9dff"/><stop offset="94.6%" stop-color="#a7a7ff"/><stop offset="100%" stop-color="#cbcbff"/></linearGradient><linearGradient id="g139" x1="700" x2="1233" gradientUnits="userSpaceOnUse"><stop offset="0%" stop-color="#c9c9ff"/><stop offset="4.5%" stop-color="#a3a3ff"/><stop offset="9%" stop-color="#8f8fff"/><stop offset="12%" stop-color="#8b8bff"/><stop offset="30.6%" stop-color="#8b8bff"/><stop offset="39.4%" stop-color="#7b7bff"/><stop offset="44.5%" stop-color="#6161ff"/><stop offset="50.8%" stop-color="#2929ff"/><stop offset="52.5%" stop-color="#2121ff"/><stop offset="54.6%" stop-color="#2121ff"/><stop offset="57.6%" stop-color="#3333ff"/><stop offset="63.8%" stop-color="#7777ff"/><stop offset="67.7%" stop-color="#9191ff"/><stop offset="70.7%" stop-color="#9999ff"/><stop offset="84.2%" stop-color="#9b9bff"/><stop offset="91.9%" stop-color="#a1a1ff"/><stop offset="96.4%" stop-color="#b3b3ff"/><stop offset="100%" stop-color="#cdcdff"/></linearGradient><linearGradient id="g140" x1="700" x2="1233" gradientUnits="userSpaceOnUse"><stop offset="0%" stop-color="#cbcbff"/><stop offset="5.3%" stop-color="#a1a1ff"/><stop offset="9.8%" stop-color="#9191ff"/><stop offset="15.6%" stop-color="#8d8dff"/><stop offset="29.6%" stop-color="#8f8fff"/><stop offset="39.6%" stop-color="#7d7dff"/><stop offset="41.7%" stop-color="#7575ff"/><stop offset="44.5%" stop-color="#6363ff"/><stop offset="51.2%" stop-color="#2727ff"/><stop offset="52.7%" stop-color="#2121ff"/><stop offset="54.6%" stop-color="#2121ff"/><stop offset="56.8%" stop-color="#2d2dff"/><stop offset="63.8%" stop-color="#7979ff"/><stop offset="67.5%" stop-color="#9393ff"/><stop offset="70.5%" stop-color="#9b9bff"/><stop offset="91.7%" stop-color="#a3a3ff"/><stop offset="96.4%" stop-color="#b5b5ff"/><stop offset="100%" stop-color="#cfcfff"/></linearGradient><linearGradient id="g141" x1="700" x2="1233" gradientUnits="userSpaceOnUse"><stop offset="0%" stop-color="#cbcbff"/><stop offset="4.7%" stop-color="#a7a7ff"/><stop offset="9.2%" stop-color="#9595ff"/><stop offset="12.8%" stop-color="#9191ff"/><stop offset="30.4%" stop-color="#9191ff"/><stop offset="39.6%" stop-color="#7f7fff"/><stop offset="44.1%" stop-color="#6767ff"/><stop offset="51%" stop-color="#2727ff"/><stop offset="52.9%" stop-color="#1f1fff"/><stop offset="54.4%" stop-color="#1f1fff"/><stop offset="57.4%" stop-color="#3131ff"/><stop offset="64.5%" stop-color="#8181ff"/><stop offset="68.1%" stop-color="#9797ff"/><stop offset="70.5%" stop-color="#9d9dff"/><stop offset="91.7%" stop-color="#a5a5ff"/><stop offset="94.9%" stop-color="#afafff"/><stop offset="100%" stop-color="#cfcfff"/></linearGradient><linearGradient id="g142" x1="700" x2="1233" gradientUnits="userSpaceOnUse"><stop offset="0%" stop-color="#cdcdff"/><stop offset="4.7%" stop-color="#a9a9ff"/><stop offset="9.6%" stop-color="#9797ff"/><stop offset="14.4%" stop-color="#9393ff"/><stop offset="28.3%" stop-color="#9595ff"/><stop offset="38.6%" stop-color="#8383ff"/><stop offset="43.5%" stop-color="#6b6bff"/><stop offset="51.2%" stop-color="#2323ff"/><stop offset="54%" stop-color="#1b1bff"/><stop offset="57%" stop-color="#2b2bff"/><stop offset="64.9%" stop-color="#8585ff"/><stop offset="68.3%" stop-color="#9999ff"/><stop offset="71.1%" stop-color="#9f9fff"/><stop offset="90.6%" stop-color="#a5a5ff"/><stop offset="95.5%" stop-color="#b3b3ff"/><stop offset="100%" stop-color="#d1d1ff"/></linearGradient><linearGradient id="g143" x1="700" x2="1233" gradientUnits="userSpaceOnUse"><stop offset="0%" stop-color="#cfcfff"/><stop offset="4.3%" stop-color="#adadff"/><stop offset="8.6%" stop-color="#9b9bff"/><stop offset="15.8%" stop-color="#9595ff"/><stop offset="28.5%" stop-color="#9797ff"/><stop offset="38.3%" stop-color="#8585ff"/><stop offset="40.9%" stop-color="#7b7bff"/><stop offset="43.7%" stop-color="#6969ff"/><stop offset="51.4%" stop-color="#1d1dff"/><stop offset="52.7%" stop-color="#1717ff"/><stop offset="54.4%" stop-color="#1717ff"/><stop offset="56.8%" stop-color="#2525ff"/><stop offset="58.5%" stop-color="#3737ff"/><stop offset="62.3%" stop-color="#6969ff"/><stop offset="64.9%" stop-color="#8585ff"/><stop offset="68.1%" stop-color="#9999ff"/><stop offset="70.4%" stop-color="#9f9fff"/><stop offset="91%" stop-color="#a7a7ff"/><stop offset="95.7%" stop-color="#b5b5ff"/><stop offset="100%" stop-color="#d1d1ff"/></linearGradient><linearGradient id="g144" x1="700" x2="1233" gradientUnits="userSpaceOnUse"><stop offset="0%" stop-color="#cfcfff"/><stop offset="3.9%" stop-color="#b1b1ff"/><stop offset="8.6%" stop-color="#9d9dff"/><stop offset="16.5%" stop-color="#9797ff"/><stop offset="28.3%" stop-color="#9999ff"/><stop offset="37.7%" stop-color="#8787ff"/><stop offset="40%" stop-color="#7f7fff"/><stop offset="43.5%" stop-color="#6969ff"/><stop offset="50.7%" stop-color="#1d1dff"/><stop offset="51.8%" stop-color="#1515ff"/><stop offset="54.4%" stop-color="#1111ff"/><stop offset="56.3%" stop-color="#1b1bff"/><stop offset="58.7%" stop-color="#3535ff"/><stop offset="62.3%" stop-color="#6767ff"/><stop offset="64.4%" stop-color="#7f7fff"/><stop offset="68.1%" stop-color="#9999ff"/><stop offset="71.9%" stop-color="#a1a1ff"/><stop offset="80.1%" stop-color="#a1a1ff"/><stop offset="91.6%" stop-color="#a9a9ff"/><stop offset="95.5%" stop-color="#b5b5ff"/><stop offset="100%" stop-color="#d1d1ff"/></linearGradient><linearGradient id="g145" x1="700" x2="1233" gradientUnits="userSpaceOnUse"><stop offset="0%" stop-color="#d1d1ff"/><stop offset="4.1%" stop-color="#b1b1ff"/><stop offset="8.4%" stop-color="#9f9fff"/><stop offset="16.5%" stop-color="#9999ff"/><stop offset="28%" stop-color="#9b9bff"/><stop offset="34%" stop-color="#9191ff"/><stop offset="39.4%" stop-color="#8181ff"/><stop offset="43.3%" stop-color="#6969ff"/><stop offset="50.8%" stop-color="#1515ff"/><stop offset="53.1%" stop-color="#0909ff"/><stop offset="54.8%" stop-color="#0b0bff"/><stop offset="56.1%" stop-color="#1313ff"/><stop offset="58.3%" stop-color="#2b2bff"/><stop offset="63.4%" stop-color="#7373ff"/><stop offset="66%" stop-color="#8d8dff"/><stop offset="68.5%" stop-color="#9b9bff"/><stop offset="71.3%" stop-color="#a1a1ff"/><stop offset="79.4%" stop-color="#a1a1ff"/><stop offset="91%" stop-color="#a9a9ff"/><stop offset="95.3%" stop-color="#b5b5ff"/><stop offset="100%" stop-color="#d1d1ff"/></linearGradient><linearGradient id="g146" x1="700" x2="1233" gradientUnits="userSpaceOnUse"><stop offset="0%" stop-color="#d1d1ff"/><stop offset="4.3%" stop-color="#b1b1ff"/><stop offset="8.3%" stop-color="#a1a1ff"/><stop offset="16.1%" stop-color="#9b9bff"/><stop offset="27.4%" stop-color="#9d9dff"/><stop offset="32.6%" stop-color="#9595ff"/><stop offset="38.3%" stop-color="#8585ff"/><stop offset="40.9%" stop-color="#7979ff"/><stop offset="43.3%" stop-color="#6767ff"/><stop offset="51.2%" stop-color="#0b0bff"/><stop offset="52.5%" stop-color="#0303ff"/><stop offset="54%" stop-color="#0101ff"/><stop offset="55.2%" stop-color="#0505ff"/><stop offset="56.8%" stop-color="#1313ff"/><stop offset="58.9%" stop-color="#2d2dff"/><stop offset="63.4%" stop-color="#7171ff"/><stop offset="65.9%" stop-color="#8b8bff"/><stop offset="68.5%" stop-color="#9b9bff"/><stop offset="71.1%" stop-color="#a1a1ff"/><stop offset="78.8%" stop-color="#a1a1ff"/><stop offset="91.7%" stop-color="#ababff"/><stop offset="95.7%" stop-color="#b7b7ff"/><stop offset="100%" stop-color="#d3d3ff"/></linearGradient><linearGradient id="g147" x1="700" x2="1233" gradientUnits="userSpaceOnUse"><stop offset="0%" stop-color="#d1d1ff"/><stop offset="4.5%" stop-color="#b1b1ff"/><stop offset="9%" stop-color="#a1a1ff"/><stop offset="29.1%" stop-color="#9d9dff"/><stop offset="38.6%" stop-color="#8383ff"/><stop offset="40.7%" stop-color="#7979ff"/><stop offset="43.7%" stop-color="#6161ff"/><stop offset="51%" stop-color="#0505ff"/><stop offset="52%" stop-color="#0100fe"/><stop offset="53.3%" stop-color="#0700f8"/><stop offset="55.3%" stop-color="#0100fe"/><stop offset="55.7%" stop-color="#0101ff"/><stop offset="57.8%" stop-color="#1717ff"/><stop offset="63.6%" stop-color="#7171ff"/><stop offset="66.2%" stop-color="#8d8dff"/><stop offset="68.5%" stop-color="#9b9bff"/><stop offset="70.9%" stop-color="#a1a1ff"/><stop offset="78.2%" stop-color="#a1a1ff"/><stop offset="92.5%" stop-color="#adadff"/><stop offset="95.1%" stop-color="#b5b5ff"/><stop offset="100%" stop-color="#d3d3ff"/></linearGradient><linearGradient id="g148" x1="700" x2="1233" gradientUnits="userSpaceOnUse"><stop offset="0%" stop-color="#d3d3ff"/><stop offset="3.4%" stop-color="#b9b9ff"/><stop offset="6%" stop-color="#ababff"/><stop offset="8.8%" stop-color="#a3a3ff"/><stop offset="28.7%" stop-color="#9f9fff"/><stop offset="38.1%" stop-color="#8585ff"/><stop offset="42.2%" stop-color="#6d6dff"/><stop offset="45%" stop-color="#4f4fff"/><stop offset="49.5%" stop-color="#0f0fff"/><stop offset="51%" stop-color="#0100fe"/><stop offset="52.7%" stop-color="#0d00f2"/><stop offset="53.8%" stop-color="#0f00f0"/><stop offset="56.5%" stop-color="#0101ff"/><stop offset="58.3%" stop-color="#1919ff"/><stop offset="61.9%" stop-color="#5555ff"/><stop offset="64.4%" stop-color="#7979ff"/><stop offset="66%" stop-color="#8b8bff"/><stop offset="68.5%" stop-color="#9b9bff"/><stop offset="70.5%" stop-color="#a1a1ff"/><stop offset="77.5%" stop-color="#a1a1ff"/><stop offset="92.1%" stop-color="#adadff"/><stop offset="95.9%" stop-color="#b9b9ff"/><stop offset="100%" stop-color="#d3d3ff"/></linearGradient><linearGradient id="g149" x1="700" x2="1233" gradientUnits="userSpaceOnUse"><stop offset="0%" stop-color="#d3d3ff"/><stop offset="4.3%" stop-color="#b5b5ff"/><stop offset="8.6%" stop-color="#a5a5ff"/><stop offset="28.3%" stop-color="#a1a1ff"/><stop offset="31.5%" stop-color="#9b9bff"/><stop offset="38.1%" stop-color="#8585ff"/><stop offset="41.3%" stop-color="#7373ff"/><stop offset="44.7%" stop-color="#5151ff"/><stop offset="49.5%" stop-color="#0909ff"/><stop offset="50.5%" stop-color="#0100fe"/><stop offset="51.8%" stop-color="#0f00f0"/><stop offset="52.9%" stop-color="#1500ea"/><stop offset="54.4%" stop-color="#1500ea"/><stop offset="57%" stop-color="#0101ff"/><stop offset="64.2%" stop-color="#7575ff"/><stop offset="66.8%" stop-color="#9191ff"/><stop offset="68.9%" stop-color="#9d9dff"/><stop offset="71.7%" stop-color="#a3a3ff"/><stop offset="79.2%" stop-color="#a3a3ff"/><stop offset="91.7%" stop-color="#adadff"/><stop offset="95.3%" stop-color="#b7b7ff"/><stop offset="100%" stop-color="#d3d3ff"/></linearGradient><linearGradient id="g150" x1="700" x2="1233" gradientUnits="userSpaceOnUse"><stop offset="0%" stop-color="#d5d5ff"/><stop offset="3.8%" stop-color="#b9b9ff"/><stop offset="8.4%" stop-color="#a7a7ff"/><stop offset="28.1%" stop-color="#a3a3ff"/><stop offset="32.6%" stop-color="#9999ff"/><stop offset="38.1%" stop-color="#8585ff"/><stop offset="41.5%" stop-color="#7171ff"/><stop offset="43.7%" stop-color="#5b5bff"/><stop offset="49.9%" stop-color="#0100fe"/><stop offset="52.3%" stop-color="#1900e6"/><stop offset="54.4%" stop-color="#1b00e4"/><stop offset="55.5%" stop-color="#1500ea"/><stop offset="57.4%" stop-color="#0101ff"/><stop offset="63.8%" stop-color="#6f6fff"/><stop offset="66.8%" stop-color="#9191ff"/><stop offset="68.7%" stop-color="#9d9dff"/><stop offset="70.7%" stop-color="#a3a3ff"/><stop offset="77.9%" stop-color="#a3a3ff"/><stop offset="92.3%" stop-color="#afafff"/><stop offset="96.4%" stop-color="#bdbdff"/><stop offset="100%" stop-color="#d3d3ff"/></linearGradient><linearGradient id="g151" x1="700" x2="1233" gradientUnits="userSpaceOnUse"><stop offset="0%" stop-color="#d5d5ff"/><stop offset="4.9%" stop-color="#b5b5ff"/><stop offset="8.3%" stop-color="#a9a9ff"/><stop offset="28.1%" stop-color="#a5a5ff"/><stop offset="32.5%" stop-color="#9b9bff"/><stop offset="38.3%" stop-color="#8585ff"/><stop offset="41.5%" stop-color="#7171ff"/><stop offset="44.1%" stop-color="#5555ff"/><stop offset="49.3%" stop-color="#0303ff"/><stop offset="49.7%" stop-color="#0100fe"/><stop offset="51.2%" stop-color="#1500ea"/><stop offset="53.1%" stop-color="#2100de"/><stop offset="55.3%" stop-color="#1b00e4"/><stop offset="57.6%" stop-color="#0100fe"/><stop offset="58.9%" stop-color="#1515ff"/><stop offset="62.5%" stop-color="#5959ff"/><stop offset="64.5%" stop-color="#7979ff"/><stop offset="67.2%" stop-color="#9595ff"/><stop offset="68.9%" stop-color="#9f9fff"/><stop offset="71.1%" stop-color="#a5a5ff"/><stop offset="78.6%" stop-color="#a5a5ff"/><stop offset="91.7%" stop-color="#afafff"/><stop offset="95.9%" stop-color="#bbbbff"/><stop offset="100%" stop-color="#d5d5ff"/></linearGradient><linearGradient id="g152" x1="700" x2="1233" gradientUnits="userSpaceOnUse"><stop offset="0%" stop-color="#d5d5ff"/><stop offset="5.1%" stop-color="#b5b5ff"/><stop offset="8.3%" stop-color="#ababff"/><stop offset="28.3%" stop-color="#a7a7ff"/><stop offset="37.1%" stop-color="#8b8bff"/><stop offset="41.3%" stop-color="#7373ff"/><stop offset="44.1%" stop-color="#5555ff"/><stop offset="48.8%" stop-color="#0909ff"/><stop offset="49.5%" stop-color="#0100fe"/><stop offset="51.8%" stop-color="#1d00e2"/><stop offset="53.8%" stop-color="#2500da"/><stop offset="55.5%" stop-color="#1d00e2"/><stop offset="57.8%" stop-color="#0101ff"/><stop offset="58.9%" stop-color="#1313ff"/><stop offset="62.3%" stop-color="#5555ff"/><stop offset="64.4%" stop-color="#7777ff"/><stop offset="67%" stop-color="#9595ff"/><stop offset="69.4%" stop-color="#a3a3ff"/><stop offset="92.1%" stop-color="#b1b1ff"/><stop offset="96.1%" stop-color="#bdbdff"/><stop offset="100%" stop-color="#d5d5ff"/></linearGradient><linearGradient id="g153" x1="700" x2="1233" gradientUnits="userSpaceOnUse"><stop offset="0%" stop-color="#d7d7ff"/><stop offset="5.1%" stop-color="#b7b7ff"/><stop offset="8.4%" stop-color="#adadff"/><stop offset="27%" stop-color="#ababff"/><stop offset="32.5%" stop-color="#9f9fff"/><stop offset="37.5%" stop-color="#8b8bff"/><stop offset="40.9%" stop-color="#7777ff"/><stop offset="43.3%" stop-color="#5f5fff"/><stop offset="44.8%" stop-color="#4b4bff"/><stop offset="49.2%" stop-color="#0303ff"/><stop offset="49.5%" stop-color="#0300fc"/><stop offset="52.2%" stop-color="#2100de"/><stop offset="54.4%" stop-color="#2500da"/><stop offset="56.1%" stop-color="#1900e6"/><stop offset="57.8%" stop-color="#0100fe"/><stop offset="58.7%" stop-color="#0f0fff"/><stop offset="62.5%" stop-color="#5959ff"/><stop offset="64.5%" stop-color="#7b7bff"/><stop offset="66.8%" stop-color="#9595ff"/><stop offset="68.9%" stop-color="#a3a3ff"/><stop offset="72.8%" stop-color="#ababff"/><stop offset="77.9%" stop-color="#a9a9ff"/><stop offset="92.5%" stop-color="#b3b3ff"/><stop offset="95.3%" stop-color="#bbbbff"/><stop offset="100%" stop-color="#d5d5ff"/></linearGradient><linearGradient id="g154" x1="700" x2="1233" gradientUnits="userSpaceOnUse"><stop offset="0%" stop-color="#d9d9ff"/><stop offset="2.8%" stop-color="#c5c5ff"/><stop offset="7.5%" stop-color="#b1b1ff"/><stop offset="11.3%" stop-color="#adadff"/><stop offset="27.6%" stop-color="#adadff"/><stop offset="31.3%" stop-color="#a5a5ff"/><stop offset="37.1%" stop-color="#8f8fff"/><stop offset="40.9%" stop-color="#7979ff"/><stop offset="43.3%" stop-color="#6161ff"/><stop offset="45.2%" stop-color="#4747ff"/><stop offset="48.2%" stop-color="#1313ff"/><stop offset="49.5%" stop-color="#0100fe"/><stop offset="52%" stop-color="#1f00e0"/><stop offset="54%" stop-color="#2500da"/><stop offset="55.3%" stop-color="#1f00e0"/><stop offset="57.8%" stop-color="#0101ff"/><stop offset="62.5%" stop-color="#5b5bff"/><stop offset="64.5%" stop-color="#7d7dff"/><stop offset="67.2%" stop-color="#9b9bff"/><stop offset="69.6%" stop-color="#a9a9ff"/><stop offset="71.3%" stop-color="#adadff"/><stop offset="91.2%" stop-color="#b3b3ff"/><stop offset="95.9%" stop-color="#bfbfff"/><stop offset="100%" stop-color="#d7d7ff"/></linearGradient><linearGradient id="g155" x1="700" x2="1233" gradientUnits="userSpaceOnUse"><stop offset="0%" stop-color="#d9d9ff"/><stop offset="4.7%" stop-color="#bdbdff"/><stop offset="7.9%" stop-color="#b3b3ff"/><stop offset="26.5%" stop-color="#b1b1ff"/><stop offset="31%" stop-color="#a9a9ff"/><stop offset="36.4%" stop-color="#9595ff"/><stop offset="40.7%" stop-color="#7d7dff"/><stop offset="43.7%" stop-color="#5f5fff"/><stop offset="49.7%" stop-color="#0100fe"/><stop offset="52.2%" stop-color="#1d00e2"/><stop offset="54.4%" stop-color="#2100de"/><stop offset="55.2%" stop-color="#1d00e2"/><stop offset="57.6%" stop-color="#0101ff"/><stop offset="63.8%" stop-color="#7575ff"/><stop offset="66.8%" stop-color="#9b9bff"/><stop offset="68.9%" stop-color="#a9a9ff"/><stop offset="71.9%" stop-color="#b1b1ff"/><stop offset="77.1%" stop-color="#afafff"/><stop offset="92.7%" stop-color="#b7b7ff"/><stop offset="96.8%" stop-color="#c5c5ff"/><stop offset="100%" stop-color="#d7d7ff"/></linearGradient><linearGradient id="g156" x1="700" x2="1233" gradientUnits="userSpaceOnUse"><stop offset="0%" stop-color="#dbdbff"/><stop offset="4.3%" stop-color="#c1c1ff"/><stop offset="7.1%" stop-color="#b7b7ff"/><stop offset="10.1%" stop-color="#b3b3ff"/><stop offset="27.6%" stop-color="#b3b3ff"/><stop offset="31.3%" stop-color="#ababff"/><stop offset="37.1%" stop-color="#9595ff"/><stop offset="40.9%" stop-color="#7f7fff"/><stop offset="43.7%" stop-color="#6363ff"/><stop offset="45.8%" stop-color="#4545ff"/><stop offset="49.3%" stop-color="#0909ff"/><stop offset="50.1%" stop-color="#0100fe"/><stop offset="51.8%" stop-color="#1500ea"/><stop offset="53.7%" stop-color="#1d00e2"/><stop offset="55.5%" stop-color="#1500ea"/><stop offset="57.2%" stop-color="#0100fe"/><stop offset="59.1%" stop-color="#1f1fff"/><stop offset="61.4%" stop-color="#4d4dff"/><stop offset="64.4%" stop-color="#8181ff"/><stop offset="66.4%" stop-color="#9b9bff"/><stop offset="69.4%" stop-color="#afafff"/><stop offset="72.2%" stop-color="#b5b5ff"/><stop offset="79.2%" stop-color="#b3b3ff"/><stop offset="92.5%" stop-color="#b9b9ff"/><stop offset="95.5%" stop-color="#c1c1ff"/><stop offset="100%" stop-color="#d9d9ff"/></linearGradient><linearGradient id="g157" x1="700" x2="1233" gradientUnits="userSpaceOnUse"><stop offset="0%" stop-color="#ddddff"/><stop offset="3.6%" stop-color="#c7c7ff"/><stop offset="7.5%" stop-color="#b9b9ff"/><stop offset="26.8%" stop-color="#b7b7ff"/><stop offset="31.7%" stop-color="#adadff"/><stop offset="37.5%" stop-color="#9797ff"/><stop offset="40.7%" stop-color="#8585ff"/><stop offset="44.1%" stop-color="#6363ff"/><stop offset="49.5%" stop-color="#0d0dff"/><stop offset="50.7%" stop-color="#0100fe"/><stop offset="52.3%" stop-color="#1100ee"/><stop offset="54%" stop-color="#1500ea"/><stop offset="55.3%" stop-color="#0f00f0"/><stop offset="56.8%" stop-color="#0101ff"/><stop offset="59.3%" stop-color="#2929ff"/><stop offset="63%" stop-color="#7171ff"/><stop offset="64.7%" stop-color="#8b8bff"/><stop offset="66.6%" stop-color="#a1a1ff"/><stop offset="69.4%" stop-color="#b3b3ff"/><stop offset="72.2%" stop-color="#b9b9ff"/><stop offset="92.3%" stop-color="#bbbbff"/><stop offset="96.4%" stop-color="#c7c7ff"/><stop offset="100%" stop-color="#dbdbff"/></linearGradient><linearGradient id="g158" x1="700" x2="1233" gradientUnits="userSpaceOnUse"><stop offset="0%" stop-color="#dfdfff"/><stop offset="4.1%" stop-color="#c7c7ff"/><stop offset="8.1%" stop-color="#bbbbff"/><stop offset="28%" stop-color="#b9b9ff"/><stop offset="31.5%" stop-color="#b1b1ff"/><stop offset="37.5%" stop-color="#9b9bff"/><stop offset="41.1%" stop-color="#8787ff"/><stop offset="44.1%" stop-color="#6969ff"/><stop offset="49.7%" stop-color="#1313ff"/><stop offset="51.2%" stop-color="#0101ff"/><stop offset="51.6%" stop-color="#0100fe"/><stop offset="52.7%" stop-color="#0900f6"/><stop offset="54%" stop-color="#0b00f4"/><stop offset="55.9%" stop-color="#0101ff"/><stop offset="57.2%" stop-color="#0f0fff"/><stop offset="58.7%" stop-color="#2727ff"/><stop offset="62.1%" stop-color="#6767ff"/><stop offset="64.9%" stop-color="#9393ff"/><stop offset="66.8%" stop-color="#a7a7ff"/><stop offset="68.9%" stop-color="#b5b5ff"/><stop offset="72%" stop-color="#bdbdff"/><stop offset="91.9%" stop-color="#bdbdff"/><stop offset="95.9%" stop-color="#c7c7ff"/><stop offset="100%" stop-color="#dbdbff"/></linearGradient><linearGradient id="g159" x1="700" x2="1233" gradientUnits="userSpaceOnUse"><stop offset="0%" stop-color="#dfdfff"/><stop offset="4.7%" stop-color="#c7c7ff"/><stop offset="8.6%" stop-color="#bdbdff"/><stop offset="27.4%" stop-color="#bdbdff"/><stop offset="32.1%" stop-color="#b3b3ff"/><stop offset="37.1%" stop-color="#a1a1ff"/><stop offset="42%" stop-color="#8585ff"/><stop offset="45.2%" stop-color="#6161ff"/><stop offset="49.9%" stop-color="#1b1bff"/><stop offset="51.6%" stop-color="#0909ff"/><stop offset="53.1%" stop-color="#0101ff"/><stop offset="55.2%" stop-color="#0505ff"/><stop offset="57%" stop-color="#1717ff"/><stop offset="64.4%" stop-color="#9191ff"/><stop offset="67.2%" stop-color="#afafff"/><stop offset="68.9%" stop-color="#b9b9ff"/><stop offset="72%" stop-color="#c1c1ff"/><stop offset="91.4%" stop-color="#bfbfff"/><stop offset="94.6%" stop-color="#c5c5ff"/><stop offset="100%" stop-color="#ddddff"/></linearGradient><linearGradient id="g160" x1="700" x2="1233" gradientUnits="userSpaceOnUse"><stop offset="0%" stop-color="#e1e1ff"/><stop offset="4.9%" stop-color="#c9c9ff"/><stop offset="7.9%" stop-color="#c1c1ff"/><stop offset="26.8%" stop-color="#c1c1ff"/><stop offset="31.3%" stop-color="#b9b9ff"/><stop offset="37.3%" stop-color="#a5a5ff"/><stop offset="40.3%" stop-color="#9797ff"/><stop offset="43.2%" stop-color="#8181ff"/><stop offset="45.4%" stop-color="#6767ff"/><stop offset="49.7%" stop-color="#2929ff"/><stop offset="51.2%" stop-color="#1919ff"/><stop offset="52.9%" stop-color="#0f0fff"/><stop offset="55%" stop-color="#1111ff"/><stop offset="56.8%" stop-color="#2121ff"/><stop offset="64.4%" stop-color="#9797ff"/><stop offset="66.6%" stop-color="#afafff"/><stop offset="69.2%" stop-color="#bfbfff"/><stop offset="72%" stop-color="#c5c5ff"/><stop offset="90.6%" stop-color="#c1c1ff"/><stop offset="95.7%" stop-color="#cbcbff"/><stop offset="100%" stop-color="#dfdfff"/></linearGradient><linearGradient id="g161" x1="700" x2="1233" gradientUnits="userSpaceOnUse"><stop offset="0%" stop-color="#e3e3ff"/><stop offset="4.5%" stop-color="#cdcdff"/><stop offset="8.4%" stop-color="#c3c3ff"/><stop offset="28.1%" stop-color="#c3c3ff"/><stop offset="38.1%" stop-color="#a7a7ff"/><stop offset="41.3%" stop-color="#9797ff"/><stop offset="43.9%" stop-color="#8181ff"/><stop offset="49%" stop-color="#3f3fff"/><stop offset="51.2%" stop-color="#2727ff"/><stop offset="53.1%" stop-color="#1d1dff"/><stop offset="54.4%" stop-color="#1d1dff"/><stop offset="56.1%" stop-color="#2727ff"/><stop offset="58.7%" stop-color="#4747ff"/><stop offset="64%" stop-color="#9999ff"/><stop offset="66.2%" stop-color="#b1b1ff"/><stop offset="68.7%" stop-color="#c1c1ff"/><stop offset="72.2%" stop-color="#c9c9ff"/><stop offset="92.1%" stop-color="#c5c5ff"/><stop offset="95.5%" stop-color="#cdcdff"/><stop offset="100%" stop-color="#e1e1ff"/></linearGradient><linearGradient id="g162" x1="700" x2="1233" gradientUnits="userSpaceOnUse"><stop offset="0%" stop-color="#e5e5ff"/><stop offset="3.6%" stop-color="#d3d3ff"/><stop offset="9%" stop-color="#c5c5ff"/><stop offset="27.4%" stop-color="#c7c7ff"/><stop offset="36.6%" stop-color="#b1b1ff"/><stop offset="39.4%" stop-color="#a7a7ff"/><stop offset="43%" stop-color="#9191ff"/><stop offset="45.6%" stop-color="#7777ff"/><stop offset="48.2%" stop-color="#5555ff"/><stop offset="51%" stop-color="#3737ff"/><stop offset="52.7%" stop-color="#2d2dff"/><stop offset="54.6%" stop-color="#2d2dff"/><stop offset="56.3%" stop-color="#3737ff"/><stop offset="58.5%" stop-color="#5151ff"/><stop offset="63.6%" stop-color="#9b9bff"/><stop offset="65.9%" stop-color="#b3b3ff"/><stop offset="68.7%" stop-color="#c5c5ff"/><stop offset="73%" stop-color="#cdcdff"/><stop offset="91.7%" stop-color="#c7c7ff"/><stop offset="96.1%" stop-color="#d1d1ff"/><stop offset="100%" stop-color="#e3e3ff"/></linearGradient><linearGradient id="g163" x1="700" x2="1233" gradientUnits="userSpaceOnUse"><stop offset="0%" stop-color="#e5e5ff"/><stop offset="4.7%" stop-color="#d1d1ff"/><stop offset="7.9%" stop-color="#c9c9ff"/><stop offset="26.1%" stop-color="#cbcbff"/><stop offset="31.5%" stop-color="#c3c3ff"/><stop offset="38.1%" stop-color="#b1b1ff"/><stop offset="43.2%" stop-color="#9797ff"/><stop offset="49.3%" stop-color="#5555ff"/><stop offset="51.4%" stop-color="#4343ff"/><stop offset="52.7%" stop-color="#3d3dff"/><stop offset="54.6%" stop-color="#3d3dff"/><stop offset="56.8%" stop-color="#4b4bff"/><stop offset="59.1%" stop-color="#6565ff"/><stop offset="62.7%" stop-color="#9797ff"/><stop offset="65.7%" stop-color="#b7b7ff"/><stop offset="69.2%" stop-color="#cbcbff"/><stop offset="71.1%" stop-color="#cfcfff"/><stop offset="77.5%" stop-color="#cfcfff"/><stop offset="91.4%" stop-color="#c9c9ff"/><stop offset="95.3%" stop-color="#d1d1ff"/><stop offset="100%" stop-color="#e5e5ff"/></linearGradient><linearGradient id="g164" x1="700" x2="1233" gradientUnits="userSpaceOnUse"><stop offset="0%" stop-color="#e7e7ff"/><stop offset="5.4%" stop-color="#d1d1ff"/><stop offset="8.1%" stop-color="#cbcbff"/><stop offset="27.4%" stop-color="#cdcdff"/><stop offset="37.7%" stop-color="#b7b7ff"/><stop offset="43.2%" stop-color="#9f9fff"/><stop offset="46.2%" stop-color="#8585ff"/><stop offset="49.5%" stop-color="#6161ff"/><stop offset="52.7%" stop-color="#4d4dff"/><stop offset="54.8%" stop-color="#4d4dff"/><stop offset="56.3%" stop-color="#5555ff"/><stop offset="58.9%" stop-color="#6f6fff"/><stop offset="64.2%" stop-color="#afafff"/><stop offset="67.4%" stop-color="#c7c7ff"/><stop offset="69.4%" stop-color="#cfcfff"/><stop offset="75.4%" stop-color="#d3d3ff"/><stop offset="91.2%" stop-color="#cbcbff"/><stop offset="95.3%" stop-color="#d3d3ff"/><stop offset="100%" stop-color="#e5e5ff"/></linearGradient><linearGradient id="g165" x1="700" x2="1233" gradientUnits="userSpaceOnUse"><stop offset="0%" stop-color="#e9e9ff"/><stop offset="5.4%" stop-color="#d3d3ff"/><stop offset="8.1%" stop-color="#cdcdff"/><stop offset="28%" stop-color="#cfcfff"/><stop offset="37.9%" stop-color="#bbbbff"/><stop offset="43.3%" stop-color="#a5a5ff"/><stop offset="49.7%" stop-color="#6d6dff"/><stop offset="52%" stop-color="#5f5fff"/><stop offset="53.5%" stop-color="#5b5bff"/><stop offset="56.5%" stop-color="#6565ff"/><stop offset="58.7%" stop-color="#7979ff"/><stop offset="64.2%" stop-color="#b5b5ff"/><stop offset="66.6%" stop-color="#c7c7ff"/><stop offset="69%" stop-color="#d1d1ff"/><stop offset="77.1%" stop-color="#d5d5ff"/><stop offset="91.2%" stop-color="#cdcdff"/><stop offset="95.3%" stop-color="#d5d5ff"/><stop offset="100%" stop-color="#e7e7ff"/></linearGradient><linearGradient id="g166" x1="700" x2="1233" gradientUnits="userSpaceOnUse"><stop offset="0%" stop-color="#e9e9ff"/><stop offset="5.4%" stop-color="#d5d5ff"/><stop offset="9.4%" stop-color="#cdcdff"/><stop offset="25.7%" stop-color="#d3d3ff"/><stop offset="38.8%" stop-color="#bdbdff"/><stop offset="43.5%" stop-color="#ababff"/><stop offset="49.9%" stop-color="#7979ff"/><stop offset="52.9%" stop-color="#6b6bff"/><stop offset="55.2%" stop-color="#6d6dff"/><stop offset="57%" stop-color="#7777ff"/><stop offset="64.2%" stop-color="#bbbbff"/><stop offset="68.7%" stop-color="#d3d3ff"/><stop offset="70.5%" stop-color="#d7d7ff"/><stop offset="77.9%" stop-color="#d7d7ff"/><stop offset="86.1%" stop-color="#cfcfff"/><stop offset="91.4%" stop-color="#cfcfff"/><stop offset="95.3%" stop-color="#d7d7ff"/><stop offset="100%" stop-color="#e9e9ff"/></linearGradient><linearGradient id="g167" x1="700" x2="1233" gradientUnits="userSpaceOnUse"><stop offset="0%" stop-color="#ebebff"/><stop offset="5.3%" stop-color="#d7d7ff"/><stop offset="9%" stop-color="#cfcfff"/><stop offset="26.1%" stop-color="#d5d5ff"/><stop offset="40%" stop-color="#bfbfff"/><stop offset="43.7%" stop-color="#b1b1ff"/><stop offset="49.7%" stop-color="#8787ff"/><stop offset="53.1%" stop-color="#7979ff"/><stop offset="55.2%" stop-color="#7b7bff"/><stop offset="57.2%" stop-color="#8585ff"/><stop offset="64%" stop-color="#bfbfff"/><stop offset="66.8%" stop-color="#cfcfff"/><stop offset="69.2%" stop-color="#d7d7ff"/><stop offset="78.2%" stop-color="#d9d9ff"/><stop offset="85.7%" stop-color="#d1d1ff"/><stop offset="91.7%" stop-color="#d1d1ff"/><stop offset="100%" stop-color="#e9e9ff"/></linearGradient><linearGradient id="g168" x1="700" x2="1233" gradientUnits="userSpaceOnUse"><stop offset="0%" stop-color="#ebebff"/><stop offset="5.1%" stop-color="#d9d9ff"/><stop offset="10.1%" stop-color="#cfcfff"/><stop offset="25.7%" stop-color="#d7d7ff"/><stop offset="39%" stop-color="#c5c5ff"/><stop offset="43.3%" stop-color="#b9b9ff"/><stop offset="49.3%" stop-color="#9595ff"/><stop offset="52.7%" stop-color="#8787ff"/><stop offset="54.8%" stop-color="#8787ff"/><stop offset="56.5%" stop-color="#8d8dff"/><stop offset="64.2%" stop-color="#c5c5ff"/><stop offset="69%" stop-color="#d9d9ff"/><stop offset="78%" stop-color="#dbdbff"/><stop offset="90.4%" stop-color="#d1d1ff"/><stop offset="94.9%" stop-color="#d9d9ff"/><stop offset="100%" stop-color="#ebebff"/></linearGradient><linearGradient id="g169" x1="700" x2="1233" gradientUnits="userSpaceOnUse"><stop offset="0%" stop-color="#ededff"/><stop offset="5.4%" stop-color="#d9d9ff"/><stop offset="9.2%" stop-color="#d1d1ff"/><stop offset="28.1%" stop-color="#d7d7ff"/><stop offset="40%" stop-color="#c7c7ff"/><stop offset="44.3%" stop-color="#bbbbff"/><stop offset="49.7%" stop-color="#9d9dff"/><stop offset="52.7%" stop-color="#9393ff"/><stop offset="56.7%" stop-color="#9999ff"/><stop offset="64.5%" stop-color="#cbcbff"/><stop offset="69%" stop-color="#dbdbff"/><stop offset="77.5%" stop-color="#ddddff"/><stop offset="86.3%" stop-color="#d3d3ff"/><stop offset="91.4%" stop-color="#d3d3ff"/><stop offset="95.9%" stop-color="#ddddff"/><stop offset="100%" stop-color="#ededff"/></linearGradient><linearGradient id="g170" x1="700" x2="1233" gradientUnits="userSpaceOnUse"><stop offset="0%" stop-color="#ededff"/><stop offset="5.8%" stop-color="#d9d9ff"/><stop offset="9.8%" stop-color="#d1d1ff"/><stop offset="27.4%" stop-color="#d9d9ff"/><stop offset="41.1%" stop-color="#c9c9ff"/><stop offset="45.2%" stop-color="#bdbdff"/><stop offset="52.2%" stop-color="#9f9fff"/><stop offset="56.7%" stop-color="#a3a3ff"/><stop offset="64.5%" stop-color="#cfcfff"/><stop offset="69.2%" stop-color="#ddddff"/><stop offset="76.4%" stop-color="#dfdfff"/><stop offset="90.4%" stop-color="#d3d3ff"/><stop offset="95.5%" stop-color="#ddddff"/><stop offset="100%" stop-color="#ededff"/></linearGradient><linearGradient id="g171" x1="700" x2="1233" gradientUnits="userSpaceOnUse"><stop offset="0%" stop-color="#ededff"/><stop offset="5.4%" stop-color="#dbdbff"/><stop offset="10.3%" stop-color="#d1d1ff"/><stop offset="26.1%" stop-color="#dbdbff"/><stop offset="40.5%" stop-color="#cdcdff"/><stop offset="44.5%" stop-color="#c5c5ff"/><stop offset="51%" stop-color="#ababff"/><stop offset="53.5%" stop-color="#a7a7ff"/><stop offset="56.3%" stop-color="#ababff"/><stop offset="64.7%" stop-color="#d3d3ff"/><stop offset="69.8%" stop-color="#dfdfff"/><stop offset="78.4%" stop-color="#dfdfff"/><stop offset="86.1%" stop-color="#d5d5ff"/><stop offset="91.6%" stop-color="#d5d5ff"/><stop offset="100%" stop-color="#ededff"/></linearGradient><linearGradient id="g172" x1="700" x2="1233" gradientUnits="userSpaceOnUse"><stop offset="0%" stop-color="#efefff"/><stop offset="9%" stop-color="#d3d3ff"/><stop offset="13.1%" stop-color="#d1d1ff"/><stop offset="20.8%" stop-color="#dbdbff"/><stop offset="27.6%" stop-color="#dbdbff"/><stop offset="35.1%" stop-color="#d1d1ff"/><stop offset="42.8%" stop-color="#cdcdff"/><stop offset="52.2%" stop-color="#b1b1ff"/><stop offset="57%" stop-color="#b5b5ff"/><stop offset="63%" stop-color="#cfcfff"/><stop offset="68.9%" stop-color="#dfdfff"/><stop offset="76.9%" stop-color="#e1e1ff"/><stop offset="87.1%" stop-color="#d5d5ff"/><stop offset="90.8%" stop-color="#d5d5ff"/><stop offset="94.2%" stop-color="#dbdbff"/><stop offset="100%" stop-color="#efefff"/></linearGradient><linearGradient id="g173" x1="700" x2="1233" gradientUnits="userSpaceOnUse"><stop offset="0%" stop-color="#efefff"/><stop offset="9.4%" stop-color="#d3d3ff"/><stop offset="12.2%" stop-color="#d1d1ff"/><stop offset="19.9%" stop-color="#dbdbff"/><stop offset="25.9%" stop-color="#ddddff"/><stop offset="34.3%" stop-color="#d3d3ff"/><stop offset="42.2%" stop-color="#d1d1ff"/><stop offset="53.3%" stop-color="#b7b7ff"/><stop offset="57.6%" stop-color="#bdbdff"/><stop offset="64.5%" stop-color="#d7d7ff"/><stop offset="68.1%" stop-color="#dfdfff"/><stop offset="78.4%" stop-color="#e1e1ff"/><stop offset="90.1%" stop-color="#d5d5ff"/><stop offset="93.8%" stop-color="#dbdbff"/><stop offset="100%" stop-color="#efefff"/></linearGradient><linearGradient id="g174" x1="700" x2="1233" gradientUnits="userSpaceOnUse"><stop offset="0%" stop-color="#efefff"/><stop offset="9.6%" stop-color="#d3d3ff"/><stop offset="14.6%" stop-color="#d3d3ff"/><stop offset="21.2%" stop-color="#ddddff"/><stop offset="27%" stop-color="#ddddff"/><stop offset="33%" stop-color="#d5d5ff"/><stop offset="42.8%" stop-color="#d3d3ff"/><stop offset="51.6%" stop-color="#bfbfff"/><stop offset="56.1%" stop-color="#bfbfff"/><stop offset="65.5%" stop-color="#dbdbff"/><stop offset="69%" stop-color="#e1e1ff"/><stop offset="76%" stop-color="#e3e3ff"/><stop offset="86.3%" stop-color="#d7d7ff"/><stop offset="91.4%" stop-color="#d7d7ff"/><stop offset="100%" stop-color="#efefff"/></linearGradient><linearGradient id="g175" x1="700" x2="1233" gradientUnits="userSpaceOnUse"><stop offset="0%" stop-color="#efefff"/><stop offset="9.8%" stop-color="#d3d3ff"/><stop offset="14.3%" stop-color="#d3d3ff"/><stop offset="20.6%" stop-color="#ddddff"/><stop offset="27.8%" stop-color="#ddddff"/><stop offset="34.3%" stop-color="#d5d5ff"/><stop offset="43.2%" stop-color="#d5d5ff"/><stop offset="51%" stop-color="#c5c5ff"/><stop offset="55.2%" stop-color="#c3c3ff"/><stop offset="65.9%" stop-color="#ddddff"/><stop offset="71.1%" stop-color="#e3e3ff"/><stop offset="77.5%" stop-color="#e3e3ff"/><stop offset="87.1%" stop-color="#d7d7ff"/><stop offset="90.8%" stop-color="#d7d7ff"/><stop offset="95.5%" stop-color="#e1e1ff"/><stop offset="100%" stop-color="#f1f1ff"/></linearGradient><linearGradient id="g176" x1="700" x2="1233" gradientUnits="userSpaceOnUse"><stop offset="0%" stop-color="#f1f1ff"/><stop offset="5.6%" stop-color="#ddddff"/><stop offset="10.3%" stop-color="#d3d3ff"/><stop offset="26.1%" stop-color="#dfdfff"/><stop offset="32.6%" stop-color="#d7d7ff"/><stop offset="43.3%" stop-color="#d7d7ff"/><stop offset="53.3%" stop-color="#c7c7ff"/><stop offset="56.8%" stop-color="#c9c9ff"/><stop offset="64.4%" stop-color="#dbdbff"/><stop offset="70.4%" stop-color="#e3e3ff"/><stop offset="78.6%" stop-color="#e3e3ff"/><stop offset="89.9%" stop-color="#d7d7ff"/><stop offset="93.8%" stop-color="#ddddff"/><stop offset="100%" stop-color="#f1f1ff"/></linearGradient><linearGradient id="g177" x1="700" x2="1233" gradientUnits="userSpaceOnUse"><stop offset="0%" stop-color="#f1f1ff"/><stop offset="6.6%" stop-color="#dbdbff"/><stop offset="10.9%" stop-color="#d3d3ff"/><stop offset="21.4%" stop-color="#dfdfff"/><stop offset="27%" stop-color="#dfdfff"/><stop offset="34%" stop-color="#d7d7ff"/><stop offset="43.2%" stop-color="#d9d9ff"/><stop offset="52.7%" stop-color="#cbcbff"/><stop offset="57.4%" stop-color="#cdcdff"/><stop offset="70%" stop-color="#e3e3ff"/><stop offset="79.4%" stop-color="#e3e3ff"/><stop offset="86.5%" stop-color="#d9d9ff"/><stop offset="91.2%" stop-color="#d9d9ff"/><stop offset="100%" stop-color="#f1f1ff"/></linearGradient><linearGradient id="g178" x1="700" x2="1233" gradientUnits="userSpaceOnUse"><stop offset="0%" stop-color="#f1f1ff"/><stop offset="9.8%" stop-color="#d5d5ff"/><stop offset="14.4%" stop-color="#d5d5ff"/><stop offset="20.6%" stop-color="#dfdfff"/><stop offset="27.8%" stop-color="#dfdfff"/><stop offset="32.1%" stop-color="#d9d9ff"/><stop offset="45.4%" stop-color="#d9d9ff"/><stop offset="51.6%" stop-color="#cfcfff"/><stop offset="56.8%" stop-color="#cfcfff"/><stop offset="65.9%" stop-color="#dfdfff"/><stop offset="73.5%" stop-color="#e5e5ff"/><stop offset="90.1%" stop-color="#d9d9ff"/><stop offset="94.7%" stop-color="#e1e1ff"/><stop offset="100%" stop-color="#f1f1ff"/></linearGradient><linearGradient id="g179" x1="700" x2="1233" gradientUnits="userSpaceOnUse"><stop offset="0%" stop-color="#f1f1ff"/><stop offset="10.5%" stop-color="#d5d5ff"/><stop offset="25.9%" stop-color="#e1e1ff"/><stop offset="33.4%" stop-color="#d9d9ff"/><stop offset="45%" stop-color="#dbdbff"/><stop offset="52.3%" stop-color="#d1d1ff"/><stop offset="58.5%" stop-color="#d3d3ff"/><stop offset="72.6%" stop-color="#e5e5ff"/><stop offset="78.2%" stop-color="#e5e5ff"/><stop offset="86.5%" stop-color="#dbdbff"/><stop offset="91.2%" stop-color="#dbdbff"/><stop offset="100%" stop-color="#f1f1ff"/></linearGradient><linearGradient id="g180" x1="700" x2="1233" gradientUnits="userSpaceOnUse"><stop offset="0%" stop-color="#f1f1ff"/><stop offset="9.8%" stop-color="#d7d7ff"/><stop offset="14.4%" stop-color="#d7d7ff"/><stop offset="21%" stop-color="#e1e1ff"/><stop offset="27.2%" stop-color="#e1e1ff"/><stop offset="31.9%" stop-color="#dbdbff"/><stop offset="44.3%" stop-color="#ddddff"/><stop offset="52.5%" stop-color="#d3d3ff"/><stop offset="56.7%" stop-color="#d3d3ff"/><stop offset="72%" stop-color="#e5e5ff"/><stop offset="79.4%" stop-color="#e5e5ff"/><stop offset="89.3%" stop-color="#dbdbff"/><stop offset="94%" stop-color="#e1e1ff"/><stop offset="100%" stop-color="#f3f3ff"/></linearGradient><linearGradient id="g181" x1="700" x2="1233" gradientUnits="userSpaceOnUse"><stop offset="0%" stop-color="#f1f1ff"/><stop offset="7.1%" stop-color="#ddddff"/><stop offset="11.6%" stop-color="#d7d7ff"/><stop offset="25%" stop-color="#e3e3ff"/><stop offset="33.8%" stop-color="#dbdbff"/><stop offset="46.2%" stop-color="#ddddff"/><stop offset="52.3%" stop-color="#d5d5ff"/><stop offset="57.2%" stop-color="#d5d5ff"/><stop offset="71.5%" stop-color="#e5e5ff"/><stop offset="80.5%" stop-color="#e5e5ff"/><stop offset="90.6%" stop-color="#ddddff"/><stop offset="100%" stop-color="#f3f3ff"/></linearGradient><linearGradient id="g182" x1="700" x2="1233" gradientUnits="userSpaceOnUse"><stop offset="0%" stop-color="#f3f3ff"/><stop offset="6%" stop-color="#e1e1ff"/><stop offset="10.7%" stop-color="#d9d9ff"/><stop offset="21.2%" stop-color="#e3e3ff"/><stop offset="26.8%" stop-color="#e3e3ff"/><stop offset="32.1%" stop-color="#ddddff"/><stop offset="45.2%" stop-color="#dfdfff"/><stop offset="51.8%" stop-color="#d7d7ff"/><stop offset="58.3%" stop-color="#d7d7ff"/><stop offset="75.2%" stop-color="#e7e7ff"/><stop offset="91.2%" stop-color="#dfdfff"/><stop offset="100%" stop-color="#f3f3ff"/></linearGradient><linearGradient id="g183" x1="700" x2="1233" gradientUnits="userSpaceOnUse"><stop offset="0%" stop-color="#f3f3ff"/><stop offset="10.3%" stop-color="#dbdbff"/><stop offset="14.1%" stop-color="#dbdbff"/><stop offset="19.9%" stop-color="#e3e3ff"/><stop offset="28.1%" stop-color="#e3e3ff"/><stop offset="31%" stop-color="#dfdfff"/><stop offset="43.2%" stop-color="#e1e1ff"/><stop offset="51%" stop-color="#d9d9ff"/><stop offset="59.7%" stop-color="#d9d9ff"/><stop offset="73.9%" stop-color="#e7e7ff"/><stop offset="91.7%" stop-color="#e1e1ff"/><stop offset="100%" stop-color="#f3f3ff"/></linearGradient><linearGradient id="g184" x1="700" x2="1233" gradientUnits="userSpaceOnUse"><stop offset="0%" stop-color="#f3f3ff"/><stop offset="9.9%" stop-color="#ddddff"/><stop offset="26.6%" stop-color="#e5e5ff"/><stop offset="33.4%" stop-color="#dfdfff"/><stop offset="45.6%" stop-color="#e1e1ff"/><stop offset="52.9%" stop-color="#d9d9ff"/><stop offset="61%" stop-color="#dbdbff"/><stop offset="73%" stop-color="#e7e7ff"/><stop offset="81.4%" stop-color="#e7e7ff"/><stop offset="89.7%" stop-color="#e1e1ff"/><stop offset="100%" stop-color="#f3f3ff"/></linearGradient><linearGradient id="g185" x1="700" x2="1233" gradientUnits="userSpaceOnUse"><stop offset="0%" stop-color="#f3f3ff"/><stop offset="9.8%" stop-color="#dfdfff"/><stop offset="28.5%" stop-color="#e5e5ff"/><stop offset="59.8%" stop-color="#dbdbff"/><stop offset="76.7%" stop-color="#e9e9ff"/><stop offset="90.6%" stop-color="#e3e3ff"/><stop offset="100%" stop-color="#f5f5ff"/></linearGradient><linearGradient id="g186" x1="700" x2="1233" gradientUnits="userSpaceOnUse"><stop offset="0%" stop-color="#f3f3ff"/><stop offset="9.4%" stop-color="#e1e1ff"/><stop offset="27%" stop-color="#e7e7ff"/><stop offset="30.8%" stop-color="#e3e3ff"/><stop offset="45.8%" stop-color="#e3e3ff"/><stop offset="57.8%" stop-color="#dbdbff"/><stop offset="74.7%" stop-color="#e9e9ff"/><stop offset="91.4%" stop-color="#e5e5ff"/><stop offset="100%" stop-color="#f5f5ff"/></linearGradient><linearGradient id="g187" x1="700" x2="1233" gradientUnits="userSpaceOnUse"><stop offset="0%" stop-color="#f5f5ff"/><stop offset="9.2%" stop-color="#e3e3ff"/><stop offset="18.9%" stop-color="#e7e7ff"/><stop offset="43.9%" stop-color="#e5e5ff"/><stop offset="52%" stop-color="#ddddff"/><stop offset="59.8%" stop-color="#ddddff"/><stop offset="73.4%" stop-color="#e9e9ff"/><stop offset="91.9%" stop-color="#e7e7ff"/><stop offset="100%" stop-color="#f5f5ff"/></linearGradient><linearGradient id="g188" x1="700" x2="1233" gradientUnits="userSpaceOnUse"><stop offset="0%" stop-color="#f5f5ff"/><stop offset="8.6%" stop-color="#e5e5ff"/><stop offset="27.4%" stop-color="#e9e9ff"/><stop offset="45.8%" stop-color="#e5e5ff"/><stop offset="54.8%" stop-color="#ddddff"/><stop offset="76.4%" stop-color="#ebebff"/><stop offset="89.3%" stop-color="#e7e7ff"/><stop offset="100%" stop-color="#f5f5ff"/></linearGradient><linearGradient id="g189" x1="700" x2="1233" gradientUnits="userSpaceOnUse"><stop offset="0%" stop-color="#f5f5ff"/><stop offset="8.3%" stop-color="#e7e7ff"/><stop offset="43.9%" stop-color="#e7e7ff"/><stop offset="52.3%" stop-color="#dfdfff"/><stop offset="59.5%" stop-color="#dfdfff"/><stop offset="74.3%" stop-color="#ebebff"/><stop offset="91.2%" stop-color="#e9e9ff"/><stop offset="100%" stop-color="#f5f5ff"/></linearGradient><linearGradient id="g190" x1="700" x2="1233" gradientUnits="userSpaceOnUse"><stop offset="0%" stop-color="#f5f5ff"/><stop offset="10.7%" stop-color="#e7e7ff"/><stop offset="28%" stop-color="#ebebff"/><stop offset="45.6%" stop-color="#e7e7ff"/><stop offset="50.8%" stop-color="#e1e1ff"/><stop offset="61%" stop-color="#e1e1ff"/><stop offset="72.8%" stop-color="#ebebff"/><stop offset="92.3%" stop-color="#ebebff"/><stop offset="100%" stop-color="#f7f7ff"/></linearGradient><linearGradient id="g191" x1="700" x2="1233" gradientUnits="userSpaceOnUse"><stop offset="0%" stop-color="#f5f5ff"/><stop offset="9.4%" stop-color="#e9e9ff"/><stop offset="43.9%" stop-color="#e9e9ff"/><stop offset="52.9%" stop-color="#e1e1ff"/><stop offset="58.5%" stop-color="#e1e1ff"/><stop offset="75.2%" stop-color="#ededff"/><stop offset="90.2%" stop-color="#ebebff"/><stop offset="100%" stop-color="#f7f7ff"/></linearGradient><linearGradient id="g192" x1="700" x2="1233" gradientUnits="userSpaceOnUse"><stop offset="0%" stop-color="#f7f7ff"/><stop offset="8.3%" stop-color="#ebebff"/><stop offset="40.9%" stop-color="#ebebff"/><stop offset="51.2%" stop-color="#e3e3ff"/><stop offset="60%" stop-color="#e3e3ff"/><stop offset="73.2%" stop-color="#ededff"/><stop offset="92.3%" stop-color="#ededff"/><stop offset="100%" stop-color="#f7f7ff"/></linearGradient><linearGradient id="g193" x1="700" x2="1233" gradientUnits="userSpaceOnUse"><stop offset="0%" stop-color="#f7f7ff"/><stop offset="4.9%" stop-color="#efefff"/><stop offset="12.2%" stop-color="#ebebff"/><stop offset="43.9%" stop-color="#ebebff"/><stop offset="53.8%" stop-color="#e3e3ff"/><stop offset="76.4%" stop-color="#efefff"/><stop offset="89.7%" stop-color="#ededff"/><stop offset="100%" stop-color="#f7f7ff"/></linearGradient><linearGradient id="g194" x1="700" x2="1233" gradientUnits="userSpaceOnUse"><stop offset="0%" stop-color="#f7f7ff"/><stop offset="8.6%" stop-color="#ededff"/><stop offset="41.1%" stop-color="#ededff"/><stop offset="51.6%" stop-color="#e5e5ff"/><stop offset="58.5%" stop-color="#e5e5ff"/><stop offset="73.4%" stop-color="#efefff"/><stop offset="92.7%" stop-color="#efefff"/><stop offset="100%" stop-color="#f7f7ff"/></linearGradient><linearGradient id="g195" x1="700" x2="1233" gradientUnits="userSpaceOnUse"><stop offset="0%" stop-color="#f7f7ff"/><stop offset="6.9%" stop-color="#efefff"/><stop offset="34.1%" stop-color="#efefff"/><stop offset="50.1%" stop-color="#e7e7ff"/><stop offset="59.8%" stop-color="#e7e7ff"/><stop offset="70.7%" stop-color="#efefff"/><stop offset="90.6%" stop-color="#efefff"/><stop offset="100%" stop-color="#f9f9ff"/></linearGradient><linearGradient id="g196" x1="700" x2="1233" gradientUnits="userSpaceOnUse"><stop offset="0%" stop-color="#f7f7ff"/><stop offset="8.6%" stop-color="#efefff"/><stop offset="41.1%" stop-color="#efefff"/><stop offset="56.7%" stop-color="#e7e7ff"/><stop offset="73.5%" stop-color="#f1f1ff"/><stop offset="93.4%" stop-color="#f1f1ff"/><stop offset="100%" stop-color="#f9f9ff"/></linearGradient><linearGradient id="g197" x1="700" x2="1233" gradientUnits="userSpaceOnUse"><stop offset="0%" stop-color="#f9f9ff"/><stop offset="6.4%" stop-color="#f1f1ff"/><stop offset="34.3%" stop-color="#f1f1ff"/><stop offset="50.7%" stop-color="#e9e9ff"/><stop offset="58.3%" stop-color="#e9e9ff"/><stop offset="70.2%" stop-color="#f1f1ff"/><stop offset="92.1%" stop-color="#f1f1ff"/><stop offset="100%" stop-color="#f9f9ff"/></linearGradient><linearGradient id="g198" x1="700" x2="1233" gradientUnits="userSpaceOnUse"><stop offset="0%" stop-color="#f9f9ff"/><stop offset="7.9%" stop-color="#f1f1ff"/><stop offset="40.7%" stop-color="#f1f1ff"/><stop offset="49.2%" stop-color="#ebebff"/><stop offset="59.7%" stop-color="#ebebff"/><stop offset="74.3%" stop-color="#f3f3ff"/><stop offset="88.4%" stop-color="#f1f1ff"/><stop offset="100%" stop-color="#f9f9ff"/></linearGradient><linearGradient id="g199" x1="700" x2="1233" gradientUnits="userSpaceOnUse"><stop offset="0%" stop-color="#f9f9ff"/><stop offset="5.4%" stop-color="#f3f3ff"/><stop offset="33.4%" stop-color="#f3f3ff"/><stop offset="51.6%" stop-color="#ebebff"/><stop offset="69.6%" stop-color="#f3f3ff"/><stop offset="93.8%" stop-color="#f3f3ff"/><stop offset="100%" stop-color="#f9f9ff"/></linearGradient><linearGradient id="g200" x1="700" x2="1233" gradientUnits="userSpaceOnUse"><stop offset="0%" stop-color="#f9f9ff"/><stop offset="6.6%" stop-color="#f3f3ff"/><stop offset="40.2%" stop-color="#f3f3ff"/><stop offset="49.7%" stop-color="#ededff"/><stop offset="58.5%" stop-color="#ededff"/><stop offset="66.4%" stop-color="#f3f3ff"/><stop offset="92.5%" stop-color="#f3f3ff"/><stop offset="100%" stop-color="#f9f9ff"/></linearGradient><linearGradient id="g201" x1="700" x2="1233" gradientUnits="userSpaceOnUse"><stop offset="0%" stop-color="#f9f9ff"/><stop offset="8.1%" stop-color="#f3f3ff"/><stop offset="31%" stop-color="#f5f5ff"/><stop offset="54.4%" stop-color="#ededff"/><stop offset="69.8%" stop-color="#f5f5ff"/><stop offset="90.4%" stop-color="#f3f3ff"/><stop offset="100%" stop-color="#fbfbff"/></linearGradient><linearGradient id="g202" x1="700" x2="1233" gradientUnits="userSpaceOnUse"><stop offset="0%" stop-color="#fbfbff"/><stop offset="5.1%" stop-color="#f5f5ff"/><stop offset="38.5%" stop-color="#f5f5ff"/><stop offset="50.1%" stop-color="#efefff"/><stop offset="66.2%" stop-color="#f5f5ff"/><stop offset="94.6%" stop-color="#f5f5ff"/><stop offset="100%" stop-color="#fbfbff"/></linearGradient><linearGradient id="g203" x1="700" x2="1233" gradientUnits="userSpaceOnUse"><stop offset="0%" stop-color="#fbfbff"/><stop offset="5.8%" stop-color="#f5f5ff"/><stop offset="42.6%" stop-color="#f5f5ff"/><stop offset="47.8%" stop-color="#f1f1ff"/><stop offset="72.2%" stop-color="#f7f7ff"/><stop offset="93.8%" stop-color="#f5f5ff"/><stop offset="100%" stop-color="#fbfbff"/></linearGradient><linearGradient id="g204" x1="700" x2="1233" gradientUnits="userSpaceOnUse"><stop offset="0%" stop-color="#fbfbff"/><stop offset="6.8%" stop-color="#f5f5ff"/><stop offset="34%" stop-color="#f7f7ff"/><stop offset="50.3%" stop-color="#f1f1ff"/><stop offset="67.2%" stop-color="#f7f7ff"/><stop offset="92.9%" stop-color="#f5f5ff"/><stop offset="100%" stop-color="#fbfbff"/></linearGradient><linearGradient id="g205" x1="700" x2="1233" gradientUnits="userSpaceOnUse"><stop offset="0%" stop-color="#fbfbff"/><stop offset="7.7%" stop-color="#f5f5ff"/><stop offset="40.3%" stop-color="#f7f7ff"/><stop offset="47.5%" stop-color="#f3f3ff"/><stop offset="64.5%" stop-color="#f7f7ff"/><stop offset="91.6%" stop-color="#f5f5ff"/><stop offset="100%" stop-color="#fbfbff"/></linearGradient><linearGradient id="g206" x1="700" x2="1233" gradientUnits="userSpaceOnUse"><stop offset="0%" stop-color="#fbfbff"/><stop offset="4.3%" stop-color="#f7f7ff"/><stop offset="43.5%" stop-color="#f7f7ff"/><stop offset="49.7%" stop-color="#f3f3ff"/><stop offset="72.6%" stop-color="#f9f9ff"/><stop offset="95.3%" stop-color="#f7f7ff"/><stop offset="100%" stop-color="#fbfbff"/></linearGradient><linearGradient id="g207" x1="700" x2="1233" gradientUnits="userSpaceOnUse"><stop offset="0%" stop-color="#fbfbff"/><stop offset="4.7%" stop-color="#f7f7ff"/><stop offset="31.9%" stop-color="#f9f9ff"/><stop offset="47.1%" stop-color="#f5f5ff"/><stop offset="67.2%" stop-color="#f9f9ff"/><stop offset="94.9%" stop-color="#f7f7ff"/><stop offset="100%" stop-color="#fbfbff"/></linearGradient><linearGradient id="g208" x1="700" x2="1233" gradientUnits="userSpaceOnUse"><stop offset="0%" stop-color="#fbfbff"/><stop offset="4.9%" stop-color="#f7f7ff"/><stop offset="38.5%" stop-color="#f9f9ff"/><stop offset="47.8%" stop-color="#f5f5ff"/><stop offset="64.9%" stop-color="#f9f9ff"/><stop offset="94.6%" stop-color="#f7f7ff"/><stop offset="100%" stop-color="#fbfbff"/></linearGradient><linearGradient id="g209" x1="700" x2="1233" gradientUnits="userSpaceOnUse"><stop offset="0%" stop-color="#fbfbff"/><stop offset="5.1%" stop-color="#f7f7ff"/><stop offset="42%" stop-color="#f9f9ff"/><stop offset="57.4%" stop-color="#f5f5ff"/><stop offset="63.4%" stop-color="#f9f9ff"/><stop offset="94.2%" stop-color="#f7f7ff"/><stop offset="100%" stop-color="#fdfdff"/></linearGradient><linearGradient id="g210" x1="700" x2="1233" gradientUnits="userSpaceOnUse"><stop offset="0%" stop-color="#fbfbff"/><stop offset="5.3%" stop-color="#f7f7ff"/><stop offset="44.1%" stop-color="#f9f9ff"/><stop offset="54.4%" stop-color="#f5f5ff"/><stop offset="62.1%" stop-color="#f9f9ff"/><stop offset="93.6%" stop-color="#f7f7ff"/><stop offset="100%" stop-color="#fdfdff"/></linearGradient><linearGradient id="g211" x1="700" x2="1233" gradientUnits="userSpaceOnUse"><stop offset="0%" stop-color="#fdfdff"/><stop offset="5.8%" stop-color="#f7f7ff"/><stop offset="60.8%" stop-color="#f7f7ff"/><stop offset="71.1%" stop-color="#fbfbff"/><stop offset="93.2%" stop-color="#f7f7ff"/><stop offset="100%" stop-color="#fdfdff"/></linearGradient><linearGradient id="g212" x1="700" x2="1233" gradientUnits="userSpaceOnUse"><stop offset="0%" stop-color="#fdfdff"/><stop offset="5.8%" stop-color="#f7f7ff"/><stop offset="59.7%" stop-color="#f7f7ff"/><stop offset="67.9%" stop-color="#fbfbff"/><stop offset="92.9%" stop-color="#f7f7ff"/><stop offset="100%" stop-color="#fdfdff"/></linearGradient><linearGradient id="g213" x1="700" x2="1233" gradientUnits="userSpaceOnUse"><stop offset="0%" stop-color="#fdfdff"/><stop offset="5.8%" stop-color="#f7f7ff"/><stop offset="23.8%" stop-color="#fbfbff"/><stop offset="49.7%" stop-color="#f7f7ff"/><stop offset="80.1%" stop-color="#fbfbff"/><stop offset="92.5%" stop-color="#f7f7ff"/><stop offset="100%" stop-color="#fdfdff"/></linearGradient><linearGradient id="g214" x1="700" x2="1233" gradientUnits="userSpaceOnUse"><stop offset="0%" stop-color="#fdfdff"/><stop offset="5.8%" stop-color="#f7f7ff"/><stop offset="23.3%" stop-color="#fbfbff"/><stop offset="50.3%" stop-color="#f7f7ff"/><stop offset="81.1%" stop-color="#fbfbff"/><stop offset="92.1%" stop-color="#f7f7ff"/><stop offset="100%" stop-color="#fdfdff"/></linearGradient><linearGradient id="g215" x1="700" x2="1233" gradientUnits="userSpaceOnUse"><stop offset="0%" stop-color="#fdfdff"/><stop offset="5.8%" stop-color="#f7f7ff"/><stop offset="22%" stop-color="#fbfbff"/><stop offset="49.5%" stop-color="#f7f7ff"/><stop offset="81.6%" stop-color="#fbfbff"/><stop offset="91.6%" stop-color="#f7f7ff"/><stop offset="100%" stop-color="#fdfdff"/></linearGradient><linearGradient id="g216" x1="700" x2="1233" gradientUnits="userSpaceOnUse"><stop offset="0%" stop-color="#fdfdff"/><stop offset="9%" stop-color="#f5f5ff"/><stop offset="20.8%" stop-color="#fbfbff"/><stop offset="57%" stop-color="#f7f7ff"/><stop offset="64.5%" stop-color="#fbfbff"/><stop offset="96.1%" stop-color="#f9f9ff"/><stop offset="100%" stop-color="#fdfdff"/></linearGradient><linearGradient id="g217" x1="700" x2="1233" gradientUnits="userSpaceOnUse"><stop offset="0%" stop-color="#fdfdff"/><stop offset="8.3%" stop-color="#f5f5ff"/><stop offset="20.6%" stop-color="#fbfbff"/><stop offset="56.5%" stop-color="#f7f7ff"/><stop offset="64.4%" stop-color="#fbfbff"/><stop offset="95.9%" stop-color="#f9f9ff"/><stop offset="100%" stop-color="#fdfdff"/></linearGradient><linearGradient id="g218" x1="700" x2="1233" gradientUnits="userSpaceOnUse"><stop offset="0%" stop-color="#fdfdff"/><stop offset="7.7%" stop-color="#f5f5ff"/><stop offset="20.5%" stop-color="#fbfbff"/><stop offset="55.9%" stop-color="#f7f7ff"/><stop offset="64%" stop-color="#fbfbff"/><stop offset="95.7%" stop-color="#f9f9ff"/><stop offset="100%" stop-color="#fdfdff"/></linearGradient><linearGradient id="g219" x1="700" x2="1233" gradientUnits="userSpaceOnUse"><stop offset="0%" stop-color="#fdfdff"/><stop offset="7.7%" stop-color="#f5f5ff"/><stop offset="20.3%" stop-color="#fbfbff"/><stop offset="55.3%" stop-color="#f7f7ff"/><stop offset="63.8%" stop-color="#fbfbff"/><stop offset="95.5%" stop-color="#f9f9ff"/><stop offset="100%" stop-color="#fdfdff"/></linearGradient><linearGradient id="g220" x1="700" x2="1233" gradientUnits="userSpaceOnUse"><stop offset="0%" stop-color="#fdfdff"/><stop offset="8.3%" stop-color="#f5f5ff"/><stop offset="19.9%" stop-color="#fbfbff"/><stop offset="54.4%" stop-color="#f7f7ff"/><stop offset="63.4%" stop-color="#fbfbff"/><stop offset="95.1%" stop-color="#f9f9ff"/><stop offset="100%" stop-color="#fdfdff"/></linearGradient><linearGradient id="g221" x1="700" x2="1233" gradientUnits="userSpaceOnUse"><stop offset="0%" stop-color="#fdfdff"/><stop offset="5.8%" stop-color="#f7f7ff"/><stop offset="19.5%" stop-color="#fbfbff"/><stop offset="94.7%" stop-color="#f9f9ff"/><stop offset="100%" stop-color="#fdfdff"/></linearGradient><linearGradient id="g222" x1="700" x2="1233" gradientUnits="userSpaceOnUse"><stop offset="0%" stop-color="#fdfdff"/><stop offset="5.8%" stop-color="#f7f7ff"/><stop offset="19.1%" stop-color="#fbfbff"/><stop offset="94%" stop-color="#f9f9ff"/><stop offset="100%" stop-color="#fdfdff"/></linearGradient><linearGradient id="g223" x1="700" x2="1233" gradientUnits="userSpaceOnUse"><stop offset="0%" stop-color="#fdfdff"/><stop offset="5.8%" stop-color="#f7f7ff"/><stop offset="18.6%" stop-color="#fbfbff"/><stop offset="93.1%" stop-color="#f9f9ff"/><stop offset="100%" stop-color="#fdfdff"/></linearGradient><linearGradient id="g224" x1="700" x2="1233" gradientUnits="userSpaceOnUse"><stop offset="0%" stop-color="#fdfdff"/><stop offset="6.2%" stop-color="#f7f7ff"/><stop offset="17.8%" stop-color="#fbfbff"/><stop offset="90.8%" stop-color="#f9f9ff"/><stop offset="100%" stop-color="#fdfdff"/></linearGradient><linearGradient id="g225" x1="700" x2="1233" gradientUnits="userSpaceOnUse"><stop offset="0%" stop-color="#fdfdff"/><stop offset="10.5%" stop-color="#f7f7ff"/><stop offset="16.9%" stop-color="#fbfbff"/><stop offset="60.6%" stop-color="#f9f9ff"/><stop offset="100%" stop-color="#fdfdff"/></linearGradient><linearGradient id="g226" x1="700" x2="1233" gradientUnits="userSpaceOnUse"><stop offset="0%" stop-color="#fdfdff"/><stop offset="5.8%" stop-color="#f9f9ff"/><stop offset="100%" stop-color="#fdfdff"/></linearGradient><linearGradient id="g227" x1="700" x2="1233" gradientUnits="userSpaceOnUse"><stop offset="0%" stop-color="#fdfdff"/><stop offset="5.8%" stop-color="#f9f9ff"/><stop offset="100%" stop-color="#fdfdff"/></linearGradient><linearGradient id="g228" x1="700" x2="1233" gradientUnits="userSpaceOnUse"><stop offset="0%" stop-color="#fdfdff"/><stop offset="10.5%" stop-color="#f9f9ff"/><stop offset="100%" stop-color="#fdfdff"/></linearGradient><linearGradient id="g229" x1="700" x2="1233" gradientUnits="userSpaceOnUse"><stop offset="0%" stop-color="#fdfdff"/><stop offset="92.1%" stop-color="#fbfbff"/><stop offset="100%" stop-color="#ffffff"/></linearGradient><linearGradient id="g230" x1="700" x2="1233" gradientUnits="userSpaceOnUse"><stop offset="0%" stop-color="#fdfdff"/><stop offset="64.2%" stop-color="#fbfbff"/><stop offset="100%" stop-color="#ffffff"/></linearGradient><linearGradient id="g231" x1="700" x2="1233" gradientUnits="userSpaceOnUse"><stop offset="0%" stop-color="#fdfdff"/><stop offset="62.5%" stop-color="#fbfbff"/><stop offset="100%" stop-color="#ffffff"/></linearGradient><linearGradient id="g232" x1="700" x2="1233" gradientUnits="userSpaceOnUse"><stop offset="0%" stop-color="#ffffff"/><stop offset="8.8%" stop-color="#fbfbff"/><stop offset="100%" stop-color="#ffffff"/></linearGradient><linearGradient id="g233" x1="700" x2="1233" gradientUnits="userSpaceOnUse"><stop offset="0%" stop-color="#ffffff"/><stop offset="48.2%" stop-color="#fbfbff"/><stop offset="100%" stop-color="#ffffff"/></linearGradient><linearGradient id="g234" x1="700" x2="1233" gradientUnits="userSpaceOnUse"><stop offset="0%" stop-color="#ffffff"/><stop offset="51.8%" stop-color="#fbfbff"/><stop offset="100%" stop-color="#ffffff"/></linearGradient><linearGradient id="g235" x1="700" x2="1233" gradientUnits="userSpaceOnUse"><stop offset="0%" stop-color="#ffffff"/><stop offset="100%" stop-color="#ffffff"/></linearGradient><linearGradient id="g236" x1="700" x2="1233" gradientUnits="userSpaceOnUse"><stop offset="0%" stop-color="#ffffff"/><stop offset="100%" stop-color="#ffffff"/></linearGradient><linearGradient id="g237" x1="700" x2="1233" gradientUnits="userSpaceOnUse"><stop offset="0%" stop-color="#ffffff"/><stop offset="100%" stop-color="#ffffff"/></linearGradient><linearGradient id="g238" x1="700" x2="1233" gradientUnits="userSpaceOnUse"><stop offset="0%" stop-color="#ffffff"/><stop offset="100%" stop-color="#ffffff"/></linearGradient><linearGradient id="g239" x1="700" x2="1233" gradientUnits="userSpaceOnUse"><stop offset="0%" stop-color="#ffffff"/><stop offset="100%" stop-color="#ffffff"/></linearGradient><linearGradient id="g240" x1="700" x2="1233" gradientUnits="userSpaceOnUse"><stop offset="0%" stop-color="#ffffff"/><stop offset="100%" stop-color="#ffffff"/></linearGradient><linearGradient id="g241" x1="700" x2="1233" gradientUnits="userSpaceOnUse"><stop offset="0%" stop-color="#ffffff"/><stop offset="100%" stop-color="#ffffff"/></linearGradient><linearGradient id="g242" x1="700" x2="1233" gradientUnits="userSpaceOnUse"><stop offset="0%" stop-color="#ffffff"/><stop offset="100%" stop-color="#ffffff"/></linearGradient><linearGradient id="g243" x1="700" x2="1233" gradientUnits="userSpaceOnUse"><stop offset="0%" stop-color="#ffffff"/><stop offset="100%" stop-color="#ffffff"/></linearGradient><linearGradient id="g244" x1="700" x2="1233" gradientUnits="userSpaceOnUse"><stop offset="0%" stop-color="#ffffff"/><stop offset="100%" stop-color="#ffffff"/></linearGradient><linearGradient id="g245" x1="700" x2="1233" gradientUnits="userSpaceOnUse"><stop offset="0%" stop-color="#ffffff"/><stop offset="100%" stop-color="#ffffff"/></linearGradient><linearGradient id="g246" x1="700" x2="1233" gradientUnits="userSpaceOnUse"><stop offset="0%" stop-color="#ffffff"/><stop offset="100%" stop-color="#ffffff"/></linearGradient><linearGradient id="g247" x1="700" x2="1233" gradientUnits="userSpaceOnUse"><stop offset="0%" stop-color="#ffffff"/><stop offset="100%" stop-color="#ffffff"/></linearGradient><linearGradient id="g248" x1="700" x2="1233" gradientUnits="userSpaceOnUse"><stop offset="0%" stop-color="#ffffff"/><stop offset="100%" stop-color="#ffffff"/></linearGradient><linearGradient id="g249" x1="700" x2="1233" gradientUnits="userSpaceOnUse"><stop offset="0%" stop-color="#ffffff"/><stop offset="100%" stop-color="#ffffff"/></linearGradient><linearGradient id="g250" x1="700" x2="1233" gradientUnits="userSpaceOnUse"><stop offset="0%" stop-color="#ffffff"/><stop offset="100%" stop-color="#ffffff"/></linearGradient><linearGradient id="g251" x1="700" x2="1233" gradientUnits="userSpaceOnUse"><stop offset="0%" stop-color="#ffffff"/><stop offset="100%" stop-color="#ffffff"/></linearGradient><linearGradient id="g252" x1="700" x2="1233" gradientUnits="userSpaceOnUse"><stop offset="0%" stop-color="#ffffff"/><stop offset="100%" stop-color="#ffffff"/></linearGradient><linearGradient id="g253" x1="700" x2="1233" gradientUnits="userSpaceOnUse"><stop offset="0%" stop-color="#ffffff"/><stop offset="100%" stop-color="#ffffff"/></linearGradient><linearGradient id="g254" x1="700" x2="1233" gradientUnits="userSpaceOnUse"><stop offset="0%" stop-color="#ffffff"/><stop offset="100%" stop-color="#ffffff"/></linearGradient><linearGradient id="g255" x1="700" x2="1233" gradientUnits="userSpaceOnUse"><stop offset="0%" stop-color="#ffffff"/><stop offset="100%" stop-color="#ffffff"/></linearGradient><linearGradient id="g256" x1="700" x2="1233" gradientUnits="userSpaceOnUse"><stop offset="0%" stop-color="#ffffff"/><stop offset="100%" stop-color="#ffffff"/></linearGradient><linearGradient id="g257" x1="700" x2="1233" gradientUnits="userSpaceOnUse"><stop offset="0%" stop-color="#ffffff"/><stop offset="100%" stop-color="#ffffff"/></linearGradient><linearGradient id="g258" x1="700" x2="1233" gradientUnits="userSpaceOnUse"><stop offset="0%" stop-color="#ffffff"/><stop offset="100%" stop-color="#ffffff"/></linearGradient><linearGradient id="g259" x1="700" x2="1233" gradientUnits="userSpaceOnUse"><stop offset="0%" stop-color="#ffffff"/><stop offset="100%" stop-color="#ffffff"/></linearGradient><linearGradient id="g260" x1="700" x2="1233" gradientUnits="userSpaceOnUse"><stop offset="0%" stop-color="#ffffff"/><stop offset="100%" stop-color="#ffffff"/></linearGradient><linearGradient id="g261" x1="700" x2="1233" gradientUnits="userSpaceOnUse"><stop offset="0%" stop-color="#ffffff"/><stop offset="100%" stop-color="#ffffff"/></linearGradient><linearGradient id="g262" x1="700" x2="1233" gradientUnits="userSpaceOnUse"><stop offset="0%" stop-color="#ffffff"/><stop offset="100%" stop-color="#ffffff"/></linearGradient><linearGradient id="g263" x1="700" x2="1233" gradientUnits="userSpaceOnUse"><stop offset="0%" stop-color="#ffffff"/><stop offset="100%" stop-color="#ffffff"/></linearGradient><linearGradient id="g264" x1="700" x2="1233" gradientUnits="userSpaceOnUse"><stop offset="0%" stop-color="#ffffff"/><stop offset="100%" stop-color="#ffffff"/></linearGradient><linearGradient id="g265" x1="700" x2="1233" gradientUnits="userSpaceOnUse"><stop offset="0%" stop-color="#ffffff"/><stop offset="100%" stop-color="#ffffff"/></linearGradient><linearGradient id="g266" x1="700" x2="1233" gradientUnits="userSpaceOnUse"><stop offset="0%" stop-color="#ffffff"/><stop offset="100%" stop-color="#ffffff"/></linearGradient><linearGradient id="g267" x1="700" x2="1233" gradientUnits="userSpaceOnUse"><stop offset="0%" stop-color="#ffffff"/><stop offset="100%" stop-color="#ffffff"/></linearGradient><clipPath id="c2"><rect x="699.5" y="47.5" width="533" height="533"/></clipPath></defs>
<g clip-path="url(#c2)" shape-rendering="crispEdges"><rect x="700" y="47" width="533" height="2" fill="url(#g0)"/><rect x="700" y="49" width="533" height="2" fill="url(#g1)"/><rect x="700" y="51" width="533" height="2" fill="url(#g2)"/><rect x="700" y="53" width="533" height="2" fill="url(#g3)"/><rect x="700" y="55" width="533" height="2" fill="url(#g4)"/><rect x="700" y="57" width="533" height="2" fill="url(#g5)"/><rect x="700" y="59" width="533" height="2" fill="url(#g6)"/><rect x="700" y="61" width="533" height="2" fill="url(#g7)"/><rect x="700" y="63" width="533" height="2" fill="url(#g8)"/><rect x="700" y="65" width="533" height="2" fill="url(#g9)"/><rect x="700" y="67" width="533" height="2" fill="url(#g10)"/><rect x="700" y="69" width="533" height="2" fill="url(#g11)"/><rect x="700" y="71" width="533" height="2" fill="url(#g12)"/><rect x="700" y="73" width="533" height="2" fill="url(#g13)"/><rect x="700" y="75" width="533" height="2" fill="url(#g14)"/><rect x="700" y="77" width="533" height="2" fill="url(#g15)"/><rect x="700" y="79" width="533" height="2" fill="url(#g16)"/><rect x="700" y="81" width="533" height="2" fill="url(#g17)"/><rect x="700" y="83" width="533" height="2" fill="url(#g18)"/><rect x="700" y="85" width="533" height="2" fill="url(#g19)"/><rect x="700" y="87" width="533" height="2" fill="url(#g20)"/><rect x="700" y="89" width="533" height="2" fill="url(#g21)"/><rect x="700" y="91" width="533" height="2" fill="url(#g22)"/><rect x="700" y="93" width="533" height="2" fill="url(#g23)"/><rect x="700" y="95" width="533" height="2" fill="url(#g24)"/><rect x="700" y="97" width="533" height="2" fill="url(#g25)"/><rect x="700" y="99" width="533" height="2" fill="url(#g26)"/><rect x="700" y="101" width="533" height="2" fill="url(#g27)"/><rect x="700" y="103" width="533" height="2" fill="url(#g28)"/><rect x="700" y="105" width="533" height="2" fill="url(#g29)"/><rect x="700" y="107" width="533" height="2" fill="url(#g30)"/><rect x="700" y="109" width="533" height="2" fill="url(#g31)"/><rect x="700" y="111" width="533" height="2" fill="url(#g32)"/><rect x="700" y="113" width="533" height="2" fill="url(#g33)"/><rect x="700" y="115" width="533" height="2" fill="url(#g34)"/><rect x="700" y="117" width="533" height="2" fill="url(#g35)"/><rect x="700" y="119" width="533" height="2" fill="url(#g36)"/><rect x="700" y="121" width="533" height="2" fill="url(#g37)"/><rect x="700" y="123" width="533" height="2" fill="url(#g38)"/><rect x="700" y="125" width="533" height="2" fill="url(#g39)"/><rect x="700" y="127" width="533" height="2" fill="url(#g40)"/><rect x="700" y="129" width="533" height="2" fill="url(#g41)"/><rect x="700" y="131" width="533" height="2" fill="url(#g42)"/><rect x="700" y="133" width="533" height="2" fill="url(#g43)"/><rect x="700" y="135" width="533" height="2" fill="url(#g44)"/><rect x="700" y="137" width="533" height="2" fill="url(#g45)"/><rect x="700" y="139" width="533" height="2" fill="url(#g46)"/><rect x="700" y="141" width="533" height="2" fill="url(#g47)"/><rect x="700" y="143" width="533" height="2" fill="url(#g48)"/><rect x="700" y="145" width="533" height="2" fill="url(#g49)"/><rect x="700" y="147" width="533" height="2" fill="url(#g50)"/><rect x="700" y="149" width="533" height="2" fill="url(#g51)"/><rect x="700" y="151" width="533" height="2" fill="url(#g52)"/><rect x="700" y="153" width="533" height="2" fill="url(#g53)"/><rect x="700" y="155" width="533" height="2" fill="url(#g54)"/><rect x="700" y="157" width="533" height="2" fill="url(#g55)"/><rect x="700" y="159" width="533" height="2" fill="url(#g56)"/><rect x="700" y="161" width="533" height="2" fill="url(#g57)"/><rect x="700" y="163" width="533" height="2" fill="url(#g58)"/><rect x="700" y="165" width="533" height="2" fill="url(#g59)"/><rect x="700" y="167" width="533" height="2" fill="url(#g60)"/><rect x="700" y="169" width="533" height="2" fill="url(#g61)"/><rect x="700" y="171" width="533" height="2" fill="url(#g62)"/><rect x="700" y="173" width="533" height="2" fill="url(#g63)"/><rect x="700" y="175" width="533" height="2" fill="url(#g64)"/><rect x="700" y="177" width="533" height="2" fill="url(#g65)"/><rect x="700" y="179" width="533" height="2" fill="url(#g66)"/><rect x="700" y="181" width="533" height="2" fill="url(#g67)"/><rect x="700" y="183" width="533" height="2" fill="url(#g68)"/><rect x="700" y="185" width="533" height="2" fill="url(#g69)"/><rect x="700" y="187" width="533" height="2" fill="url(#g70)"/><rect x="700" y="189" width="533" height="2" fill="url(#g71)"/><rect x="700" y="191" width="533" height="2" fill="url(#g72)"/><rect x="700" y="193" width="533" height="2" fill="url(#g73)"/><rect x="700" y="195" width="533" height="2" fill="url(#g74)"/><rect x="700" y="197" width="533" height="2" fill="url(#g75)"/><rect x="700" y="199" width="533" height="2" fill="url(#g76)"/><rect x="700" y="201" width="533" height="2" fill="url(#g77)"/><rect x="700" y="203" width="533" height="2" fill="url(#g78)"/><rect x="700" y="205" width="533" height="2" fill="url(#g79)"/><rect x="700" y="207" width="533" height="2" fill="url(#g80)"/><rect x="700" y="209" width="533" height="2" fill="url(#g81)"/><rect x="700" y="211" width="533" height="2" fill="url(#g82)"/><rect x="700" y="213" width="533" height="2" fill="url(#g83)"/><rect x="700" y="215" width="533" height="2" fill="url(#g84)"/><rect x="700" y="217" width="533" height="2" fill="url(#g85)"/><rect x="700" y="219" width="533" height="2" fill="url(#g86)"/><rect x="700" y="221" width="533" height="2" fill="url(#g87)"/><rect x="700" y="223" width="533" height="2" fill="url(#g88)"/><rect x="700" y="225" width="533" height="2" fill="url(#g89)"/><rect x="700" y="227" width="533" height="2" fill="url(#g90)"/><rect x="700" y="229" width="533" height="2" fill="url(#g91)"/><rect x="700" y="231" width="533" height="2" fill="url(#g92)"/><rect x="700" y="233" width="533" height="2" fill="url(#g93)"/><rect x="700" y="235" width="533" height="2" fill="url(#g94)"/><rect x="700" y="237" width="533" height="2" fill="url(#g95)"/><rect x="700" y="239" width="533" height="2" fill="url(#g96)"/><rect x="700" y="241" width="533" height="2" fill="url(#g97)"/><rect x="700" y="243" width="533" height="2" fill="url(#g98)"/><rect x="700" y="245" width="533" height="2" fill="url(#g99)"/><rect x="700" y="247" width="533" height="2" fill="url(#g100)"/><rect x="700" y="249" width="533" height="2" fill="url(#g101)"/><rect x="700" y="251" width="533" height="2" fill="url(#g102)"/><rect x="700" y="253" width="533" height="2" fill="url(#g103)"/><rect x="700" y="255" width="533" height="2" fill="url(#g104)"/><rect x="700" y="257" width="533" height="2" fill="url(#g105)"/><rect x="700" y="259" width="533" height="2" fill="url(#g106)"/><rect x="700" y="261" width="533" height="2" fill="url(#g107)"/><rect x="700" y="263" width="533" height="2" fill="url(#g108)"/><rect x="700" y="265" width="533" height="2" fill="url(#g109)"/><rect x="700" y="267" width="533" height="2" fill="url(#g110)"/><rect x="700" y="269" width="533" height="2" fill="url(#g111)"/><rect x="700" y="271" width="533" height="2" fill="url(#g112)"/><rect x="700" y="273" width="533" height="2" fill="url(#g113)"/><rect x="700" y="275" width="533" height="2" fill="url(#g114)"/><rect x="700" y="277" width="533" height="2" fill="url(#g115)"/><rect x="700" y="279" width="533" height="2" fill="url(#g116)"/><rect x="700" y="281" width="533" height="2" fill="url(#g117)"/><rect x="700" y="283" width="533" height="2" fill="url(#g118)"/><rect x="700" y="285" width="533" height="2" fill="url(#g119)"/><rect x="700" y="287" width="533" height="2" fill="url(#g120)"/><rect x="700" y="289" width="533" height="2" fill="url(#g121)"/><rect x="700" y="291" width="533" height="2" fill="url(#g122)"/><rect x="700" y="293" width="533" height="2" fill="url(#g123)"/><rect x="700" y="295" width="533" height="2" fill="url(#g124)"/><rect x="700" y="297" width="533" height="2" fill="url(#g125)"/><rect x="700" y="299" width="533" height="2" fill="url(#g126)"/><rect x="700" y="301" width="533" height="2" fill="url(#g127)"/><rect x="700" y="303" width="533" height="2" fill="url(#g128)"/><rect x="700" y="305" width="533" height="2" fill="url(#g129)"/><rect x="700" y="307" width="533" height="2" fill="url(#g130)"/><rect x="700" y="309" width="533" height="2" fill="url(#g131)"/><rect x="700" y="311" width="533" height="2" fill="url(#g132)"/><rect x="700" y="313" width="533" height="2" fill="url(#g133)"/><rect x="700" y="315" width="533" height="2" fill="url(#g134)"/><rect x="700" y="317" width="533" height="2" fill="url(#g135)"/><rect x="700" y="319" width="533" height="2" fill="url(#g136)"/><rect x="700" y="321" width="533" height="2" fill="url(#g137)"/><rect x="700" y="323" width="533" height="2" fill="url(#g138)"/><rect x="700" y="325" width="533" height="2" fill="url(#g139)"/><rect x="700" y="327" width="533" height="2" fill="url(#g140)"/><rect x="700" y="329" width="533" height="2" fill="url(#g141)"/><rect x="700" y="331" width="533" height="2" fill="url(#g142)"/><rect x="700" y="333" width="533" height="2" fill="url(#g143)"/><rect x="700" y="335" width="533" height="2" fill="url(#g144)"/><rect x="700" y="337" width="533" height="2" fill="url(#g145)"/><rect x="700" y="339" width="533" height="2" fill="url(#g146)"/><rect x="700" y="341" width="533" height="2" fill="url(#g147)"/><rect x="700" y="343" width="533" height="2" fill="url(#g148)"/><rect x="700" y="345" width="533" height="2" fill="url(#g149)"/><rect x="700" y="347" width="533" height="2" fill="url(#g150)"/><rect x="700" y="349" width="533" height="2" fill="url(#g151)"/><rect x="700" y="351" width="533" height="2" fill="url(#g152)"/><rect x="700" y="353" width="533" height="2" fill="url(#g153)"/><rect x="700" y="355" width="533" height="2" fill="url(#g154)"/><rect x="700" y="357" width="533" height="2" fill="url(#g155)"/><rect x="700" y="359" width="533" height="2" fill="url(#g156)"/><rect x="700" y="361" width="533" height="2" fill="url(#g157)"/><rect x="700" y="363" width="533" height="2" fill="url(#g158)"/><rect x="700" y="365" width="533" height="2" fill="url(#g159)"/><rect x="700" y="367" width="533" height="2" fill="url(#g160)"/><rect x="700" y="369" width="533" height="2" fill="url(#g161)"/><rect x="700" y="371" width="533" height="2" fill="url(#g162)"/><rect x="700" y="373" width="533" height="2" fill="url(#g163)"/><rect x="700" y="375" width="533" height="2" fill="url(#g164)"/><rect x="700" y="377" width="533" height="2" fill="url(#g165)"/><rect x="700" y="379" width="533" height="2" fill="url(#g166)"/><rect x="700" y="381" width="533" height="2" fill="url(#g167)"/><rect x="700" y="383" width="533" height="2" fill="url(#g168)"/><rect x="700" y="385" width="533" height="2" fill="url(#g169)"/><rect x="700" y="387" width="533" height="2" fill="url(#g170)"/><rect x="700" y="389" width="533" height="2" fill="url(#g171)"/><rect x="700" y="391" width="533" height="2" fill="url(#g172)"/><rect x="700" y="393" width="533" height="2" fill="url(#g173)"/><rect x="700" y="395" width="533" height="2" fill="url(#g174)"/><rect x="700" y="397" width="533" height="2" fill="url(#g175)"/><rect x="700" y="399" width="533" height="2" fill="url(#g176)"/><rect x="700" y="401" width="533" height="2" fill="url(#g177)"/><rect x="700" y="403" width="533" height="2" fill="url(#g178)"/><rect x="700" y="405" width="533" height="2" fill="url(#g179)"/><rect x="700" y="407" width="533" height="2" fill="url(#g180)"/><rect x="700" y="409" width="533" height="2" fill="url(#g181)"/><rect x="700" y="411" width="533" height="2" fill="url(#g182)"/><rect x="700" y="413" width="533" height="2" fill="url(#g183)"/><rect x="700" y="415" width="533" height="2" fill="url(#g184)"/><rect x="700" y="417" width="533" height="2" fill="url(#g185)"/><rect x="700" y="419" width="533" height="2" fill="url(#g186)"/><rect x="700" y="421" width="533" height="2" fill="url(#g187)"/><rect x="700" y="423" width="533" height="2" fill="url(#g188)"/><rect x="700" y="425" width="533" height="2" fill="url(#g189)"/><rect x="700" y="427" width="533" height="2" fill="url(#g190)"/><rect x="700" y="429" width="533" height="2" fill="url(#g191)"/><rect x="700" y="431" width="533" height="2" fill="url(#g192)"/><rect x="700" y="433" width="533" height="2" fill="url(#g193)"/><rect x="700" y="435" width="533" height="2" fill="url(#g194)"/><rect x="700" y="437" width="533" height="2" fill="url(#g195)"/><rect x="700" y="439" width="533" height="2" fill="url(#g196)"/><rect x="700" y="441" width="533" height="2" fill="url(#g197)"/><rect x="700" y="443" width="533" height="2" fill="url(#g198)"/><rect x="700" y="445" width="533" height="2" fill="url(#g199)"/><rect x="700" y="447" width="533" height="2" fill="url(#g200)"/><rect x="700" y="449" width="533" height="2" fill="url(#g201)"/><rect x="700" y="451" width="533" height="2" fill="url(#g202)"/><rect x="700" y="453" width="533" height="2" fill="url(#g203)"/><rect x="700" y="455" width="533" height="2" fill="url(#g204)"/><rect x="700" y="457" width="533" height="2" fill="url(#g205)"/><rect x="700" y="459" width="533" height="2" fill="url(#g206)"/><rect x="700" y="461" width="533" height="2" fill="url(#g207)"/><rect x="700" y="463" width="533" height="2" fill="url(#g208)"/><rect x="700" y="465" width="533" height="2" fill="url(#g209)"/><rect x="700" y="467" width="533" height="2" fill="url(#g210)"/><rect x="700" y="469" width="533" height="2" fill="url(#g211)"/><rect x="700" y="471" width="533" height="2" fill="url(#g212)"/><rect x="700" y="473" width="533" height="2" fill="url(#g213)"/><rect x="700" y="475" width="533" height="2" fill="url(#g214)"/><rect x="700" y="477" width="533" height="2" fill="url(#g215)"/><rect x="700" y="479" width="533" height="2" fill="url(#g216)"/><rect x="700" y="481" width="533" height="2" fill="url(#g217)"/><rect x="700" y="483" width="533" height="2" fill="url(#g218)"/><rect x="700" y="485" width="533" height="2" fill="url(#g219)"/><rect x="700" y="487" width="533" height="2" fill="url(#g220)"/><rect x="700" y="489" width="533" height="2" fill="url(#g221)"/><rect x="700" y="491" width="533" height="2" fill="url(#g222)"/><rect x="700" y="493" width="533" height="2" fill="url(#g223)"/><rect x="700" y="495" width="533" height="2" fill="url(#g224)"/><rect x="700" y="497" width="533" height="2" fill="url(#g225)"/><rect x="700" y="499" width="533" height="2" fill="url(#g226)"/><rect x="700" y="501" width="533" height="2" fill="url(#g227)"/><rect x="700" y="503" width="533" height="2" fill="url(#g228)"/><rect x="700" y="505" width="533" height="2" fill="url(#g229)"/><rect x="700" y="507" width="533" height="2" fill="url(#g230)"/><rect x="700" y="509" width="533" height="2" fill="url(#g231)"/><rect x="700" y="511" width="533" height="2" fill="url(#g232)"/><rect x="700" y="513" width="533" height="2" fill="url(#g233)"/><rect x="700" y="515" width="533" height="2" fill="url(#g234)"/><rect x="700" y="517" width="533" height="2" fill="url(#g235)"/><rect x="700" y="519" width="533" height="2" fill="url(#g236)"/><rect x="700" y="521" width="533" height="2" fill="url(#g237)"/><rect x="700" y="523" width="533" height="2" fill="url(#g238)"/><rect x="700" y="525" width="533" height="2" fill="url(#g239)"/><rect x="700" y="527" width="533" height="2" fill="url(#g240)"/><rect x="700" y="529" width="533" height="2" fill="url(#g241)"/><rect x="700" y="531" width="533" height="2" fill="url(#g242)"/><rect x="700" y="533" width="533" height="2" fill="url(#g243)"/><rect x="700" y="535" width="533" height="2" fill="url(#g244)"/><rect x="700" y="537" width="533" height="2" fill="url(#g245)"/><rect x="700" y="539" width="533" height="2" fill="url(#g246)"/><rect x="700" y="541" width="533" height="2" fill="url(#g247)"/><rect x="700" y="543" width="533" height="2" fill="url(#g248)"/><rect x="700" y="545" width="533" height="2" fill="url(#g249)"/><rect x="700" y="547" width="533" height="2" fill="url(#g250)"/><rect x="700" y="549" width="533" height="2" fill="url(#g251)"/><rect x="700" y="551" width="533" height="2" fill="url(#g252)"/><rect x="700" y="553" width="533" height="2" fill="url(#g253)"/><rect x="700" y="555" width="533" height="2" fill="url(#g254)"/><rect x="700" y="557" width="533" height="2" fill="url(#g255)"/><rect x="700" y="559" width="533" height="2" fill="url(#g256)"/><rect x="700" y="561" width="533" height="2" fill="url(#g257)"/><rect x="700" y="563" width="533" height="2" fill="url(#g258)"/><rect x="700" y="565" width="533" height="2" fill="url(#g259)"/><rect x="700" y="567" width="533" height="2" fill="url(#g260)"/><rect x="700" y="569" width="533" height="2" fill="url(#g261)"/><rect x="700" y="571" width="533" height="2" fill="url(#g262)"/><rect x="700" y="573" width="533" height="2" fill="url(#g263)"/><rect x="700" y="575" width="533" height="2" fill="url(#g264)"/><rect x="700" y="577" width="533" height="2" fill="url(#g265)"/><rect x="700" y="579" width="533" height="2" fill="url(#g266)"/><rect x="700" y="581" width="533" height="2" fill="url(#g267)"/></g>
<path d="M851.5 47.5V580.5M1048.5 47.5V580.5" stroke="#fff" stroke-width="1" fill="none"/>
<path d="M699.5 366.5L1232.5 366.5" stroke="#CD2626" stroke-width="1.5" stroke-dasharray="6 6" stroke-linecap="round" fill="none"/>
<path d="M952.23 580.5L952.23 47.5" stroke="#006400" stroke-width="1.5" stroke-dasharray="6 6" stroke-linecap="round" fill="none"/>
<path d="M978.57 580.5L978.57 47.5" stroke="#006400" stroke-width="1.5" stroke-dasharray="6 6" stroke-linecap="round" fill="none"/>
<rect x="699.5" y="47.5" width="533" height="533" fill="none" stroke="#000" stroke-width="0.75"/>
<path d="M750.4 580.5H1180.4M750.4 580.5v6M857.9 580.5v6M965.4 580.5v6M1072.9 580.5v6M1180.4 580.5v6" stroke="#000" stroke-width="0.75" fill="none"/>
<text transform="translate(750.4 601.7) scale(1 1.13)" font-size="10" text-anchor="middle">-400</text>
<text transform="translate(857.9 601.7) scale(1 1.13)" font-size="10" text-anchor="middle">-200</text>
<text transform="translate(965.4 601.7) scale(1 1.13)" font-size="10" text-anchor="middle">0</text>
<text transform="translate(1072.9 601.7) scale(1 1.13)" font-size="10" text-anchor="middle">200</text>
<text transform="translate(1180.4 601.7) scale(1 1.13)" font-size="10" text-anchor="middle">400</text>
<path d="M699.5 532.06V47.5M699.5 532.06h-6M699.5 451.3h-6M699.5 370.54h-6M699.5 289.78h-6M699.5 209.02h-6M699.5 128.26h-6M699.5 47.5h-6" stroke="#000" stroke-width="0.75" fill="none"/>
<text transform="translate(684.7 532.06) rotate(-90) scale(1 1.13)" font-size="10" text-anchor="middle">88</text>
<text transform="translate(684.7 451.3) rotate(-90) scale(1 1.13)" font-size="10" text-anchor="middle">90</text>
<text transform="translate(684.7 370.54) rotate(-90) scale(1 1.13)" font-size="10" text-anchor="middle">92</text>
<text transform="translate(684.7 289.78) rotate(-90) scale(1 1.13)" font-size="10" text-anchor="middle">94</text>
<text transform="translate(684.7 209.02) rotate(-90) scale(1 1.13)" font-size="10" text-anchor="middle">96</text>
<text transform="translate(684.7 128.26) rotate(-90) scale(1 1.13)" font-size="10" text-anchor="middle">98</text>
<text transform="translate(684.7 47.5) rotate(-90) scale(1 1.13)" font-size="10" text-anchor="middle">100</text>
<text x="966.3" y="31.9" font-size="21.6" font-weight="bold" text-anchor="middle">Density heat map for the top hits</text>
<text x="966.2" y="625.5" font-size="15.9" text-anchor="middle">Distance to peak summit</text>
<text transform="translate(661.8 314) rotate(-90)" font-size="15.9" text-anchor="middle">Motif score</text>
<path d="M77.8 1200.4 79.1 1200.4 80.3 1200.4 81.5 1200.4 82.8 1200.4 84 1200.4 85.3 1200.4 86.5 1200.4 87.7 1200.4 89 1200.3 90.2 1200.3 91.5 1200.3 92.7 1200.3 93.9 1200.3 95.2 1200.2 96.4 1200.2 97.7 1200.2 98.9 1200.2 100.1 1200.1 101.4 1200.1 102.6 1200 103.9 1200 105.1 1199.9 106.4 1199.9 107.6 1199.8 108.8 1199.8 110.1 1199.7 111.3 1199.7 112.6 1199.6 113.8 1199.6 115 1199.5 116.3 1199.5 117.5 1199.5 118.8 1199.4 120 1199.4 121.2 1199.4 122.5 1199.3 123.7 1199.3 125 1199.3 126.2 1199.2 127.4 1199.2 128.7 1199.2 129.9 1199.2 131.2 1199.1 132.4 1199.1 133.6 1199.1 134.9 1199.1 136.1 1199 137.4 1199 138.6 1199 139.8 1199 141.1 1198.9 142.3 1198.9 143.6 1198.9 144.8 1198.9 146 1198.8 147.3 1198.8 148.5 1198.7 149.8 1198.6 151 1198.5 152.3 1198.4 153.5 1198.3 154.7 1198.2 156 1198 157.2 1197.8 158.5 1197.6 159.7 1197.4 160.9 1197.1 162.2 1196.8 163.4 1196.5 164.7 1196.2 165.9 1195.8 167.1 1195.4 168.4 1195 169.6 1194.6 170.9 1194.2 172.1 1193.8 173.3 1193.4 174.6 1193 175.8 1192.6 177.1 1192.3 178.3 1192 179.5 1191.8 180.8 1191.6 182 1191.4 183.3 1191.3 184.5 1191.2 185.7 1191.2 187 1191.2 188.2 1191.3 189.5 1191.3 190.7 1191.4 192 1191.4 193.2 1191.5 194.4 1191.5 195.7 1191.5 196.9 1191.5 198.2 1191.4 199.4 1191.3 200.6 1191.1 201.9 1190.8 203.1 1190.4 204.4 1190 205.6 1189.4 206.8 1188.8 208.1 1188.1 209.3 1187.3 210.6 1186.5 211.8 1185.6 213 1184.6 214.3 1183.5 215.5 1182.4 216.8 1181.3 218 1180.2 219.2 1179 220.5 1177.8 221.7 1176.7 223 1175.6 224.2 1174.5 225.4 1173.4 226.7 1172.4 227.9 1171.4 229.2 1170.4 230.4 1169.5 231.6 1168.6 232.9 1167.8 234.1 1166.9 235.4 1166.1 236.6 1165.3 237.9 1164.4 239.1 1163.6 240.3 1162.8 241.6 1162 242.8 1161.1 244.1 1160.3 245.3 1159.4 246.5 1158.6 247.8 1157.7 249 1156.9 250.3 1156.1 251.5 1155.3 252.7 1154.4 254 1153.6 255.2 1152.7 256.5 1151.7 257.7 1150.6 258.9 1149.4 260.2 1148 261.4 1146.4 262.7 1144.4 263.9 1142.2 265.1 1139.5 266.4 1136.3 267.6 1132.7 268.9 1128.5 270.1 1123.7 271.3 1118.3 272.6 1112.4 273.8 1105.8 275.1 1098.8 276.3 1091.2 277.5 1083.3 278.8 1075.1 280 1066.7 281.3 1058.3 282.5 1050.1 283.8 1042 285 1034.5 286.2 1027.4 287.5 1021.1 288.7 1015.5 290 1010.9 291.2 1007.2 292.4 1004.4 293.7 1002.7 294.9 1001.9 296.2 1001.9 297.4 1002.8 298.6 1004.4 299.9 1006.5 301.1 1009.1 302.4 1011.9 303.6 1014.8 304.8 1017.6 306.1 1020.2 307.3 1022.5 308.6 1024.3 309.8 1025.4 311 1025.9 312.3 1025.5 313.5 1024.2 314.8 1022 316 1018.8 317.2 1014.7 318.5 1009.6 319.7 1003.6 321 996.7 322.2 989 323.4 980.5 324.7 971.4 325.9 961.9 327.2 951.9 328.4 941.7 329.7 931.3 330.9 921.1 332.1 911 333.4 901.2 334.6 892 335.9 883.4 337.1 875.5 338.3 868.5 339.6 862.4 340.8 857.4 342.1 853.5 343.3 850.6 344.5 848.9 345.8 848.2 347 848.5 348.3 849.8 349.5 851.8 350.7 854.6 352 857.9 353.2 861.6 354.5 865.5 355.7 869.4 356.9 873.2 358.2 876.6 359.4 879.4 360.7 881.6 361.9 882.9 363.1 883.3 364.4 882.6 365.6 880.8 366.9 877.7 368.1 873.4 369.3 867.9 370.6 861.2 371.8 853.4 373.1 844.5 374.3 834.7 375.6 824.1 376.8 812.9 378 801.2 379.3 789.3 380.5 777.4 381.8 765.7 383 754.4 384.2 743.9 385.5 734.2 386.7 725.8 388 718.8 389.2 713.3 390.4 709.7 391.7 708 392.9 708.3 394.2 710.6 395.4 715.2 396.6 721.8 397.9 730.4 399.1 740.9 400.4 753.1 401.6 766.9 402.8 781.9 404.1 798 405.3 814.8 406.6 832.1 407.8 849.5 409 866.7 410.3 883.5 411.5 899.6 412.8 914.7 414 928.6 415.3 941 416.5 951.9 417.7 961 419 968.3 420.2 973.7 421.5 977.1 422.7 978.6 423.9 978.2 425.2 976.1 426.4 972.3 427.7 966.9 428.9 960.4 430.1 952.7 431.4 944.3 432.6 935.5 433.9 926.4 435.1 917.6 436.3 909.3 437.6 901.9 438.8 895.6 440.1 890.8 441.3 887.6 442.5 886.3 443.8 887 445 889.8 446.3 894.6 447.5 901.4 448.7 910 450 920.1 451.2 931.6 452.5 944 453.7 957 454.9 970.2 456.2 983.2 457.4 995.4 458.7 1006.6 459.9 1016.3 461.2 1024.2 462.4 1029.9 463.6 1033.2 464.9 1034 466.1 1032 467.4 1027.3 468.6 1020 469.8 1010.1 471.1 998 472.3 983.8 473.6 968.1 474.8 951.3 476 933.8 477.3 916.3 478.5 899.2 479.8 883.3 481 868.9 482.2 856.7 483.5 847 484.7 840.2 486 836.5 487.2 836.1 488.4 839 489.7 845.3 490.9 854.6 492.2 866.7 493.4 881.3 494.6 898.1 495.9 916.5 497.1 936.1 498.4 956.5 499.6 977.1 500.8 997.6 502.1 1017.6 503.3 1036.7 504.6 1054.5 505.8 1071 507.1 1085.7 508.3 1098.6 509.5 1109.6 510.8 1118.6 512 1125.6 513.3 1130.4 514.5 1133.3 515.7 1134.1 517 1133 518.2 1130.2 519.5 1125.6 520.7 1119.6 521.9 1112.2 523.2 1103.8 524.4 1094.5 525.7 1084.7 526.9 1074.7 528.1 1064.7 529.4 1055.1 530.6 1046.2 531.9 1038.4 533.1 1031.9 534.3 1026.9 535.6 1023.6 536.8 1022.1 538.1 1022.6 539.3 1024.9 540.5 1029.1 541.8 1035.1 543 1042.5 544.3 1051.3 545.5 1061.1 546.7 1071.7 548 1082.7 549.2 1094.1 550.5 1105.3 551.7 1116.3 553 1126.9 554.2 1136.8 555.4 1146 556.7 1154.4 557.9 1161.9 559.2 1168.5 560.4 1174.3 561.6 1179.3 562.9 1183.5 564.1 1187 565.4 1189.9 566.6 1192.3 567.8 1194.2 569.1 1195.7 570.3 1196.9 571.6 1197.8 572.8 1198.5" fill="#F5DEB3" stroke="#000" stroke-width="1.1" stroke-linejoin="round"/>
<path d="M77.8 1200.4H572.8" stroke="#000" stroke-width="1.2"/>
<path d="M284 1220.5L284 687.5" stroke="#CD2626" stroke-width="1.5" stroke-dasharray="6 6" stroke-linecap="round" fill="none"/>
<rect x="59.5" y="687.5" width="533" height="533" fill="none" stroke="#000" stroke-width="0.75"/>
<path d="M216 1220.5H537.5M216 1220.5v6M376.75 1220.5v6M537.5 1220.5v6" stroke="#000" stroke-width="0.75" fill="none"/>
<text transform="translate(216 1241.7) scale(1 1.13)" font-size="10" text-anchor="middle">90</text>
<text transform="translate(376.75 1241.7) scale(1 1.13)" font-size="10" text-anchor="middle">95</text>
<text transform="translate(537.5 1241.7) scale(1 1.13)" font-size="10" text-anchor="middle">100</text>
<path d="M59.5 1200.4V736.5M59.5 1200.4h-6M59.5 1084.43h-6M59.5 968.45h-6M59.5 852.48h-6M59.5 736.5h-6" stroke="#000" stroke-width="0.75" fill="none"/>
<text transform="translate(44.7 1200.4) rotate(-90) scale(1 1.13)" font-size="10" text-anchor="middle">0.00</text>
<text transform="translate(44.7 1084.43) rotate(-90) scale(1 1.13)" font-size="10" text-anchor="middle">0.05</text>
<text transform="translate(44.7 968.45) rotate(-90) scale(1 1.13)" font-size="10" text-anchor="middle">0.10</text>
<text transform="translate(44.7 852.48) rotate(-90) scale(1 1.13)" font-size="10" text-anchor="middle">0.15</text>
<text transform="translate(44.7 736.5) rotate(-90) scale(1 1.13)" font-size="10" text-anchor="middle">0.20</text>
<text x="326.3" y="671.9" font-size="21.6" font-weight="bold" text-anchor="middle">Motif score threshold: 92.100</text>
<text x="326.2" y="1265.5" font-size="15.9" text-anchor="middle">Motif score</text>
<text transform="translate(21.8 954) rotate(-90)" font-size="15.9" text-anchor="middle">Density</text>
<path d="M719.3 1200.1 720.4 1200 721.6 1199.9 722.8 1199.8 724 1199.7 725.1 1199.5 726.3 1199.3 727.5 1199.1 728.7 1198.8 729.8 1198.5 731 1198.1 732.2 1197.6 733.4 1197.1 734.6 1196.5 735.7 1195.7 736.9 1194.9 738.1 1193.9 739.3 1192.8 740.4 1191.5 741.6 1190.1 742.8 1188.4 744 1186.6 745.2 1184.6 746.3 1182.3 747.5 1179.8 748.7 1177 749.9 1174 751 1170.7 752.2 1167.1 753.4 1163.3 754.6 1159.2 755.8 1154.8 756.9 1150.1 758.1 1145.1 759.3 1139.9 760.5 1134.5 761.6 1128.8 762.8 1123 764 1116.9 765.2 1110.7 766.3 1104.4 767.5 1098 768.7 1091.6 769.9 1085.1 771.1 1078.7 772.2 1072.3 773.4 1066.1 774.6 1059.9 775.8 1053.9 776.9 1048.1 778.1 1042.5 779.3 1037.2 780.5 1032.1 781.7 1027.4 782.8 1022.9 784 1018.8 785.2 1014.9 786.4 1011.4 787.5 1008.3 788.7 1005.4 789.9 1002.9 791.1 1000.6 792.2 998.6 793.4 997 794.6 995.5 795.8 994.3 797 993.3 798.1 992.5 799.3 991.9 800.5 991.4 801.7 991.1 802.8 990.9 804 990.7 805.2 990.7 806.4 990.7 807.6 990.8 808.7 990.9 809.9 991 811.1 991.2 812.3 991.3 813.4 991.5 814.6 991.7 815.8 991.9 817 992.1 818.1 992.3 819.3 992.5 820.5 992.7 821.7 992.8 822.9 993 824 993.1 825.2 993.3 826.4 993.4 827.6 993.5 828.7 993.5 829.9 993.6 831.1 993.6 832.3 993.5 833.5 993.5 834.6 993.4 835.8 993.3 837 993.1 838.2 993 839.3 992.8 840.5 992.6 841.7 992.3 842.9 992.1 844 991.8 845.2 991.6 846.4 991.3 847.6 991.1 848.8 990.9 849.9 990.8 851.1 990.7 852.3 990.6 853.5 990.6 854.6 990.6 855.8 990.7 857 990.9 858.2 991.1 859.4 991.3 860.5 991.6 861.7 991.9 862.9 992.3 864.1 992.7 865.2 993.2 866.4 993.6 867.6 994 868.8 994.4 869.9 994.8 871.1 995.1 872.3 995.4 873.5 995.6 874.7 995.7 875.8 995.7 877 995.7 878.2 995.5 879.4 995.2 880.5 994.8 881.7 994.3 882.9 993.7 884.1 993 885.3 992.1 886.4 991.1 887.6 990 888.8 988.8 890 987.5 891.1 986.2 892.3 984.7 893.5 983.2 894.7 981.7 895.9 980 897 978.4 898.2 976.8 899.4 975.1 900.6 973.4 901.7 971.8 902.9 970.2 904.1 968.6 905.3 967 906.4 965.5 907.6 964.1 908.8 962.7 910 961.3 911.2 960 912.3 958.8 913.5 957.6 914.7 956.5 915.9 955.4 917 954.3 918.2 953.2 919.4 952.2 920.6 951.2 921.8 950.1 922.9 949 924.1 947.9 925.3 946.7 926.5 945.4 927.6 944 928.8 942.5 930 940.8 931.2 938.9 932.3 936.8 933.5 934.5 934.7 932 935.9 929.2 937.1 926.1 938.2 922.8 939.4 919.1 940.6 915.1 941.8 910.8 942.9 906.1 944.1 901 945.3 895.6 946.5 889.9 947.7 883.8 948.8 877.4 950 870.7 951.2 863.6 952.4 856.3 953.5 848.7 954.7 840.9 955.9 832.9 957.1 824.8 958.2 816.6 959.4 808.3 960.6 799.9 961.8 791.6 963 783.4 964.1 775.4 965.3 767.5 966.5 759.9 967.7 752.6 968.8 745.7 970 739.2 971.2 733.1 972.4 727.6 973.6 722.6 974.7 718.2 975.9 714.5 977.1 711.5 978.3 709.1 979.4 707.5 980.6 706.7 981.8 706.6 983 707.2 984.1 708.7 985.3 710.9 986.5 713.8 987.7 717.4 988.9 721.8 990 726.8 991.2 732.5 992.4 738.8 993.6 745.6 994.7 753 995.9 760.8 997.1 769 998.3 777.6 999.5 786.5 1000.6 795.7 1001.8 805 1003 814.5 1004.2 824.1 1005.3 833.7 1006.5 843.3 1007.7 852.9 1008.9 862.4 1010 871.7 1011.2 880.8 1012.4 889.8 1013.6 898.4 1014.8 906.8 1015.9 914.9 1017.1 922.7 1018.3 930.2 1019.5 937.3 1020.6 944 1021.8 950.4 1023 956.4 1024.2 962.1 1025.4 967.4 1026.5 972.3 1027.7 976.8 1028.9 981 1030.1 984.9 1031.2 988.4 1032.4 991.6 1033.6 994.6 1034.8 997.2 1036 999.5 1037.1 1001.6 1038.3 1003.4 1039.5 1005 1040.7 1006.4 1041.8 1007.6 1043 1008.6 1044.2 1009.4 1045.4 1010.1 1046.5 1010.6 1047.7 1011 1048.9 1011.2 1050.1 1011.4 1051.3 1011.4 1052.4 1011.4 1053.6 1011.2 1054.8 1011.1 1056 1010.8 1057.1 1010.5 1058.3 1010.1 1059.5 1009.8 1060.7 1009.4 1061.9 1008.9 1063 1008.5 1064.2 1008.1 1065.4 1007.6 1066.6 1007.2 1067.7 1006.8 1068.9 1006.4 1070.1 1006 1071.3 1005.6 1072.4 1005.2 1073.6 1004.9 1074.8 1004.6 1076 1004.3 1077.2 1004.1 1078.3 1003.9 1079.5 1003.7 1080.7 1003.6 1081.9 1003.4 1083 1003.3 1084.2 1003.3 1085.4 1003.2 1086.6 1003.2 1087.8 1003.1 1088.9 1003.1 1090.1 1003.1 1091.3 1003.1 1092.5 1003.2 1093.6 1003.2 1094.8 1003.2 1096 1003.2 1097.2 1003.2 1098.3 1003.2 1099.5 1003.2 1100.7 1003.2 1101.9 1003.2 1103.1 1003.2 1104.2 1003.1 1105.4 1003.1 1106.6 1003 1107.8 1002.9 1108.9 1002.8 1110.1 1002.7 1111.3 1002.6 1112.5 1002.5 1113.7 1002.4 1114.8 1002.2 1116 1002.1 1117.2 1002 1118.4 1001.9 1119.5 1001.7 1120.7 1001.6 1121.9 1001.6 1123.1 1001.5 1124.2 1001.5 1125.4 1001.5 1126.6 1001.6 1127.8 1001.7 1129 1002 1130.1 1002.2 1131.3 1002.6 1132.5 1003.1 1133.7 1003.7 1134.8 1004.5 1136 1005.4 1137.2 1006.5 1138.4 1007.7 1139.6 1009.2 1140.7 1010.8 1141.9 1012.7 1143.1 1014.8 1144.3 1017.2 1145.4 1019.8 1146.6 1022.7 1147.8 1025.9 1149 1029.4 1150.1 1033.1 1151.3 1037.1 1152.5 1041.4 1153.7 1046 1154.9 1050.8 1156 1055.8 1157.2 1061.1 1158.4 1066.5 1159.6 1072.1 1160.7 1077.9 1161.9 1083.8 1163.1 1089.7 1164.3 1095.7 1165.5 1101.7 1166.6 1107.7 1167.8 1113.7 1169 1119.5 1170.2 1125.3 1171.3 1130.9 1172.5 1136.3 1173.7 1141.6 1174.9 1146.6 1176.1 1151.4 1177.2 1156 1178.4 1160.3 1179.6 1164.3 1180.8 1168.1 1181.9 1171.6 1183.1 1174.9 1184.3 1177.8 1185.5 1180.5 1186.6 1183 1187.8 1185.2 1189 1187.2 1190.2 1189 1191.4 1190.6 1192.5 1192 1193.7 1193.3 1194.9 1194.4 1196.1 1195.3 1197.2 1196.1 1198.4 1196.8 1199.6 1197.4 1200.8 1197.9 1202 1198.4 1203.1 1198.7 1204.3 1199 1205.5 1199.3 1206.7 1199.5 1207.8 1199.7 1209 1199.8 1210.2 1199.9 1211.4 1200 1212.5 1200.1" fill="#F5DEB3" stroke="#000" stroke-width="1.1" stroke-linejoin="round"/>
<path d="M719.3 1200.4H1212.5" stroke="#000" stroke-width="1.2"/>
<path d="M955.69 1220.5L955.69 687.5" stroke="#006400" stroke-width="1.5" stroke-dasharray="6 6" stroke-linecap="round" fill="none"/>
<path d="M975.31 1220.5L975.31 687.5" stroke="#006400" stroke-width="1.5" stroke-dasharray="6 6" stroke-linecap="round" fill="none"/>
<rect x="699.5" y="687.5" width="533" height="533" fill="none" stroke="#000" stroke-width="0.75"/>
<path d="M725.26 1220.5H1205.74M725.26 1220.5v6M805.34 1220.5v6M885.42 1220.5v6M965.5 1220.5v6M1045.58 1220.5v6M1125.66 1220.5v6M1205.74 1220.5v6" stroke="#000" stroke-width="0.75" fill="none"/>
<text transform="translate(725.26 1241.7) scale(1 1.13)" font-size="10" text-anchor="middle">-600</text>
<text transform="translate(805.34 1241.7) scale(1 1.13)" font-size="10" text-anchor="middle">-400</text>
<text transform="translate(885.42 1241.7) scale(1 1.13)" font-size="10" text-anchor="middle">-200</text>
<text transform="translate(965.5 1241.7) scale(1 1.13)" font-size="10" text-anchor="middle">0</text>
<text transform="translate(1045.58 1241.7) scale(1 1.13)" font-size="10" text-anchor="middle">200</text>
<text transform="translate(1125.66 1241.7) scale(1 1.13)" font-size="10" text-anchor="middle">400</text>
<text transform="translate(1205.74 1241.7) scale(1 1.13)" font-size="10" text-anchor="middle">600</text>
<path d="M699.5 1200.4V708.6M699.5 1200.4h-6M699.5 1077.45h-6M699.5 954.5h-6M699.5 831.55h-6M699.5 708.6h-6" stroke="#000" stroke-width="0.75" fill="none"/>
<text transform="translate(684.7 1200.4) rotate(-90) scale(1 1.13)" font-size="10" text-anchor="middle">0.0000</text>
<text transform="translate(684.7 1077.45) rotate(-90) scale(1 1.13)" font-size="10" text-anchor="middle">0.0005</text>
<text transform="translate(684.7 954.5) rotate(-90) scale(1 1.13)" font-size="10" text-anchor="middle">0.0010</text>
<text transform="translate(684.7 831.55) rotate(-90) scale(1 1.13)" font-size="10" text-anchor="middle">0.0015</text>
<text transform="translate(684.7 708.6) rotate(-90) scale(1 1.13)" font-size="10" text-anchor="middle">0.0020</text>
<text x="966.3" y="671.9" font-size="21.6" font-weight="bold" text-anchor="middle">Enrichment zone: 24.50</text>
<text x="966.2" y="1265.5" font-size="15.9" text-anchor="middle">Distance to peak summit</text>
<text transform="translate(661.8 954) rotate(-90)" font-size="15.9" text-anchor="middle">Density</text>
<path d="M1017 703.4H1041" stroke="#006400" stroke-width="1.3" stroke-dasharray="1.3 3.2" fill="none"/>
<path d="M1017 719.1H1041" stroke="#CD2626" stroke-width="1.3" stroke-dasharray="1.3 3.2" fill="none"/>
<circle cx="1028.6" cy="734.7" r="2.9" fill="#00f"/>
<text x="1052.5" y="707.5" font-size="12.9">enrichment zone = 24.5</text>
<text x="1052.5" y="723.4" font-size="12.9">motif score threshold = 92.100</text>
<text x="1052.5" y="738.8" font-size="12.9">centrality p-val = 0.0000</text></svg></body></html>
